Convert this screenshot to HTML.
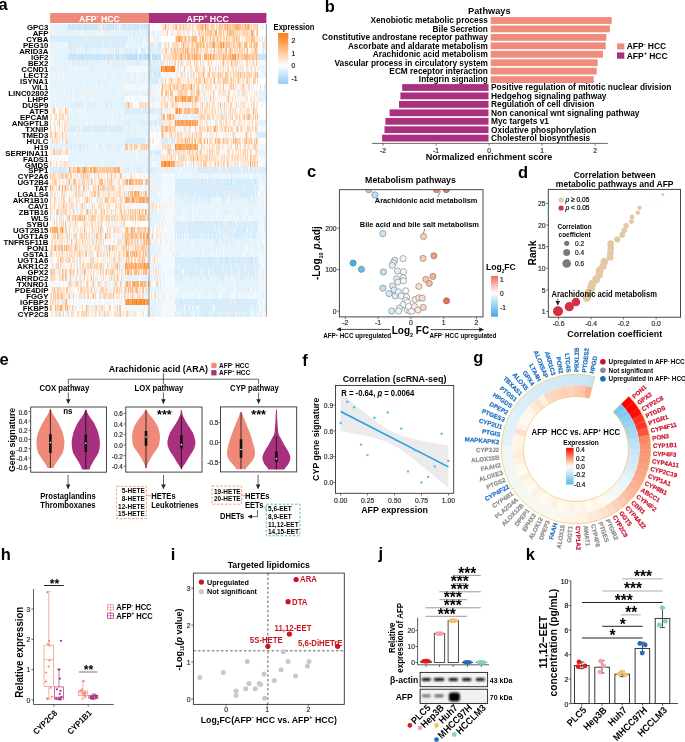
<!DOCTYPE html>
<html><head><meta charset="utf-8"><style>
html,body{margin:0;padding:0;background:#fff;}
svg{display:block;will-change:transform;opacity:0.999;font-family:"Liberation Sans",sans-serif;font-weight:bold;}
</style></head><body>
<svg width="685" height="742" viewBox="0 0 685 742">
<text x="-1.4" y="9.8" font-size="16.5" >a</text>
<rect x="50.1" y="13.0" width="98.9" height="10.0" fill="#ef8a7a" />
<rect x="149.0" y="13.0" width="117.4" height="10.0" fill="#a8307f" />
<text transform="translate(99.5,21.6) scale(1,1.08)" font-size="8.8" text-anchor="middle" fill="#fff" >AFP<tspan font-size="5.5" dy="-3.3">-</tspan><tspan dy="3.3"> </tspan>HCC</text>
<text transform="translate(207.7,21.6) scale(1,1.08)" font-size="8.8" text-anchor="middle" fill="#fff" >AFP<tspan font-size="5.5" dy="-3.3">+</tspan><tspan dy="3.3"> </tspan>HCC</text>
<text x="48.4" y="30.1" font-size="7.85" text-anchor="end" >GPC3</text>
<text x="48.4" y="36.1" font-size="7.85" text-anchor="end" >AFP</text>
<text x="48.4" y="42.0" font-size="7.85" text-anchor="end" >CYBA</text>
<text x="48.4" y="48.0" font-size="7.85" text-anchor="end" >PEG10</text>
<text x="48.4" y="54.0" font-size="7.85" text-anchor="end" >ARID3A</text>
<text x="48.4" y="60.0" font-size="7.85" text-anchor="end" >IGF2</text>
<text x="48.4" y="65.9" font-size="7.85" text-anchor="end" >BEX2</text>
<text x="48.4" y="71.9" font-size="7.85" text-anchor="end" >CCND1</text>
<text x="48.4" y="77.9" font-size="7.85" text-anchor="end" >LECT2</text>
<text x="48.4" y="83.8" font-size="7.85" text-anchor="end" >ISYNA1</text>
<text x="48.4" y="89.8" font-size="7.85" text-anchor="end" >VIL1</text>
<text x="48.4" y="95.8" font-size="7.85" text-anchor="end" >LINC02802</text>
<text x="48.4" y="101.8" font-size="7.85" text-anchor="end" >LHPP</text>
<text x="48.4" y="107.7" font-size="7.85" text-anchor="end" >DUSP9</text>
<text x="48.4" y="113.7" font-size="7.85" text-anchor="end" >ATF5</text>
<text x="48.4" y="119.7" font-size="7.85" text-anchor="end" >EPCAM</text>
<text x="48.4" y="125.7" font-size="7.85" text-anchor="end" >ANGPTL8</text>
<text x="48.4" y="131.6" font-size="7.85" text-anchor="end" >TXNIP</text>
<text x="48.4" y="137.6" font-size="7.85" text-anchor="end" >TMED3</text>
<text x="48.4" y="143.6" font-size="7.85" text-anchor="end" >HULC</text>
<text x="48.4" y="149.6" font-size="7.85" text-anchor="end" >H19</text>
<text x="48.4" y="155.5" font-size="7.85" text-anchor="end" >SERPINA11</text>
<text x="48.4" y="161.5" font-size="7.85" text-anchor="end" >FADS1</text>
<text x="48.4" y="167.5" font-size="7.85" text-anchor="end" >GMDS</text>
<text x="48.4" y="173.4" font-size="7.85" text-anchor="end" >SPP1</text>
<text x="48.4" y="179.4" font-size="7.85" text-anchor="end" >CYP2A6</text>
<text x="48.4" y="185.4" font-size="7.85" text-anchor="end" >UGT2B4</text>
<text x="48.4" y="191.4" font-size="7.85" text-anchor="end" >TAT</text>
<text x="48.4" y="197.3" font-size="7.85" text-anchor="end" >LGALS4</text>
<text x="48.4" y="203.3" font-size="7.85" text-anchor="end" >AKR1B10</text>
<text x="48.4" y="209.3" font-size="7.85" text-anchor="end" >CAV1</text>
<text x="48.4" y="215.3" font-size="7.85" text-anchor="end" >ZBTB16</text>
<text x="48.4" y="221.2" font-size="7.85" text-anchor="end" >WLS</text>
<text x="48.4" y="227.2" font-size="7.85" text-anchor="end" >SYBU</text>
<text x="48.4" y="233.2" font-size="7.85" text-anchor="end" >UGT2B15</text>
<text x="48.4" y="239.2" font-size="7.85" text-anchor="end" >UGT1A9</text>
<text x="48.4" y="245.1" font-size="7.85" text-anchor="end" >TNFRSF11B</text>
<text x="48.4" y="251.1" font-size="7.85" text-anchor="end" >PON1</text>
<text x="48.4" y="257.1" font-size="7.85" text-anchor="end" >GSTA1</text>
<text x="48.4" y="263.1" font-size="7.85" text-anchor="end" >UGT1A6</text>
<text x="48.4" y="269.0" font-size="7.85" text-anchor="end" >AKR1C2</text>
<text x="48.4" y="275.0" font-size="7.85" text-anchor="end" >GPX2</text>
<text x="48.4" y="281.0" font-size="7.85" text-anchor="end" >ARRDC2</text>
<text x="48.4" y="286.9" font-size="7.85" text-anchor="end" >TXNRD1</text>
<text x="48.4" y="292.9" font-size="7.85" text-anchor="end" >PDE4DIP</text>
<text x="48.4" y="298.9" font-size="7.85" text-anchor="end" >FGGY</text>
<text x="48.4" y="304.9" font-size="7.85" text-anchor="end" >IGFBP2</text>
<text x="48.4" y="310.8" font-size="7.85" text-anchor="end" >FKBP5</text>
<text x="48.4" y="316.8" font-size="7.85" text-anchor="end" >CYP2C8</text>
<g shape-rendering="crispEdges">
<path fill="#e4f3fc" d="M50.1 24.0h18.0v6.0h-18.0zM117.2 24.0h1.0v6.0h-1.0zM121.2 24.0h1.0v6.0h-1.0zM167.3 24.0h1.0v6.0h-1.0zM172.3 24.0h1.0v6.0h-1.0zM187.3 24.0h1.0v6.0h-1.0zM54.1 30.0h6.0v6.0h-6.0zM61.1 30.0h4.0v6.0h-4.0zM67.1 30.0h9.0v6.0h-9.0zM77.1 30.0h4.0v6.0h-4.0zM82.1 30.0h14.0v6.0h-14.0zM98.2 30.0h4.0v6.0h-4.0zM103.2 30.0h2.0v6.0h-2.0zM106.2 30.0h24.0v6.0h-24.0zM131.2 30.0h2.0v6.0h-2.0zM135.2 30.0h2.0v6.0h-2.0zM138.2 30.0h1.0v6.0h-1.0zM140.2 30.0h2.0v6.0h-2.0zM143.2 30.0h3.0v6.0h-3.0zM148.2 30.0h2.0v6.0h-2.0zM152.2 30.0h3.0v6.0h-3.0zM157.2 30.0h2.0v6.0h-2.0zM160.3 30.0h1.0v6.0h-1.0zM196.3 30.0h1.0v6.0h-1.0zM72.1 35.9h1.0v6.0h-1.0zM116.2 35.9h1.0v6.0h-1.0zM127.2 35.9h7.0v6.0h-7.0zM135.2 35.9h1.0v6.0h-1.0zM137.2 35.9h4.0v6.0h-4.0zM142.2 35.9h2.0v6.0h-2.0zM146.2 35.9h1.0v6.0h-1.0zM156.2 35.9h1.0v6.0h-1.0zM261.4 35.9h1.0v6.0h-1.0zM50.1 41.9h7.0v6.0h-7.0zM58.1 41.9h1.0v6.0h-1.0zM60.1 41.9h2.0v6.0h-2.0zM63.1 41.9h2.0v6.0h-2.0zM66.1 41.9h1.0v6.0h-1.0zM83.1 41.9h1.0v6.0h-1.0zM90.2 41.9h1.0v6.0h-1.0zM125.2 41.9h2.0v6.0h-2.0zM128.2 41.9h15.0v6.0h-15.0zM144.2 41.9h5.0v6.0h-5.0zM171.3 41.9h1.0v6.0h-1.0zM51.1 47.9h2.0v6.0h-2.0zM54.1 47.9h15.0v6.0h-15.0zM72.1 47.9h1.0v6.0h-1.0zM75.1 47.9h1.0v6.0h-1.0zM78.1 47.9h7.0v6.0h-7.0zM87.2 47.9h2.0v6.0h-2.0zM90.2 47.9h7.0v6.0h-7.0zM98.2 47.9h12.0v6.0h-12.0zM111.2 47.9h2.0v6.0h-2.0zM117.2 47.9h1.0v6.0h-1.0zM119.2 47.9h6.0v6.0h-6.0zM128.2 47.9h2.0v6.0h-2.0zM131.2 47.9h1.0v6.0h-1.0zM133.2 47.9h2.0v6.0h-2.0zM140.2 47.9h1.0v6.0h-1.0zM145.2 47.9h5.0v6.0h-5.0zM153.2 47.9h1.0v6.0h-1.0zM160.3 47.9h2.0v6.0h-2.0zM168.3 47.9h1.0v6.0h-1.0zM50.1 53.9h1.0v6.0h-1.0zM52.1 53.9h16.0v6.0h-16.0zM142.2 53.9h1.0v6.0h-1.0zM50.1 59.8h1.0v6.0h-1.0zM52.1 59.8h1.0v6.0h-1.0zM54.1 59.8h18.0v6.0h-18.0zM73.1 59.8h1.0v6.0h-1.0zM76.1 59.8h1.0v6.0h-1.0zM84.1 59.8h2.0v6.0h-2.0zM88.2 59.8h2.0v6.0h-2.0zM92.2 59.8h1.0v6.0h-1.0zM94.2 59.8h2.0v6.0h-2.0zM97.2 59.8h10.0v6.0h-10.0zM109.2 59.8h3.0v6.0h-3.0zM113.2 59.8h1.0v6.0h-1.0zM115.2 59.8h1.0v6.0h-1.0zM117.2 59.8h1.0v6.0h-1.0zM119.2 59.8h3.0v6.0h-3.0zM123.2 59.8h5.0v6.0h-5.0zM129.2 59.8h3.0v6.0h-3.0zM133.2 59.8h2.0v6.0h-2.0zM139.2 59.8h9.0v6.0h-9.0zM152.2 59.8h1.0v6.0h-1.0zM155.2 59.8h1.0v6.0h-1.0zM170.3 59.8h1.0v6.0h-1.0zM252.4 59.8h1.0v6.0h-1.0zM50.1 65.8h11.0v6.0h-11.0zM62.1 65.8h8.0v6.0h-8.0zM71.1 65.8h3.0v6.0h-3.0zM75.1 65.8h8.0v6.0h-8.0zM84.1 65.8h2.0v6.0h-2.0zM87.2 65.8h4.0v6.0h-4.0zM92.2 65.8h34.0v6.0h-34.0zM231.4 65.8h1.0v6.0h-1.0zM239.4 65.8h1.0v6.0h-1.0zM250.4 65.8h1.0v6.0h-1.0zM258.4 65.8h1.0v6.0h-1.0zM261.4 65.8h4.0v6.0h-4.0zM50.1 71.8h2.0v6.0h-2.0zM53.1 71.8h1.0v6.0h-1.0zM55.1 71.8h4.0v6.0h-4.0zM60.1 71.8h2.0v6.0h-2.0zM64.1 71.8h33.0v6.0h-33.0zM99.2 71.8h5.0v6.0h-5.0zM105.2 71.8h8.0v6.0h-8.0zM114.2 71.8h8.0v6.0h-8.0zM123.2 71.8h1.0v6.0h-1.0zM125.2 71.8h7.0v6.0h-7.0zM133.2 71.8h2.0v6.0h-2.0zM137.2 71.8h2.0v6.0h-2.0zM140.2 71.8h6.0v6.0h-6.0zM148.2 71.8h1.0v6.0h-1.0zM180.3 71.8h1.0v6.0h-1.0zM188.3 71.8h1.0v6.0h-1.0zM192.3 71.8h1.0v6.0h-1.0zM258.4 71.8h2.0v6.0h-2.0zM262.4 71.8h1.0v6.0h-1.0zM264.4 71.8h2.0v6.0h-2.0zM50.1 77.8h6.0v6.0h-6.0zM57.1 77.8h11.0v6.0h-11.0zM69.1 77.8h2.0v6.0h-2.0zM72.1 77.8h21.0v6.0h-21.0zM94.2 77.8h5.0v6.0h-5.0zM100.2 77.8h24.0v6.0h-24.0zM125.2 77.8h2.0v6.0h-2.0zM129.2 77.8h8.0v6.0h-8.0zM138.2 77.8h8.0v6.0h-8.0zM147.2 77.8h2.0v6.0h-2.0zM160.3 77.8h1.0v6.0h-1.0zM189.3 77.8h1.0v6.0h-1.0zM50.1 83.7h9.0v6.0h-9.0zM60.1 83.7h1.0v6.0h-1.0zM62.1 83.7h22.0v6.0h-22.0zM86.2 83.7h10.0v6.0h-10.0zM97.2 83.7h3.0v6.0h-3.0zM102.2 83.7h7.0v6.0h-7.0zM111.2 83.7h14.0v6.0h-14.0zM137.2 83.7h1.0v6.0h-1.0zM146.2 83.7h1.0v6.0h-1.0zM150.2 83.7h2.0v6.0h-2.0zM153.2 83.7h2.0v6.0h-2.0zM156.2 83.7h1.0v6.0h-1.0zM159.3 83.7h1.0v6.0h-1.0zM205.3 83.7h1.0v6.0h-1.0zM214.3 83.7h1.0v6.0h-1.0zM236.4 83.7h1.0v6.0h-1.0zM240.4 83.7h1.0v6.0h-1.0zM265.4 83.7h1.0v6.0h-1.0zM50.1 89.7h3.0v6.0h-3.0zM54.1 89.7h10.0v6.0h-10.0zM65.1 89.7h3.0v6.0h-3.0zM69.1 89.7h3.0v6.0h-3.0zM73.1 89.7h14.0v6.0h-14.0zM88.2 89.7h3.0v6.0h-3.0zM92.2 89.7h1.0v6.0h-1.0zM95.2 89.7h23.0v6.0h-23.0zM119.2 89.7h5.0v6.0h-5.0zM125.2 89.7h5.0v6.0h-5.0zM131.2 89.7h3.0v6.0h-3.0zM135.2 89.7h5.0v6.0h-5.0zM141.2 89.7h6.0v6.0h-6.0zM148.2 89.7h1.0v6.0h-1.0zM200.3 89.7h1.0v6.0h-1.0zM258.4 89.7h7.0v6.0h-7.0zM50.1 95.7h3.0v6.0h-3.0zM55.1 95.7h12.0v6.0h-12.0zM68.1 95.7h4.0v6.0h-4.0zM73.1 95.7h2.0v6.0h-2.0zM76.1 95.7h5.0v6.0h-5.0zM82.1 95.7h1.0v6.0h-1.0zM84.1 95.7h6.0v6.0h-6.0zM92.2 95.7h33.0v6.0h-33.0zM149.2 95.7h1.0v6.0h-1.0zM151.2 95.7h3.0v6.0h-3.0zM155.2 95.7h1.0v6.0h-1.0zM158.2 95.7h2.0v6.0h-2.0zM206.3 95.7h2.0v6.0h-2.0zM214.3 95.7h1.0v6.0h-1.0zM237.4 95.7h1.0v6.0h-1.0zM253.4 95.7h1.0v6.0h-1.0zM259.4 95.7h7.0v6.0h-7.0zM50.1 101.7h5.0v6.0h-5.0zM56.1 101.7h4.0v6.0h-4.0zM61.1 101.7h10.0v6.0h-10.0zM72.1 101.7h1.0v6.0h-1.0zM74.1 101.7h1.0v6.0h-1.0zM76.1 101.7h1.0v6.0h-1.0zM81.1 101.7h1.0v6.0h-1.0zM83.1 101.7h3.0v6.0h-3.0zM89.2 101.7h1.0v6.0h-1.0zM92.2 101.7h2.0v6.0h-2.0zM96.2 101.7h9.0v6.0h-9.0zM108.2 101.7h3.0v6.0h-3.0zM112.2 101.7h6.0v6.0h-6.0zM119.2 101.7h1.0v6.0h-1.0zM121.2 101.7h2.0v6.0h-2.0zM124.2 101.7h1.0v6.0h-1.0zM132.2 101.7h1.0v6.0h-1.0zM186.3 101.7h1.0v6.0h-1.0zM196.3 101.7h1.0v6.0h-1.0zM248.4 101.7h1.0v6.0h-1.0zM68.1 107.6h1.0v6.0h-1.0zM70.1 107.6h1.0v6.0h-1.0zM72.1 107.6h4.0v6.0h-4.0zM77.1 107.6h2.0v6.0h-2.0zM81.1 107.6h3.0v6.0h-3.0zM85.1 107.6h20.0v6.0h-20.0zM107.2 107.6h14.0v6.0h-14.0zM122.2 107.6h3.0v6.0h-3.0zM141.2 107.6h1.0v6.0h-1.0zM154.2 107.6h1.0v6.0h-1.0zM159.3 107.6h1.0v6.0h-1.0zM163.3 107.6h1.0v6.0h-1.0zM165.3 107.6h3.0v6.0h-3.0zM68.1 113.6h9.0v6.0h-9.0zM79.1 113.6h2.0v6.0h-2.0zM82.1 113.6h1.0v6.0h-1.0zM84.1 113.6h3.0v6.0h-3.0zM88.2 113.6h21.0v6.0h-21.0zM110.2 113.6h2.0v6.0h-2.0zM113.2 113.6h3.0v6.0h-3.0zM117.2 113.6h5.0v6.0h-5.0zM123.2 113.6h26.0v6.0h-26.0zM152.2 113.6h1.0v6.0h-1.0zM155.2 113.6h1.0v6.0h-1.0zM157.2 113.6h4.0v6.0h-4.0zM175.3 113.6h6.0v6.0h-6.0zM182.3 113.6h7.0v6.0h-7.0zM191.3 113.6h7.0v6.0h-7.0zM245.4 113.6h1.0v6.0h-1.0zM252.4 113.6h1.0v6.0h-1.0zM57.1 119.6h2.0v6.0h-2.0zM69.1 119.6h18.0v6.0h-18.0zM88.2 119.6h4.0v6.0h-4.0zM93.2 119.6h13.0v6.0h-13.0zM108.2 119.6h3.0v6.0h-3.0zM112.2 119.6h1.0v6.0h-1.0zM114.2 119.6h11.0v6.0h-11.0zM126.2 119.6h2.0v6.0h-2.0zM129.2 119.6h11.0v6.0h-11.0zM142.2 119.6h1.0v6.0h-1.0zM145.2 119.6h2.0v6.0h-2.0zM148.2 119.6h1.0v6.0h-1.0zM152.2 119.6h2.0v6.0h-2.0zM157.2 119.6h2.0v6.0h-2.0zM166.3 119.6h1.0v6.0h-1.0zM207.3 119.6h1.0v6.0h-1.0zM210.3 119.6h1.0v6.0h-1.0zM237.4 119.6h1.0v6.0h-1.0zM258.4 119.6h8.0v6.0h-8.0zM69.1 125.5h1.0v6.0h-1.0zM92.2 125.5h1.0v6.0h-1.0zM107.2 125.5h1.0v6.0h-1.0zM123.2 125.5h1.0v6.0h-1.0zM125.2 125.5h3.0v6.0h-3.0zM129.2 125.5h6.0v6.0h-6.0zM136.2 125.5h13.0v6.0h-13.0zM151.2 125.5h2.0v6.0h-2.0zM155.2 125.5h1.0v6.0h-1.0zM158.2 125.5h1.0v6.0h-1.0zM188.3 125.5h1.0v6.0h-1.0zM68.1 131.5h6.0v6.0h-6.0zM75.1 131.5h3.0v6.0h-3.0zM79.1 131.5h1.0v6.0h-1.0zM81.1 131.5h5.0v6.0h-5.0zM87.2 131.5h3.0v6.0h-3.0zM91.2 131.5h7.0v6.0h-7.0zM99.2 131.5h10.0v6.0h-10.0zM110.2 131.5h6.0v6.0h-6.0zM117.2 131.5h6.0v6.0h-6.0zM124.2 131.5h5.0v6.0h-5.0zM130.2 131.5h7.0v6.0h-7.0zM138.2 131.5h7.0v6.0h-7.0zM146.2 131.5h3.0v6.0h-3.0zM195.3 131.5h1.0v6.0h-1.0zM223.3 131.5h1.0v6.0h-1.0zM235.4 131.5h1.0v6.0h-1.0zM237.4 131.5h1.0v6.0h-1.0zM257.4 131.5h1.0v6.0h-1.0zM55.1 137.5h1.0v6.0h-1.0zM68.1 137.5h57.1v6.0h-57.1zM149.2 137.5h1.0v6.0h-1.0zM152.2 137.5h1.0v6.0h-1.0zM50.1 143.5h11.0v6.0h-11.0zM62.1 143.5h2.0v6.0h-2.0zM69.1 143.5h2.0v6.0h-2.0zM72.1 143.5h2.0v6.0h-2.0zM76.1 143.5h2.0v6.0h-2.0zM82.1 143.5h1.0v6.0h-1.0zM84.1 143.5h3.0v6.0h-3.0zM88.2 143.5h8.0v6.0h-8.0zM97.2 143.5h2.0v6.0h-2.0zM100.2 143.5h1.0v6.0h-1.0zM102.2 143.5h4.0v6.0h-4.0zM107.2 143.5h1.0v6.0h-1.0zM109.2 143.5h1.0v6.0h-1.0zM111.2 143.5h5.0v6.0h-5.0zM117.2 143.5h1.0v6.0h-1.0zM119.2 143.5h2.0v6.0h-2.0zM123.2 143.5h2.0v6.0h-2.0zM227.3 143.5h1.0v6.0h-1.0zM252.4 143.5h1.0v6.0h-1.0zM69.1 149.4h11.0v6.0h-11.0zM81.1 149.4h8.0v6.0h-8.0zM90.2 149.4h6.0v6.0h-6.0zM97.2 149.4h7.0v6.0h-7.0zM105.2 149.4h16.0v6.0h-16.0zM122.2 149.4h11.0v6.0h-11.0zM134.2 149.4h2.0v6.0h-2.0zM138.2 149.4h9.0v6.0h-9.0zM152.2 149.4h2.0v6.0h-2.0zM162.3 149.4h1.0v6.0h-1.0zM170.3 149.4h1.0v6.0h-1.0zM194.3 149.4h1.0v6.0h-1.0zM258.4 149.4h8.0v6.0h-8.0zM68.1 155.4h33.0v6.0h-33.0zM102.2 155.4h15.0v6.0h-15.0zM118.2 155.4h11.0v6.0h-11.0zM130.2 155.4h6.0v6.0h-6.0zM137.2 155.4h1.0v6.0h-1.0zM139.2 155.4h2.0v6.0h-2.0zM142.2 155.4h19.0v6.0h-19.0zM68.1 161.4h4.0v6.0h-4.0zM73.1 161.4h2.0v6.0h-2.0zM76.1 161.4h2.0v6.0h-2.0zM79.1 161.4h3.0v6.0h-3.0zM83.1 161.4h20.0v6.0h-20.0zM104.2 161.4h2.0v6.0h-2.0zM107.2 161.4h13.0v6.0h-13.0zM121.2 161.4h11.0v6.0h-11.0zM133.2 161.4h19.0v6.0h-19.0zM156.2 161.4h1.0v6.0h-1.0zM158.2 161.4h2.0v6.0h-2.0zM186.3 161.4h1.0v6.0h-1.0zM190.3 161.4h1.0v6.0h-1.0zM196.3 161.4h1.0v6.0h-1.0zM199.3 161.4h1.0v6.0h-1.0zM229.3 161.4h1.0v6.0h-1.0zM236.4 161.4h1.0v6.0h-1.0zM241.4 161.4h1.0v6.0h-1.0zM67.1 167.4h1.0v6.0h-1.0zM120.2 167.4h5.0v6.0h-5.0zM129.2 167.4h3.0v6.0h-3.0zM133.2 167.4h4.0v6.0h-4.0zM141.2 167.4h6.0v6.0h-6.0zM148.2 167.4h1.0v6.0h-1.0zM154.2 167.4h1.0v6.0h-1.0zM157.2 167.4h3.0v6.0h-3.0zM161.3 167.4h6.0v6.0h-6.0zM168.3 167.4h3.0v6.0h-3.0zM172.3 167.4h8.0v6.0h-8.0zM181.3 167.4h17.0v6.0h-17.0zM210.3 167.4h1.0v6.0h-1.0zM218.3 167.4h1.0v6.0h-1.0zM225.3 167.4h1.0v6.0h-1.0zM227.3 167.4h1.0v6.0h-1.0zM253.4 167.4h1.0v6.0h-1.0zM256.4 167.4h1.0v6.0h-1.0zM259.4 167.4h1.0v6.0h-1.0zM82.1 173.3h1.0v6.0h-1.0zM91.2 173.3h1.0v6.0h-1.0zM119.2 173.3h1.0v6.0h-1.0zM124.2 173.3h1.0v6.0h-1.0zM130.2 173.3h1.0v6.0h-1.0zM149.2 173.3h1.0v6.0h-1.0zM151.2 173.3h7.0v6.0h-7.0zM159.3 173.3h2.0v6.0h-2.0zM175.3 173.3h3.0v6.0h-3.0zM180.3 173.3h3.0v6.0h-3.0zM184.3 173.3h1.0v6.0h-1.0zM187.3 173.3h1.0v6.0h-1.0zM190.3 173.3h7.0v6.0h-7.0zM198.3 173.3h1.0v6.0h-1.0zM201.3 173.3h3.0v6.0h-3.0zM206.3 173.3h1.0v6.0h-1.0zM208.3 173.3h4.0v6.0h-4.0zM213.3 173.3h1.0v6.0h-1.0zM215.3 173.3h2.0v6.0h-2.0zM219.3 173.3h1.0v6.0h-1.0zM221.3 173.3h2.0v6.0h-2.0zM224.3 173.3h5.0v6.0h-5.0zM230.3 173.3h1.0v6.0h-1.0zM232.4 173.3h7.0v6.0h-7.0zM240.4 173.3h2.0v6.0h-2.0zM243.4 173.3h2.0v6.0h-2.0zM246.4 173.3h4.0v6.0h-4.0zM253.4 173.3h5.0v6.0h-5.0zM260.4 173.3h5.0v6.0h-5.0zM62.1 179.3h1.0v6.0h-1.0zM64.1 179.3h1.0v6.0h-1.0zM67.1 179.3h1.0v6.0h-1.0zM72.1 179.3h1.0v6.0h-1.0zM80.1 179.3h2.0v6.0h-2.0zM89.2 179.3h2.0v6.0h-2.0zM112.2 179.3h1.0v6.0h-1.0zM122.2 179.3h1.0v6.0h-1.0zM128.2 179.3h1.0v6.0h-1.0zM144.2 179.3h1.0v6.0h-1.0zM150.2 179.3h5.0v6.0h-5.0zM156.2 179.3h5.0v6.0h-5.0zM214.3 179.3h1.0v6.0h-1.0zM233.4 179.3h1.0v6.0h-1.0zM252.4 179.3h1.0v6.0h-1.0zM258.4 179.3h1.0v6.0h-1.0zM260.4 179.3h1.0v6.0h-1.0zM263.4 179.3h2.0v6.0h-2.0zM72.1 185.3h1.0v6.0h-1.0zM89.2 185.3h1.0v6.0h-1.0zM99.2 185.3h1.0v6.0h-1.0zM105.2 185.3h1.0v6.0h-1.0zM130.2 185.3h1.0v6.0h-1.0zM138.2 185.3h1.0v6.0h-1.0zM144.2 185.3h1.0v6.0h-1.0zM146.2 185.3h1.0v6.0h-1.0zM149.2 185.3h1.0v6.0h-1.0zM151.2 185.3h1.0v6.0h-1.0zM153.2 185.3h8.0v6.0h-8.0zM244.4 185.3h1.0v6.0h-1.0zM255.4 185.3h1.0v6.0h-1.0zM259.4 185.3h1.0v6.0h-1.0zM264.4 185.3h1.0v6.0h-1.0zM55.1 191.3h1.0v6.0h-1.0zM66.1 191.3h1.0v6.0h-1.0zM71.1 191.3h1.0v6.0h-1.0zM77.1 191.3h1.0v6.0h-1.0zM83.1 191.3h1.0v6.0h-1.0zM87.2 191.3h1.0v6.0h-1.0zM102.2 191.3h1.0v6.0h-1.0zM107.2 191.3h1.0v6.0h-1.0zM110.2 191.3h1.0v6.0h-1.0zM125.2 191.3h1.0v6.0h-1.0zM127.2 191.3h1.0v6.0h-1.0zM129.2 191.3h1.0v6.0h-1.0zM140.2 191.3h1.0v6.0h-1.0zM148.2 191.3h4.0v6.0h-4.0zM153.2 191.3h5.0v6.0h-5.0zM160.3 191.3h1.0v6.0h-1.0zM177.3 191.3h2.0v6.0h-2.0zM180.3 191.3h1.0v6.0h-1.0zM184.3 191.3h1.0v6.0h-1.0zM186.3 191.3h1.0v6.0h-1.0zM189.3 191.3h1.0v6.0h-1.0zM216.3 191.3h1.0v6.0h-1.0zM228.3 191.3h2.0v6.0h-2.0zM233.4 191.3h1.0v6.0h-1.0zM238.4 191.3h1.0v6.0h-1.0zM251.4 191.3h1.0v6.0h-1.0zM58.1 197.2h2.0v6.0h-2.0zM71.1 197.2h1.0v6.0h-1.0zM79.1 197.2h1.0v6.0h-1.0zM99.2 197.2h1.0v6.0h-1.0zM101.2 197.2h1.0v6.0h-1.0zM118.2 197.2h1.0v6.0h-1.0zM149.2 197.2h5.0v6.0h-5.0zM155.2 197.2h5.0v6.0h-5.0zM175.3 197.2h6.0v6.0h-6.0zM182.3 197.2h3.0v6.0h-3.0zM186.3 197.2h2.0v6.0h-2.0zM189.3 197.2h1.0v6.0h-1.0zM191.3 197.2h3.0v6.0h-3.0zM195.3 197.2h1.0v6.0h-1.0zM198.3 197.2h3.0v6.0h-3.0zM202.3 197.2h2.0v6.0h-2.0zM205.3 197.2h2.0v6.0h-2.0zM210.3 197.2h7.0v6.0h-7.0zM218.3 197.2h1.0v6.0h-1.0zM220.3 197.2h2.0v6.0h-2.0zM224.3 197.2h1.0v6.0h-1.0zM226.3 197.2h1.0v6.0h-1.0zM228.3 197.2h3.0v6.0h-3.0zM232.4 197.2h5.0v6.0h-5.0zM238.4 197.2h5.0v6.0h-5.0zM246.4 197.2h2.0v6.0h-2.0zM249.4 197.2h1.0v6.0h-1.0zM251.4 197.2h3.0v6.0h-3.0zM255.4 197.2h5.0v6.0h-5.0zM261.4 197.2h1.0v6.0h-1.0zM263.4 197.2h1.0v6.0h-1.0zM77.1 203.2h1.0v6.0h-1.0zM83.1 203.2h1.0v6.0h-1.0zM86.2 203.2h1.0v6.0h-1.0zM90.2 203.2h1.0v6.0h-1.0zM149.2 203.2h1.0v6.0h-1.0zM175.3 203.2h23.0v6.0h-23.0zM199.3 203.2h8.0v6.0h-8.0zM208.3 203.2h11.0v6.0h-11.0zM220.3 203.2h20.0v6.0h-20.0zM241.4 203.2h17.0v6.0h-17.0zM260.4 203.2h1.0v6.0h-1.0zM262.4 203.2h2.0v6.0h-2.0zM54.1 209.2h1.0v6.0h-1.0zM76.1 209.2h3.0v6.0h-3.0zM85.1 209.2h1.0v6.0h-1.0zM91.2 209.2h1.0v6.0h-1.0zM108.2 209.2h1.0v6.0h-1.0zM127.2 209.2h1.0v6.0h-1.0zM131.2 209.2h1.0v6.0h-1.0zM138.2 209.2h1.0v6.0h-1.0zM149.2 209.2h3.0v6.0h-3.0zM153.2 209.2h5.0v6.0h-5.0zM159.3 209.2h2.0v6.0h-2.0zM175.3 209.2h8.0v6.0h-8.0zM184.3 209.2h1.0v6.0h-1.0zM186.3 209.2h6.0v6.0h-6.0zM193.3 209.2h3.0v6.0h-3.0zM197.3 209.2h19.0v6.0h-19.0zM217.3 209.2h2.0v6.0h-2.0zM220.3 209.2h5.0v6.0h-5.0zM226.3 209.2h7.0v6.0h-7.0zM234.4 209.2h11.0v6.0h-11.0zM246.4 209.2h1.0v6.0h-1.0zM248.4 209.2h7.0v6.0h-7.0zM256.4 209.2h2.0v6.0h-2.0zM259.4 209.2h5.0v6.0h-5.0zM52.1 215.2h3.0v6.0h-3.0zM57.1 215.2h1.0v6.0h-1.0zM62.1 215.2h1.0v6.0h-1.0zM71.1 215.2h1.0v6.0h-1.0zM89.2 215.2h1.0v6.0h-1.0zM110.2 215.2h1.0v6.0h-1.0zM126.2 215.2h1.0v6.0h-1.0zM148.2 215.2h3.0v6.0h-3.0zM152.2 215.2h9.0v6.0h-9.0zM176.3 215.2h3.0v6.0h-3.0zM181.3 215.2h1.0v6.0h-1.0zM185.3 215.2h2.0v6.0h-2.0zM188.3 215.2h4.0v6.0h-4.0zM194.3 215.2h4.0v6.0h-4.0zM199.3 215.2h2.0v6.0h-2.0zM204.3 215.2h2.0v6.0h-2.0zM207.3 215.2h4.0v6.0h-4.0zM213.3 215.2h1.0v6.0h-1.0zM215.3 215.2h1.0v6.0h-1.0zM218.3 215.2h3.0v6.0h-3.0zM222.3 215.2h2.0v6.0h-2.0zM225.3 215.2h1.0v6.0h-1.0zM227.3 215.2h1.0v6.0h-1.0zM231.4 215.2h2.0v6.0h-2.0zM236.4 215.2h1.0v6.0h-1.0zM239.4 215.2h3.0v6.0h-3.0zM244.4 215.2h1.0v6.0h-1.0zM246.4 215.2h2.0v6.0h-2.0zM250.4 215.2h1.0v6.0h-1.0zM252.4 215.2h1.0v6.0h-1.0zM254.4 215.2h3.0v6.0h-3.0zM259.4 215.2h1.0v6.0h-1.0zM262.4 215.2h1.0v6.0h-1.0zM264.4 215.2h2.0v6.0h-2.0zM68.1 221.1h2.0v6.0h-2.0zM99.2 221.1h1.0v6.0h-1.0zM114.2 221.1h1.0v6.0h-1.0zM120.2 221.1h1.0v6.0h-1.0zM149.2 221.1h7.0v6.0h-7.0zM157.2 221.1h3.0v6.0h-3.0zM183.3 221.1h1.0v6.0h-1.0zM241.4 221.1h1.0v6.0h-1.0zM259.4 221.1h2.0v6.0h-2.0zM264.4 221.1h2.0v6.0h-2.0zM64.1 227.1h1.0v6.0h-1.0zM76.1 227.1h1.0v6.0h-1.0zM86.2 227.1h1.0v6.0h-1.0zM103.2 227.1h1.0v6.0h-1.0zM119.2 227.1h2.0v6.0h-2.0zM135.2 227.1h2.0v6.0h-2.0zM152.2 227.1h1.0v6.0h-1.0zM215.3 227.1h1.0v6.0h-1.0zM246.4 227.1h1.0v6.0h-1.0zM252.4 227.1h1.0v6.0h-1.0zM261.4 227.1h2.0v6.0h-2.0zM264.4 227.1h2.0v6.0h-2.0zM68.1 233.1h1.0v6.0h-1.0zM77.1 233.1h1.0v6.0h-1.0zM90.2 233.1h2.0v6.0h-2.0zM95.2 233.1h1.0v6.0h-1.0zM102.2 233.1h1.0v6.0h-1.0zM151.2 233.1h1.0v6.0h-1.0zM165.3 233.1h1.0v6.0h-1.0zM179.3 233.1h1.0v6.0h-1.0zM182.3 233.1h1.0v6.0h-1.0zM186.3 233.1h3.0v6.0h-3.0zM197.3 233.1h1.0v6.0h-1.0zM200.3 233.1h1.0v6.0h-1.0zM202.3 233.1h2.0v6.0h-2.0zM208.3 233.1h1.0v6.0h-1.0zM212.3 233.1h1.0v6.0h-1.0zM216.3 233.1h1.0v6.0h-1.0zM219.3 233.1h1.0v6.0h-1.0zM223.3 233.1h1.0v6.0h-1.0zM225.3 233.1h3.0v6.0h-3.0zM230.3 233.1h1.0v6.0h-1.0zM232.4 233.1h1.0v6.0h-1.0zM241.4 233.1h1.0v6.0h-1.0zM243.4 233.1h1.0v6.0h-1.0zM245.4 233.1h2.0v6.0h-2.0zM250.4 233.1h2.0v6.0h-2.0zM256.4 233.1h3.0v6.0h-3.0zM260.4 233.1h1.0v6.0h-1.0zM262.4 233.1h1.0v6.0h-1.0zM68.1 239.0h1.0v6.0h-1.0zM70.1 239.0h1.0v6.0h-1.0zM72.1 239.0h1.0v6.0h-1.0zM79.1 239.0h1.0v6.0h-1.0zM90.2 239.0h1.0v6.0h-1.0zM94.2 239.0h2.0v6.0h-2.0zM97.2 239.0h1.0v6.0h-1.0zM105.2 239.0h1.0v6.0h-1.0zM113.2 239.0h1.0v6.0h-1.0zM122.2 239.0h2.0v6.0h-2.0zM136.2 239.0h1.0v6.0h-1.0zM142.2 239.0h1.0v6.0h-1.0zM157.2 239.0h1.0v6.0h-1.0zM175.3 239.0h5.0v6.0h-5.0zM181.3 239.0h3.0v6.0h-3.0zM185.3 239.0h8.0v6.0h-8.0zM194.3 239.0h18.0v6.0h-18.0zM213.3 239.0h1.0v6.0h-1.0zM215.3 239.0h1.0v6.0h-1.0zM218.3 239.0h9.0v6.0h-9.0zM228.3 239.0h3.0v6.0h-3.0zM232.4 239.0h1.0v6.0h-1.0zM234.4 239.0h18.0v6.0h-18.0zM253.4 239.0h4.0v6.0h-4.0zM259.4 239.0h2.0v6.0h-2.0zM63.1 245.0h1.0v6.0h-1.0zM102.2 245.0h1.0v6.0h-1.0zM107.2 245.0h1.0v6.0h-1.0zM111.2 245.0h1.0v6.0h-1.0zM129.2 245.0h1.0v6.0h-1.0zM149.2 245.0h7.0v6.0h-7.0zM157.2 245.0h4.0v6.0h-4.0zM175.3 245.0h1.0v6.0h-1.0zM177.3 245.0h15.0v6.0h-15.0zM193.3 245.0h10.0v6.0h-10.0zM204.3 245.0h11.0v6.0h-11.0zM216.3 245.0h7.0v6.0h-7.0zM224.3 245.0h13.0v6.0h-13.0zM238.4 245.0h5.0v6.0h-5.0zM244.4 245.0h2.0v6.0h-2.0zM248.4 245.0h4.0v6.0h-4.0zM253.4 245.0h5.0v6.0h-5.0zM260.4 245.0h4.0v6.0h-4.0zM52.1 251.0h1.0v6.0h-1.0zM63.1 251.0h1.0v6.0h-1.0zM66.1 251.0h1.0v6.0h-1.0zM76.1 251.0h1.0v6.0h-1.0zM84.1 251.0h1.0v6.0h-1.0zM88.2 251.0h1.0v6.0h-1.0zM91.2 251.0h1.0v6.0h-1.0zM96.2 251.0h1.0v6.0h-1.0zM101.2 251.0h1.0v6.0h-1.0zM105.2 251.0h2.0v6.0h-2.0zM125.2 251.0h1.0v6.0h-1.0zM141.2 251.0h1.0v6.0h-1.0zM144.2 251.0h1.0v6.0h-1.0zM149.2 251.0h7.0v6.0h-7.0zM157.2 251.0h4.0v6.0h-4.0zM175.3 251.0h6.0v6.0h-6.0zM182.3 251.0h1.0v6.0h-1.0zM184.3 251.0h18.0v6.0h-18.0zM204.3 251.0h7.0v6.0h-7.0zM212.3 251.0h1.0v6.0h-1.0zM214.3 251.0h2.0v6.0h-2.0zM217.3 251.0h2.0v6.0h-2.0zM220.3 251.0h3.0v6.0h-3.0zM224.3 251.0h1.0v6.0h-1.0zM226.3 251.0h4.0v6.0h-4.0zM231.4 251.0h12.0v6.0h-12.0zM245.4 251.0h5.0v6.0h-5.0zM252.4 251.0h1.0v6.0h-1.0zM254.4 251.0h3.0v6.0h-3.0zM258.4 251.0h1.0v6.0h-1.0zM262.4 251.0h1.0v6.0h-1.0zM264.4 251.0h1.0v6.0h-1.0zM50.1 257.0h1.0v6.0h-1.0zM74.1 257.0h1.0v6.0h-1.0zM76.1 257.0h1.0v6.0h-1.0zM82.1 257.0h1.0v6.0h-1.0zM95.2 257.0h1.0v6.0h-1.0zM103.2 257.0h1.0v6.0h-1.0zM105.2 257.0h3.0v6.0h-3.0zM112.2 257.0h1.0v6.0h-1.0zM115.2 257.0h1.0v6.0h-1.0zM120.2 257.0h1.0v6.0h-1.0zM145.2 257.0h1.0v6.0h-1.0zM148.2 257.0h1.0v6.0h-1.0zM152.2 257.0h1.0v6.0h-1.0zM155.2 257.0h1.0v6.0h-1.0zM178.3 257.0h1.0v6.0h-1.0zM217.3 257.0h1.0v6.0h-1.0zM258.4 257.0h1.0v6.0h-1.0zM263.4 257.0h1.0v6.0h-1.0zM265.4 257.0h1.0v6.0h-1.0zM54.1 262.9h2.0v6.0h-2.0zM61.1 262.9h1.0v6.0h-1.0zM63.1 262.9h2.0v6.0h-2.0zM93.2 262.9h1.0v6.0h-1.0zM105.2 262.9h1.0v6.0h-1.0zM118.2 262.9h1.0v6.0h-1.0zM120.2 262.9h1.0v6.0h-1.0zM122.2 262.9h1.0v6.0h-1.0zM124.2 262.9h1.0v6.0h-1.0zM149.2 262.9h3.0v6.0h-3.0zM153.2 262.9h8.0v6.0h-8.0zM178.3 262.9h2.0v6.0h-2.0zM190.3 262.9h1.0v6.0h-1.0zM195.3 262.9h1.0v6.0h-1.0zM223.3 262.9h1.0v6.0h-1.0zM231.4 262.9h1.0v6.0h-1.0zM254.4 262.9h1.0v6.0h-1.0zM258.4 262.9h3.0v6.0h-3.0zM264.4 262.9h1.0v6.0h-1.0zM55.1 268.9h1.0v6.0h-1.0zM57.1 268.9h1.0v6.0h-1.0zM60.1 268.9h1.0v6.0h-1.0zM76.1 268.9h1.0v6.0h-1.0zM83.1 268.9h1.0v6.0h-1.0zM96.2 268.9h1.0v6.0h-1.0zM109.2 268.9h1.0v6.0h-1.0zM159.3 268.9h2.0v6.0h-2.0zM180.3 268.9h1.0v6.0h-1.0zM187.3 268.9h1.0v6.0h-1.0zM197.3 268.9h1.0v6.0h-1.0zM200.3 268.9h1.0v6.0h-1.0zM202.3 268.9h1.0v6.0h-1.0zM212.3 268.9h1.0v6.0h-1.0zM225.3 268.9h1.0v6.0h-1.0zM231.4 268.9h1.0v6.0h-1.0zM248.4 268.9h1.0v6.0h-1.0zM255.4 268.9h1.0v6.0h-1.0zM260.4 268.9h1.0v6.0h-1.0zM262.4 268.9h2.0v6.0h-2.0zM265.4 268.9h1.0v6.0h-1.0zM64.1 274.9h1.0v6.0h-1.0zM73.1 274.9h1.0v6.0h-1.0zM81.1 274.9h1.0v6.0h-1.0zM83.1 274.9h1.0v6.0h-1.0zM95.2 274.9h2.0v6.0h-2.0zM99.2 274.9h1.0v6.0h-1.0zM108.2 274.9h1.0v6.0h-1.0zM110.2 274.9h1.0v6.0h-1.0zM113.2 274.9h1.0v6.0h-1.0zM125.2 274.9h15.0v6.0h-15.0zM141.2 274.9h12.0v6.0h-12.0zM154.2 274.9h1.0v6.0h-1.0zM156.2 274.9h1.0v6.0h-1.0zM158.2 274.9h3.0v6.0h-3.0zM176.3 274.9h1.0v6.0h-1.0zM178.3 274.9h2.0v6.0h-2.0zM182.3 274.9h8.0v6.0h-8.0zM191.3 274.9h6.0v6.0h-6.0zM198.3 274.9h2.0v6.0h-2.0zM201.3 274.9h6.0v6.0h-6.0zM209.3 274.9h9.0v6.0h-9.0zM219.3 274.9h1.0v6.0h-1.0zM221.3 274.9h1.0v6.0h-1.0zM224.3 274.9h2.0v6.0h-2.0zM227.3 274.9h1.0v6.0h-1.0zM229.3 274.9h8.0v6.0h-8.0zM238.4 274.9h2.0v6.0h-2.0zM243.4 274.9h2.0v6.0h-2.0zM246.4 274.9h3.0v6.0h-3.0zM250.4 274.9h3.0v6.0h-3.0zM254.4 274.9h4.0v6.0h-4.0zM261.4 274.9h4.0v6.0h-4.0zM72.1 280.9h2.0v6.0h-2.0zM83.1 280.9h1.0v6.0h-1.0zM104.2 280.9h1.0v6.0h-1.0zM110.2 280.9h1.0v6.0h-1.0zM112.2 280.9h1.0v6.0h-1.0zM114.2 280.9h1.0v6.0h-1.0zM118.2 280.9h1.0v6.0h-1.0zM122.2 280.9h1.0v6.0h-1.0zM139.2 280.9h1.0v6.0h-1.0zM147.2 280.9h1.0v6.0h-1.0zM155.2 280.9h1.0v6.0h-1.0zM158.2 280.9h1.0v6.0h-1.0zM175.3 280.9h21.0v6.0h-21.0zM197.3 280.9h16.0v6.0h-16.0zM214.3 280.9h6.0v6.0h-6.0zM221.3 280.9h13.0v6.0h-13.0zM235.4 280.9h23.0v6.0h-23.0zM260.4 280.9h1.0v6.0h-1.0zM263.4 280.9h1.0v6.0h-1.0zM53.1 286.8h1.0v6.0h-1.0zM95.2 286.8h1.0v6.0h-1.0zM98.2 286.8h1.0v6.0h-1.0zM110.2 286.8h1.0v6.0h-1.0zM122.2 286.8h1.0v6.0h-1.0zM127.2 286.8h1.0v6.0h-1.0zM138.2 286.8h2.0v6.0h-2.0zM145.2 286.8h1.0v6.0h-1.0zM147.2 286.8h1.0v6.0h-1.0zM149.2 286.8h12.0v6.0h-12.0zM175.3 286.8h1.0v6.0h-1.0zM178.3 286.8h7.0v6.0h-7.0zM186.3 286.8h8.0v6.0h-8.0zM195.3 286.8h2.0v6.0h-2.0zM198.3 286.8h3.0v6.0h-3.0zM202.3 286.8h20.0v6.0h-20.0zM223.3 286.8h1.0v6.0h-1.0zM225.3 286.8h9.0v6.0h-9.0zM235.4 286.8h13.0v6.0h-13.0zM249.4 286.8h1.0v6.0h-1.0zM252.4 286.8h3.0v6.0h-3.0zM256.4 286.8h3.0v6.0h-3.0zM261.4 286.8h1.0v6.0h-1.0zM263.4 286.8h2.0v6.0h-2.0zM71.1 292.8h1.0v6.0h-1.0zM98.2 292.8h2.0v6.0h-2.0zM118.2 292.8h1.0v6.0h-1.0zM131.2 292.8h1.0v6.0h-1.0zM134.2 292.8h1.0v6.0h-1.0zM145.2 292.8h5.0v6.0h-5.0zM176.3 292.8h7.0v6.0h-7.0zM184.3 292.8h2.0v6.0h-2.0zM188.3 292.8h1.0v6.0h-1.0zM191.3 292.8h1.0v6.0h-1.0zM193.3 292.8h3.0v6.0h-3.0zM197.3 292.8h1.0v6.0h-1.0zM201.3 292.8h4.0v6.0h-4.0zM206.3 292.8h2.0v6.0h-2.0zM209.3 292.8h1.0v6.0h-1.0zM213.3 292.8h6.0v6.0h-6.0zM222.3 292.8h6.0v6.0h-6.0zM229.3 292.8h2.0v6.0h-2.0zM235.4 292.8h4.0v6.0h-4.0zM242.4 292.8h1.0v6.0h-1.0zM244.4 292.8h3.0v6.0h-3.0zM252.4 292.8h1.0v6.0h-1.0zM258.4 292.8h1.0v6.0h-1.0zM261.4 292.8h3.0v6.0h-3.0zM265.4 292.8h1.0v6.0h-1.0zM54.1 298.8h1.0v6.0h-1.0zM59.1 298.8h2.0v6.0h-2.0zM149.2 298.8h7.0v6.0h-7.0zM157.2 298.8h4.0v6.0h-4.0zM217.3 298.8h1.0v6.0h-1.0zM231.4 298.8h1.0v6.0h-1.0zM260.4 298.8h1.0v6.0h-1.0zM262.4 298.8h1.0v6.0h-1.0zM265.4 298.8h1.0v6.0h-1.0zM79.1 304.8h1.0v6.0h-1.0zM94.2 304.8h1.0v6.0h-1.0zM98.2 304.8h1.0v6.0h-1.0zM100.2 304.8h1.0v6.0h-1.0zM125.2 304.8h1.0v6.0h-1.0zM144.2 304.8h1.0v6.0h-1.0zM149.2 304.8h9.0v6.0h-9.0zM159.3 304.8h2.0v6.0h-2.0zM212.3 304.8h1.0v6.0h-1.0zM253.4 304.8h1.0v6.0h-1.0zM256.4 304.8h1.0v6.0h-1.0zM258.4 304.8h1.0v6.0h-1.0zM261.4 304.8h2.0v6.0h-2.0zM264.4 304.8h2.0v6.0h-2.0zM62.1 310.7h1.0v6.0h-1.0zM65.1 310.7h3.0v6.0h-3.0zM98.2 310.7h1.0v6.0h-1.0zM109.2 310.7h1.0v6.0h-1.0zM111.2 310.7h1.0v6.0h-1.0zM130.2 310.7h1.0v6.0h-1.0zM149.2 310.7h1.0v6.0h-1.0zM151.2 310.7h1.0v6.0h-1.0zM153.2 310.7h8.0v6.0h-8.0zM176.3 310.7h5.0v6.0h-5.0zM184.3 310.7h1.0v6.0h-1.0zM186.3 310.7h1.0v6.0h-1.0zM190.3 310.7h4.0v6.0h-4.0zM201.3 310.7h1.0v6.0h-1.0zM208.3 310.7h1.0v6.0h-1.0zM210.3 310.7h1.0v6.0h-1.0zM218.3 310.7h1.0v6.0h-1.0zM221.3 310.7h1.0v6.0h-1.0zM226.3 310.7h1.0v6.0h-1.0zM229.3 310.7h1.0v6.0h-1.0zM235.4 310.7h1.0v6.0h-1.0zM239.4 310.7h1.0v6.0h-1.0zM242.4 310.7h1.0v6.0h-1.0zM244.4 310.7h1.0v6.0h-1.0zM250.4 310.7h3.0v6.0h-3.0zM254.4 310.7h1.0v6.0h-1.0zM256.4 310.7h2.0v6.0h-2.0zM259.4 310.7h3.0v6.0h-3.0z"/>
<path fill="#cae7f9" d="M68.1 24.0h3.0v6.0h-3.0zM72.1 24.0h4.0v6.0h-4.0zM77.1 24.0h5.0v6.0h-5.0zM83.1 24.0h14.0v6.0h-14.0zM103.2 24.0h1.0v6.0h-1.0zM106.2 24.0h4.0v6.0h-4.0zM111.2 24.0h3.0v6.0h-3.0zM116.2 24.0h1.0v6.0h-1.0zM118.2 24.0h1.0v6.0h-1.0zM122.2 24.0h5.0v6.0h-5.0zM128.2 24.0h2.0v6.0h-2.0zM131.2 24.0h1.0v6.0h-1.0zM133.2 24.0h6.0v6.0h-6.0zM142.2 24.0h1.0v6.0h-1.0zM144.2 24.0h5.0v6.0h-5.0zM158.2 41.9h1.0v6.0h-1.0zM160.3 41.9h1.0v6.0h-1.0zM68.1 53.9h14.0v6.0h-14.0zM83.1 53.9h15.0v6.0h-15.0zM99.2 53.9h7.0v6.0h-7.0zM108.2 53.9h6.0v6.0h-6.0zM115.2 53.9h1.0v6.0h-1.0zM118.2 53.9h2.0v6.0h-2.0zM121.2 53.9h3.0v6.0h-3.0zM258.4 53.9h8.0v6.0h-8.0zM150.2 65.8h1.0v6.0h-1.0zM154.2 71.8h1.0v6.0h-1.0zM159.3 71.8h1.0v6.0h-1.0zM60.1 167.4h1.0v6.0h-1.0zM186.3 179.3h1.0v6.0h-1.0zM202.3 179.3h1.0v6.0h-1.0zM217.3 179.3h2.0v6.0h-2.0zM224.3 179.3h1.0v6.0h-1.0zM227.3 179.3h1.0v6.0h-1.0zM230.3 179.3h2.0v6.0h-2.0zM239.4 179.3h1.0v6.0h-1.0zM255.4 179.3h1.0v6.0h-1.0zM201.3 221.1h1.0v6.0h-1.0zM216.3 221.1h1.0v6.0h-1.0zM175.3 257.0h1.0v6.0h-1.0zM179.3 257.0h1.0v6.0h-1.0zM198.3 257.0h1.0v6.0h-1.0zM208.3 257.0h2.0v6.0h-2.0zM211.3 257.0h1.0v6.0h-1.0zM221.3 257.0h1.0v6.0h-1.0zM226.3 257.0h2.0v6.0h-2.0zM232.4 257.0h1.0v6.0h-1.0zM238.4 257.0h1.0v6.0h-1.0zM250.4 257.0h2.0v6.0h-2.0zM255.4 257.0h1.0v6.0h-1.0zM181.3 298.8h1.0v6.0h-1.0zM197.3 298.8h1.0v6.0h-1.0zM237.4 298.8h1.0v6.0h-1.0z"/>
<path fill="#d7edfb" d="M71.1 24.0h1.0v6.0h-1.0zM76.1 24.0h1.0v6.0h-1.0zM98.2 24.0h3.0v6.0h-3.0zM102.2 24.0h1.0v6.0h-1.0zM104.2 24.0h1.0v6.0h-1.0zM110.2 24.0h1.0v6.0h-1.0zM114.2 24.0h2.0v6.0h-2.0zM120.2 24.0h1.0v6.0h-1.0zM127.2 24.0h1.0v6.0h-1.0zM130.2 24.0h1.0v6.0h-1.0zM132.2 24.0h1.0v6.0h-1.0zM139.2 24.0h3.0v6.0h-3.0zM143.2 24.0h1.0v6.0h-1.0zM184.3 24.0h1.0v6.0h-1.0zM51.1 30.0h1.0v6.0h-1.0zM60.1 30.0h1.0v6.0h-1.0zM66.1 30.0h1.0v6.0h-1.0zM130.2 30.0h1.0v6.0h-1.0zM133.2 30.0h2.0v6.0h-2.0zM137.2 30.0h1.0v6.0h-1.0zM139.2 30.0h1.0v6.0h-1.0zM142.2 30.0h1.0v6.0h-1.0zM146.2 30.0h2.0v6.0h-2.0zM50.1 35.9h22.0v6.0h-22.0zM73.1 35.9h12.0v6.0h-12.0zM86.2 35.9h2.0v6.0h-2.0zM90.2 35.9h11.0v6.0h-11.0zM102.2 35.9h14.0v6.0h-14.0zM117.2 35.9h10.0v6.0h-10.0zM134.2 35.9h1.0v6.0h-1.0zM136.2 35.9h1.0v6.0h-1.0zM141.2 35.9h1.0v6.0h-1.0zM145.2 35.9h1.0v6.0h-1.0zM147.2 35.9h1.0v6.0h-1.0zM154.2 35.9h1.0v6.0h-1.0zM265.4 35.9h1.0v6.0h-1.0zM68.1 41.9h5.0v6.0h-5.0zM74.1 41.9h7.0v6.0h-7.0zM82.1 41.9h1.0v6.0h-1.0zM84.1 41.9h6.0v6.0h-6.0zM91.2 41.9h12.0v6.0h-12.0zM104.2 41.9h6.0v6.0h-6.0zM111.2 41.9h14.0v6.0h-14.0zM149.2 41.9h2.0v6.0h-2.0zM152.2 41.9h2.0v6.0h-2.0zM155.2 41.9h1.0v6.0h-1.0zM157.2 41.9h1.0v6.0h-1.0zM159.3 41.9h1.0v6.0h-1.0zM69.1 47.9h3.0v6.0h-3.0zM73.1 47.9h2.0v6.0h-2.0zM76.1 47.9h1.0v6.0h-1.0zM85.1 47.9h2.0v6.0h-2.0zM89.2 47.9h1.0v6.0h-1.0zM97.2 47.9h1.0v6.0h-1.0zM113.2 47.9h1.0v6.0h-1.0zM115.2 47.9h2.0v6.0h-2.0zM118.2 47.9h1.0v6.0h-1.0zM125.2 47.9h1.0v6.0h-1.0zM127.2 47.9h1.0v6.0h-1.0zM130.2 47.9h1.0v6.0h-1.0zM132.2 47.9h1.0v6.0h-1.0zM135.2 47.9h3.0v6.0h-3.0zM141.2 47.9h4.0v6.0h-4.0zM150.2 47.9h3.0v6.0h-3.0zM154.2 47.9h2.0v6.0h-2.0zM157.2 47.9h3.0v6.0h-3.0zM172.3 47.9h1.0v6.0h-1.0zM158.2 53.9h1.0v6.0h-1.0zM72.1 59.8h1.0v6.0h-1.0zM74.1 59.8h2.0v6.0h-2.0zM78.1 59.8h3.0v6.0h-3.0zM82.1 59.8h2.0v6.0h-2.0zM86.2 59.8h2.0v6.0h-2.0zM90.2 59.8h1.0v6.0h-1.0zM93.2 59.8h1.0v6.0h-1.0zM96.2 59.8h1.0v6.0h-1.0zM108.2 59.8h1.0v6.0h-1.0zM112.2 59.8h1.0v6.0h-1.0zM118.2 59.8h1.0v6.0h-1.0zM122.2 59.8h1.0v6.0h-1.0zM128.2 59.8h1.0v6.0h-1.0zM132.2 59.8h1.0v6.0h-1.0zM135.2 59.8h4.0v6.0h-4.0zM149.2 59.8h3.0v6.0h-3.0zM153.2 59.8h2.0v6.0h-2.0zM156.2 59.8h3.0v6.0h-3.0zM160.3 59.8h1.0v6.0h-1.0zM162.3 59.8h1.0v6.0h-1.0zM172.3 59.8h1.0v6.0h-1.0zM182.3 59.8h1.0v6.0h-1.0zM203.3 59.8h1.0v6.0h-1.0zM151.2 65.8h10.0v6.0h-10.0zM177.3 65.8h1.0v6.0h-1.0zM220.3 65.8h1.0v6.0h-1.0zM240.4 65.8h1.0v6.0h-1.0zM247.4 65.8h1.0v6.0h-1.0zM149.2 71.8h3.0v6.0h-3.0zM153.2 71.8h1.0v6.0h-1.0zM155.2 71.8h4.0v6.0h-4.0zM160.3 71.8h1.0v6.0h-1.0zM184.3 71.8h1.0v6.0h-1.0zM191.3 71.8h1.0v6.0h-1.0zM149.2 77.8h10.0v6.0h-10.0zM163.3 77.8h1.0v6.0h-1.0zM260.4 83.7h1.0v6.0h-1.0zM264.4 83.7h1.0v6.0h-1.0zM219.3 89.7h1.0v6.0h-1.0zM238.4 89.7h1.0v6.0h-1.0zM242.4 89.7h1.0v6.0h-1.0zM204.3 95.7h1.0v6.0h-1.0zM71.1 101.7h1.0v6.0h-1.0zM73.1 101.7h1.0v6.0h-1.0zM75.1 101.7h1.0v6.0h-1.0zM77.1 101.7h1.0v6.0h-1.0zM79.1 101.7h2.0v6.0h-2.0zM82.1 101.7h1.0v6.0h-1.0zM87.2 101.7h2.0v6.0h-2.0zM90.2 101.7h2.0v6.0h-2.0zM94.2 101.7h2.0v6.0h-2.0zM105.2 101.7h3.0v6.0h-3.0zM111.2 101.7h1.0v6.0h-1.0zM118.2 101.7h1.0v6.0h-1.0zM120.2 101.7h1.0v6.0h-1.0zM123.2 101.7h1.0v6.0h-1.0zM218.3 101.7h1.0v6.0h-1.0zM125.2 107.6h5.0v6.0h-5.0zM131.2 107.6h10.0v6.0h-10.0zM142.2 107.6h7.0v6.0h-7.0zM150.2 107.6h4.0v6.0h-4.0zM155.2 107.6h1.0v6.0h-1.0zM157.2 107.6h2.0v6.0h-2.0zM160.3 107.6h1.0v6.0h-1.0zM162.3 107.6h1.0v6.0h-1.0zM220.3 107.6h1.0v6.0h-1.0zM225.3 107.6h1.0v6.0h-1.0zM221.3 113.6h1.0v6.0h-1.0zM125.2 119.6h1.0v6.0h-1.0zM128.2 119.6h1.0v6.0h-1.0zM140.2 119.6h2.0v6.0h-2.0zM143.2 119.6h2.0v6.0h-2.0zM147.2 119.6h1.0v6.0h-1.0zM149.2 119.6h3.0v6.0h-3.0zM154.2 119.6h3.0v6.0h-3.0zM159.3 119.6h3.0v6.0h-3.0zM165.3 119.6h1.0v6.0h-1.0zM216.3 119.6h1.0v6.0h-1.0zM238.4 119.6h1.0v6.0h-1.0zM68.1 125.5h1.0v6.0h-1.0zM70.1 125.5h7.0v6.0h-7.0zM78.1 125.5h3.0v6.0h-3.0zM82.1 125.5h10.0v6.0h-10.0zM93.2 125.5h14.0v6.0h-14.0zM108.2 125.5h15.0v6.0h-15.0zM128.2 125.5h1.0v6.0h-1.0zM135.2 125.5h1.0v6.0h-1.0zM180.3 125.5h1.0v6.0h-1.0zM161.3 131.5h1.0v6.0h-1.0zM206.3 131.5h1.0v6.0h-1.0zM232.4 131.5h1.0v6.0h-1.0zM247.4 131.5h1.0v6.0h-1.0zM256.4 131.5h1.0v6.0h-1.0zM258.4 131.5h8.0v6.0h-8.0zM62.1 137.5h1.0v6.0h-1.0zM125.2 137.5h21.0v6.0h-21.0zM147.2 137.5h2.0v6.0h-2.0zM161.3 137.5h2.0v6.0h-2.0zM164.3 137.5h4.0v6.0h-4.0zM169.3 137.5h1.0v6.0h-1.0zM171.3 137.5h4.0v6.0h-4.0zM61.1 143.5h1.0v6.0h-1.0zM64.1 143.5h1.0v6.0h-1.0zM66.1 143.5h2.0v6.0h-2.0zM71.1 143.5h1.0v6.0h-1.0zM74.1 143.5h2.0v6.0h-2.0zM78.1 143.5h4.0v6.0h-4.0zM83.1 143.5h1.0v6.0h-1.0zM87.2 143.5h1.0v6.0h-1.0zM99.2 143.5h1.0v6.0h-1.0zM101.2 143.5h1.0v6.0h-1.0zM106.2 143.5h1.0v6.0h-1.0zM108.2 143.5h1.0v6.0h-1.0zM110.2 143.5h1.0v6.0h-1.0zM116.2 143.5h1.0v6.0h-1.0zM121.2 143.5h1.0v6.0h-1.0zM164.3 143.5h1.0v6.0h-1.0zM202.3 143.5h1.0v6.0h-1.0zM248.4 143.5h1.0v6.0h-1.0zM149.2 149.4h3.0v6.0h-3.0zM154.2 149.4h7.0v6.0h-7.0zM174.3 149.4h1.0v6.0h-1.0zM182.3 149.4h1.0v6.0h-1.0zM179.3 155.4h1.0v6.0h-1.0zM175.3 161.4h1.0v6.0h-1.0zM185.3 161.4h1.0v6.0h-1.0zM242.4 161.4h1.0v6.0h-1.0zM50.1 167.4h10.0v6.0h-10.0zM61.1 167.4h6.0v6.0h-6.0zM125.2 167.4h2.0v6.0h-2.0zM128.2 167.4h1.0v6.0h-1.0zM137.2 167.4h4.0v6.0h-4.0zM147.2 167.4h1.0v6.0h-1.0zM149.2 167.4h5.0v6.0h-5.0zM155.2 167.4h2.0v6.0h-2.0zM198.3 167.4h10.0v6.0h-10.0zM209.3 167.4h1.0v6.0h-1.0zM211.3 167.4h7.0v6.0h-7.0zM219.3 167.4h1.0v6.0h-1.0zM221.3 167.4h4.0v6.0h-4.0zM226.3 167.4h1.0v6.0h-1.0zM228.3 167.4h13.0v6.0h-13.0zM242.4 167.4h6.0v6.0h-6.0zM249.4 167.4h4.0v6.0h-4.0zM254.4 167.4h2.0v6.0h-2.0zM257.4 167.4h2.0v6.0h-2.0zM260.4 167.4h6.0v6.0h-6.0zM94.2 173.3h1.0v6.0h-1.0zM109.2 173.3h1.0v6.0h-1.0zM71.1 179.3h1.0v6.0h-1.0zM175.3 179.3h11.0v6.0h-11.0zM187.3 179.3h15.0v6.0h-15.0zM203.3 179.3h4.0v6.0h-4.0zM208.3 179.3h6.0v6.0h-6.0zM215.3 179.3h2.0v6.0h-2.0zM219.3 179.3h5.0v6.0h-5.0zM225.3 179.3h2.0v6.0h-2.0zM228.3 179.3h2.0v6.0h-2.0zM232.4 179.3h1.0v6.0h-1.0zM234.4 179.3h5.0v6.0h-5.0zM240.4 179.3h12.0v6.0h-12.0zM253.4 179.3h2.0v6.0h-2.0zM256.4 179.3h2.0v6.0h-2.0zM75.1 185.3h1.0v6.0h-1.0zM107.2 185.3h1.0v6.0h-1.0zM175.3 185.3h45.1v6.0h-45.1zM221.3 185.3h23.0v6.0h-23.0zM245.4 185.3h10.0v6.0h-10.0zM256.4 185.3h2.0v6.0h-2.0zM126.2 191.3h1.0v6.0h-1.0zM175.3 191.3h2.0v6.0h-2.0zM179.3 191.3h1.0v6.0h-1.0zM181.3 191.3h3.0v6.0h-3.0zM185.3 191.3h1.0v6.0h-1.0zM187.3 191.3h2.0v6.0h-2.0zM190.3 191.3h5.0v6.0h-5.0zM196.3 191.3h20.0v6.0h-20.0zM217.3 191.3h7.0v6.0h-7.0zM225.3 191.3h3.0v6.0h-3.0zM230.3 191.3h3.0v6.0h-3.0zM234.4 191.3h2.0v6.0h-2.0zM237.4 191.3h1.0v6.0h-1.0zM239.4 191.3h12.0v6.0h-12.0zM252.4 191.3h3.0v6.0h-3.0zM256.4 191.3h1.0v6.0h-1.0zM181.3 197.2h1.0v6.0h-1.0zM185.3 197.2h1.0v6.0h-1.0zM188.3 197.2h1.0v6.0h-1.0zM190.3 197.2h1.0v6.0h-1.0zM194.3 197.2h1.0v6.0h-1.0zM196.3 197.2h2.0v6.0h-2.0zM201.3 197.2h1.0v6.0h-1.0zM204.3 197.2h1.0v6.0h-1.0zM207.3 197.2h3.0v6.0h-3.0zM222.3 197.2h2.0v6.0h-2.0zM225.3 197.2h1.0v6.0h-1.0zM231.4 197.2h1.0v6.0h-1.0zM237.4 197.2h1.0v6.0h-1.0zM243.4 197.2h1.0v6.0h-1.0zM245.4 197.2h1.0v6.0h-1.0zM248.4 197.2h1.0v6.0h-1.0zM250.4 197.2h1.0v6.0h-1.0zM254.4 197.2h1.0v6.0h-1.0zM84.1 203.2h1.0v6.0h-1.0zM82.1 209.2h1.0v6.0h-1.0zM109.2 209.2h1.0v6.0h-1.0zM59.1 215.2h1.0v6.0h-1.0zM61.1 215.2h1.0v6.0h-1.0zM112.2 221.1h1.0v6.0h-1.0zM175.3 221.1h2.0v6.0h-2.0zM178.3 221.1h5.0v6.0h-5.0zM184.3 221.1h17.0v6.0h-17.0zM202.3 221.1h14.0v6.0h-14.0zM217.3 221.1h8.0v6.0h-8.0zM226.3 221.1h10.0v6.0h-10.0zM237.4 221.1h4.0v6.0h-4.0zM242.4 221.1h16.0v6.0h-16.0zM102.2 227.1h1.0v6.0h-1.0zM150.2 227.1h1.0v6.0h-1.0zM153.2 227.1h1.0v6.0h-1.0zM175.3 227.1h11.0v6.0h-11.0zM187.3 227.1h17.0v6.0h-17.0zM205.3 227.1h10.0v6.0h-10.0zM216.3 227.1h3.0v6.0h-3.0zM220.3 227.1h9.0v6.0h-9.0zM230.3 227.1h4.0v6.0h-4.0zM235.4 227.1h11.0v6.0h-11.0zM248.4 227.1h4.0v6.0h-4.0zM253.4 227.1h5.0v6.0h-5.0zM66.1 233.1h1.0v6.0h-1.0zM99.2 233.1h1.0v6.0h-1.0zM175.3 233.1h1.0v6.0h-1.0zM177.3 233.1h2.0v6.0h-2.0zM180.3 233.1h2.0v6.0h-2.0zM183.3 233.1h1.0v6.0h-1.0zM185.3 233.1h1.0v6.0h-1.0zM189.3 233.1h8.0v6.0h-8.0zM198.3 233.1h2.0v6.0h-2.0zM201.3 233.1h1.0v6.0h-1.0zM204.3 233.1h4.0v6.0h-4.0zM209.3 233.1h3.0v6.0h-3.0zM213.3 233.1h3.0v6.0h-3.0zM217.3 233.1h2.0v6.0h-2.0zM220.3 233.1h3.0v6.0h-3.0zM228.3 233.1h2.0v6.0h-2.0zM231.4 233.1h1.0v6.0h-1.0zM233.4 233.1h8.0v6.0h-8.0zM242.4 233.1h1.0v6.0h-1.0zM244.4 233.1h1.0v6.0h-1.0zM247.4 233.1h3.0v6.0h-3.0zM252.4 233.1h4.0v6.0h-4.0zM99.2 239.0h1.0v6.0h-1.0zM140.2 239.0h1.0v6.0h-1.0zM214.3 239.0h1.0v6.0h-1.0zM216.3 239.0h2.0v6.0h-2.0zM227.3 239.0h1.0v6.0h-1.0zM231.4 239.0h1.0v6.0h-1.0zM233.4 239.0h1.0v6.0h-1.0zM56.1 245.0h1.0v6.0h-1.0zM87.2 245.0h1.0v6.0h-1.0zM104.2 245.0h1.0v6.0h-1.0zM127.2 245.0h1.0v6.0h-1.0zM215.3 245.0h1.0v6.0h-1.0zM92.2 257.0h1.0v6.0h-1.0zM123.2 257.0h1.0v6.0h-1.0zM176.3 257.0h2.0v6.0h-2.0zM180.3 257.0h18.0v6.0h-18.0zM199.3 257.0h9.0v6.0h-9.0zM210.3 257.0h1.0v6.0h-1.0zM212.3 257.0h5.0v6.0h-5.0zM218.3 257.0h3.0v6.0h-3.0zM222.3 257.0h4.0v6.0h-4.0zM228.3 257.0h4.0v6.0h-4.0zM233.4 257.0h5.0v6.0h-5.0zM239.4 257.0h1.0v6.0h-1.0zM241.4 257.0h9.0v6.0h-9.0zM252.4 257.0h2.0v6.0h-2.0zM256.4 257.0h2.0v6.0h-2.0zM74.1 262.9h1.0v6.0h-1.0zM175.3 262.9h3.0v6.0h-3.0zM180.3 262.9h10.0v6.0h-10.0zM191.3 262.9h4.0v6.0h-4.0zM196.3 262.9h12.0v6.0h-12.0zM209.3 262.9h14.0v6.0h-14.0zM224.3 262.9h7.0v6.0h-7.0zM232.4 262.9h4.0v6.0h-4.0zM237.4 262.9h8.0v6.0h-8.0zM246.4 262.9h8.0v6.0h-8.0zM255.4 262.9h3.0v6.0h-3.0zM175.3 268.9h5.0v6.0h-5.0zM181.3 268.9h1.0v6.0h-1.0zM184.3 268.9h3.0v6.0h-3.0zM188.3 268.9h9.0v6.0h-9.0zM198.3 268.9h2.0v6.0h-2.0zM201.3 268.9h1.0v6.0h-1.0zM203.3 268.9h5.0v6.0h-5.0zM209.3 268.9h3.0v6.0h-3.0zM213.3 268.9h12.0v6.0h-12.0zM226.3 268.9h5.0v6.0h-5.0zM232.4 268.9h6.0v6.0h-6.0zM239.4 268.9h6.0v6.0h-6.0zM246.4 268.9h2.0v6.0h-2.0zM249.4 268.9h6.0v6.0h-6.0zM256.4 268.9h2.0v6.0h-2.0zM79.1 274.9h1.0v6.0h-1.0zM175.3 274.9h1.0v6.0h-1.0zM177.3 274.9h1.0v6.0h-1.0zM180.3 274.9h2.0v6.0h-2.0zM190.3 274.9h1.0v6.0h-1.0zM197.3 274.9h1.0v6.0h-1.0zM200.3 274.9h1.0v6.0h-1.0zM207.3 274.9h2.0v6.0h-2.0zM218.3 274.9h1.0v6.0h-1.0zM220.3 274.9h1.0v6.0h-1.0zM222.3 274.9h2.0v6.0h-2.0zM228.3 274.9h1.0v6.0h-1.0zM237.4 274.9h1.0v6.0h-1.0zM240.4 274.9h3.0v6.0h-3.0zM245.4 274.9h1.0v6.0h-1.0zM249.4 274.9h1.0v6.0h-1.0zM253.4 274.9h1.0v6.0h-1.0zM92.2 280.9h1.0v6.0h-1.0zM106.2 280.9h1.0v6.0h-1.0zM121.2 280.9h1.0v6.0h-1.0zM124.2 280.9h1.0v6.0h-1.0zM160.3 280.9h1.0v6.0h-1.0zM196.3 280.9h1.0v6.0h-1.0zM92.2 286.8h1.0v6.0h-1.0zM107.2 286.8h1.0v6.0h-1.0zM76.1 292.8h1.0v6.0h-1.0zM154.2 292.8h1.0v6.0h-1.0zM63.1 298.8h1.0v6.0h-1.0zM175.3 298.8h6.0v6.0h-6.0zM182.3 298.8h15.0v6.0h-15.0zM198.3 298.8h19.0v6.0h-19.0zM218.3 298.8h10.0v6.0h-10.0zM229.3 298.8h2.0v6.0h-2.0zM232.4 298.8h3.0v6.0h-3.0zM236.4 298.8h1.0v6.0h-1.0zM238.4 298.8h20.0v6.0h-20.0zM76.1 304.8h1.0v6.0h-1.0zM89.2 304.8h1.0v6.0h-1.0zM176.3 304.8h8.0v6.0h-8.0zM185.3 304.8h4.0v6.0h-4.0zM190.3 304.8h2.0v6.0h-2.0zM193.3 304.8h3.0v6.0h-3.0zM197.3 304.8h1.0v6.0h-1.0zM199.3 304.8h13.0v6.0h-13.0zM215.3 304.8h36.0v6.0h-36.0zM252.4 304.8h1.0v6.0h-1.0zM254.4 304.8h2.0v6.0h-2.0zM257.4 304.8h1.0v6.0h-1.0zM60.1 310.7h1.0v6.0h-1.0zM102.2 310.7h1.0v6.0h-1.0zM129.2 310.7h1.0v6.0h-1.0zM147.2 310.7h1.0v6.0h-1.0zM175.3 310.7h1.0v6.0h-1.0zM181.3 310.7h3.0v6.0h-3.0zM185.3 310.7h1.0v6.0h-1.0zM187.3 310.7h3.0v6.0h-3.0zM195.3 310.7h3.0v6.0h-3.0zM199.3 310.7h2.0v6.0h-2.0zM202.3 310.7h6.0v6.0h-6.0zM209.3 310.7h1.0v6.0h-1.0zM211.3 310.7h1.0v6.0h-1.0zM213.3 310.7h5.0v6.0h-5.0zM219.3 310.7h2.0v6.0h-2.0zM222.3 310.7h4.0v6.0h-4.0zM227.3 310.7h2.0v6.0h-2.0zM230.3 310.7h3.0v6.0h-3.0zM234.4 310.7h1.0v6.0h-1.0zM237.4 310.7h2.0v6.0h-2.0zM240.4 310.7h2.0v6.0h-2.0zM243.4 310.7h1.0v6.0h-1.0zM245.4 310.7h5.0v6.0h-5.0zM255.4 310.7h1.0v6.0h-1.0z"/>
<path fill="#fee4cf" d="M82.1 24.0h1.0v6.0h-1.0zM97.2 24.0h1.0v6.0h-1.0zM105.2 24.0h1.0v6.0h-1.0zM163.3 24.0h1.0v6.0h-1.0zM166.3 24.0h1.0v6.0h-1.0zM174.3 24.0h1.0v6.0h-1.0zM181.3 24.0h2.0v6.0h-2.0zM189.3 24.0h1.0v6.0h-1.0zM196.3 24.0h1.0v6.0h-1.0zM217.3 24.0h1.0v6.0h-1.0zM250.4 24.0h1.0v6.0h-1.0zM105.2 30.0h1.0v6.0h-1.0zM162.3 30.0h1.0v6.0h-1.0zM166.3 30.0h1.0v6.0h-1.0zM173.3 30.0h1.0v6.0h-1.0zM179.3 30.0h2.0v6.0h-2.0zM183.3 30.0h2.0v6.0h-2.0zM187.3 30.0h2.0v6.0h-2.0zM194.3 30.0h1.0v6.0h-1.0zM200.3 30.0h1.0v6.0h-1.0zM212.3 30.0h1.0v6.0h-1.0zM234.4 30.0h1.0v6.0h-1.0zM237.4 30.0h1.0v6.0h-1.0zM240.4 30.0h3.0v6.0h-3.0zM248.4 30.0h1.0v6.0h-1.0zM254.4 30.0h1.0v6.0h-1.0zM88.2 35.9h2.0v6.0h-2.0zM101.2 35.9h1.0v6.0h-1.0zM149.2 35.9h1.0v6.0h-1.0zM183.3 35.9h1.0v6.0h-1.0zM199.3 35.9h1.0v6.0h-1.0zM209.3 35.9h1.0v6.0h-1.0zM215.3 35.9h1.0v6.0h-1.0zM219.3 35.9h1.0v6.0h-1.0zM222.3 35.9h1.0v6.0h-1.0zM231.4 35.9h1.0v6.0h-1.0zM235.4 35.9h1.0v6.0h-1.0zM245.4 35.9h1.0v6.0h-1.0zM255.4 35.9h2.0v6.0h-2.0zM258.4 35.9h1.0v6.0h-1.0zM262.4 35.9h1.0v6.0h-1.0zM73.1 41.9h1.0v6.0h-1.0zM151.2 41.9h1.0v6.0h-1.0zM164.3 41.9h3.0v6.0h-3.0zM172.3 41.9h1.0v6.0h-1.0zM182.3 41.9h1.0v6.0h-1.0zM189.3 41.9h1.0v6.0h-1.0zM208.3 41.9h1.0v6.0h-1.0zM232.4 41.9h1.0v6.0h-1.0zM236.4 41.9h1.0v6.0h-1.0zM242.4 41.9h1.0v6.0h-1.0zM262.4 41.9h1.0v6.0h-1.0zM264.4 41.9h1.0v6.0h-1.0zM110.2 47.9h1.0v6.0h-1.0zM162.3 47.9h1.0v6.0h-1.0zM164.3 47.9h1.0v6.0h-1.0zM170.3 47.9h1.0v6.0h-1.0zM184.3 47.9h1.0v6.0h-1.0zM210.3 47.9h1.0v6.0h-1.0zM223.3 47.9h2.0v6.0h-2.0zM228.3 47.9h1.0v6.0h-1.0zM235.4 47.9h2.0v6.0h-2.0zM252.4 47.9h2.0v6.0h-2.0zM257.4 47.9h1.0v6.0h-1.0zM263.4 47.9h1.0v6.0h-1.0zM120.2 53.9h1.0v6.0h-1.0zM125.2 53.9h1.0v6.0h-1.0zM164.3 53.9h5.0v6.0h-5.0zM171.3 53.9h1.0v6.0h-1.0zM177.3 53.9h1.0v6.0h-1.0zM186.3 53.9h1.0v6.0h-1.0zM236.4 53.9h1.0v6.0h-1.0zM254.4 53.9h1.0v6.0h-1.0zM107.2 59.8h1.0v6.0h-1.0zM114.2 59.8h1.0v6.0h-1.0zM116.2 59.8h1.0v6.0h-1.0zM148.2 59.8h1.0v6.0h-1.0zM161.3 59.8h1.0v6.0h-1.0zM163.3 59.8h1.0v6.0h-1.0zM174.3 59.8h1.0v6.0h-1.0zM180.3 59.8h1.0v6.0h-1.0zM188.3 59.8h1.0v6.0h-1.0zM197.3 59.8h2.0v6.0h-2.0zM220.3 59.8h1.0v6.0h-1.0zM226.3 59.8h1.0v6.0h-1.0zM228.3 59.8h1.0v6.0h-1.0zM239.4 59.8h1.0v6.0h-1.0zM91.2 65.8h1.0v6.0h-1.0zM178.3 65.8h1.0v6.0h-1.0zM190.3 65.8h1.0v6.0h-1.0zM199.3 65.8h1.0v6.0h-1.0zM202.3 65.8h1.0v6.0h-1.0zM212.3 65.8h1.0v6.0h-1.0zM225.3 65.8h1.0v6.0h-1.0zM227.3 65.8h1.0v6.0h-1.0zM241.4 65.8h1.0v6.0h-1.0zM246.4 65.8h1.0v6.0h-1.0zM248.4 65.8h1.0v6.0h-1.0zM254.4 65.8h1.0v6.0h-1.0zM135.2 71.8h1.0v6.0h-1.0zM166.3 71.8h1.0v6.0h-1.0zM177.3 71.8h1.0v6.0h-1.0zM182.3 71.8h1.0v6.0h-1.0zM194.3 71.8h1.0v6.0h-1.0zM196.3 71.8h1.0v6.0h-1.0zM200.3 71.8h1.0v6.0h-1.0zM202.3 71.8h1.0v6.0h-1.0zM204.3 71.8h1.0v6.0h-1.0zM207.3 71.8h1.0v6.0h-1.0zM213.3 71.8h1.0v6.0h-1.0zM215.3 71.8h1.0v6.0h-1.0zM217.3 71.8h1.0v6.0h-1.0zM221.3 71.8h1.0v6.0h-1.0zM234.4 71.8h1.0v6.0h-1.0zM239.4 71.8h1.0v6.0h-1.0zM242.4 71.8h1.0v6.0h-1.0zM99.2 77.8h1.0v6.0h-1.0zM128.2 77.8h1.0v6.0h-1.0zM170.3 77.8h1.0v6.0h-1.0zM175.3 77.8h1.0v6.0h-1.0zM180.3 77.8h1.0v6.0h-1.0zM187.3 77.8h1.0v6.0h-1.0zM191.3 77.8h1.0v6.0h-1.0zM194.3 77.8h2.0v6.0h-2.0zM197.3 77.8h1.0v6.0h-1.0zM202.3 77.8h1.0v6.0h-1.0zM206.3 77.8h1.0v6.0h-1.0zM220.3 77.8h1.0v6.0h-1.0zM222.3 77.8h1.0v6.0h-1.0zM232.4 77.8h1.0v6.0h-1.0zM239.4 77.8h1.0v6.0h-1.0zM243.4 77.8h1.0v6.0h-1.0zM248.4 77.8h1.0v6.0h-1.0zM168.3 83.7h1.0v6.0h-1.0zM181.3 83.7h1.0v6.0h-1.0zM187.3 83.7h1.0v6.0h-1.0zM192.3 83.7h1.0v6.0h-1.0zM202.3 83.7h2.0v6.0h-2.0zM208.3 83.7h1.0v6.0h-1.0zM210.3 83.7h1.0v6.0h-1.0zM216.3 83.7h1.0v6.0h-1.0zM235.4 83.7h1.0v6.0h-1.0zM244.4 83.7h1.0v6.0h-1.0zM147.2 89.7h1.0v6.0h-1.0zM150.2 89.7h1.0v6.0h-1.0zM167.3 89.7h1.0v6.0h-1.0zM183.3 89.7h1.0v6.0h-1.0zM187.3 89.7h1.0v6.0h-1.0zM190.3 89.7h1.0v6.0h-1.0zM192.3 89.7h1.0v6.0h-1.0zM194.3 89.7h1.0v6.0h-1.0zM208.3 89.7h1.0v6.0h-1.0zM221.3 89.7h1.0v6.0h-1.0zM224.3 89.7h2.0v6.0h-2.0zM229.3 89.7h1.0v6.0h-1.0zM239.4 89.7h1.0v6.0h-1.0zM249.4 89.7h1.0v6.0h-1.0zM254.4 89.7h1.0v6.0h-1.0zM161.3 95.7h1.0v6.0h-1.0zM163.3 95.7h1.0v6.0h-1.0zM168.3 95.7h1.0v6.0h-1.0zM170.3 95.7h1.0v6.0h-1.0zM173.3 95.7h1.0v6.0h-1.0zM193.3 95.7h1.0v6.0h-1.0zM199.3 95.7h2.0v6.0h-2.0zM227.3 95.7h1.0v6.0h-1.0zM245.4 95.7h1.0v6.0h-1.0zM247.4 95.7h1.0v6.0h-1.0zM250.4 95.7h1.0v6.0h-1.0zM125.2 101.7h1.0v6.0h-1.0zM129.2 101.7h2.0v6.0h-2.0zM141.2 101.7h1.0v6.0h-1.0zM143.2 101.7h1.0v6.0h-1.0zM146.2 101.7h1.0v6.0h-1.0zM164.3 101.7h1.0v6.0h-1.0zM171.3 101.7h1.0v6.0h-1.0zM175.3 101.7h1.0v6.0h-1.0zM177.3 101.7h1.0v6.0h-1.0zM185.3 101.7h1.0v6.0h-1.0zM187.3 101.7h1.0v6.0h-1.0zM189.3 101.7h1.0v6.0h-1.0zM194.3 101.7h1.0v6.0h-1.0zM200.3 101.7h2.0v6.0h-2.0zM206.3 101.7h1.0v6.0h-1.0zM213.3 101.7h1.0v6.0h-1.0zM219.3 101.7h1.0v6.0h-1.0zM226.3 101.7h1.0v6.0h-1.0zM238.4 101.7h1.0v6.0h-1.0zM240.4 101.7h1.0v6.0h-1.0zM244.4 101.7h1.0v6.0h-1.0zM256.4 101.7h1.0v6.0h-1.0zM52.1 107.6h1.0v6.0h-1.0zM61.1 107.6h1.0v6.0h-1.0zM149.2 107.6h1.0v6.0h-1.0zM169.3 107.6h1.0v6.0h-1.0zM209.3 107.6h1.0v6.0h-1.0zM211.3 107.6h1.0v6.0h-1.0zM218.3 107.6h1.0v6.0h-1.0zM223.3 107.6h1.0v6.0h-1.0zM232.4 107.6h1.0v6.0h-1.0zM234.4 107.6h1.0v6.0h-1.0zM240.4 107.6h2.0v6.0h-2.0zM244.4 107.6h1.0v6.0h-1.0zM249.4 107.6h1.0v6.0h-1.0zM50.1 113.6h2.0v6.0h-2.0zM60.1 113.6h2.0v6.0h-2.0zM77.1 113.6h1.0v6.0h-1.0zM174.3 113.6h1.0v6.0h-1.0zM199.3 113.6h1.0v6.0h-1.0zM223.3 113.6h3.0v6.0h-3.0zM231.4 113.6h1.0v6.0h-1.0zM234.4 113.6h1.0v6.0h-1.0zM237.4 113.6h1.0v6.0h-1.0zM240.4 113.6h1.0v6.0h-1.0zM250.4 113.6h2.0v6.0h-2.0zM54.1 119.6h1.0v6.0h-1.0zM64.1 119.6h2.0v6.0h-2.0zM68.1 119.6h1.0v6.0h-1.0zM106.2 119.6h1.0v6.0h-1.0zM162.3 119.6h1.0v6.0h-1.0zM168.3 119.6h1.0v6.0h-1.0zM174.3 119.6h1.0v6.0h-1.0zM219.3 119.6h1.0v6.0h-1.0zM227.3 119.6h1.0v6.0h-1.0zM229.3 119.6h1.0v6.0h-1.0zM233.4 119.6h1.0v6.0h-1.0zM235.4 119.6h1.0v6.0h-1.0zM239.4 119.6h3.0v6.0h-3.0zM256.4 119.6h2.0v6.0h-2.0zM59.1 125.5h1.0v6.0h-1.0zM65.1 125.5h2.0v6.0h-2.0zM149.2 125.5h1.0v6.0h-1.0zM171.3 125.5h1.0v6.0h-1.0zM173.3 125.5h1.0v6.0h-1.0zM186.3 125.5h1.0v6.0h-1.0zM221.3 125.5h1.0v6.0h-1.0zM226.3 125.5h1.0v6.0h-1.0zM251.4 125.5h1.0v6.0h-1.0zM54.1 131.5h1.0v6.0h-1.0zM60.1 131.5h1.0v6.0h-1.0zM129.2 131.5h1.0v6.0h-1.0zM163.3 131.5h2.0v6.0h-2.0zM166.3 131.5h1.0v6.0h-1.0zM174.3 131.5h1.0v6.0h-1.0zM179.3 131.5h1.0v6.0h-1.0zM182.3 131.5h1.0v6.0h-1.0zM189.3 131.5h2.0v6.0h-2.0zM210.3 131.5h1.0v6.0h-1.0zM212.3 131.5h1.0v6.0h-1.0zM226.3 131.5h1.0v6.0h-1.0zM245.4 131.5h1.0v6.0h-1.0zM57.1 137.5h1.0v6.0h-1.0zM65.1 137.5h1.0v6.0h-1.0zM67.1 137.5h1.0v6.0h-1.0zM153.2 137.5h1.0v6.0h-1.0zM163.3 137.5h1.0v6.0h-1.0zM176.3 137.5h1.0v6.0h-1.0zM179.3 137.5h1.0v6.0h-1.0zM183.3 137.5h1.0v6.0h-1.0zM197.3 137.5h1.0v6.0h-1.0zM205.3 137.5h1.0v6.0h-1.0zM209.3 137.5h1.0v6.0h-1.0zM216.3 137.5h1.0v6.0h-1.0zM225.3 137.5h1.0v6.0h-1.0zM247.4 137.5h1.0v6.0h-1.0zM255.4 137.5h1.0v6.0h-1.0zM118.2 143.5h1.0v6.0h-1.0zM130.2 143.5h1.0v6.0h-1.0zM133.2 143.5h1.0v6.0h-1.0zM138.2 143.5h1.0v6.0h-1.0zM147.2 143.5h1.0v6.0h-1.0zM163.3 143.5h1.0v6.0h-1.0zM166.3 143.5h1.0v6.0h-1.0zM206.3 143.5h1.0v6.0h-1.0zM216.3 143.5h1.0v6.0h-1.0zM228.3 143.5h1.0v6.0h-1.0zM230.3 143.5h1.0v6.0h-1.0zM236.4 143.5h1.0v6.0h-1.0zM256.4 143.5h1.0v6.0h-1.0zM51.1 149.4h1.0v6.0h-1.0zM63.1 149.4h1.0v6.0h-1.0zM66.1 149.4h1.0v6.0h-1.0zM80.1 149.4h1.0v6.0h-1.0zM89.2 149.4h1.0v6.0h-1.0zM167.3 149.4h1.0v6.0h-1.0zM175.3 149.4h2.0v6.0h-2.0zM179.3 149.4h1.0v6.0h-1.0zM184.3 149.4h2.0v6.0h-2.0zM188.3 149.4h1.0v6.0h-1.0zM191.3 149.4h1.0v6.0h-1.0zM195.3 149.4h1.0v6.0h-1.0zM198.3 149.4h2.0v6.0h-2.0zM205.3 149.4h1.0v6.0h-1.0zM211.3 149.4h1.0v6.0h-1.0zM216.3 149.4h1.0v6.0h-1.0zM232.4 149.4h1.0v6.0h-1.0zM240.4 149.4h1.0v6.0h-1.0zM255.4 149.4h1.0v6.0h-1.0zM163.3 155.4h2.0v6.0h-2.0zM170.3 155.4h1.0v6.0h-1.0zM173.3 155.4h1.0v6.0h-1.0zM180.3 155.4h1.0v6.0h-1.0zM182.3 155.4h1.0v6.0h-1.0zM185.3 155.4h2.0v6.0h-2.0zM188.3 155.4h1.0v6.0h-1.0zM196.3 155.4h1.0v6.0h-1.0zM202.3 155.4h2.0v6.0h-2.0zM212.3 155.4h2.0v6.0h-2.0zM215.3 155.4h1.0v6.0h-1.0zM217.3 155.4h1.0v6.0h-1.0zM223.3 155.4h1.0v6.0h-1.0zM227.3 155.4h1.0v6.0h-1.0zM231.4 155.4h1.0v6.0h-1.0zM242.4 155.4h1.0v6.0h-1.0zM254.4 155.4h1.0v6.0h-1.0zM51.1 161.4h1.0v6.0h-1.0zM61.1 161.4h1.0v6.0h-1.0zM63.1 161.4h1.0v6.0h-1.0zM65.1 161.4h2.0v6.0h-2.0zM176.3 161.4h1.0v6.0h-1.0zM179.3 161.4h1.0v6.0h-1.0zM181.3 161.4h1.0v6.0h-1.0zM191.3 161.4h1.0v6.0h-1.0zM200.3 161.4h1.0v6.0h-1.0zM214.3 161.4h1.0v6.0h-1.0zM226.3 161.4h1.0v6.0h-1.0zM231.4 161.4h1.0v6.0h-1.0zM234.4 161.4h2.0v6.0h-2.0zM237.4 161.4h2.0v6.0h-2.0zM243.4 161.4h3.0v6.0h-3.0zM247.4 161.4h1.0v6.0h-1.0zM253.4 161.4h1.0v6.0h-1.0zM256.4 161.4h1.0v6.0h-1.0zM72.1 167.4h1.0v6.0h-1.0zM81.1 167.4h1.0v6.0h-1.0zM89.2 167.4h1.0v6.0h-1.0zM167.3 167.4h1.0v6.0h-1.0zM171.3 167.4h1.0v6.0h-1.0zM208.3 167.4h1.0v6.0h-1.0zM51.1 173.3h2.0v6.0h-2.0zM55.1 173.3h1.0v6.0h-1.0zM57.1 173.3h1.0v6.0h-1.0zM60.1 173.3h1.0v6.0h-1.0zM64.1 173.3h1.0v6.0h-1.0zM75.1 173.3h1.0v6.0h-1.0zM80.1 173.3h1.0v6.0h-1.0zM88.2 173.3h1.0v6.0h-1.0zM95.2 173.3h2.0v6.0h-2.0zM99.2 173.3h1.0v6.0h-1.0zM101.2 173.3h1.0v6.0h-1.0zM112.2 173.3h1.0v6.0h-1.0zM115.2 173.3h2.0v6.0h-2.0zM118.2 173.3h1.0v6.0h-1.0zM134.2 173.3h1.0v6.0h-1.0zM140.2 173.3h1.0v6.0h-1.0zM150.2 173.3h1.0v6.0h-1.0zM231.4 173.3h1.0v6.0h-1.0zM59.1 179.3h1.0v6.0h-1.0zM76.1 179.3h1.0v6.0h-1.0zM78.1 179.3h1.0v6.0h-1.0zM83.1 179.3h1.0v6.0h-1.0zM86.2 179.3h2.0v6.0h-2.0zM94.2 179.3h2.0v6.0h-2.0zM106.2 179.3h1.0v6.0h-1.0zM108.2 179.3h1.0v6.0h-1.0zM113.2 179.3h1.0v6.0h-1.0zM124.2 179.3h1.0v6.0h-1.0zM53.1 185.3h1.0v6.0h-1.0zM64.1 185.3h1.0v6.0h-1.0zM66.1 185.3h2.0v6.0h-2.0zM73.1 185.3h2.0v6.0h-2.0zM80.1 185.3h1.0v6.0h-1.0zM96.2 185.3h1.0v6.0h-1.0zM101.2 185.3h1.0v6.0h-1.0zM114.2 185.3h1.0v6.0h-1.0zM123.2 185.3h1.0v6.0h-1.0zM129.2 185.3h1.0v6.0h-1.0zM132.2 185.3h1.0v6.0h-1.0zM220.3 185.3h1.0v6.0h-1.0zM50.1 191.3h1.0v6.0h-1.0zM63.1 191.3h1.0v6.0h-1.0zM69.1 191.3h1.0v6.0h-1.0zM84.1 191.3h1.0v6.0h-1.0zM89.2 191.3h1.0v6.0h-1.0zM92.2 191.3h1.0v6.0h-1.0zM105.2 191.3h1.0v6.0h-1.0zM114.2 191.3h1.0v6.0h-1.0zM117.2 191.3h2.0v6.0h-2.0zM122.2 191.3h1.0v6.0h-1.0zM262.4 191.3h1.0v6.0h-1.0zM70.1 197.2h1.0v6.0h-1.0zM72.1 197.2h1.0v6.0h-1.0zM78.1 197.2h1.0v6.0h-1.0zM84.1 197.2h1.0v6.0h-1.0zM88.2 197.2h2.0v6.0h-2.0zM91.2 197.2h1.0v6.0h-1.0zM97.2 197.2h2.0v6.0h-2.0zM104.2 197.2h1.0v6.0h-1.0zM110.2 197.2h1.0v6.0h-1.0zM114.2 197.2h1.0v6.0h-1.0zM116.2 197.2h1.0v6.0h-1.0zM121.2 197.2h1.0v6.0h-1.0zM124.2 197.2h1.0v6.0h-1.0zM51.1 203.2h1.0v6.0h-1.0zM58.1 203.2h2.0v6.0h-2.0zM61.1 203.2h2.0v6.0h-2.0zM80.1 203.2h2.0v6.0h-2.0zM98.2 203.2h1.0v6.0h-1.0zM100.2 203.2h1.0v6.0h-1.0zM107.2 203.2h2.0v6.0h-2.0zM119.2 203.2h1.0v6.0h-1.0zM123.2 203.2h2.0v6.0h-2.0zM151.2 203.2h1.0v6.0h-1.0zM155.2 203.2h1.0v6.0h-1.0zM159.3 203.2h1.0v6.0h-1.0zM163.3 203.2h1.0v6.0h-1.0zM61.1 209.2h1.0v6.0h-1.0zM64.1 209.2h1.0v6.0h-1.0zM67.1 209.2h1.0v6.0h-1.0zM69.1 209.2h2.0v6.0h-2.0zM80.1 209.2h1.0v6.0h-1.0zM89.2 209.2h1.0v6.0h-1.0zM100.2 209.2h1.0v6.0h-1.0zM102.2 209.2h1.0v6.0h-1.0zM106.2 209.2h1.0v6.0h-1.0zM113.2 209.2h1.0v6.0h-1.0zM117.2 209.2h1.0v6.0h-1.0zM119.2 209.2h1.0v6.0h-1.0zM123.2 209.2h1.0v6.0h-1.0zM125.2 209.2h2.0v6.0h-2.0zM136.2 209.2h1.0v6.0h-1.0zM141.2 209.2h1.0v6.0h-1.0zM152.2 209.2h1.0v6.0h-1.0zM225.3 209.2h1.0v6.0h-1.0zM63.1 215.2h1.0v6.0h-1.0zM85.1 215.2h1.0v6.0h-1.0zM98.2 215.2h1.0v6.0h-1.0zM103.2 215.2h1.0v6.0h-1.0zM115.2 215.2h2.0v6.0h-2.0zM119.2 215.2h1.0v6.0h-1.0zM123.2 215.2h1.0v6.0h-1.0zM131.2 215.2h1.0v6.0h-1.0zM134.2 215.2h1.0v6.0h-1.0zM151.2 215.2h1.0v6.0h-1.0zM163.3 215.2h1.0v6.0h-1.0zM174.3 215.2h1.0v6.0h-1.0zM57.1 221.1h1.0v6.0h-1.0zM59.1 221.1h1.0v6.0h-1.0zM73.1 221.1h1.0v6.0h-1.0zM76.1 221.1h1.0v6.0h-1.0zM83.1 221.1h1.0v6.0h-1.0zM87.2 221.1h1.0v6.0h-1.0zM89.2 221.1h1.0v6.0h-1.0zM97.2 221.1h1.0v6.0h-1.0zM100.2 221.1h1.0v6.0h-1.0zM109.2 221.1h1.0v6.0h-1.0zM116.2 221.1h1.0v6.0h-1.0zM121.2 221.1h1.0v6.0h-1.0zM123.2 221.1h1.0v6.0h-1.0zM135.2 221.1h1.0v6.0h-1.0zM162.3 221.1h1.0v6.0h-1.0zM177.3 221.1h1.0v6.0h-1.0zM58.1 227.1h1.0v6.0h-1.0zM73.1 227.1h2.0v6.0h-2.0zM77.1 227.1h1.0v6.0h-1.0zM82.1 227.1h1.0v6.0h-1.0zM85.1 227.1h1.0v6.0h-1.0zM96.2 227.1h1.0v6.0h-1.0zM109.2 227.1h1.0v6.0h-1.0zM113.2 227.1h1.0v6.0h-1.0zM118.2 227.1h1.0v6.0h-1.0zM157.2 227.1h1.0v6.0h-1.0zM204.3 227.1h1.0v6.0h-1.0zM51.1 233.1h1.0v6.0h-1.0zM59.1 233.1h1.0v6.0h-1.0zM61.1 233.1h1.0v6.0h-1.0zM65.1 233.1h1.0v6.0h-1.0zM71.1 233.1h1.0v6.0h-1.0zM74.1 233.1h1.0v6.0h-1.0zM79.1 233.1h1.0v6.0h-1.0zM83.1 233.1h1.0v6.0h-1.0zM88.2 233.1h2.0v6.0h-2.0zM110.2 233.1h1.0v6.0h-1.0zM114.2 233.1h1.0v6.0h-1.0zM118.2 233.1h1.0v6.0h-1.0zM123.2 233.1h2.0v6.0h-2.0zM126.2 233.1h1.0v6.0h-1.0zM149.2 233.1h1.0v6.0h-1.0zM157.2 233.1h1.0v6.0h-1.0zM160.3 233.1h1.0v6.0h-1.0zM54.1 239.0h1.0v6.0h-1.0zM56.1 239.0h1.0v6.0h-1.0zM58.1 239.0h5.0v6.0h-5.0zM64.1 239.0h1.0v6.0h-1.0zM80.1 239.0h1.0v6.0h-1.0zM87.2 239.0h1.0v6.0h-1.0zM89.2 239.0h1.0v6.0h-1.0zM93.2 239.0h1.0v6.0h-1.0zM117.2 239.0h1.0v6.0h-1.0zM119.2 239.0h1.0v6.0h-1.0zM124.2 239.0h1.0v6.0h-1.0zM130.2 239.0h1.0v6.0h-1.0zM155.2 239.0h1.0v6.0h-1.0zM81.1 245.0h1.0v6.0h-1.0zM84.1 245.0h3.0v6.0h-3.0zM96.2 245.0h1.0v6.0h-1.0zM101.2 245.0h1.0v6.0h-1.0zM108.2 245.0h1.0v6.0h-1.0zM114.2 245.0h2.0v6.0h-2.0zM139.2 245.0h1.0v6.0h-1.0zM61.1 251.0h1.0v6.0h-1.0zM64.1 251.0h1.0v6.0h-1.0zM72.1 251.0h1.0v6.0h-1.0zM81.1 251.0h3.0v6.0h-3.0zM89.2 251.0h2.0v6.0h-2.0zM103.2 251.0h2.0v6.0h-2.0zM121.2 251.0h1.0v6.0h-1.0zM124.2 251.0h1.0v6.0h-1.0zM147.2 251.0h1.0v6.0h-1.0zM156.2 251.0h1.0v6.0h-1.0zM173.3 251.0h1.0v6.0h-1.0zM66.1 257.0h1.0v6.0h-1.0zM83.1 257.0h1.0v6.0h-1.0zM97.2 257.0h1.0v6.0h-1.0zM111.2 257.0h1.0v6.0h-1.0zM121.2 257.0h1.0v6.0h-1.0zM125.2 257.0h1.0v6.0h-1.0zM132.2 257.0h1.0v6.0h-1.0zM137.2 257.0h2.0v6.0h-2.0zM140.2 257.0h2.0v6.0h-2.0zM147.2 257.0h1.0v6.0h-1.0zM240.4 257.0h1.0v6.0h-1.0zM57.1 262.9h1.0v6.0h-1.0zM70.1 262.9h1.0v6.0h-1.0zM89.2 262.9h1.0v6.0h-1.0zM112.2 262.9h3.0v6.0h-3.0zM123.2 262.9h1.0v6.0h-1.0zM208.3 262.9h1.0v6.0h-1.0zM58.1 268.9h1.0v6.0h-1.0zM72.1 268.9h1.0v6.0h-1.0zM80.1 268.9h2.0v6.0h-2.0zM88.2 268.9h1.0v6.0h-1.0zM90.2 268.9h1.0v6.0h-1.0zM98.2 268.9h1.0v6.0h-1.0zM101.2 268.9h2.0v6.0h-2.0zM105.2 268.9h1.0v6.0h-1.0zM114.2 268.9h1.0v6.0h-1.0zM116.2 268.9h1.0v6.0h-1.0zM122.2 268.9h1.0v6.0h-1.0zM126.2 268.9h1.0v6.0h-1.0zM158.2 268.9h1.0v6.0h-1.0zM169.3 268.9h1.0v6.0h-1.0zM174.3 268.9h1.0v6.0h-1.0zM245.4 268.9h1.0v6.0h-1.0zM50.1 274.9h1.0v6.0h-1.0zM53.1 274.9h1.0v6.0h-1.0zM60.1 274.9h2.0v6.0h-2.0zM80.1 274.9h1.0v6.0h-1.0zM87.2 274.9h1.0v6.0h-1.0zM97.2 274.9h1.0v6.0h-1.0zM101.2 274.9h1.0v6.0h-1.0zM109.2 274.9h1.0v6.0h-1.0zM112.2 274.9h1.0v6.0h-1.0zM116.2 274.9h1.0v6.0h-1.0zM123.2 274.9h1.0v6.0h-1.0zM155.2 274.9h1.0v6.0h-1.0zM157.2 274.9h1.0v6.0h-1.0zM163.3 274.9h1.0v6.0h-1.0zM258.4 274.9h1.0v6.0h-1.0zM71.1 280.9h1.0v6.0h-1.0zM81.1 280.9h1.0v6.0h-1.0zM88.2 280.9h1.0v6.0h-1.0zM97.2 280.9h1.0v6.0h-1.0zM100.2 280.9h1.0v6.0h-1.0zM102.2 280.9h1.0v6.0h-1.0zM117.2 280.9h1.0v6.0h-1.0zM55.1 286.8h2.0v6.0h-2.0zM64.1 286.8h1.0v6.0h-1.0zM78.1 286.8h1.0v6.0h-1.0zM83.1 286.8h1.0v6.0h-1.0zM90.2 286.8h1.0v6.0h-1.0zM96.2 286.8h1.0v6.0h-1.0zM100.2 286.8h1.0v6.0h-1.0zM120.2 286.8h1.0v6.0h-1.0zM129.2 286.8h1.0v6.0h-1.0zM134.2 286.8h1.0v6.0h-1.0zM248.4 286.8h1.0v6.0h-1.0zM50.1 292.8h1.0v6.0h-1.0zM59.1 292.8h1.0v6.0h-1.0zM102.2 292.8h1.0v6.0h-1.0zM107.2 292.8h2.0v6.0h-2.0zM111.2 292.8h2.0v6.0h-2.0zM119.2 292.8h1.0v6.0h-1.0zM127.2 292.8h1.0v6.0h-1.0zM133.2 292.8h1.0v6.0h-1.0zM140.2 292.8h1.0v6.0h-1.0zM163.3 292.8h1.0v6.0h-1.0zM53.1 298.8h1.0v6.0h-1.0zM57.1 298.8h2.0v6.0h-2.0zM64.1 298.8h1.0v6.0h-1.0zM73.1 298.8h1.0v6.0h-1.0zM121.2 298.8h1.0v6.0h-1.0zM228.3 298.8h1.0v6.0h-1.0zM63.1 304.8h1.0v6.0h-1.0zM66.1 304.8h1.0v6.0h-1.0zM73.1 304.8h1.0v6.0h-1.0zM88.2 304.8h1.0v6.0h-1.0zM91.2 304.8h1.0v6.0h-1.0zM93.2 304.8h1.0v6.0h-1.0zM97.2 304.8h1.0v6.0h-1.0zM99.2 304.8h1.0v6.0h-1.0zM104.2 304.8h1.0v6.0h-1.0zM115.2 304.8h1.0v6.0h-1.0zM52.1 310.7h1.0v6.0h-1.0zM58.1 310.7h1.0v6.0h-1.0zM77.1 310.7h1.0v6.0h-1.0zM85.1 310.7h1.0v6.0h-1.0zM87.2 310.7h2.0v6.0h-2.0zM92.2 310.7h1.0v6.0h-1.0zM96.2 310.7h1.0v6.0h-1.0zM106.2 310.7h1.0v6.0h-1.0zM114.2 310.7h1.0v6.0h-1.0zM116.2 310.7h1.0v6.0h-1.0zM123.2 310.7h1.0v6.0h-1.0zM132.2 310.7h1.0v6.0h-1.0zM135.2 310.7h1.0v6.0h-1.0zM150.2 310.7h1.0v6.0h-1.0zM152.2 310.7h1.0v6.0h-1.0zM233.4 310.7h1.0v6.0h-1.0z"/>
<path fill="#fff6ef" d="M101.2 24.0h1.0v6.0h-1.0zM119.2 24.0h1.0v6.0h-1.0zM152.2 24.0h1.0v6.0h-1.0zM171.3 24.0h1.0v6.0h-1.0zM191.3 24.0h1.0v6.0h-1.0zM81.1 30.0h1.0v6.0h-1.0zM161.3 30.0h1.0v6.0h-1.0zM164.3 30.0h2.0v6.0h-2.0zM168.3 30.0h1.0v6.0h-1.0zM170.3 30.0h1.0v6.0h-1.0zM176.3 30.0h1.0v6.0h-1.0zM182.3 30.0h1.0v6.0h-1.0zM185.3 30.0h2.0v6.0h-2.0zM193.3 30.0h1.0v6.0h-1.0zM222.3 30.0h1.0v6.0h-1.0zM148.2 35.9h1.0v6.0h-1.0zM151.2 35.9h3.0v6.0h-3.0zM225.3 35.9h1.0v6.0h-1.0zM230.3 35.9h1.0v6.0h-1.0zM264.4 35.9h1.0v6.0h-1.0zM81.1 41.9h1.0v6.0h-1.0zM154.2 41.9h1.0v6.0h-1.0zM156.2 41.9h1.0v6.0h-1.0zM163.3 41.9h1.0v6.0h-1.0zM167.3 41.9h1.0v6.0h-1.0zM205.3 41.9h1.0v6.0h-1.0zM53.1 47.9h1.0v6.0h-1.0zM77.1 47.9h1.0v6.0h-1.0zM114.2 47.9h1.0v6.0h-1.0zM138.2 47.9h1.0v6.0h-1.0zM156.2 47.9h1.0v6.0h-1.0zM163.3 47.9h1.0v6.0h-1.0zM169.3 47.9h1.0v6.0h-1.0zM227.3 47.9h1.0v6.0h-1.0zM233.4 47.9h1.0v6.0h-1.0zM248.4 47.9h2.0v6.0h-2.0zM51.1 53.9h1.0v6.0h-1.0zM151.2 53.9h1.0v6.0h-1.0zM53.1 59.8h1.0v6.0h-1.0zM81.1 59.8h1.0v6.0h-1.0zM91.2 59.8h1.0v6.0h-1.0zM168.3 59.8h1.0v6.0h-1.0zM184.3 59.8h1.0v6.0h-1.0zM193.3 59.8h1.0v6.0h-1.0zM201.3 59.8h1.0v6.0h-1.0zM204.3 59.8h2.0v6.0h-2.0zM210.3 59.8h1.0v6.0h-1.0zM212.3 59.8h1.0v6.0h-1.0zM214.3 59.8h2.0v6.0h-2.0zM217.3 59.8h2.0v6.0h-2.0zM229.3 59.8h1.0v6.0h-1.0zM243.4 59.8h1.0v6.0h-1.0zM248.4 59.8h1.0v6.0h-1.0zM255.4 59.8h1.0v6.0h-1.0zM86.2 65.8h1.0v6.0h-1.0zM138.2 65.8h1.0v6.0h-1.0zM149.2 65.8h1.0v6.0h-1.0zM179.3 65.8h1.0v6.0h-1.0zM188.3 65.8h2.0v6.0h-2.0zM194.3 65.8h1.0v6.0h-1.0zM226.3 65.8h1.0v6.0h-1.0zM237.4 65.8h1.0v6.0h-1.0zM245.4 65.8h1.0v6.0h-1.0zM253.4 65.8h1.0v6.0h-1.0zM52.1 71.8h1.0v6.0h-1.0zM113.2 71.8h1.0v6.0h-1.0zM132.2 71.8h1.0v6.0h-1.0zM139.2 71.8h1.0v6.0h-1.0zM175.3 71.8h1.0v6.0h-1.0zM178.3 71.8h1.0v6.0h-1.0zM205.3 71.8h1.0v6.0h-1.0zM211.3 71.8h1.0v6.0h-1.0zM229.3 71.8h1.0v6.0h-1.0zM137.2 77.8h1.0v6.0h-1.0zM146.2 77.8h1.0v6.0h-1.0zM164.3 77.8h1.0v6.0h-1.0zM166.3 77.8h2.0v6.0h-2.0zM174.3 77.8h1.0v6.0h-1.0zM186.3 77.8h1.0v6.0h-1.0zM229.3 77.8h1.0v6.0h-1.0zM234.4 77.8h1.0v6.0h-1.0zM236.4 77.8h1.0v6.0h-1.0zM245.4 77.8h1.0v6.0h-1.0zM250.4 77.8h1.0v6.0h-1.0zM252.4 77.8h1.0v6.0h-1.0zM149.2 83.7h1.0v6.0h-1.0zM171.3 83.7h1.0v6.0h-1.0zM195.3 83.7h1.0v6.0h-1.0zM212.3 83.7h1.0v6.0h-1.0zM218.3 83.7h1.0v6.0h-1.0zM222.3 83.7h1.0v6.0h-1.0zM224.3 83.7h5.0v6.0h-5.0zM241.4 83.7h1.0v6.0h-1.0zM247.4 83.7h1.0v6.0h-1.0zM254.4 83.7h1.0v6.0h-1.0zM256.4 83.7h3.0v6.0h-3.0zM262.4 83.7h1.0v6.0h-1.0zM72.1 89.7h1.0v6.0h-1.0zM163.3 89.7h2.0v6.0h-2.0zM173.3 89.7h2.0v6.0h-2.0zM176.3 89.7h1.0v6.0h-1.0zM195.3 89.7h1.0v6.0h-1.0zM212.3 89.7h1.0v6.0h-1.0zM217.3 89.7h1.0v6.0h-1.0zM227.3 89.7h1.0v6.0h-1.0zM230.3 89.7h1.0v6.0h-1.0zM232.4 89.7h1.0v6.0h-1.0zM240.4 89.7h1.0v6.0h-1.0zM252.4 89.7h1.0v6.0h-1.0zM255.4 89.7h1.0v6.0h-1.0zM81.1 95.7h1.0v6.0h-1.0zM91.2 95.7h1.0v6.0h-1.0zM174.3 95.7h1.0v6.0h-1.0zM217.3 95.7h2.0v6.0h-2.0zM220.3 95.7h1.0v6.0h-1.0zM223.3 95.7h2.0v6.0h-2.0zM229.3 95.7h1.0v6.0h-1.0zM231.4 95.7h1.0v6.0h-1.0zM241.4 95.7h1.0v6.0h-1.0zM244.4 95.7h1.0v6.0h-1.0zM86.2 101.7h1.0v6.0h-1.0zM133.2 101.7h1.0v6.0h-1.0zM136.2 101.7h1.0v6.0h-1.0zM179.3 101.7h1.0v6.0h-1.0zM183.3 101.7h2.0v6.0h-2.0zM188.3 101.7h1.0v6.0h-1.0zM198.3 101.7h1.0v6.0h-1.0zM210.3 101.7h2.0v6.0h-2.0zM217.3 101.7h1.0v6.0h-1.0zM221.3 101.7h1.0v6.0h-1.0zM223.3 101.7h1.0v6.0h-1.0zM225.3 101.7h1.0v6.0h-1.0zM234.4 101.7h1.0v6.0h-1.0zM239.4 101.7h1.0v6.0h-1.0zM241.4 101.7h1.0v6.0h-1.0zM246.4 101.7h2.0v6.0h-2.0zM249.4 101.7h2.0v6.0h-2.0zM58.1 107.6h1.0v6.0h-1.0zM76.1 107.6h1.0v6.0h-1.0zM156.2 107.6h1.0v6.0h-1.0zM168.3 107.6h1.0v6.0h-1.0zM174.3 107.6h1.0v6.0h-1.0zM201.3 107.6h1.0v6.0h-1.0zM203.3 107.6h1.0v6.0h-1.0zM216.3 107.6h1.0v6.0h-1.0zM219.3 107.6h1.0v6.0h-1.0zM238.4 107.6h2.0v6.0h-2.0zM245.4 107.6h1.0v6.0h-1.0zM251.4 107.6h1.0v6.0h-1.0zM53.1 113.6h1.0v6.0h-1.0zM57.1 113.6h1.0v6.0h-1.0zM64.1 113.6h1.0v6.0h-1.0zM66.1 113.6h1.0v6.0h-1.0zM122.2 113.6h1.0v6.0h-1.0zM189.3 113.6h1.0v6.0h-1.0zM215.3 113.6h1.0v6.0h-1.0zM229.3 113.6h1.0v6.0h-1.0zM238.4 113.6h1.0v6.0h-1.0zM256.4 113.6h1.0v6.0h-1.0zM52.1 119.6h1.0v6.0h-1.0zM56.1 119.6h1.0v6.0h-1.0zM60.1 119.6h2.0v6.0h-2.0zM63.1 119.6h1.0v6.0h-1.0zM67.1 119.6h1.0v6.0h-1.0zM113.2 119.6h1.0v6.0h-1.0zM164.3 119.6h1.0v6.0h-1.0zM172.3 119.6h2.0v6.0h-2.0zM198.3 119.6h1.0v6.0h-1.0zM201.3 119.6h1.0v6.0h-1.0zM209.3 119.6h1.0v6.0h-1.0zM224.3 119.6h1.0v6.0h-1.0zM242.4 119.6h1.0v6.0h-1.0zM246.4 119.6h1.0v6.0h-1.0zM253.4 119.6h1.0v6.0h-1.0zM57.1 125.5h2.0v6.0h-2.0zM77.1 125.5h1.0v6.0h-1.0zM81.1 125.5h1.0v6.0h-1.0zM177.3 125.5h1.0v6.0h-1.0zM179.3 125.5h1.0v6.0h-1.0zM191.3 125.5h1.0v6.0h-1.0zM194.3 125.5h1.0v6.0h-1.0zM197.3 125.5h2.0v6.0h-2.0zM212.3 125.5h1.0v6.0h-1.0zM219.3 125.5h1.0v6.0h-1.0zM229.3 125.5h1.0v6.0h-1.0zM234.4 125.5h2.0v6.0h-2.0zM245.4 125.5h1.0v6.0h-1.0zM254.4 125.5h1.0v6.0h-1.0zM264.4 125.5h1.0v6.0h-1.0zM165.3 131.5h1.0v6.0h-1.0zM167.3 131.5h1.0v6.0h-1.0zM173.3 131.5h1.0v6.0h-1.0zM176.3 131.5h1.0v6.0h-1.0zM187.3 131.5h1.0v6.0h-1.0zM191.3 131.5h1.0v6.0h-1.0zM203.3 131.5h1.0v6.0h-1.0zM205.3 131.5h1.0v6.0h-1.0zM207.3 131.5h3.0v6.0h-3.0zM211.3 131.5h1.0v6.0h-1.0zM217.3 131.5h1.0v6.0h-1.0zM219.3 131.5h1.0v6.0h-1.0zM224.3 131.5h1.0v6.0h-1.0zM242.4 131.5h1.0v6.0h-1.0zM251.4 131.5h1.0v6.0h-1.0zM253.4 131.5h1.0v6.0h-1.0zM51.1 137.5h1.0v6.0h-1.0zM60.1 137.5h1.0v6.0h-1.0zM64.1 137.5h1.0v6.0h-1.0zM146.2 137.5h1.0v6.0h-1.0zM159.3 137.5h1.0v6.0h-1.0zM170.3 137.5h1.0v6.0h-1.0zM196.3 137.5h1.0v6.0h-1.0zM208.3 137.5h1.0v6.0h-1.0zM213.3 137.5h1.0v6.0h-1.0zM221.3 137.5h1.0v6.0h-1.0zM229.3 137.5h2.0v6.0h-2.0zM253.4 137.5h1.0v6.0h-1.0zM96.2 143.5h1.0v6.0h-1.0zM128.2 143.5h1.0v6.0h-1.0zM139.2 143.5h1.0v6.0h-1.0zM152.2 143.5h1.0v6.0h-1.0zM161.3 143.5h1.0v6.0h-1.0zM171.3 143.5h2.0v6.0h-2.0zM198.3 143.5h1.0v6.0h-1.0zM200.3 143.5h1.0v6.0h-1.0zM207.3 143.5h1.0v6.0h-1.0zM225.3 143.5h2.0v6.0h-2.0zM229.3 143.5h1.0v6.0h-1.0zM232.4 143.5h1.0v6.0h-1.0zM243.4 143.5h1.0v6.0h-1.0zM246.4 143.5h1.0v6.0h-1.0zM250.4 143.5h2.0v6.0h-2.0zM260.4 143.5h1.0v6.0h-1.0zM50.1 149.4h1.0v6.0h-1.0zM62.1 149.4h1.0v6.0h-1.0zM64.1 149.4h1.0v6.0h-1.0zM161.3 149.4h1.0v6.0h-1.0zM163.3 149.4h3.0v6.0h-3.0zM186.3 149.4h1.0v6.0h-1.0zM204.3 149.4h1.0v6.0h-1.0zM206.3 149.4h1.0v6.0h-1.0zM208.3 149.4h1.0v6.0h-1.0zM215.3 149.4h1.0v6.0h-1.0zM219.3 149.4h1.0v6.0h-1.0zM221.3 149.4h1.0v6.0h-1.0zM223.3 149.4h1.0v6.0h-1.0zM246.4 149.4h1.0v6.0h-1.0zM248.4 149.4h1.0v6.0h-1.0zM254.4 149.4h1.0v6.0h-1.0zM138.2 155.4h1.0v6.0h-1.0zM168.3 155.4h1.0v6.0h-1.0zM210.3 155.4h1.0v6.0h-1.0zM219.3 155.4h2.0v6.0h-2.0zM225.3 155.4h1.0v6.0h-1.0zM230.3 155.4h1.0v6.0h-1.0zM239.4 155.4h1.0v6.0h-1.0zM249.4 155.4h1.0v6.0h-1.0zM55.1 161.4h1.0v6.0h-1.0zM57.1 161.4h1.0v6.0h-1.0zM132.2 161.4h1.0v6.0h-1.0zM187.3 161.4h2.0v6.0h-2.0zM195.3 161.4h1.0v6.0h-1.0zM208.3 161.4h1.0v6.0h-1.0zM211.3 161.4h3.0v6.0h-3.0zM216.3 161.4h1.0v6.0h-1.0zM222.3 161.4h1.0v6.0h-1.0zM249.4 161.4h1.0v6.0h-1.0zM241.4 167.4h1.0v6.0h-1.0zM248.4 167.4h1.0v6.0h-1.0zM72.1 173.3h1.0v6.0h-1.0zM78.1 173.3h1.0v6.0h-1.0zM90.2 173.3h1.0v6.0h-1.0zM97.2 173.3h1.0v6.0h-1.0zM100.2 173.3h1.0v6.0h-1.0zM105.2 173.3h2.0v6.0h-2.0zM108.2 173.3h1.0v6.0h-1.0zM110.2 173.3h1.0v6.0h-1.0zM122.2 173.3h2.0v6.0h-2.0zM126.2 173.3h1.0v6.0h-1.0zM132.2 173.3h1.0v6.0h-1.0zM135.2 173.3h1.0v6.0h-1.0zM138.2 173.3h1.0v6.0h-1.0zM141.2 173.3h1.0v6.0h-1.0zM146.2 173.3h1.0v6.0h-1.0zM204.3 173.3h1.0v6.0h-1.0zM60.1 179.3h1.0v6.0h-1.0zM103.2 179.3h1.0v6.0h-1.0zM115.2 179.3h1.0v6.0h-1.0zM155.2 179.3h1.0v6.0h-1.0zM61.1 185.3h1.0v6.0h-1.0zM116.2 185.3h2.0v6.0h-2.0zM65.1 191.3h1.0v6.0h-1.0zM86.2 191.3h1.0v6.0h-1.0zM112.2 191.3h1.0v6.0h-1.0zM115.2 191.3h1.0v6.0h-1.0zM121.2 191.3h1.0v6.0h-1.0zM57.1 197.2h1.0v6.0h-1.0zM62.1 197.2h1.0v6.0h-1.0zM66.1 197.2h1.0v6.0h-1.0zM74.1 197.2h1.0v6.0h-1.0zM83.1 197.2h1.0v6.0h-1.0zM92.2 197.2h1.0v6.0h-1.0zM95.2 197.2h1.0v6.0h-1.0zM109.2 197.2h1.0v6.0h-1.0zM219.3 197.2h1.0v6.0h-1.0zM227.3 197.2h1.0v6.0h-1.0zM244.4 197.2h1.0v6.0h-1.0zM55.1 203.2h2.0v6.0h-2.0zM67.1 203.2h1.0v6.0h-1.0zM87.2 203.2h1.0v6.0h-1.0zM93.2 203.2h1.0v6.0h-1.0zM96.2 203.2h1.0v6.0h-1.0zM102.2 203.2h1.0v6.0h-1.0zM110.2 203.2h4.0v6.0h-4.0zM154.2 203.2h1.0v6.0h-1.0zM157.2 203.2h1.0v6.0h-1.0zM207.3 203.2h1.0v6.0h-1.0zM53.1 209.2h1.0v6.0h-1.0zM59.1 209.2h1.0v6.0h-1.0zM83.1 209.2h1.0v6.0h-1.0zM93.2 209.2h1.0v6.0h-1.0zM98.2 209.2h2.0v6.0h-2.0zM110.2 209.2h1.0v6.0h-1.0zM116.2 209.2h1.0v6.0h-1.0zM118.2 209.2h1.0v6.0h-1.0zM122.2 209.2h1.0v6.0h-1.0zM129.2 209.2h1.0v6.0h-1.0zM140.2 209.2h1.0v6.0h-1.0zM233.4 209.2h1.0v6.0h-1.0zM255.4 209.2h1.0v6.0h-1.0zM70.1 215.2h1.0v6.0h-1.0zM87.2 215.2h1.0v6.0h-1.0zM96.2 215.2h1.0v6.0h-1.0zM136.2 215.2h1.0v6.0h-1.0zM51.1 221.1h1.0v6.0h-1.0zM53.1 221.1h1.0v6.0h-1.0zM64.1 221.1h1.0v6.0h-1.0zM74.1 221.1h1.0v6.0h-1.0zM78.1 221.1h1.0v6.0h-1.0zM86.2 221.1h1.0v6.0h-1.0zM94.2 221.1h1.0v6.0h-1.0zM111.2 221.1h1.0v6.0h-1.0zM113.2 221.1h1.0v6.0h-1.0zM118.2 221.1h1.0v6.0h-1.0zM156.2 221.1h1.0v6.0h-1.0zM160.3 221.1h1.0v6.0h-1.0zM225.3 221.1h1.0v6.0h-1.0zM236.4 221.1h1.0v6.0h-1.0zM70.1 227.1h2.0v6.0h-2.0zM75.1 227.1h1.0v6.0h-1.0zM88.2 227.1h1.0v6.0h-1.0zM90.2 227.1h1.0v6.0h-1.0zM95.2 227.1h1.0v6.0h-1.0zM99.2 227.1h1.0v6.0h-1.0zM116.2 227.1h1.0v6.0h-1.0zM121.2 227.1h1.0v6.0h-1.0zM123.2 227.1h1.0v6.0h-1.0zM154.2 227.1h1.0v6.0h-1.0zM160.3 227.1h1.0v6.0h-1.0zM87.2 233.1h1.0v6.0h-1.0zM104.2 233.1h1.0v6.0h-1.0zM112.2 233.1h1.0v6.0h-1.0zM153.2 233.1h1.0v6.0h-1.0zM155.2 233.1h1.0v6.0h-1.0zM159.3 233.1h1.0v6.0h-1.0zM176.3 233.1h1.0v6.0h-1.0zM53.1 239.0h1.0v6.0h-1.0zM65.1 239.0h1.0v6.0h-1.0zM84.1 239.0h1.0v6.0h-1.0zM86.2 239.0h1.0v6.0h-1.0zM91.2 239.0h1.0v6.0h-1.0zM102.2 239.0h1.0v6.0h-1.0zM107.2 239.0h1.0v6.0h-1.0zM111.2 239.0h1.0v6.0h-1.0zM116.2 239.0h1.0v6.0h-1.0zM153.2 239.0h1.0v6.0h-1.0zM156.2 239.0h1.0v6.0h-1.0zM193.3 239.0h1.0v6.0h-1.0zM78.1 245.0h1.0v6.0h-1.0zM92.2 245.0h1.0v6.0h-1.0zM94.2 245.0h1.0v6.0h-1.0zM103.2 245.0h1.0v6.0h-1.0zM117.2 245.0h1.0v6.0h-1.0zM120.2 245.0h1.0v6.0h-1.0zM134.2 245.0h1.0v6.0h-1.0zM148.2 245.0h1.0v6.0h-1.0zM156.2 245.0h1.0v6.0h-1.0zM247.4 245.0h1.0v6.0h-1.0zM57.1 251.0h1.0v6.0h-1.0zM60.1 251.0h1.0v6.0h-1.0zM87.2 251.0h1.0v6.0h-1.0zM93.2 251.0h1.0v6.0h-1.0zM110.2 251.0h1.0v6.0h-1.0zM115.2 251.0h1.0v6.0h-1.0zM53.1 257.0h1.0v6.0h-1.0zM84.1 257.0h1.0v6.0h-1.0zM89.2 257.0h1.0v6.0h-1.0zM94.2 257.0h1.0v6.0h-1.0zM96.2 257.0h1.0v6.0h-1.0zM110.2 257.0h1.0v6.0h-1.0zM122.2 257.0h1.0v6.0h-1.0zM124.2 257.0h1.0v6.0h-1.0zM130.2 257.0h1.0v6.0h-1.0zM151.2 257.0h1.0v6.0h-1.0zM158.2 257.0h2.0v6.0h-2.0zM51.1 262.9h1.0v6.0h-1.0zM72.1 262.9h1.0v6.0h-1.0zM75.1 262.9h1.0v6.0h-1.0zM81.1 262.9h1.0v6.0h-1.0zM98.2 262.9h1.0v6.0h-1.0zM109.2 262.9h2.0v6.0h-2.0zM171.3 262.9h1.0v6.0h-1.0zM245.4 262.9h1.0v6.0h-1.0zM61.1 268.9h1.0v6.0h-1.0zM67.1 268.9h2.0v6.0h-2.0zM86.2 268.9h1.0v6.0h-1.0zM94.2 268.9h2.0v6.0h-2.0zM99.2 268.9h1.0v6.0h-1.0zM104.2 268.9h1.0v6.0h-1.0zM124.2 268.9h1.0v6.0h-1.0zM132.2 268.9h1.0v6.0h-1.0zM152.2 268.9h1.0v6.0h-1.0zM157.2 268.9h1.0v6.0h-1.0zM56.1 274.9h1.0v6.0h-1.0zM58.1 274.9h1.0v6.0h-1.0zM77.1 274.9h1.0v6.0h-1.0zM82.1 274.9h1.0v6.0h-1.0zM85.1 274.9h1.0v6.0h-1.0zM89.2 274.9h2.0v6.0h-2.0zM107.2 274.9h1.0v6.0h-1.0zM119.2 274.9h1.0v6.0h-1.0zM226.3 274.9h1.0v6.0h-1.0zM79.1 280.9h1.0v6.0h-1.0zM82.1 280.9h1.0v6.0h-1.0zM84.1 280.9h1.0v6.0h-1.0zM95.2 280.9h1.0v6.0h-1.0zM159.3 280.9h1.0v6.0h-1.0zM234.4 280.9h1.0v6.0h-1.0zM50.1 286.8h1.0v6.0h-1.0zM69.1 286.8h1.0v6.0h-1.0zM73.1 286.8h2.0v6.0h-2.0zM93.2 286.8h1.0v6.0h-1.0zM104.2 286.8h1.0v6.0h-1.0zM123.2 286.8h1.0v6.0h-1.0zM141.2 286.8h1.0v6.0h-1.0zM176.3 286.8h1.0v6.0h-1.0zM65.1 292.8h1.0v6.0h-1.0zM74.1 292.8h1.0v6.0h-1.0zM89.2 292.8h1.0v6.0h-1.0zM91.2 292.8h1.0v6.0h-1.0zM101.2 292.8h1.0v6.0h-1.0zM126.2 292.8h1.0v6.0h-1.0zM129.2 292.8h1.0v6.0h-1.0zM136.2 292.8h1.0v6.0h-1.0zM156.2 292.8h1.0v6.0h-1.0zM53.1 304.8h1.0v6.0h-1.0zM68.1 304.8h1.0v6.0h-1.0zM80.1 304.8h2.0v6.0h-2.0zM84.1 304.8h1.0v6.0h-1.0zM107.2 304.8h2.0v6.0h-2.0zM113.2 304.8h2.0v6.0h-2.0zM122.2 304.8h1.0v6.0h-1.0zM184.3 304.8h1.0v6.0h-1.0zM189.3 304.8h1.0v6.0h-1.0zM198.3 304.8h1.0v6.0h-1.0zM50.1 310.7h1.0v6.0h-1.0zM76.1 310.7h1.0v6.0h-1.0zM79.1 310.7h1.0v6.0h-1.0zM90.2 310.7h1.0v6.0h-1.0zM113.2 310.7h1.0v6.0h-1.0zM124.2 310.7h2.0v6.0h-2.0zM142.2 310.7h1.0v6.0h-1.0zM145.2 310.7h1.0v6.0h-1.0zM212.3 310.7h1.0v6.0h-1.0zM262.4 310.7h1.0v6.0h-1.0z"/>
<path fill="#ffffff" d="M149.2 24.0h3.0v6.0h-3.0zM153.2 24.0h8.0v6.0h-8.0zM195.3 24.0h1.0v6.0h-1.0zM215.3 24.0h1.0v6.0h-1.0zM264.4 24.0h1.0v6.0h-1.0zM169.3 30.0h1.0v6.0h-1.0zM174.3 30.0h1.0v6.0h-1.0zM190.3 30.0h2.0v6.0h-2.0zM197.3 30.0h1.0v6.0h-1.0zM217.3 30.0h1.0v6.0h-1.0zM255.4 30.0h1.0v6.0h-1.0zM258.4 30.0h8.0v6.0h-8.0zM150.2 35.9h1.0v6.0h-1.0zM161.3 35.9h14.0v6.0h-14.0zM198.3 35.9h1.0v6.0h-1.0zM204.3 35.9h1.0v6.0h-1.0zM240.4 35.9h1.0v6.0h-1.0zM263.4 35.9h1.0v6.0h-1.0zM170.3 41.9h1.0v6.0h-1.0zM180.3 41.9h1.0v6.0h-1.0zM248.4 41.9h1.0v6.0h-1.0zM258.4 41.9h1.0v6.0h-1.0zM260.4 41.9h2.0v6.0h-2.0zM212.3 47.9h1.0v6.0h-1.0zM245.4 47.9h1.0v6.0h-1.0zM250.4 47.9h1.0v6.0h-1.0zM260.4 47.9h1.0v6.0h-1.0zM161.3 53.9h2.0v6.0h-2.0zM201.3 53.9h1.0v6.0h-1.0zM166.3 59.8h1.0v6.0h-1.0zM176.3 59.8h1.0v6.0h-1.0zM185.3 59.8h1.0v6.0h-1.0zM191.3 59.8h2.0v6.0h-2.0zM199.3 59.8h1.0v6.0h-1.0zM206.3 59.8h1.0v6.0h-1.0zM221.3 59.8h1.0v6.0h-1.0zM225.3 59.8h1.0v6.0h-1.0zM238.4 59.8h1.0v6.0h-1.0zM244.4 59.8h2.0v6.0h-2.0zM176.3 65.8h1.0v6.0h-1.0zM181.3 65.8h1.0v6.0h-1.0zM186.3 65.8h1.0v6.0h-1.0zM206.3 65.8h1.0v6.0h-1.0zM208.3 65.8h1.0v6.0h-1.0zM211.3 65.8h1.0v6.0h-1.0zM214.3 65.8h1.0v6.0h-1.0zM217.3 65.8h1.0v6.0h-1.0zM229.3 65.8h1.0v6.0h-1.0zM234.4 65.8h1.0v6.0h-1.0zM244.4 65.8h1.0v6.0h-1.0zM249.4 65.8h1.0v6.0h-1.0zM256.4 65.8h1.0v6.0h-1.0zM186.3 71.8h1.0v6.0h-1.0zM189.3 71.8h1.0v6.0h-1.0zM195.3 71.8h1.0v6.0h-1.0zM206.3 71.8h1.0v6.0h-1.0zM212.3 77.8h1.0v6.0h-1.0zM216.3 77.8h1.0v6.0h-1.0zM241.4 77.8h1.0v6.0h-1.0zM256.4 77.8h1.0v6.0h-1.0zM258.4 77.8h8.0v6.0h-8.0zM200.3 83.7h1.0v6.0h-1.0zM204.3 83.7h1.0v6.0h-1.0zM213.3 83.7h1.0v6.0h-1.0zM221.3 83.7h1.0v6.0h-1.0zM238.4 83.7h1.0v6.0h-1.0zM255.4 83.7h1.0v6.0h-1.0zM259.4 83.7h1.0v6.0h-1.0zM261.4 83.7h1.0v6.0h-1.0zM263.4 83.7h1.0v6.0h-1.0zM169.3 89.7h1.0v6.0h-1.0zM188.3 89.7h1.0v6.0h-1.0zM206.3 89.7h1.0v6.0h-1.0zM209.3 89.7h1.0v6.0h-1.0zM215.3 89.7h2.0v6.0h-2.0zM231.4 89.7h1.0v6.0h-1.0zM235.4 89.7h1.0v6.0h-1.0zM248.4 89.7h1.0v6.0h-1.0zM250.4 89.7h1.0v6.0h-1.0zM253.4 89.7h1.0v6.0h-1.0zM257.4 89.7h1.0v6.0h-1.0zM125.2 95.7h1.0v6.0h-1.0zM128.2 95.7h1.0v6.0h-1.0zM132.2 95.7h2.0v6.0h-2.0zM144.2 95.7h1.0v6.0h-1.0zM146.2 95.7h1.0v6.0h-1.0zM222.3 95.7h1.0v6.0h-1.0zM234.4 95.7h1.0v6.0h-1.0zM236.4 95.7h1.0v6.0h-1.0zM248.4 95.7h2.0v6.0h-2.0zM134.2 101.7h1.0v6.0h-1.0zM137.2 101.7h2.0v6.0h-2.0zM168.3 101.7h1.0v6.0h-1.0zM199.3 101.7h1.0v6.0h-1.0zM203.3 101.7h1.0v6.0h-1.0zM215.3 101.7h1.0v6.0h-1.0zM233.4 101.7h1.0v6.0h-1.0zM237.4 101.7h1.0v6.0h-1.0zM252.4 101.7h1.0v6.0h-1.0zM255.4 101.7h1.0v6.0h-1.0zM259.4 101.7h2.0v6.0h-2.0zM265.4 101.7h1.0v6.0h-1.0zM50.1 107.6h1.0v6.0h-1.0zM56.1 107.6h2.0v6.0h-2.0zM64.1 107.6h1.0v6.0h-1.0zM171.3 107.6h1.0v6.0h-1.0zM173.3 107.6h1.0v6.0h-1.0zM222.3 107.6h1.0v6.0h-1.0zM227.3 107.6h1.0v6.0h-1.0zM250.4 107.6h1.0v6.0h-1.0zM257.4 107.6h9.0v6.0h-9.0zM52.1 113.6h1.0v6.0h-1.0zM165.3 113.6h1.0v6.0h-1.0zM227.3 113.6h1.0v6.0h-1.0zM233.4 113.6h1.0v6.0h-1.0zM241.4 113.6h1.0v6.0h-1.0zM258.4 113.6h1.0v6.0h-1.0zM260.4 113.6h6.0v6.0h-6.0zM51.1 119.6h1.0v6.0h-1.0zM203.3 119.6h1.0v6.0h-1.0zM212.3 119.6h1.0v6.0h-1.0zM214.3 119.6h1.0v6.0h-1.0zM218.3 119.6h1.0v6.0h-1.0zM222.3 119.6h1.0v6.0h-1.0zM228.3 119.6h1.0v6.0h-1.0zM231.4 119.6h1.0v6.0h-1.0zM236.4 119.6h1.0v6.0h-1.0zM245.4 119.6h1.0v6.0h-1.0zM251.4 119.6h1.0v6.0h-1.0zM254.4 119.6h1.0v6.0h-1.0zM52.1 125.5h1.0v6.0h-1.0zM56.1 125.5h1.0v6.0h-1.0zM61.1 125.5h1.0v6.0h-1.0zM63.1 125.5h1.0v6.0h-1.0zM181.3 125.5h1.0v6.0h-1.0zM187.3 125.5h1.0v6.0h-1.0zM192.3 125.5h2.0v6.0h-2.0zM218.3 125.5h1.0v6.0h-1.0zM239.4 125.5h1.0v6.0h-1.0zM258.4 125.5h1.0v6.0h-1.0zM265.4 125.5h1.0v6.0h-1.0zM149.2 131.5h3.0v6.0h-3.0zM153.2 131.5h3.0v6.0h-3.0zM158.2 131.5h1.0v6.0h-1.0zM160.3 131.5h1.0v6.0h-1.0zM168.3 131.5h1.0v6.0h-1.0zM193.3 131.5h1.0v6.0h-1.0zM202.3 131.5h1.0v6.0h-1.0zM204.3 131.5h1.0v6.0h-1.0zM221.3 131.5h2.0v6.0h-2.0zM231.4 131.5h1.0v6.0h-1.0zM236.4 131.5h1.0v6.0h-1.0zM238.4 131.5h1.0v6.0h-1.0zM243.4 131.5h1.0v6.0h-1.0zM249.4 131.5h1.0v6.0h-1.0zM252.4 131.5h1.0v6.0h-1.0zM254.4 131.5h1.0v6.0h-1.0zM151.2 137.5h1.0v6.0h-1.0zM154.2 137.5h3.0v6.0h-3.0zM158.2 137.5h1.0v6.0h-1.0zM193.3 137.5h1.0v6.0h-1.0zM206.3 137.5h1.0v6.0h-1.0zM241.4 137.5h1.0v6.0h-1.0zM258.4 137.5h8.0v6.0h-8.0zM173.3 143.5h1.0v6.0h-1.0zM205.3 143.5h1.0v6.0h-1.0zM210.3 143.5h1.0v6.0h-1.0zM215.3 143.5h1.0v6.0h-1.0zM220.3 143.5h1.0v6.0h-1.0zM233.4 143.5h2.0v6.0h-2.0zM238.4 143.5h1.0v6.0h-1.0zM241.4 143.5h2.0v6.0h-2.0zM225.3 149.4h1.0v6.0h-1.0zM230.3 149.4h1.0v6.0h-1.0zM234.4 149.4h1.0v6.0h-1.0zM237.4 149.4h1.0v6.0h-1.0zM249.4 149.4h1.0v6.0h-1.0zM252.4 149.4h1.0v6.0h-1.0zM53.1 155.4h1.0v6.0h-1.0zM60.1 155.4h1.0v6.0h-1.0zM63.1 155.4h1.0v6.0h-1.0zM65.1 155.4h3.0v6.0h-3.0zM176.3 155.4h2.0v6.0h-2.0zM248.4 155.4h1.0v6.0h-1.0zM265.4 155.4h1.0v6.0h-1.0zM52.1 161.4h1.0v6.0h-1.0zM58.1 161.4h1.0v6.0h-1.0zM62.1 161.4h1.0v6.0h-1.0zM184.3 161.4h1.0v6.0h-1.0zM192.3 161.4h1.0v6.0h-1.0zM202.3 161.4h1.0v6.0h-1.0zM225.3 161.4h1.0v6.0h-1.0zM239.4 161.4h1.0v6.0h-1.0zM261.4 161.4h1.0v6.0h-1.0zM93.2 173.3h1.0v6.0h-1.0zM113.2 173.3h1.0v6.0h-1.0zM117.2 173.3h1.0v6.0h-1.0zM137.2 173.3h1.0v6.0h-1.0zM139.2 173.3h1.0v6.0h-1.0zM142.2 173.3h1.0v6.0h-1.0zM145.2 173.3h1.0v6.0h-1.0zM57.1 179.3h1.0v6.0h-1.0zM65.1 179.3h1.0v6.0h-1.0zM120.2 179.3h1.0v6.0h-1.0zM69.1 185.3h1.0v6.0h-1.0zM77.1 185.3h1.0v6.0h-1.0zM91.2 185.3h1.0v6.0h-1.0zM56.1 191.3h1.0v6.0h-1.0zM58.1 191.3h1.0v6.0h-1.0zM60.1 191.3h1.0v6.0h-1.0zM68.1 191.3h1.0v6.0h-1.0zM70.1 191.3h1.0v6.0h-1.0zM88.2 191.3h1.0v6.0h-1.0zM51.1 197.2h1.0v6.0h-1.0zM80.1 197.2h2.0v6.0h-2.0zM94.2 197.2h1.0v6.0h-1.0zM103.2 197.2h1.0v6.0h-1.0zM123.2 197.2h1.0v6.0h-1.0zM74.1 203.2h1.0v6.0h-1.0zM78.1 203.2h1.0v6.0h-1.0zM95.2 203.2h1.0v6.0h-1.0zM97.2 203.2h1.0v6.0h-1.0zM105.2 203.2h1.0v6.0h-1.0zM114.2 203.2h1.0v6.0h-1.0zM122.2 203.2h1.0v6.0h-1.0zM158.2 203.2h1.0v6.0h-1.0zM55.1 209.2h1.0v6.0h-1.0zM68.1 209.2h1.0v6.0h-1.0zM75.1 209.2h1.0v6.0h-1.0zM105.2 209.2h1.0v6.0h-1.0zM51.1 215.2h1.0v6.0h-1.0zM55.1 215.2h1.0v6.0h-1.0zM58.1 215.2h1.0v6.0h-1.0zM64.1 215.2h1.0v6.0h-1.0zM50.1 221.1h1.0v6.0h-1.0zM55.1 221.1h1.0v6.0h-1.0zM58.1 221.1h1.0v6.0h-1.0zM79.1 221.1h1.0v6.0h-1.0zM81.1 221.1h1.0v6.0h-1.0zM103.2 221.1h1.0v6.0h-1.0zM107.2 221.1h1.0v6.0h-1.0zM125.2 221.1h7.0v6.0h-7.0zM133.2 221.1h2.0v6.0h-2.0zM136.2 221.1h2.0v6.0h-2.0zM139.2 221.1h10.0v6.0h-10.0zM83.1 227.1h1.0v6.0h-1.0zM97.2 227.1h1.0v6.0h-1.0zM104.2 227.1h2.0v6.0h-2.0zM151.2 227.1h1.0v6.0h-1.0zM155.2 227.1h1.0v6.0h-1.0zM165.3 227.1h1.0v6.0h-1.0zM70.1 233.1h1.0v6.0h-1.0zM72.1 233.1h1.0v6.0h-1.0zM78.1 233.1h1.0v6.0h-1.0zM50.1 239.0h1.0v6.0h-1.0zM57.1 239.0h1.0v6.0h-1.0zM81.1 239.0h1.0v6.0h-1.0zM104.2 239.0h1.0v6.0h-1.0zM106.2 239.0h1.0v6.0h-1.0zM109.2 239.0h1.0v6.0h-1.0zM112.2 239.0h1.0v6.0h-1.0zM149.2 239.0h1.0v6.0h-1.0zM158.2 239.0h1.0v6.0h-1.0zM68.1 251.0h1.0v6.0h-1.0zM95.2 251.0h1.0v6.0h-1.0zM117.2 251.0h1.0v6.0h-1.0zM122.2 251.0h1.0v6.0h-1.0zM54.1 257.0h3.0v6.0h-3.0zM59.1 257.0h1.0v6.0h-1.0zM71.1 257.0h1.0v6.0h-1.0zM78.1 257.0h1.0v6.0h-1.0zM81.1 257.0h1.0v6.0h-1.0zM85.1 257.0h1.0v6.0h-1.0zM87.2 257.0h1.0v6.0h-1.0zM99.2 257.0h2.0v6.0h-2.0zM108.2 257.0h1.0v6.0h-1.0zM133.2 257.0h1.0v6.0h-1.0zM136.2 257.0h1.0v6.0h-1.0zM149.2 257.0h1.0v6.0h-1.0zM156.2 257.0h1.0v6.0h-1.0zM65.1 262.9h1.0v6.0h-1.0zM106.2 262.9h1.0v6.0h-1.0zM121.2 262.9h1.0v6.0h-1.0zM75.1 268.9h1.0v6.0h-1.0zM92.2 268.9h1.0v6.0h-1.0zM149.2 268.9h1.0v6.0h-1.0zM154.2 268.9h1.0v6.0h-1.0zM78.1 274.9h1.0v6.0h-1.0zM92.2 274.9h1.0v6.0h-1.0zM98.2 274.9h1.0v6.0h-1.0zM104.2 274.9h1.0v6.0h-1.0zM106.2 274.9h1.0v6.0h-1.0zM120.2 274.9h1.0v6.0h-1.0zM57.1 280.9h1.0v6.0h-1.0zM61.1 280.9h2.0v6.0h-2.0zM64.1 280.9h2.0v6.0h-2.0zM85.1 280.9h1.0v6.0h-1.0zM89.2 280.9h1.0v6.0h-1.0zM96.2 280.9h1.0v6.0h-1.0zM103.2 280.9h1.0v6.0h-1.0zM111.2 280.9h1.0v6.0h-1.0zM123.2 280.9h1.0v6.0h-1.0zM153.2 280.9h2.0v6.0h-2.0zM65.1 286.8h1.0v6.0h-1.0zM75.1 286.8h2.0v6.0h-2.0zM52.1 292.8h1.0v6.0h-1.0zM77.1 292.8h1.0v6.0h-1.0zM97.2 292.8h1.0v6.0h-1.0zM120.2 292.8h1.0v6.0h-1.0zM141.2 292.8h1.0v6.0h-1.0zM150.2 292.8h1.0v6.0h-1.0zM153.2 292.8h1.0v6.0h-1.0zM74.1 298.8h1.0v6.0h-1.0zM77.1 298.8h1.0v6.0h-1.0zM82.1 298.8h1.0v6.0h-1.0zM86.2 298.8h1.0v6.0h-1.0zM92.2 298.8h1.0v6.0h-1.0zM102.2 298.8h2.0v6.0h-2.0zM112.2 298.8h1.0v6.0h-1.0zM77.1 304.8h2.0v6.0h-2.0zM83.1 304.8h1.0v6.0h-1.0zM111.2 304.8h2.0v6.0h-2.0zM124.2 304.8h1.0v6.0h-1.0zM54.1 310.7h1.0v6.0h-1.0zM64.1 310.7h1.0v6.0h-1.0zM70.1 310.7h1.0v6.0h-1.0zM75.1 310.7h1.0v6.0h-1.0zM80.1 310.7h1.0v6.0h-1.0zM97.2 310.7h1.0v6.0h-1.0zM112.2 310.7h1.0v6.0h-1.0zM138.2 310.7h1.0v6.0h-1.0zM144.2 310.7h1.0v6.0h-1.0z"/>
<path fill="#ffeddf" d="M161.3 24.0h2.0v6.0h-2.0zM169.3 24.0h2.0v6.0h-2.0zM177.3 24.0h2.0v6.0h-2.0zM193.3 24.0h2.0v6.0h-2.0zM209.3 24.0h2.0v6.0h-2.0zM252.4 24.0h1.0v6.0h-1.0zM262.4 24.0h1.0v6.0h-1.0zM50.1 30.0h1.0v6.0h-1.0zM53.1 30.0h1.0v6.0h-1.0zM65.1 30.0h1.0v6.0h-1.0zM76.1 30.0h1.0v6.0h-1.0zM96.2 30.0h1.0v6.0h-1.0zM163.3 30.0h1.0v6.0h-1.0zM181.3 30.0h1.0v6.0h-1.0zM189.3 30.0h1.0v6.0h-1.0zM195.3 30.0h1.0v6.0h-1.0zM204.3 30.0h1.0v6.0h-1.0zM224.3 30.0h1.0v6.0h-1.0zM226.3 30.0h1.0v6.0h-1.0zM250.4 30.0h1.0v6.0h-1.0zM85.1 35.9h1.0v6.0h-1.0zM157.2 35.9h2.0v6.0h-2.0zM187.3 35.9h1.0v6.0h-1.0zM197.3 35.9h1.0v6.0h-1.0zM201.3 35.9h1.0v6.0h-1.0zM206.3 35.9h1.0v6.0h-1.0zM208.3 35.9h1.0v6.0h-1.0zM211.3 35.9h1.0v6.0h-1.0zM221.3 35.9h1.0v6.0h-1.0zM241.4 35.9h4.0v6.0h-4.0zM257.4 35.9h1.0v6.0h-1.0zM59.1 41.9h1.0v6.0h-1.0zM103.2 41.9h1.0v6.0h-1.0zM110.2 41.9h1.0v6.0h-1.0zM169.3 41.9h1.0v6.0h-1.0zM178.3 41.9h2.0v6.0h-2.0zM194.3 41.9h1.0v6.0h-1.0zM243.4 41.9h1.0v6.0h-1.0zM252.4 41.9h1.0v6.0h-1.0zM259.4 41.9h1.0v6.0h-1.0zM126.2 47.9h1.0v6.0h-1.0zM167.3 47.9h1.0v6.0h-1.0zM190.3 47.9h1.0v6.0h-1.0zM199.3 47.9h1.0v6.0h-1.0zM202.3 47.9h2.0v6.0h-2.0zM208.3 47.9h2.0v6.0h-2.0zM217.3 47.9h1.0v6.0h-1.0zM238.4 47.9h1.0v6.0h-1.0zM243.4 47.9h1.0v6.0h-1.0zM106.2 53.9h1.0v6.0h-1.0zM114.2 53.9h1.0v6.0h-1.0zM138.2 53.9h1.0v6.0h-1.0zM174.3 53.9h1.0v6.0h-1.0zM203.3 53.9h1.0v6.0h-1.0zM77.1 59.8h1.0v6.0h-1.0zM164.3 59.8h2.0v6.0h-2.0zM171.3 59.8h1.0v6.0h-1.0zM173.3 59.8h1.0v6.0h-1.0zM177.3 59.8h1.0v6.0h-1.0zM179.3 59.8h1.0v6.0h-1.0zM183.3 59.8h1.0v6.0h-1.0zM187.3 59.8h1.0v6.0h-1.0zM195.3 59.8h1.0v6.0h-1.0zM202.3 59.8h1.0v6.0h-1.0zM207.3 59.8h1.0v6.0h-1.0zM209.3 59.8h1.0v6.0h-1.0zM216.3 59.8h1.0v6.0h-1.0zM230.3 59.8h1.0v6.0h-1.0zM240.4 59.8h3.0v6.0h-3.0zM249.4 59.8h3.0v6.0h-3.0zM254.4 59.8h1.0v6.0h-1.0zM257.4 59.8h1.0v6.0h-1.0zM259.4 59.8h1.0v6.0h-1.0zM61.1 65.8h1.0v6.0h-1.0zM175.3 65.8h1.0v6.0h-1.0zM182.3 65.8h2.0v6.0h-2.0zM187.3 65.8h1.0v6.0h-1.0zM192.3 65.8h1.0v6.0h-1.0zM200.3 65.8h1.0v6.0h-1.0zM205.3 65.8h1.0v6.0h-1.0zM207.3 65.8h1.0v6.0h-1.0zM213.3 65.8h1.0v6.0h-1.0zM221.3 65.8h1.0v6.0h-1.0zM242.4 65.8h1.0v6.0h-1.0zM257.4 65.8h1.0v6.0h-1.0zM97.2 71.8h1.0v6.0h-1.0zM146.2 71.8h1.0v6.0h-1.0zM152.2 71.8h1.0v6.0h-1.0zM176.3 71.8h1.0v6.0h-1.0zM185.3 71.8h1.0v6.0h-1.0zM197.3 71.8h1.0v6.0h-1.0zM210.3 71.8h1.0v6.0h-1.0zM216.3 71.8h1.0v6.0h-1.0zM223.3 71.8h2.0v6.0h-2.0zM231.4 71.8h2.0v6.0h-2.0zM245.4 71.8h1.0v6.0h-1.0zM254.4 71.8h1.0v6.0h-1.0zM56.1 77.8h1.0v6.0h-1.0zM124.2 77.8h1.0v6.0h-1.0zM127.2 77.8h1.0v6.0h-1.0zM162.3 77.8h1.0v6.0h-1.0zM168.3 77.8h1.0v6.0h-1.0zM173.3 77.8h1.0v6.0h-1.0zM176.3 77.8h1.0v6.0h-1.0zM181.3 77.8h5.0v6.0h-5.0zM190.3 77.8h1.0v6.0h-1.0zM192.3 77.8h2.0v6.0h-2.0zM201.3 77.8h1.0v6.0h-1.0zM203.3 77.8h1.0v6.0h-1.0zM208.3 77.8h2.0v6.0h-2.0zM215.3 77.8h1.0v6.0h-1.0zM221.3 77.8h1.0v6.0h-1.0zM244.4 77.8h1.0v6.0h-1.0zM251.4 77.8h1.0v6.0h-1.0zM59.1 83.7h1.0v6.0h-1.0zM100.2 83.7h1.0v6.0h-1.0zM131.2 83.7h1.0v6.0h-1.0zM161.3 83.7h1.0v6.0h-1.0zM164.3 83.7h1.0v6.0h-1.0zM167.3 83.7h1.0v6.0h-1.0zM179.3 83.7h1.0v6.0h-1.0zM201.3 83.7h1.0v6.0h-1.0zM207.3 83.7h1.0v6.0h-1.0zM219.3 83.7h1.0v6.0h-1.0zM234.4 83.7h1.0v6.0h-1.0zM237.4 83.7h1.0v6.0h-1.0zM239.4 83.7h1.0v6.0h-1.0zM245.4 83.7h2.0v6.0h-2.0zM251.4 83.7h1.0v6.0h-1.0zM87.2 89.7h1.0v6.0h-1.0zM91.2 89.7h1.0v6.0h-1.0zM94.2 89.7h1.0v6.0h-1.0zM124.2 89.7h1.0v6.0h-1.0zM152.2 89.7h1.0v6.0h-1.0zM154.2 89.7h1.0v6.0h-1.0zM175.3 89.7h1.0v6.0h-1.0zM202.3 89.7h2.0v6.0h-2.0zM205.3 89.7h1.0v6.0h-1.0zM207.3 89.7h1.0v6.0h-1.0zM211.3 89.7h1.0v6.0h-1.0zM218.3 89.7h1.0v6.0h-1.0zM220.3 89.7h1.0v6.0h-1.0zM222.3 89.7h1.0v6.0h-1.0zM226.3 89.7h1.0v6.0h-1.0zM236.4 89.7h1.0v6.0h-1.0zM241.4 89.7h1.0v6.0h-1.0zM244.4 89.7h1.0v6.0h-1.0zM247.4 89.7h1.0v6.0h-1.0zM251.4 89.7h1.0v6.0h-1.0zM53.1 95.7h1.0v6.0h-1.0zM75.1 95.7h1.0v6.0h-1.0zM154.2 95.7h1.0v6.0h-1.0zM162.3 95.7h1.0v6.0h-1.0zM166.3 95.7h2.0v6.0h-2.0zM169.3 95.7h1.0v6.0h-1.0zM201.3 95.7h2.0v6.0h-2.0zM205.3 95.7h1.0v6.0h-1.0zM209.3 95.7h1.0v6.0h-1.0zM211.3 95.7h2.0v6.0h-2.0zM215.3 95.7h1.0v6.0h-1.0zM219.3 95.7h1.0v6.0h-1.0zM221.3 95.7h1.0v6.0h-1.0zM226.3 95.7h1.0v6.0h-1.0zM230.3 95.7h1.0v6.0h-1.0zM233.4 95.7h1.0v6.0h-1.0zM238.4 95.7h1.0v6.0h-1.0zM242.4 95.7h1.0v6.0h-1.0zM246.4 95.7h1.0v6.0h-1.0zM251.4 95.7h2.0v6.0h-2.0zM257.4 95.7h2.0v6.0h-2.0zM78.1 101.7h1.0v6.0h-1.0zM144.2 101.7h1.0v6.0h-1.0zM147.2 101.7h1.0v6.0h-1.0zM149.2 101.7h1.0v6.0h-1.0zM152.2 101.7h1.0v6.0h-1.0zM160.3 101.7h1.0v6.0h-1.0zM162.3 101.7h2.0v6.0h-2.0zM169.3 101.7h1.0v6.0h-1.0zM178.3 101.7h1.0v6.0h-1.0zM181.3 101.7h1.0v6.0h-1.0zM191.3 101.7h1.0v6.0h-1.0zM193.3 101.7h1.0v6.0h-1.0zM197.3 101.7h1.0v6.0h-1.0zM205.3 101.7h1.0v6.0h-1.0zM216.3 101.7h1.0v6.0h-1.0zM227.3 101.7h3.0v6.0h-3.0zM235.4 101.7h1.0v6.0h-1.0zM245.4 101.7h1.0v6.0h-1.0zM257.4 101.7h1.0v6.0h-1.0zM261.4 101.7h1.0v6.0h-1.0zM51.1 107.6h1.0v6.0h-1.0zM60.1 107.6h1.0v6.0h-1.0zM63.1 107.6h1.0v6.0h-1.0zM105.2 107.6h2.0v6.0h-2.0zM130.2 107.6h1.0v6.0h-1.0zM170.3 107.6h1.0v6.0h-1.0zM172.3 107.6h1.0v6.0h-1.0zM182.3 107.6h2.0v6.0h-2.0zM207.3 107.6h2.0v6.0h-2.0zM210.3 107.6h1.0v6.0h-1.0zM213.3 107.6h2.0v6.0h-2.0zM217.3 107.6h1.0v6.0h-1.0zM226.3 107.6h1.0v6.0h-1.0zM229.3 107.6h1.0v6.0h-1.0zM231.4 107.6h1.0v6.0h-1.0zM236.4 107.6h1.0v6.0h-1.0zM243.4 107.6h1.0v6.0h-1.0zM252.4 107.6h1.0v6.0h-1.0zM65.1 113.6h1.0v6.0h-1.0zM149.2 113.6h1.0v6.0h-1.0zM166.3 113.6h1.0v6.0h-1.0zM198.3 113.6h1.0v6.0h-1.0zM205.3 113.6h2.0v6.0h-2.0zM210.3 113.6h1.0v6.0h-1.0zM214.3 113.6h1.0v6.0h-1.0zM216.3 113.6h1.0v6.0h-1.0zM218.3 113.6h2.0v6.0h-2.0zM235.4 113.6h1.0v6.0h-1.0zM254.4 113.6h1.0v6.0h-1.0zM259.4 113.6h1.0v6.0h-1.0zM53.1 119.6h1.0v6.0h-1.0zM62.1 119.6h1.0v6.0h-1.0zM167.3 119.6h1.0v6.0h-1.0zM171.3 119.6h1.0v6.0h-1.0zM199.3 119.6h1.0v6.0h-1.0zM205.3 119.6h1.0v6.0h-1.0zM213.3 119.6h1.0v6.0h-1.0zM217.3 119.6h1.0v6.0h-1.0zM220.3 119.6h1.0v6.0h-1.0zM230.3 119.6h1.0v6.0h-1.0zM232.4 119.6h1.0v6.0h-1.0zM247.4 119.6h4.0v6.0h-4.0zM51.1 125.5h1.0v6.0h-1.0zM54.1 125.5h1.0v6.0h-1.0zM60.1 125.5h1.0v6.0h-1.0zM67.1 125.5h1.0v6.0h-1.0zM124.2 125.5h1.0v6.0h-1.0zM178.3 125.5h1.0v6.0h-1.0zM183.3 125.5h1.0v6.0h-1.0zM185.3 125.5h1.0v6.0h-1.0zM190.3 125.5h1.0v6.0h-1.0zM196.3 125.5h1.0v6.0h-1.0zM203.3 125.5h1.0v6.0h-1.0zM205.3 125.5h2.0v6.0h-2.0zM223.3 125.5h1.0v6.0h-1.0zM233.4 125.5h1.0v6.0h-1.0zM242.4 125.5h3.0v6.0h-3.0zM246.4 125.5h1.0v6.0h-1.0zM250.4 125.5h1.0v6.0h-1.0zM253.4 125.5h1.0v6.0h-1.0zM52.1 131.5h1.0v6.0h-1.0zM58.1 131.5h1.0v6.0h-1.0zM63.1 131.5h3.0v6.0h-3.0zM78.1 131.5h1.0v6.0h-1.0zM184.3 131.5h2.0v6.0h-2.0zM197.3 131.5h1.0v6.0h-1.0zM213.3 131.5h1.0v6.0h-1.0zM218.3 131.5h1.0v6.0h-1.0zM225.3 131.5h1.0v6.0h-1.0zM230.3 131.5h1.0v6.0h-1.0zM248.4 131.5h1.0v6.0h-1.0zM255.4 131.5h1.0v6.0h-1.0zM63.1 137.5h1.0v6.0h-1.0zM150.2 137.5h1.0v6.0h-1.0zM168.3 137.5h1.0v6.0h-1.0zM175.3 137.5h1.0v6.0h-1.0zM188.3 137.5h1.0v6.0h-1.0zM190.3 137.5h1.0v6.0h-1.0zM202.3 137.5h2.0v6.0h-2.0zM212.3 137.5h1.0v6.0h-1.0zM214.3 137.5h1.0v6.0h-1.0zM232.4 137.5h1.0v6.0h-1.0zM243.4 137.5h1.0v6.0h-1.0zM252.4 137.5h1.0v6.0h-1.0zM68.1 143.5h1.0v6.0h-1.0zM132.2 143.5h1.0v6.0h-1.0zM137.2 143.5h1.0v6.0h-1.0zM203.3 143.5h1.0v6.0h-1.0zM211.3 143.5h1.0v6.0h-1.0zM213.3 143.5h1.0v6.0h-1.0zM218.3 143.5h1.0v6.0h-1.0zM223.3 143.5h1.0v6.0h-1.0zM239.4 143.5h1.0v6.0h-1.0zM247.4 143.5h1.0v6.0h-1.0zM52.1 149.4h1.0v6.0h-1.0zM55.1 149.4h1.0v6.0h-1.0zM96.2 149.4h1.0v6.0h-1.0zM148.2 149.4h1.0v6.0h-1.0zM166.3 149.4h1.0v6.0h-1.0zM181.3 149.4h1.0v6.0h-1.0zM190.3 149.4h1.0v6.0h-1.0zM203.3 149.4h1.0v6.0h-1.0zM213.3 149.4h1.0v6.0h-1.0zM224.3 149.4h1.0v6.0h-1.0zM226.3 149.4h2.0v6.0h-2.0zM229.3 149.4h1.0v6.0h-1.0zM235.4 149.4h1.0v6.0h-1.0zM241.4 149.4h2.0v6.0h-2.0zM257.4 149.4h1.0v6.0h-1.0zM129.2 155.4h1.0v6.0h-1.0zM165.3 155.4h2.0v6.0h-2.0zM172.3 155.4h1.0v6.0h-1.0zM174.3 155.4h1.0v6.0h-1.0zM189.3 155.4h1.0v6.0h-1.0zM199.3 155.4h1.0v6.0h-1.0zM208.3 155.4h1.0v6.0h-1.0zM216.3 155.4h1.0v6.0h-1.0zM218.3 155.4h1.0v6.0h-1.0zM222.3 155.4h1.0v6.0h-1.0zM229.3 155.4h1.0v6.0h-1.0zM241.4 155.4h1.0v6.0h-1.0zM244.4 155.4h1.0v6.0h-1.0zM246.4 155.4h1.0v6.0h-1.0zM252.4 155.4h1.0v6.0h-1.0zM256.4 155.4h1.0v6.0h-1.0zM264.4 155.4h1.0v6.0h-1.0zM53.1 161.4h2.0v6.0h-2.0zM59.1 161.4h2.0v6.0h-2.0zM67.1 161.4h1.0v6.0h-1.0zM106.2 161.4h1.0v6.0h-1.0zM120.2 161.4h1.0v6.0h-1.0zM189.3 161.4h1.0v6.0h-1.0zM194.3 161.4h1.0v6.0h-1.0zM197.3 161.4h1.0v6.0h-1.0zM207.3 161.4h1.0v6.0h-1.0zM209.3 161.4h1.0v6.0h-1.0zM219.3 161.4h2.0v6.0h-2.0zM232.4 161.4h1.0v6.0h-1.0zM240.4 161.4h1.0v6.0h-1.0zM246.4 161.4h1.0v6.0h-1.0zM251.4 161.4h1.0v6.0h-1.0zM68.1 167.4h1.0v6.0h-1.0zM92.2 167.4h1.0v6.0h-1.0zM127.2 167.4h1.0v6.0h-1.0zM132.2 167.4h1.0v6.0h-1.0zM160.3 167.4h1.0v6.0h-1.0zM58.1 173.3h1.0v6.0h-1.0zM73.1 173.3h2.0v6.0h-2.0zM79.1 173.3h1.0v6.0h-1.0zM102.2 173.3h1.0v6.0h-1.0zM104.2 173.3h1.0v6.0h-1.0zM143.2 173.3h2.0v6.0h-2.0zM148.2 173.3h1.0v6.0h-1.0zM197.3 173.3h1.0v6.0h-1.0zM218.3 173.3h1.0v6.0h-1.0zM50.1 179.3h2.0v6.0h-2.0zM53.1 179.3h1.0v6.0h-1.0zM58.1 179.3h1.0v6.0h-1.0zM63.1 179.3h1.0v6.0h-1.0zM85.1 179.3h1.0v6.0h-1.0zM98.2 179.3h1.0v6.0h-1.0zM105.2 179.3h1.0v6.0h-1.0zM116.2 179.3h1.0v6.0h-1.0zM121.2 179.3h1.0v6.0h-1.0zM149.2 179.3h1.0v6.0h-1.0zM162.3 179.3h1.0v6.0h-1.0zM207.3 179.3h1.0v6.0h-1.0zM51.1 185.3h1.0v6.0h-1.0zM54.1 185.3h1.0v6.0h-1.0zM60.1 185.3h1.0v6.0h-1.0zM63.1 185.3h1.0v6.0h-1.0zM87.2 185.3h1.0v6.0h-1.0zM94.2 185.3h1.0v6.0h-1.0zM115.2 185.3h1.0v6.0h-1.0zM122.2 185.3h1.0v6.0h-1.0zM134.2 185.3h1.0v6.0h-1.0zM148.2 185.3h1.0v6.0h-1.0zM150.2 185.3h1.0v6.0h-1.0zM152.2 185.3h1.0v6.0h-1.0zM168.3 185.3h1.0v6.0h-1.0zM52.1 191.3h1.0v6.0h-1.0zM85.1 191.3h1.0v6.0h-1.0zM90.2 191.3h1.0v6.0h-1.0zM100.2 191.3h1.0v6.0h-1.0zM104.2 191.3h1.0v6.0h-1.0zM106.2 191.3h1.0v6.0h-1.0zM111.2 191.3h1.0v6.0h-1.0zM123.2 191.3h1.0v6.0h-1.0zM152.2 191.3h1.0v6.0h-1.0zM224.3 191.3h1.0v6.0h-1.0zM236.4 191.3h1.0v6.0h-1.0zM56.1 197.2h1.0v6.0h-1.0zM60.1 197.2h1.0v6.0h-1.0zM75.1 197.2h1.0v6.0h-1.0zM77.1 197.2h1.0v6.0h-1.0zM82.1 197.2h1.0v6.0h-1.0zM96.2 197.2h1.0v6.0h-1.0zM119.2 197.2h1.0v6.0h-1.0zM170.3 197.2h1.0v6.0h-1.0zM53.1 203.2h1.0v6.0h-1.0zM57.1 203.2h1.0v6.0h-1.0zM60.1 203.2h1.0v6.0h-1.0zM65.1 203.2h1.0v6.0h-1.0zM75.1 203.2h1.0v6.0h-1.0zM79.1 203.2h1.0v6.0h-1.0zM85.1 203.2h1.0v6.0h-1.0zM89.2 203.2h1.0v6.0h-1.0zM104.2 203.2h1.0v6.0h-1.0zM117.2 203.2h2.0v6.0h-2.0zM127.2 203.2h2.0v6.0h-2.0zM130.2 203.2h1.0v6.0h-1.0zM150.2 203.2h1.0v6.0h-1.0zM160.3 203.2h1.0v6.0h-1.0zM166.3 203.2h1.0v6.0h-1.0zM240.4 203.2h1.0v6.0h-1.0zM51.1 209.2h2.0v6.0h-2.0zM72.1 209.2h1.0v6.0h-1.0zM65.1 215.2h1.0v6.0h-1.0zM76.1 215.2h1.0v6.0h-1.0zM86.2 215.2h1.0v6.0h-1.0zM97.2 215.2h1.0v6.0h-1.0zM99.2 215.2h1.0v6.0h-1.0zM104.2 215.2h1.0v6.0h-1.0zM120.2 215.2h1.0v6.0h-1.0zM128.2 215.2h1.0v6.0h-1.0zM146.2 215.2h1.0v6.0h-1.0zM235.4 215.2h1.0v6.0h-1.0zM62.1 221.1h1.0v6.0h-1.0zM67.1 221.1h1.0v6.0h-1.0zM72.1 221.1h1.0v6.0h-1.0zM77.1 221.1h1.0v6.0h-1.0zM82.1 221.1h1.0v6.0h-1.0zM102.2 221.1h1.0v6.0h-1.0zM110.2 221.1h1.0v6.0h-1.0zM115.2 221.1h1.0v6.0h-1.0zM119.2 221.1h1.0v6.0h-1.0zM132.2 221.1h1.0v6.0h-1.0zM138.2 221.1h1.0v6.0h-1.0zM81.1 227.1h1.0v6.0h-1.0zM89.2 227.1h1.0v6.0h-1.0zM93.2 227.1h1.0v6.0h-1.0zM108.2 227.1h1.0v6.0h-1.0zM122.2 227.1h1.0v6.0h-1.0zM149.2 227.1h1.0v6.0h-1.0zM156.2 227.1h1.0v6.0h-1.0zM159.3 227.1h1.0v6.0h-1.0zM174.3 227.1h1.0v6.0h-1.0zM229.3 227.1h1.0v6.0h-1.0zM52.1 233.1h1.0v6.0h-1.0zM63.1 233.1h1.0v6.0h-1.0zM85.1 233.1h1.0v6.0h-1.0zM93.2 233.1h1.0v6.0h-1.0zM98.2 233.1h1.0v6.0h-1.0zM108.2 233.1h1.0v6.0h-1.0zM139.2 233.1h1.0v6.0h-1.0zM156.2 233.1h1.0v6.0h-1.0zM158.2 233.1h1.0v6.0h-1.0zM224.3 233.1h1.0v6.0h-1.0zM66.1 239.0h1.0v6.0h-1.0zM73.1 239.0h2.0v6.0h-2.0zM77.1 239.0h1.0v6.0h-1.0zM88.2 239.0h1.0v6.0h-1.0zM114.2 239.0h1.0v6.0h-1.0zM121.2 239.0h1.0v6.0h-1.0zM152.2 239.0h1.0v6.0h-1.0zM166.3 239.0h1.0v6.0h-1.0zM171.3 239.0h1.0v6.0h-1.0zM50.1 245.0h1.0v6.0h-1.0zM72.1 245.0h1.0v6.0h-1.0zM80.1 245.0h1.0v6.0h-1.0zM82.1 245.0h2.0v6.0h-2.0zM88.2 245.0h2.0v6.0h-2.0zM91.2 245.0h1.0v6.0h-1.0zM93.2 245.0h1.0v6.0h-1.0zM130.2 245.0h1.0v6.0h-1.0zM132.2 245.0h1.0v6.0h-1.0zM170.3 245.0h2.0v6.0h-2.0zM176.3 245.0h1.0v6.0h-1.0zM237.4 245.0h1.0v6.0h-1.0zM53.1 251.0h2.0v6.0h-2.0zM58.1 251.0h1.0v6.0h-1.0zM73.1 251.0h1.0v6.0h-1.0zM75.1 251.0h1.0v6.0h-1.0zM99.2 251.0h1.0v6.0h-1.0zM108.2 251.0h1.0v6.0h-1.0zM111.2 251.0h2.0v6.0h-2.0zM120.2 251.0h1.0v6.0h-1.0zM250.4 251.0h1.0v6.0h-1.0zM51.1 257.0h1.0v6.0h-1.0zM75.1 257.0h1.0v6.0h-1.0zM86.2 257.0h1.0v6.0h-1.0zM98.2 257.0h1.0v6.0h-1.0zM101.2 257.0h2.0v6.0h-2.0zM104.2 257.0h1.0v6.0h-1.0zM116.2 257.0h1.0v6.0h-1.0zM153.2 257.0h1.0v6.0h-1.0zM254.4 257.0h1.0v6.0h-1.0zM53.1 262.9h1.0v6.0h-1.0zM62.1 262.9h1.0v6.0h-1.0zM67.1 262.9h1.0v6.0h-1.0zM69.1 262.9h1.0v6.0h-1.0zM76.1 262.9h1.0v6.0h-1.0zM79.1 262.9h1.0v6.0h-1.0zM84.1 262.9h1.0v6.0h-1.0zM102.2 262.9h1.0v6.0h-1.0zM152.2 262.9h1.0v6.0h-1.0zM236.4 262.9h1.0v6.0h-1.0zM64.1 268.9h1.0v6.0h-1.0zM74.1 268.9h1.0v6.0h-1.0zM78.1 268.9h1.0v6.0h-1.0zM87.2 268.9h1.0v6.0h-1.0zM91.2 268.9h1.0v6.0h-1.0zM107.2 268.9h1.0v6.0h-1.0zM115.2 268.9h1.0v6.0h-1.0zM150.2 268.9h2.0v6.0h-2.0zM55.1 274.9h1.0v6.0h-1.0zM68.1 274.9h1.0v6.0h-1.0zM72.1 274.9h1.0v6.0h-1.0zM75.1 274.9h1.0v6.0h-1.0zM88.2 274.9h1.0v6.0h-1.0zM102.2 274.9h1.0v6.0h-1.0zM153.2 274.9h1.0v6.0h-1.0zM74.1 280.9h1.0v6.0h-1.0zM90.2 280.9h1.0v6.0h-1.0zM94.2 280.9h1.0v6.0h-1.0zM108.2 280.9h2.0v6.0h-2.0zM113.2 280.9h1.0v6.0h-1.0zM62.1 286.8h1.0v6.0h-1.0zM68.1 286.8h1.0v6.0h-1.0zM71.1 286.8h1.0v6.0h-1.0zM86.2 286.8h1.0v6.0h-1.0zM89.2 286.8h1.0v6.0h-1.0zM99.2 286.8h1.0v6.0h-1.0zM109.2 286.8h1.0v6.0h-1.0zM111.2 286.8h1.0v6.0h-1.0zM56.1 292.8h1.0v6.0h-1.0zM72.1 292.8h1.0v6.0h-1.0zM78.1 292.8h1.0v6.0h-1.0zM81.1 292.8h1.0v6.0h-1.0zM85.1 292.8h1.0v6.0h-1.0zM90.2 292.8h1.0v6.0h-1.0zM115.2 292.8h2.0v6.0h-2.0zM152.2 292.8h1.0v6.0h-1.0zM157.2 292.8h2.0v6.0h-2.0zM170.3 292.8h1.0v6.0h-1.0zM51.1 298.8h1.0v6.0h-1.0zM56.1 298.8h1.0v6.0h-1.0zM67.1 298.8h1.0v6.0h-1.0zM163.3 298.8h1.0v6.0h-1.0zM235.4 298.8h1.0v6.0h-1.0zM64.1 304.8h1.0v6.0h-1.0zM70.1 304.8h1.0v6.0h-1.0zM74.1 304.8h1.0v6.0h-1.0zM92.2 304.8h1.0v6.0h-1.0zM103.2 304.8h1.0v6.0h-1.0zM147.2 304.8h1.0v6.0h-1.0zM51.1 310.7h1.0v6.0h-1.0zM73.1 310.7h1.0v6.0h-1.0zM89.2 310.7h1.0v6.0h-1.0zM93.2 310.7h1.0v6.0h-1.0zM103.2 310.7h1.0v6.0h-1.0zM105.2 310.7h1.0v6.0h-1.0zM122.2 310.7h1.0v6.0h-1.0zM128.2 310.7h1.0v6.0h-1.0zM141.2 310.7h1.0v6.0h-1.0zM148.2 310.7h1.0v6.0h-1.0zM167.3 310.7h1.0v6.0h-1.0zM236.4 310.7h1.0v6.0h-1.0z"/>
<path fill="#fedcbf" d="M164.3 24.0h1.0v6.0h-1.0zM186.3 24.0h1.0v6.0h-1.0zM188.3 24.0h1.0v6.0h-1.0zM190.3 24.0h1.0v6.0h-1.0zM204.3 24.0h1.0v6.0h-1.0zM214.3 24.0h1.0v6.0h-1.0zM218.3 24.0h1.0v6.0h-1.0zM223.3 24.0h1.0v6.0h-1.0zM241.4 24.0h1.0v6.0h-1.0zM253.4 24.0h1.0v6.0h-1.0zM171.3 30.0h1.0v6.0h-1.0zM177.3 30.0h2.0v6.0h-2.0zM201.3 30.0h1.0v6.0h-1.0zM203.3 30.0h1.0v6.0h-1.0zM214.3 30.0h1.0v6.0h-1.0zM218.3 30.0h1.0v6.0h-1.0zM225.3 30.0h1.0v6.0h-1.0zM228.3 30.0h1.0v6.0h-1.0zM238.4 30.0h2.0v6.0h-2.0zM245.4 30.0h1.0v6.0h-1.0zM249.4 30.0h1.0v6.0h-1.0zM256.4 30.0h1.0v6.0h-1.0zM175.3 35.9h1.0v6.0h-1.0zM190.3 35.9h1.0v6.0h-1.0zM207.3 35.9h1.0v6.0h-1.0zM216.3 35.9h1.0v6.0h-1.0zM223.3 35.9h1.0v6.0h-1.0zM227.3 35.9h2.0v6.0h-2.0zM232.4 35.9h1.0v6.0h-1.0zM238.4 35.9h1.0v6.0h-1.0zM246.4 35.9h1.0v6.0h-1.0zM248.4 35.9h1.0v6.0h-1.0zM250.4 35.9h1.0v6.0h-1.0zM173.3 41.9h1.0v6.0h-1.0zM175.3 41.9h2.0v6.0h-2.0zM186.3 41.9h2.0v6.0h-2.0zM202.3 41.9h1.0v6.0h-1.0zM215.3 41.9h2.0v6.0h-2.0zM231.4 41.9h1.0v6.0h-1.0zM235.4 41.9h1.0v6.0h-1.0zM238.4 41.9h1.0v6.0h-1.0zM241.4 41.9h1.0v6.0h-1.0zM247.4 41.9h1.0v6.0h-1.0zM250.4 41.9h1.0v6.0h-1.0zM253.4 41.9h1.0v6.0h-1.0zM263.4 41.9h1.0v6.0h-1.0zM176.3 47.9h1.0v6.0h-1.0zM178.3 47.9h2.0v6.0h-2.0zM181.3 47.9h1.0v6.0h-1.0zM193.3 47.9h1.0v6.0h-1.0zM195.3 47.9h1.0v6.0h-1.0zM200.3 47.9h1.0v6.0h-1.0zM204.3 47.9h2.0v6.0h-2.0zM213.3 47.9h1.0v6.0h-1.0zM216.3 47.9h1.0v6.0h-1.0zM222.3 47.9h1.0v6.0h-1.0zM231.4 47.9h1.0v6.0h-1.0zM240.4 47.9h1.0v6.0h-1.0zM242.4 47.9h1.0v6.0h-1.0zM246.4 47.9h1.0v6.0h-1.0zM251.4 47.9h1.0v6.0h-1.0zM163.3 53.9h1.0v6.0h-1.0zM169.3 53.9h2.0v6.0h-2.0zM172.3 53.9h1.0v6.0h-1.0zM178.3 53.9h1.0v6.0h-1.0zM182.3 53.9h1.0v6.0h-1.0zM193.3 53.9h1.0v6.0h-1.0zM218.3 53.9h1.0v6.0h-1.0zM220.3 53.9h1.0v6.0h-1.0zM222.3 53.9h1.0v6.0h-1.0zM239.4 53.9h2.0v6.0h-2.0zM243.4 53.9h1.0v6.0h-1.0zM167.3 59.8h1.0v6.0h-1.0zM169.3 59.8h1.0v6.0h-1.0zM186.3 59.8h1.0v6.0h-1.0zM224.3 59.8h1.0v6.0h-1.0zM227.3 59.8h1.0v6.0h-1.0zM232.4 59.8h2.0v6.0h-2.0zM235.4 59.8h1.0v6.0h-1.0zM180.3 65.8h1.0v6.0h-1.0zM191.3 65.8h1.0v6.0h-1.0zM195.3 65.8h1.0v6.0h-1.0zM204.3 65.8h1.0v6.0h-1.0zM210.3 65.8h1.0v6.0h-1.0zM215.3 65.8h1.0v6.0h-1.0zM218.3 65.8h1.0v6.0h-1.0zM232.4 65.8h2.0v6.0h-2.0zM235.4 65.8h2.0v6.0h-2.0zM238.4 65.8h1.0v6.0h-1.0zM243.4 65.8h1.0v6.0h-1.0zM255.4 65.8h1.0v6.0h-1.0zM187.3 71.8h1.0v6.0h-1.0zM190.3 71.8h1.0v6.0h-1.0zM199.3 71.8h1.0v6.0h-1.0zM201.3 71.8h1.0v6.0h-1.0zM219.3 71.8h1.0v6.0h-1.0zM228.3 71.8h1.0v6.0h-1.0zM235.4 71.8h3.0v6.0h-3.0zM243.4 71.8h1.0v6.0h-1.0zM246.4 71.8h1.0v6.0h-1.0zM250.4 71.8h1.0v6.0h-1.0zM253.4 71.8h1.0v6.0h-1.0zM169.3 77.8h1.0v6.0h-1.0zM172.3 77.8h1.0v6.0h-1.0zM205.3 77.8h1.0v6.0h-1.0zM207.3 77.8h1.0v6.0h-1.0zM210.3 77.8h1.0v6.0h-1.0zM217.3 77.8h3.0v6.0h-3.0zM228.3 77.8h1.0v6.0h-1.0zM235.4 77.8h1.0v6.0h-1.0zM237.4 77.8h1.0v6.0h-1.0zM240.4 77.8h1.0v6.0h-1.0zM249.4 77.8h1.0v6.0h-1.0zM165.3 83.7h2.0v6.0h-2.0zM172.3 83.7h1.0v6.0h-1.0zM175.3 83.7h1.0v6.0h-1.0zM189.3 83.7h1.0v6.0h-1.0zM193.3 83.7h1.0v6.0h-1.0zM196.3 83.7h2.0v6.0h-2.0zM209.3 83.7h1.0v6.0h-1.0zM211.3 83.7h1.0v6.0h-1.0zM215.3 83.7h1.0v6.0h-1.0zM229.3 83.7h1.0v6.0h-1.0zM232.4 83.7h1.0v6.0h-1.0zM248.4 83.7h2.0v6.0h-2.0zM177.3 89.7h2.0v6.0h-2.0zM184.3 89.7h1.0v6.0h-1.0zM204.3 89.7h1.0v6.0h-1.0zM210.3 89.7h1.0v6.0h-1.0zM214.3 89.7h1.0v6.0h-1.0zM223.3 89.7h1.0v6.0h-1.0zM234.4 89.7h1.0v6.0h-1.0zM245.4 89.7h1.0v6.0h-1.0zM256.4 89.7h1.0v6.0h-1.0zM171.3 95.7h2.0v6.0h-2.0zM198.3 95.7h1.0v6.0h-1.0zM232.4 95.7h1.0v6.0h-1.0zM235.4 95.7h1.0v6.0h-1.0zM254.4 95.7h1.0v6.0h-1.0zM127.2 101.7h1.0v6.0h-1.0zM131.2 101.7h1.0v6.0h-1.0zM139.2 101.7h2.0v6.0h-2.0zM142.2 101.7h1.0v6.0h-1.0zM148.2 101.7h1.0v6.0h-1.0zM161.3 101.7h1.0v6.0h-1.0zM166.3 101.7h1.0v6.0h-1.0zM173.3 101.7h2.0v6.0h-2.0zM176.3 101.7h1.0v6.0h-1.0zM182.3 101.7h1.0v6.0h-1.0zM204.3 101.7h1.0v6.0h-1.0zM212.3 101.7h1.0v6.0h-1.0zM214.3 101.7h1.0v6.0h-1.0zM222.3 101.7h1.0v6.0h-1.0zM242.4 101.7h2.0v6.0h-2.0zM251.4 101.7h1.0v6.0h-1.0zM254.4 101.7h1.0v6.0h-1.0zM53.1 107.6h1.0v6.0h-1.0zM59.1 107.6h1.0v6.0h-1.0zM66.1 107.6h2.0v6.0h-2.0zM178.3 107.6h1.0v6.0h-1.0zM191.3 107.6h1.0v6.0h-1.0zM205.3 107.6h1.0v6.0h-1.0zM221.3 107.6h1.0v6.0h-1.0zM224.3 107.6h1.0v6.0h-1.0zM228.3 107.6h1.0v6.0h-1.0zM233.4 107.6h1.0v6.0h-1.0zM235.4 107.6h1.0v6.0h-1.0zM246.4 107.6h3.0v6.0h-3.0zM254.4 107.6h2.0v6.0h-2.0zM63.1 113.6h1.0v6.0h-1.0zM67.1 113.6h1.0v6.0h-1.0zM162.3 113.6h1.0v6.0h-1.0zM172.3 113.6h1.0v6.0h-1.0zM200.3 113.6h1.0v6.0h-1.0zM202.3 113.6h2.0v6.0h-2.0zM209.3 113.6h1.0v6.0h-1.0zM212.3 113.6h2.0v6.0h-2.0zM217.3 113.6h1.0v6.0h-1.0zM220.3 113.6h1.0v6.0h-1.0zM230.3 113.6h1.0v6.0h-1.0zM242.4 113.6h1.0v6.0h-1.0zM246.4 113.6h1.0v6.0h-1.0zM50.1 119.6h1.0v6.0h-1.0zM66.1 119.6h1.0v6.0h-1.0zM163.3 119.6h1.0v6.0h-1.0zM169.3 119.6h2.0v6.0h-2.0zM200.3 119.6h1.0v6.0h-1.0zM202.3 119.6h1.0v6.0h-1.0zM206.3 119.6h1.0v6.0h-1.0zM215.3 119.6h1.0v6.0h-1.0zM223.3 119.6h1.0v6.0h-1.0zM225.3 119.6h2.0v6.0h-2.0zM244.4 119.6h1.0v6.0h-1.0zM255.4 119.6h1.0v6.0h-1.0zM55.1 125.5h1.0v6.0h-1.0zM62.1 125.5h1.0v6.0h-1.0zM175.3 125.5h1.0v6.0h-1.0zM184.3 125.5h1.0v6.0h-1.0zM201.3 125.5h2.0v6.0h-2.0zM209.3 125.5h3.0v6.0h-3.0zM216.3 125.5h1.0v6.0h-1.0zM220.3 125.5h1.0v6.0h-1.0zM222.3 125.5h1.0v6.0h-1.0zM230.3 125.5h1.0v6.0h-1.0zM232.4 125.5h1.0v6.0h-1.0zM238.4 125.5h1.0v6.0h-1.0zM240.4 125.5h1.0v6.0h-1.0zM248.4 125.5h1.0v6.0h-1.0zM252.4 125.5h1.0v6.0h-1.0zM256.4 125.5h2.0v6.0h-2.0zM56.1 131.5h2.0v6.0h-2.0zM66.1 131.5h1.0v6.0h-1.0zM170.3 131.5h1.0v6.0h-1.0zM172.3 131.5h1.0v6.0h-1.0zM175.3 131.5h1.0v6.0h-1.0zM178.3 131.5h1.0v6.0h-1.0zM180.3 131.5h2.0v6.0h-2.0zM186.3 131.5h1.0v6.0h-1.0zM198.3 131.5h2.0v6.0h-2.0zM216.3 131.5h1.0v6.0h-1.0zM234.4 131.5h1.0v6.0h-1.0zM54.1 137.5h1.0v6.0h-1.0zM56.1 137.5h1.0v6.0h-1.0zM59.1 137.5h1.0v6.0h-1.0zM177.3 137.5h1.0v6.0h-1.0zM180.3 137.5h1.0v6.0h-1.0zM184.3 137.5h1.0v6.0h-1.0zM211.3 137.5h1.0v6.0h-1.0zM220.3 137.5h1.0v6.0h-1.0zM222.3 137.5h1.0v6.0h-1.0zM224.3 137.5h1.0v6.0h-1.0zM228.3 137.5h1.0v6.0h-1.0zM231.4 137.5h1.0v6.0h-1.0zM234.4 137.5h1.0v6.0h-1.0zM238.4 137.5h1.0v6.0h-1.0zM240.4 137.5h1.0v6.0h-1.0zM242.4 137.5h1.0v6.0h-1.0zM248.4 137.5h1.0v6.0h-1.0zM250.4 137.5h1.0v6.0h-1.0zM129.2 143.5h1.0v6.0h-1.0zM140.2 143.5h1.0v6.0h-1.0zM143.2 143.5h1.0v6.0h-1.0zM145.2 143.5h1.0v6.0h-1.0zM169.3 143.5h1.0v6.0h-1.0zM204.3 143.5h1.0v6.0h-1.0zM212.3 143.5h1.0v6.0h-1.0zM214.3 143.5h1.0v6.0h-1.0zM217.3 143.5h1.0v6.0h-1.0zM222.3 143.5h1.0v6.0h-1.0zM231.4 143.5h1.0v6.0h-1.0zM240.4 143.5h1.0v6.0h-1.0zM245.4 143.5h1.0v6.0h-1.0zM249.4 143.5h1.0v6.0h-1.0zM257.4 143.5h1.0v6.0h-1.0zM56.1 149.4h4.0v6.0h-4.0zM61.1 149.4h1.0v6.0h-1.0zM171.3 149.4h1.0v6.0h-1.0zM173.3 149.4h1.0v6.0h-1.0zM177.3 149.4h2.0v6.0h-2.0zM180.3 149.4h1.0v6.0h-1.0zM183.3 149.4h1.0v6.0h-1.0zM187.3 149.4h1.0v6.0h-1.0zM193.3 149.4h1.0v6.0h-1.0zM197.3 149.4h1.0v6.0h-1.0zM214.3 149.4h1.0v6.0h-1.0zM217.3 149.4h1.0v6.0h-1.0zM233.4 149.4h1.0v6.0h-1.0zM236.4 149.4h1.0v6.0h-1.0zM238.4 149.4h1.0v6.0h-1.0zM244.4 149.4h1.0v6.0h-1.0zM251.4 149.4h1.0v6.0h-1.0zM167.3 155.4h1.0v6.0h-1.0zM169.3 155.4h1.0v6.0h-1.0zM175.3 155.4h1.0v6.0h-1.0zM184.3 155.4h1.0v6.0h-1.0zM190.3 155.4h1.0v6.0h-1.0zM192.3 155.4h1.0v6.0h-1.0zM194.3 155.4h2.0v6.0h-2.0zM198.3 155.4h1.0v6.0h-1.0zM200.3 155.4h1.0v6.0h-1.0zM204.3 155.4h2.0v6.0h-2.0zM207.3 155.4h1.0v6.0h-1.0zM214.3 155.4h1.0v6.0h-1.0zM226.3 155.4h1.0v6.0h-1.0zM228.3 155.4h1.0v6.0h-1.0zM234.4 155.4h4.0v6.0h-4.0zM240.4 155.4h1.0v6.0h-1.0zM243.4 155.4h1.0v6.0h-1.0zM251.4 155.4h1.0v6.0h-1.0zM257.4 155.4h1.0v6.0h-1.0zM56.1 161.4h1.0v6.0h-1.0zM64.1 161.4h1.0v6.0h-1.0zM178.3 161.4h1.0v6.0h-1.0zM180.3 161.4h1.0v6.0h-1.0zM198.3 161.4h1.0v6.0h-1.0zM206.3 161.4h1.0v6.0h-1.0zM228.3 161.4h1.0v6.0h-1.0zM248.4 161.4h1.0v6.0h-1.0zM255.4 161.4h1.0v6.0h-1.0zM71.1 167.4h1.0v6.0h-1.0zM76.1 167.4h1.0v6.0h-1.0zM98.2 167.4h1.0v6.0h-1.0zM101.2 167.4h1.0v6.0h-1.0zM105.2 167.4h1.0v6.0h-1.0zM111.2 167.4h1.0v6.0h-1.0zM54.1 173.3h1.0v6.0h-1.0zM61.1 173.3h1.0v6.0h-1.0zM63.1 173.3h1.0v6.0h-1.0zM67.1 173.3h2.0v6.0h-2.0zM84.1 173.3h1.0v6.0h-1.0zM86.2 173.3h1.0v6.0h-1.0zM52.1 179.3h1.0v6.0h-1.0zM66.1 179.3h1.0v6.0h-1.0zM79.1 179.3h1.0v6.0h-1.0zM104.2 179.3h1.0v6.0h-1.0zM107.2 179.3h1.0v6.0h-1.0zM118.2 179.3h2.0v6.0h-2.0zM134.2 179.3h1.0v6.0h-1.0zM56.1 185.3h1.0v6.0h-1.0zM68.1 185.3h1.0v6.0h-1.0zM86.2 185.3h1.0v6.0h-1.0zM88.2 185.3h1.0v6.0h-1.0zM106.2 185.3h1.0v6.0h-1.0zM109.2 185.3h2.0v6.0h-2.0zM118.2 185.3h2.0v6.0h-2.0zM54.1 191.3h1.0v6.0h-1.0zM57.1 191.3h1.0v6.0h-1.0zM61.1 191.3h1.0v6.0h-1.0zM73.1 191.3h1.0v6.0h-1.0zM78.1 191.3h1.0v6.0h-1.0zM80.1 191.3h1.0v6.0h-1.0zM93.2 191.3h1.0v6.0h-1.0zM103.2 191.3h1.0v6.0h-1.0zM109.2 191.3h1.0v6.0h-1.0zM113.2 191.3h1.0v6.0h-1.0zM116.2 191.3h1.0v6.0h-1.0zM120.2 191.3h1.0v6.0h-1.0zM133.2 191.3h1.0v6.0h-1.0zM144.2 191.3h1.0v6.0h-1.0zM55.1 197.2h1.0v6.0h-1.0zM61.1 197.2h1.0v6.0h-1.0zM76.1 197.2h1.0v6.0h-1.0zM85.1 197.2h1.0v6.0h-1.0zM100.2 197.2h1.0v6.0h-1.0zM108.2 197.2h1.0v6.0h-1.0zM111.2 197.2h2.0v6.0h-2.0zM122.2 197.2h1.0v6.0h-1.0zM50.1 203.2h1.0v6.0h-1.0zM69.1 203.2h1.0v6.0h-1.0zM72.1 203.2h2.0v6.0h-2.0zM99.2 203.2h1.0v6.0h-1.0zM103.2 203.2h1.0v6.0h-1.0zM106.2 203.2h1.0v6.0h-1.0zM109.2 203.2h1.0v6.0h-1.0zM115.2 203.2h1.0v6.0h-1.0zM121.2 203.2h1.0v6.0h-1.0zM152.2 203.2h2.0v6.0h-2.0zM156.2 203.2h1.0v6.0h-1.0zM62.1 209.2h2.0v6.0h-2.0zM66.1 209.2h1.0v6.0h-1.0zM74.1 209.2h1.0v6.0h-1.0zM81.1 209.2h1.0v6.0h-1.0zM88.2 209.2h1.0v6.0h-1.0zM90.2 209.2h1.0v6.0h-1.0zM92.2 209.2h1.0v6.0h-1.0zM94.2 209.2h1.0v6.0h-1.0zM96.2 209.2h1.0v6.0h-1.0zM103.2 209.2h1.0v6.0h-1.0zM107.2 209.2h1.0v6.0h-1.0zM133.2 209.2h2.0v6.0h-2.0zM143.2 209.2h1.0v6.0h-1.0zM148.2 209.2h1.0v6.0h-1.0zM56.1 215.2h1.0v6.0h-1.0zM60.1 215.2h1.0v6.0h-1.0zM73.1 215.2h2.0v6.0h-2.0zM83.1 215.2h1.0v6.0h-1.0zM88.2 215.2h1.0v6.0h-1.0zM100.2 215.2h1.0v6.0h-1.0zM105.2 215.2h1.0v6.0h-1.0zM107.2 215.2h1.0v6.0h-1.0zM112.2 215.2h2.0v6.0h-2.0zM129.2 215.2h1.0v6.0h-1.0zM137.2 215.2h1.0v6.0h-1.0zM56.1 221.1h1.0v6.0h-1.0zM70.1 221.1h1.0v6.0h-1.0zM84.1 221.1h2.0v6.0h-2.0zM91.2 221.1h1.0v6.0h-1.0zM95.2 221.1h1.0v6.0h-1.0zM98.2 221.1h1.0v6.0h-1.0zM106.2 221.1h1.0v6.0h-1.0zM108.2 221.1h1.0v6.0h-1.0zM51.1 227.1h1.0v6.0h-1.0zM65.1 227.1h1.0v6.0h-1.0zM80.1 227.1h1.0v6.0h-1.0zM94.2 227.1h1.0v6.0h-1.0zM110.2 227.1h1.0v6.0h-1.0zM115.2 227.1h1.0v6.0h-1.0zM130.2 227.1h1.0v6.0h-1.0zM133.2 227.1h1.0v6.0h-1.0zM142.2 227.1h1.0v6.0h-1.0zM54.1 233.1h1.0v6.0h-1.0zM60.1 233.1h1.0v6.0h-1.0zM76.1 233.1h1.0v6.0h-1.0zM80.1 233.1h1.0v6.0h-1.0zM82.1 233.1h1.0v6.0h-1.0zM92.2 233.1h1.0v6.0h-1.0zM94.2 233.1h1.0v6.0h-1.0zM100.2 233.1h1.0v6.0h-1.0zM106.2 233.1h1.0v6.0h-1.0zM122.2 233.1h1.0v6.0h-1.0zM129.2 233.1h1.0v6.0h-1.0zM134.2 233.1h1.0v6.0h-1.0zM145.2 233.1h1.0v6.0h-1.0zM51.1 239.0h2.0v6.0h-2.0zM55.1 239.0h1.0v6.0h-1.0zM75.1 239.0h1.0v6.0h-1.0zM78.1 239.0h1.0v6.0h-1.0zM98.2 239.0h1.0v6.0h-1.0zM100.2 239.0h1.0v6.0h-1.0zM118.2 239.0h1.0v6.0h-1.0zM120.2 239.0h1.0v6.0h-1.0zM135.2 239.0h1.0v6.0h-1.0zM138.2 239.0h1.0v6.0h-1.0zM160.3 239.0h1.0v6.0h-1.0zM65.1 245.0h1.0v6.0h-1.0zM67.1 245.0h1.0v6.0h-1.0zM70.1 245.0h2.0v6.0h-2.0zM74.1 245.0h1.0v6.0h-1.0zM76.1 245.0h1.0v6.0h-1.0zM97.2 245.0h1.0v6.0h-1.0zM118.2 245.0h1.0v6.0h-1.0zM121.2 245.0h2.0v6.0h-2.0zM131.2 245.0h1.0v6.0h-1.0zM136.2 245.0h1.0v6.0h-1.0zM140.2 245.0h1.0v6.0h-1.0zM145.2 245.0h1.0v6.0h-1.0zM147.2 245.0h1.0v6.0h-1.0zM70.1 251.0h2.0v6.0h-2.0zM74.1 251.0h1.0v6.0h-1.0zM77.1 251.0h2.0v6.0h-2.0zM92.2 251.0h1.0v6.0h-1.0zM102.2 251.0h1.0v6.0h-1.0zM114.2 251.0h1.0v6.0h-1.0zM116.2 251.0h1.0v6.0h-1.0zM118.2 251.0h1.0v6.0h-1.0zM138.2 251.0h1.0v6.0h-1.0zM142.2 251.0h1.0v6.0h-1.0zM57.1 257.0h2.0v6.0h-2.0zM61.1 257.0h1.0v6.0h-1.0zM63.1 257.0h1.0v6.0h-1.0zM65.1 257.0h1.0v6.0h-1.0zM67.1 257.0h2.0v6.0h-2.0zM70.1 257.0h1.0v6.0h-1.0zM72.1 257.0h1.0v6.0h-1.0zM77.1 257.0h1.0v6.0h-1.0zM79.1 257.0h1.0v6.0h-1.0zM90.2 257.0h1.0v6.0h-1.0zM109.2 257.0h1.0v6.0h-1.0zM113.2 257.0h1.0v6.0h-1.0zM119.2 257.0h1.0v6.0h-1.0zM127.2 257.0h1.0v6.0h-1.0zM129.2 257.0h1.0v6.0h-1.0zM143.2 257.0h1.0v6.0h-1.0zM150.2 257.0h1.0v6.0h-1.0zM157.2 257.0h1.0v6.0h-1.0zM52.1 262.9h1.0v6.0h-1.0zM77.1 262.9h1.0v6.0h-1.0zM80.1 262.9h1.0v6.0h-1.0zM85.1 262.9h1.0v6.0h-1.0zM92.2 262.9h1.0v6.0h-1.0zM95.2 262.9h1.0v6.0h-1.0zM99.2 262.9h1.0v6.0h-1.0zM103.2 262.9h1.0v6.0h-1.0zM108.2 262.9h1.0v6.0h-1.0zM111.2 262.9h1.0v6.0h-1.0zM59.1 268.9h1.0v6.0h-1.0zM63.1 268.9h1.0v6.0h-1.0zM111.2 268.9h1.0v6.0h-1.0zM117.2 268.9h1.0v6.0h-1.0zM119.2 268.9h1.0v6.0h-1.0zM121.2 268.9h1.0v6.0h-1.0zM130.2 268.9h1.0v6.0h-1.0zM133.2 268.9h1.0v6.0h-1.0zM153.2 268.9h1.0v6.0h-1.0zM155.2 268.9h1.0v6.0h-1.0zM59.1 274.9h1.0v6.0h-1.0zM76.1 274.9h1.0v6.0h-1.0zM103.2 274.9h1.0v6.0h-1.0zM105.2 274.9h1.0v6.0h-1.0zM68.1 280.9h2.0v6.0h-2.0zM75.1 280.9h1.0v6.0h-1.0zM78.1 280.9h1.0v6.0h-1.0zM80.1 280.9h1.0v6.0h-1.0zM99.2 280.9h1.0v6.0h-1.0zM105.2 280.9h1.0v6.0h-1.0zM116.2 280.9h1.0v6.0h-1.0zM125.2 280.9h1.0v6.0h-1.0zM149.2 280.9h1.0v6.0h-1.0zM156.2 280.9h1.0v6.0h-1.0zM59.1 286.8h3.0v6.0h-3.0zM63.1 286.8h1.0v6.0h-1.0zM70.1 286.8h1.0v6.0h-1.0zM82.1 286.8h1.0v6.0h-1.0zM84.1 286.8h2.0v6.0h-2.0zM88.2 286.8h1.0v6.0h-1.0zM106.2 286.8h1.0v6.0h-1.0zM121.2 286.8h1.0v6.0h-1.0zM124.2 286.8h1.0v6.0h-1.0zM133.2 286.8h1.0v6.0h-1.0zM140.2 286.8h1.0v6.0h-1.0zM54.1 292.8h1.0v6.0h-1.0zM63.1 292.8h2.0v6.0h-2.0zM66.1 292.8h1.0v6.0h-1.0zM79.1 292.8h2.0v6.0h-2.0zM82.1 292.8h1.0v6.0h-1.0zM103.2 292.8h1.0v6.0h-1.0zM105.2 292.8h2.0v6.0h-2.0zM109.2 292.8h1.0v6.0h-1.0zM117.2 292.8h1.0v6.0h-1.0zM121.2 292.8h1.0v6.0h-1.0zM125.2 292.8h1.0v6.0h-1.0zM128.2 292.8h1.0v6.0h-1.0zM130.2 292.8h1.0v6.0h-1.0zM137.2 292.8h3.0v6.0h-3.0zM143.2 292.8h1.0v6.0h-1.0zM151.2 292.8h1.0v6.0h-1.0zM50.1 298.8h1.0v6.0h-1.0zM56.1 304.8h1.0v6.0h-1.0zM59.1 304.8h1.0v6.0h-1.0zM62.1 304.8h1.0v6.0h-1.0zM69.1 304.8h1.0v6.0h-1.0zM87.2 304.8h1.0v6.0h-1.0zM95.2 304.8h1.0v6.0h-1.0zM55.1 310.7h2.0v6.0h-2.0zM72.1 310.7h1.0v6.0h-1.0zM82.1 310.7h2.0v6.0h-2.0zM95.2 310.7h1.0v6.0h-1.0zM99.2 310.7h2.0v6.0h-2.0zM107.2 310.7h2.0v6.0h-2.0zM115.2 310.7h1.0v6.0h-1.0zM117.2 310.7h1.0v6.0h-1.0zM134.2 310.7h1.0v6.0h-1.0zM143.2 310.7h1.0v6.0h-1.0z"/>
<path fill="#fda65e" d="M165.3 24.0h1.0v6.0h-1.0zM202.3 24.0h1.0v6.0h-1.0zM227.3 24.0h1.0v6.0h-1.0zM236.4 24.0h1.0v6.0h-1.0zM245.4 24.0h1.0v6.0h-1.0zM248.4 24.0h1.0v6.0h-1.0zM251.4 30.0h1.0v6.0h-1.0zM178.3 35.9h1.0v6.0h-1.0zM202.3 35.9h1.0v6.0h-1.0zM239.4 41.9h1.0v6.0h-1.0zM246.4 41.9h1.0v6.0h-1.0zM188.3 53.9h1.0v6.0h-1.0zM196.3 53.9h1.0v6.0h-1.0zM223.3 53.9h1.0v6.0h-1.0zM233.4 53.9h1.0v6.0h-1.0zM164.3 65.8h1.0v6.0h-1.0zM184.3 95.7h1.0v6.0h-1.0zM189.3 95.7h1.0v6.0h-1.0zM178.3 119.6h2.0v6.0h-2.0zM181.3 119.6h1.0v6.0h-1.0zM183.3 119.6h1.0v6.0h-1.0zM185.3 119.6h2.0v6.0h-2.0zM189.3 119.6h1.0v6.0h-1.0zM193.3 119.6h1.0v6.0h-1.0zM195.3 119.6h1.0v6.0h-1.0zM214.3 125.5h1.0v6.0h-1.0zM176.3 143.5h1.0v6.0h-1.0zM178.3 143.5h1.0v6.0h-1.0zM180.3 143.5h1.0v6.0h-1.0zM183.3 143.5h2.0v6.0h-2.0zM186.3 143.5h3.0v6.0h-3.0zM166.3 161.4h1.0v6.0h-1.0zM171.3 161.4h1.0v6.0h-1.0zM173.3 161.4h1.0v6.0h-1.0zM250.4 161.4h1.0v6.0h-1.0zM69.1 167.4h1.0v6.0h-1.0zM77.1 167.4h2.0v6.0h-2.0zM127.2 179.3h1.0v6.0h-1.0zM129.2 179.3h1.0v6.0h-1.0zM62.1 185.3h1.0v6.0h-1.0zM65.1 185.3h1.0v6.0h-1.0zM135.2 191.3h1.0v6.0h-1.0zM140.2 197.2h1.0v6.0h-1.0zM142.2 197.2h2.0v6.0h-2.0zM145.2 209.2h1.0v6.0h-1.0zM75.1 215.2h1.0v6.0h-1.0zM52.1 227.1h1.0v6.0h-1.0zM54.1 227.1h1.0v6.0h-1.0zM131.2 227.1h1.0v6.0h-1.0zM134.2 227.1h1.0v6.0h-1.0zM105.2 233.1h1.0v6.0h-1.0zM140.2 233.1h1.0v6.0h-1.0zM127.2 251.0h1.0v6.0h-1.0zM134.2 251.0h1.0v6.0h-1.0zM136.2 251.0h1.0v6.0h-1.0zM142.2 257.0h1.0v6.0h-1.0zM146.2 262.9h2.0v6.0h-2.0zM146.2 268.9h1.0v6.0h-1.0zM127.2 280.9h1.0v6.0h-1.0zM134.2 280.9h1.0v6.0h-1.0zM126.2 298.8h1.0v6.0h-1.0zM130.2 298.8h1.0v6.0h-1.0zM142.2 298.8h1.0v6.0h-1.0zM145.2 298.8h1.0v6.0h-1.0zM61.1 304.8h1.0v6.0h-1.0z"/>
<path fill="#fed3af" d="M168.3 24.0h1.0v6.0h-1.0zM173.3 24.0h1.0v6.0h-1.0zM179.3 24.0h1.0v6.0h-1.0zM185.3 24.0h1.0v6.0h-1.0zM192.3 24.0h1.0v6.0h-1.0zM198.3 24.0h1.0v6.0h-1.0zM206.3 24.0h1.0v6.0h-1.0zM208.3 24.0h1.0v6.0h-1.0zM211.3 24.0h1.0v6.0h-1.0zM213.3 24.0h1.0v6.0h-1.0zM216.3 24.0h1.0v6.0h-1.0zM231.4 24.0h1.0v6.0h-1.0zM233.4 24.0h1.0v6.0h-1.0zM243.4 24.0h2.0v6.0h-2.0zM246.4 24.0h1.0v6.0h-1.0zM255.4 24.0h2.0v6.0h-2.0zM192.3 30.0h1.0v6.0h-1.0zM199.3 30.0h1.0v6.0h-1.0zM202.3 30.0h1.0v6.0h-1.0zM206.3 30.0h1.0v6.0h-1.0zM213.3 30.0h1.0v6.0h-1.0zM236.4 30.0h1.0v6.0h-1.0zM244.4 30.0h1.0v6.0h-1.0zM246.4 30.0h1.0v6.0h-1.0zM186.3 35.9h1.0v6.0h-1.0zM191.3 35.9h1.0v6.0h-1.0zM212.3 35.9h1.0v6.0h-1.0zM214.3 35.9h1.0v6.0h-1.0zM218.3 35.9h1.0v6.0h-1.0zM224.3 35.9h1.0v6.0h-1.0zM229.3 35.9h1.0v6.0h-1.0zM237.4 35.9h1.0v6.0h-1.0zM247.4 35.9h1.0v6.0h-1.0zM249.4 35.9h1.0v6.0h-1.0zM168.3 41.9h1.0v6.0h-1.0zM174.3 41.9h1.0v6.0h-1.0zM184.3 41.9h2.0v6.0h-2.0zM191.3 41.9h1.0v6.0h-1.0zM195.3 41.9h1.0v6.0h-1.0zM199.3 41.9h1.0v6.0h-1.0zM209.3 41.9h2.0v6.0h-2.0zM217.3 41.9h1.0v6.0h-1.0zM222.3 41.9h1.0v6.0h-1.0zM225.3 41.9h1.0v6.0h-1.0zM230.3 41.9h1.0v6.0h-1.0zM234.4 41.9h1.0v6.0h-1.0zM249.4 41.9h1.0v6.0h-1.0zM255.4 41.9h1.0v6.0h-1.0zM165.3 47.9h1.0v6.0h-1.0zM173.3 47.9h1.0v6.0h-1.0zM189.3 47.9h1.0v6.0h-1.0zM198.3 47.9h1.0v6.0h-1.0zM201.3 47.9h1.0v6.0h-1.0zM206.3 47.9h2.0v6.0h-2.0zM211.3 47.9h1.0v6.0h-1.0zM220.3 47.9h1.0v6.0h-1.0zM225.3 47.9h1.0v6.0h-1.0zM229.3 47.9h1.0v6.0h-1.0zM232.4 47.9h1.0v6.0h-1.0zM234.4 47.9h1.0v6.0h-1.0zM237.4 47.9h1.0v6.0h-1.0zM241.4 47.9h1.0v6.0h-1.0zM254.4 47.9h1.0v6.0h-1.0zM179.3 53.9h1.0v6.0h-1.0zM191.3 53.9h1.0v6.0h-1.0zM202.3 53.9h1.0v6.0h-1.0zM207.3 53.9h1.0v6.0h-1.0zM215.3 53.9h3.0v6.0h-3.0zM226.3 53.9h1.0v6.0h-1.0zM228.3 53.9h1.0v6.0h-1.0zM241.4 53.9h1.0v6.0h-1.0zM250.4 53.9h2.0v6.0h-2.0zM257.4 53.9h1.0v6.0h-1.0zM178.3 59.8h1.0v6.0h-1.0zM181.3 59.8h1.0v6.0h-1.0zM196.3 59.8h1.0v6.0h-1.0zM200.3 59.8h1.0v6.0h-1.0zM208.3 59.8h1.0v6.0h-1.0zM211.3 59.8h1.0v6.0h-1.0zM222.3 59.8h1.0v6.0h-1.0zM234.4 59.8h1.0v6.0h-1.0zM236.4 59.8h2.0v6.0h-2.0zM246.4 59.8h2.0v6.0h-2.0zM253.4 59.8h1.0v6.0h-1.0zM196.3 65.8h1.0v6.0h-1.0zM203.3 65.8h1.0v6.0h-1.0zM223.3 65.8h1.0v6.0h-1.0zM251.4 65.8h1.0v6.0h-1.0zM181.3 71.8h1.0v6.0h-1.0zM193.3 71.8h1.0v6.0h-1.0zM222.3 71.8h1.0v6.0h-1.0zM227.3 71.8h1.0v6.0h-1.0zM230.3 71.8h1.0v6.0h-1.0zM233.4 71.8h1.0v6.0h-1.0zM247.4 71.8h2.0v6.0h-2.0zM251.4 71.8h1.0v6.0h-1.0zM256.4 71.8h1.0v6.0h-1.0zM161.3 77.8h1.0v6.0h-1.0zM177.3 77.8h1.0v6.0h-1.0zM179.3 77.8h1.0v6.0h-1.0zM198.3 77.8h1.0v6.0h-1.0zM211.3 77.8h1.0v6.0h-1.0zM213.3 77.8h1.0v6.0h-1.0zM224.3 77.8h1.0v6.0h-1.0zM226.3 77.8h1.0v6.0h-1.0zM230.3 77.8h1.0v6.0h-1.0zM233.4 77.8h1.0v6.0h-1.0zM242.4 77.8h1.0v6.0h-1.0zM254.4 77.8h2.0v6.0h-2.0zM257.4 77.8h1.0v6.0h-1.0zM163.3 83.7h1.0v6.0h-1.0zM169.3 83.7h1.0v6.0h-1.0zM176.3 83.7h1.0v6.0h-1.0zM178.3 83.7h1.0v6.0h-1.0zM184.3 83.7h3.0v6.0h-3.0zM188.3 83.7h1.0v6.0h-1.0zM194.3 83.7h1.0v6.0h-1.0zM220.3 83.7h1.0v6.0h-1.0zM230.3 83.7h1.0v6.0h-1.0zM180.3 89.7h1.0v6.0h-1.0zM182.3 89.7h1.0v6.0h-1.0zM186.3 89.7h1.0v6.0h-1.0zM193.3 89.7h1.0v6.0h-1.0zM199.3 89.7h1.0v6.0h-1.0zM213.3 89.7h1.0v6.0h-1.0zM243.4 89.7h1.0v6.0h-1.0zM164.3 95.7h1.0v6.0h-1.0zM194.3 95.7h1.0v6.0h-1.0zM126.2 101.7h1.0v6.0h-1.0zM165.3 101.7h1.0v6.0h-1.0zM172.3 101.7h1.0v6.0h-1.0zM209.3 101.7h1.0v6.0h-1.0zM230.3 101.7h2.0v6.0h-2.0zM236.4 101.7h1.0v6.0h-1.0zM161.3 107.6h1.0v6.0h-1.0zM186.3 107.6h1.0v6.0h-1.0zM190.3 107.6h1.0v6.0h-1.0zM192.3 107.6h1.0v6.0h-1.0zM200.3 107.6h1.0v6.0h-1.0zM202.3 107.6h1.0v6.0h-1.0zM204.3 107.6h1.0v6.0h-1.0zM206.3 107.6h1.0v6.0h-1.0zM212.3 107.6h1.0v6.0h-1.0zM215.3 107.6h1.0v6.0h-1.0zM256.4 107.6h1.0v6.0h-1.0zM55.1 113.6h2.0v6.0h-2.0zM59.1 113.6h1.0v6.0h-1.0zM62.1 113.6h1.0v6.0h-1.0zM208.3 113.6h1.0v6.0h-1.0zM226.3 113.6h1.0v6.0h-1.0zM228.3 113.6h1.0v6.0h-1.0zM243.4 113.6h1.0v6.0h-1.0zM253.4 113.6h1.0v6.0h-1.0zM234.4 119.6h1.0v6.0h-1.0zM252.4 119.6h1.0v6.0h-1.0zM50.1 125.5h1.0v6.0h-1.0zM64.1 125.5h1.0v6.0h-1.0zM163.3 125.5h1.0v6.0h-1.0zM168.3 125.5h2.0v6.0h-2.0zM172.3 125.5h1.0v6.0h-1.0zM189.3 125.5h1.0v6.0h-1.0zM195.3 125.5h1.0v6.0h-1.0zM199.3 125.5h2.0v6.0h-2.0zM204.3 125.5h1.0v6.0h-1.0zM208.3 125.5h1.0v6.0h-1.0zM213.3 125.5h1.0v6.0h-1.0zM224.3 125.5h1.0v6.0h-1.0zM231.4 125.5h1.0v6.0h-1.0zM236.4 125.5h1.0v6.0h-1.0zM241.4 125.5h1.0v6.0h-1.0zM249.4 125.5h1.0v6.0h-1.0zM50.1 131.5h1.0v6.0h-1.0zM169.3 131.5h1.0v6.0h-1.0zM171.3 131.5h1.0v6.0h-1.0zM188.3 131.5h1.0v6.0h-1.0zM194.3 131.5h1.0v6.0h-1.0zM200.3 131.5h1.0v6.0h-1.0zM233.4 131.5h1.0v6.0h-1.0zM250.4 131.5h1.0v6.0h-1.0zM178.3 137.5h1.0v6.0h-1.0zM181.3 137.5h2.0v6.0h-2.0zM186.3 137.5h1.0v6.0h-1.0zM191.3 137.5h1.0v6.0h-1.0zM198.3 137.5h1.0v6.0h-1.0zM201.3 137.5h1.0v6.0h-1.0zM210.3 137.5h1.0v6.0h-1.0zM226.3 137.5h2.0v6.0h-2.0zM244.4 137.5h1.0v6.0h-1.0zM254.4 137.5h1.0v6.0h-1.0zM257.4 137.5h1.0v6.0h-1.0zM134.2 143.5h2.0v6.0h-2.0zM141.2 143.5h1.0v6.0h-1.0zM162.3 143.5h1.0v6.0h-1.0zM165.3 143.5h1.0v6.0h-1.0zM167.3 143.5h2.0v6.0h-2.0zM170.3 143.5h1.0v6.0h-1.0zM209.3 143.5h1.0v6.0h-1.0zM244.4 143.5h1.0v6.0h-1.0zM253.4 143.5h2.0v6.0h-2.0zM60.1 149.4h1.0v6.0h-1.0zM65.1 149.4h1.0v6.0h-1.0zM168.3 149.4h1.0v6.0h-1.0zM192.3 149.4h1.0v6.0h-1.0zM207.3 149.4h1.0v6.0h-1.0zM209.3 149.4h2.0v6.0h-2.0zM212.3 149.4h1.0v6.0h-1.0zM218.3 149.4h1.0v6.0h-1.0zM243.4 149.4h1.0v6.0h-1.0zM245.4 149.4h1.0v6.0h-1.0zM247.4 149.4h1.0v6.0h-1.0zM250.4 149.4h1.0v6.0h-1.0zM256.4 149.4h1.0v6.0h-1.0zM161.3 155.4h1.0v6.0h-1.0zM178.3 155.4h1.0v6.0h-1.0zM181.3 155.4h1.0v6.0h-1.0zM191.3 155.4h1.0v6.0h-1.0zM201.3 155.4h1.0v6.0h-1.0zM211.3 155.4h1.0v6.0h-1.0zM221.3 155.4h1.0v6.0h-1.0zM224.3 155.4h1.0v6.0h-1.0zM238.4 155.4h1.0v6.0h-1.0zM247.4 155.4h1.0v6.0h-1.0zM255.4 155.4h1.0v6.0h-1.0zM177.3 161.4h1.0v6.0h-1.0zM201.3 161.4h1.0v6.0h-1.0zM204.3 161.4h1.0v6.0h-1.0zM210.3 161.4h1.0v6.0h-1.0zM217.3 161.4h2.0v6.0h-2.0zM221.3 161.4h1.0v6.0h-1.0zM223.3 161.4h2.0v6.0h-2.0zM257.4 161.4h1.0v6.0h-1.0zM70.1 167.4h1.0v6.0h-1.0zM75.1 167.4h1.0v6.0h-1.0zM87.2 167.4h1.0v6.0h-1.0zM109.2 167.4h1.0v6.0h-1.0zM112.2 167.4h1.0v6.0h-1.0zM59.1 173.3h1.0v6.0h-1.0zM77.1 173.3h1.0v6.0h-1.0zM85.1 173.3h1.0v6.0h-1.0zM89.2 173.3h1.0v6.0h-1.0zM114.2 173.3h1.0v6.0h-1.0zM131.2 173.3h1.0v6.0h-1.0zM56.1 179.3h1.0v6.0h-1.0zM68.1 179.3h1.0v6.0h-1.0zM88.2 179.3h1.0v6.0h-1.0zM92.2 179.3h1.0v6.0h-1.0zM109.2 179.3h2.0v6.0h-2.0zM147.2 179.3h1.0v6.0h-1.0zM58.1 185.3h1.0v6.0h-1.0zM70.1 185.3h1.0v6.0h-1.0zM79.1 185.3h1.0v6.0h-1.0zM95.2 185.3h1.0v6.0h-1.0zM108.2 185.3h1.0v6.0h-1.0zM111.2 185.3h1.0v6.0h-1.0zM113.2 185.3h1.0v6.0h-1.0zM120.2 185.3h1.0v6.0h-1.0zM51.1 191.3h1.0v6.0h-1.0zM62.1 191.3h1.0v6.0h-1.0zM64.1 191.3h1.0v6.0h-1.0zM75.1 191.3h1.0v6.0h-1.0zM79.1 191.3h1.0v6.0h-1.0zM82.1 191.3h1.0v6.0h-1.0zM91.2 191.3h1.0v6.0h-1.0zM97.2 191.3h1.0v6.0h-1.0zM99.2 191.3h1.0v6.0h-1.0zM119.2 191.3h1.0v6.0h-1.0zM143.2 191.3h1.0v6.0h-1.0zM54.1 197.2h1.0v6.0h-1.0zM64.1 197.2h1.0v6.0h-1.0zM86.2 197.2h1.0v6.0h-1.0zM102.2 197.2h1.0v6.0h-1.0zM106.2 197.2h1.0v6.0h-1.0zM115.2 197.2h1.0v6.0h-1.0zM130.2 197.2h1.0v6.0h-1.0zM54.1 203.2h1.0v6.0h-1.0zM64.1 203.2h1.0v6.0h-1.0zM71.1 203.2h1.0v6.0h-1.0zM76.1 203.2h1.0v6.0h-1.0zM94.2 203.2h1.0v6.0h-1.0zM101.2 203.2h1.0v6.0h-1.0zM116.2 203.2h1.0v6.0h-1.0zM50.1 209.2h1.0v6.0h-1.0zM56.1 209.2h1.0v6.0h-1.0zM58.1 209.2h1.0v6.0h-1.0zM60.1 209.2h1.0v6.0h-1.0zM73.1 209.2h1.0v6.0h-1.0zM95.2 209.2h1.0v6.0h-1.0zM111.2 209.2h1.0v6.0h-1.0zM115.2 209.2h1.0v6.0h-1.0zM120.2 209.2h1.0v6.0h-1.0zM137.2 209.2h1.0v6.0h-1.0zM67.1 215.2h2.0v6.0h-2.0zM78.1 215.2h1.0v6.0h-1.0zM81.1 215.2h1.0v6.0h-1.0zM90.2 215.2h2.0v6.0h-2.0zM93.2 215.2h1.0v6.0h-1.0zM95.2 215.2h1.0v6.0h-1.0zM101.2 215.2h2.0v6.0h-2.0zM109.2 215.2h1.0v6.0h-1.0zM111.2 215.2h1.0v6.0h-1.0zM114.2 215.2h1.0v6.0h-1.0zM117.2 215.2h1.0v6.0h-1.0zM121.2 215.2h1.0v6.0h-1.0zM124.2 215.2h1.0v6.0h-1.0zM127.2 215.2h1.0v6.0h-1.0zM133.2 215.2h1.0v6.0h-1.0zM139.2 215.2h1.0v6.0h-1.0zM142.2 215.2h1.0v6.0h-1.0zM145.2 215.2h1.0v6.0h-1.0zM54.1 221.1h1.0v6.0h-1.0zM61.1 221.1h1.0v6.0h-1.0zM75.1 221.1h1.0v6.0h-1.0zM92.2 221.1h1.0v6.0h-1.0zM63.1 227.1h1.0v6.0h-1.0zM69.1 227.1h1.0v6.0h-1.0zM101.2 227.1h1.0v6.0h-1.0zM107.2 227.1h1.0v6.0h-1.0zM114.2 227.1h1.0v6.0h-1.0zM117.2 227.1h1.0v6.0h-1.0zM125.2 227.1h1.0v6.0h-1.0zM128.2 227.1h1.0v6.0h-1.0zM137.2 227.1h1.0v6.0h-1.0zM139.2 227.1h2.0v6.0h-2.0zM143.2 227.1h1.0v6.0h-1.0zM62.1 233.1h1.0v6.0h-1.0zM67.1 233.1h1.0v6.0h-1.0zM73.1 233.1h1.0v6.0h-1.0zM81.1 233.1h1.0v6.0h-1.0zM84.1 233.1h1.0v6.0h-1.0zM101.2 233.1h1.0v6.0h-1.0zM107.2 233.1h1.0v6.0h-1.0zM109.2 233.1h1.0v6.0h-1.0zM137.2 233.1h1.0v6.0h-1.0zM67.1 239.0h1.0v6.0h-1.0zM82.1 239.0h2.0v6.0h-2.0zM85.1 239.0h1.0v6.0h-1.0zM92.2 239.0h1.0v6.0h-1.0zM101.2 239.0h1.0v6.0h-1.0zM103.2 239.0h1.0v6.0h-1.0zM127.2 239.0h1.0v6.0h-1.0zM132.2 239.0h1.0v6.0h-1.0zM141.2 239.0h1.0v6.0h-1.0zM145.2 239.0h1.0v6.0h-1.0zM150.2 239.0h1.0v6.0h-1.0zM51.1 245.0h2.0v6.0h-2.0zM57.1 245.0h1.0v6.0h-1.0zM60.1 245.0h1.0v6.0h-1.0zM69.1 245.0h1.0v6.0h-1.0zM77.1 245.0h1.0v6.0h-1.0zM79.1 245.0h1.0v6.0h-1.0zM90.2 245.0h1.0v6.0h-1.0zM98.2 245.0h2.0v6.0h-2.0zM110.2 245.0h1.0v6.0h-1.0zM116.2 245.0h1.0v6.0h-1.0zM123.2 245.0h3.0v6.0h-3.0zM133.2 245.0h1.0v6.0h-1.0zM137.2 245.0h2.0v6.0h-2.0zM146.2 245.0h1.0v6.0h-1.0zM51.1 251.0h1.0v6.0h-1.0zM56.1 251.0h1.0v6.0h-1.0zM62.1 251.0h1.0v6.0h-1.0zM69.1 251.0h1.0v6.0h-1.0zM80.1 251.0h1.0v6.0h-1.0zM98.2 251.0h1.0v6.0h-1.0zM100.2 251.0h1.0v6.0h-1.0zM109.2 251.0h1.0v6.0h-1.0zM119.2 251.0h1.0v6.0h-1.0zM131.2 251.0h1.0v6.0h-1.0zM135.2 251.0h1.0v6.0h-1.0zM137.2 251.0h1.0v6.0h-1.0zM146.2 251.0h1.0v6.0h-1.0zM62.1 257.0h1.0v6.0h-1.0zM73.1 257.0h1.0v6.0h-1.0zM80.1 257.0h1.0v6.0h-1.0zM91.2 257.0h1.0v6.0h-1.0zM118.2 257.0h1.0v6.0h-1.0zM134.2 257.0h2.0v6.0h-2.0zM154.2 257.0h1.0v6.0h-1.0zM56.1 262.9h1.0v6.0h-1.0zM60.1 262.9h1.0v6.0h-1.0zM71.1 262.9h1.0v6.0h-1.0zM82.1 262.9h2.0v6.0h-2.0zM87.2 262.9h2.0v6.0h-2.0zM91.2 262.9h1.0v6.0h-1.0zM96.2 262.9h1.0v6.0h-1.0zM107.2 262.9h1.0v6.0h-1.0zM115.2 262.9h1.0v6.0h-1.0zM119.2 262.9h1.0v6.0h-1.0zM52.1 268.9h1.0v6.0h-1.0zM69.1 268.9h1.0v6.0h-1.0zM71.1 268.9h1.0v6.0h-1.0zM82.1 268.9h1.0v6.0h-1.0zM93.2 268.9h1.0v6.0h-1.0zM103.2 268.9h1.0v6.0h-1.0zM108.2 268.9h1.0v6.0h-1.0zM137.2 268.9h1.0v6.0h-1.0zM156.2 268.9h1.0v6.0h-1.0zM51.1 274.9h2.0v6.0h-2.0zM54.1 274.9h1.0v6.0h-1.0zM63.1 274.9h1.0v6.0h-1.0zM66.1 274.9h1.0v6.0h-1.0zM93.2 274.9h1.0v6.0h-1.0zM118.2 274.9h1.0v6.0h-1.0zM76.1 280.9h1.0v6.0h-1.0zM87.2 280.9h1.0v6.0h-1.0zM98.2 280.9h1.0v6.0h-1.0zM128.2 280.9h1.0v6.0h-1.0zM150.2 280.9h1.0v6.0h-1.0zM157.2 280.9h1.0v6.0h-1.0zM57.1 286.8h1.0v6.0h-1.0zM80.1 286.8h1.0v6.0h-1.0zM87.2 286.8h1.0v6.0h-1.0zM94.2 286.8h1.0v6.0h-1.0zM102.2 286.8h2.0v6.0h-2.0zM113.2 286.8h2.0v6.0h-2.0zM126.2 286.8h1.0v6.0h-1.0zM146.2 286.8h1.0v6.0h-1.0zM148.2 286.8h1.0v6.0h-1.0zM60.1 292.8h1.0v6.0h-1.0zM62.1 292.8h1.0v6.0h-1.0zM68.1 292.8h1.0v6.0h-1.0zM87.2 292.8h1.0v6.0h-1.0zM92.2 292.8h1.0v6.0h-1.0zM142.2 292.8h1.0v6.0h-1.0zM55.1 298.8h1.0v6.0h-1.0zM62.1 298.8h1.0v6.0h-1.0zM82.1 304.8h1.0v6.0h-1.0zM96.2 304.8h1.0v6.0h-1.0zM101.2 304.8h2.0v6.0h-2.0zM110.2 304.8h1.0v6.0h-1.0zM59.1 310.7h1.0v6.0h-1.0zM63.1 310.7h1.0v6.0h-1.0zM68.1 310.7h1.0v6.0h-1.0zM71.1 310.7h1.0v6.0h-1.0zM78.1 310.7h1.0v6.0h-1.0zM81.1 310.7h1.0v6.0h-1.0zM119.2 310.7h1.0v6.0h-1.0zM126.2 310.7h2.0v6.0h-2.0z"/>
<path fill="#feca9f" d="M175.3 24.0h1.0v6.0h-1.0zM197.3 24.0h1.0v6.0h-1.0zM199.3 24.0h1.0v6.0h-1.0zM203.3 24.0h1.0v6.0h-1.0zM207.3 24.0h1.0v6.0h-1.0zM212.3 24.0h1.0v6.0h-1.0zM220.3 24.0h3.0v6.0h-3.0zM226.3 24.0h1.0v6.0h-1.0zM229.3 24.0h1.0v6.0h-1.0zM235.4 24.0h1.0v6.0h-1.0zM249.4 24.0h1.0v6.0h-1.0zM251.4 24.0h1.0v6.0h-1.0zM254.4 24.0h1.0v6.0h-1.0zM167.3 30.0h1.0v6.0h-1.0zM198.3 30.0h1.0v6.0h-1.0zM205.3 30.0h1.0v6.0h-1.0zM207.3 30.0h4.0v6.0h-4.0zM219.3 30.0h3.0v6.0h-3.0zM232.4 30.0h1.0v6.0h-1.0zM235.4 30.0h1.0v6.0h-1.0zM247.4 30.0h1.0v6.0h-1.0zM253.4 30.0h1.0v6.0h-1.0zM177.3 35.9h1.0v6.0h-1.0zM182.3 35.9h1.0v6.0h-1.0zM184.3 35.9h1.0v6.0h-1.0zM188.3 35.9h2.0v6.0h-2.0zM233.4 35.9h1.0v6.0h-1.0zM239.4 35.9h1.0v6.0h-1.0zM253.4 35.9h2.0v6.0h-2.0zM177.3 41.9h1.0v6.0h-1.0zM181.3 41.9h1.0v6.0h-1.0zM188.3 41.9h1.0v6.0h-1.0zM192.3 41.9h2.0v6.0h-2.0zM201.3 41.9h1.0v6.0h-1.0zM204.3 41.9h1.0v6.0h-1.0zM206.3 41.9h2.0v6.0h-2.0zM211.3 41.9h1.0v6.0h-1.0zM218.3 41.9h2.0v6.0h-2.0zM224.3 41.9h1.0v6.0h-1.0zM228.3 41.9h1.0v6.0h-1.0zM240.4 41.9h1.0v6.0h-1.0zM257.4 41.9h1.0v6.0h-1.0zM166.3 47.9h1.0v6.0h-1.0zM180.3 47.9h1.0v6.0h-1.0zM186.3 47.9h1.0v6.0h-1.0zM191.3 47.9h2.0v6.0h-2.0zM196.3 47.9h1.0v6.0h-1.0zM218.3 47.9h2.0v6.0h-2.0zM221.3 47.9h1.0v6.0h-1.0zM239.4 47.9h1.0v6.0h-1.0zM183.3 53.9h2.0v6.0h-2.0zM190.3 53.9h1.0v6.0h-1.0zM195.3 53.9h1.0v6.0h-1.0zM198.3 53.9h2.0v6.0h-2.0zM209.3 53.9h1.0v6.0h-1.0zM211.3 53.9h1.0v6.0h-1.0zM221.3 53.9h1.0v6.0h-1.0zM224.3 53.9h1.0v6.0h-1.0zM227.3 53.9h1.0v6.0h-1.0zM231.4 53.9h1.0v6.0h-1.0zM237.4 53.9h1.0v6.0h-1.0zM248.4 53.9h1.0v6.0h-1.0zM252.4 53.9h1.0v6.0h-1.0zM255.4 53.9h1.0v6.0h-1.0zM175.3 59.8h1.0v6.0h-1.0zM190.3 59.8h1.0v6.0h-1.0zM194.3 59.8h1.0v6.0h-1.0zM197.3 65.8h1.0v6.0h-1.0zM228.3 65.8h1.0v6.0h-1.0zM198.3 71.8h1.0v6.0h-1.0zM208.3 71.8h2.0v6.0h-2.0zM212.3 71.8h1.0v6.0h-1.0zM214.3 71.8h1.0v6.0h-1.0zM220.3 71.8h1.0v6.0h-1.0zM225.3 71.8h1.0v6.0h-1.0zM241.4 71.8h1.0v6.0h-1.0zM249.4 71.8h1.0v6.0h-1.0zM165.3 77.8h1.0v6.0h-1.0zM178.3 77.8h1.0v6.0h-1.0zM188.3 77.8h1.0v6.0h-1.0zM196.3 77.8h1.0v6.0h-1.0zM200.3 77.8h1.0v6.0h-1.0zM227.3 77.8h1.0v6.0h-1.0zM246.4 77.8h2.0v6.0h-2.0zM173.3 83.7h2.0v6.0h-2.0zM180.3 83.7h1.0v6.0h-1.0zM182.3 83.7h1.0v6.0h-1.0zM190.3 83.7h1.0v6.0h-1.0zM206.3 83.7h1.0v6.0h-1.0zM231.4 83.7h1.0v6.0h-1.0zM233.4 83.7h1.0v6.0h-1.0zM242.4 83.7h2.0v6.0h-2.0zM165.3 89.7h1.0v6.0h-1.0zM168.3 89.7h1.0v6.0h-1.0zM172.3 89.7h1.0v6.0h-1.0zM179.3 89.7h1.0v6.0h-1.0zM185.3 89.7h1.0v6.0h-1.0zM191.3 89.7h1.0v6.0h-1.0zM196.3 89.7h1.0v6.0h-1.0zM177.3 95.7h1.0v6.0h-1.0zM179.3 95.7h1.0v6.0h-1.0zM186.3 95.7h1.0v6.0h-1.0zM213.3 95.7h1.0v6.0h-1.0zM145.2 101.7h1.0v6.0h-1.0zM167.3 101.7h1.0v6.0h-1.0zM192.3 101.7h1.0v6.0h-1.0zM195.3 101.7h1.0v6.0h-1.0zM207.3 101.7h1.0v6.0h-1.0zM224.3 101.7h1.0v6.0h-1.0zM253.4 101.7h1.0v6.0h-1.0zM193.3 107.6h2.0v6.0h-2.0zM198.3 107.6h1.0v6.0h-1.0zM230.3 107.6h1.0v6.0h-1.0zM161.3 113.6h1.0v6.0h-1.0zM168.3 113.6h1.0v6.0h-1.0zM171.3 113.6h1.0v6.0h-1.0zM204.3 113.6h1.0v6.0h-1.0zM207.3 113.6h1.0v6.0h-1.0zM222.3 113.6h1.0v6.0h-1.0zM232.4 113.6h1.0v6.0h-1.0zM236.4 113.6h1.0v6.0h-1.0zM239.4 113.6h1.0v6.0h-1.0zM244.4 113.6h1.0v6.0h-1.0zM247.4 113.6h1.0v6.0h-1.0zM255.4 113.6h1.0v6.0h-1.0zM221.3 119.6h1.0v6.0h-1.0zM162.3 125.5h1.0v6.0h-1.0zM164.3 125.5h2.0v6.0h-2.0zM174.3 125.5h1.0v6.0h-1.0zM217.3 125.5h1.0v6.0h-1.0zM247.4 125.5h1.0v6.0h-1.0zM255.4 125.5h1.0v6.0h-1.0zM51.1 131.5h1.0v6.0h-1.0zM177.3 131.5h1.0v6.0h-1.0zM201.3 131.5h1.0v6.0h-1.0zM52.1 137.5h1.0v6.0h-1.0zM66.1 137.5h1.0v6.0h-1.0zM194.3 137.5h1.0v6.0h-1.0zM199.3 137.5h1.0v6.0h-1.0zM236.4 137.5h2.0v6.0h-2.0zM239.4 137.5h1.0v6.0h-1.0zM245.4 137.5h1.0v6.0h-1.0zM249.4 137.5h1.0v6.0h-1.0zM125.2 143.5h1.0v6.0h-1.0zM127.2 143.5h1.0v6.0h-1.0zM142.2 143.5h1.0v6.0h-1.0zM144.2 143.5h1.0v6.0h-1.0zM148.2 143.5h1.0v6.0h-1.0zM201.3 143.5h1.0v6.0h-1.0zM219.3 143.5h1.0v6.0h-1.0zM235.4 143.5h1.0v6.0h-1.0zM237.4 143.5h1.0v6.0h-1.0zM255.4 143.5h1.0v6.0h-1.0zM53.1 149.4h1.0v6.0h-1.0zM67.1 149.4h1.0v6.0h-1.0zM196.3 149.4h1.0v6.0h-1.0zM200.3 149.4h2.0v6.0h-2.0zM228.3 149.4h1.0v6.0h-1.0zM171.3 155.4h1.0v6.0h-1.0zM183.3 155.4h1.0v6.0h-1.0zM232.4 155.4h1.0v6.0h-1.0zM245.4 155.4h1.0v6.0h-1.0zM253.4 155.4h1.0v6.0h-1.0zM50.1 161.4h1.0v6.0h-1.0zM182.3 161.4h1.0v6.0h-1.0zM193.3 161.4h1.0v6.0h-1.0zM203.3 161.4h1.0v6.0h-1.0zM215.3 161.4h1.0v6.0h-1.0zM74.1 167.4h1.0v6.0h-1.0zM80.1 167.4h1.0v6.0h-1.0zM99.2 167.4h1.0v6.0h-1.0zM103.2 167.4h1.0v6.0h-1.0zM107.2 167.4h1.0v6.0h-1.0zM53.1 173.3h1.0v6.0h-1.0zM65.1 173.3h1.0v6.0h-1.0zM70.1 173.3h2.0v6.0h-2.0zM81.1 173.3h1.0v6.0h-1.0zM87.2 173.3h1.0v6.0h-1.0zM98.2 173.3h1.0v6.0h-1.0zM107.2 173.3h1.0v6.0h-1.0zM121.2 173.3h1.0v6.0h-1.0zM54.1 179.3h2.0v6.0h-2.0zM73.1 179.3h1.0v6.0h-1.0zM75.1 179.3h1.0v6.0h-1.0zM82.1 179.3h1.0v6.0h-1.0zM84.1 179.3h1.0v6.0h-1.0zM123.2 179.3h1.0v6.0h-1.0zM133.2 179.3h1.0v6.0h-1.0zM137.2 179.3h1.0v6.0h-1.0zM141.2 179.3h1.0v6.0h-1.0zM145.2 179.3h1.0v6.0h-1.0zM148.2 179.3h1.0v6.0h-1.0zM71.1 185.3h1.0v6.0h-1.0zM78.1 185.3h1.0v6.0h-1.0zM84.1 185.3h1.0v6.0h-1.0zM93.2 185.3h1.0v6.0h-1.0zM100.2 185.3h1.0v6.0h-1.0zM102.2 185.3h1.0v6.0h-1.0zM104.2 185.3h1.0v6.0h-1.0zM112.2 185.3h1.0v6.0h-1.0zM76.1 191.3h1.0v6.0h-1.0zM95.2 191.3h1.0v6.0h-1.0zM98.2 191.3h1.0v6.0h-1.0zM108.2 191.3h1.0v6.0h-1.0zM124.2 191.3h1.0v6.0h-1.0zM141.2 191.3h1.0v6.0h-1.0zM63.1 197.2h1.0v6.0h-1.0zM69.1 197.2h1.0v6.0h-1.0zM113.2 197.2h1.0v6.0h-1.0zM120.2 197.2h1.0v6.0h-1.0zM131.2 197.2h1.0v6.0h-1.0zM135.2 197.2h1.0v6.0h-1.0zM137.2 197.2h1.0v6.0h-1.0zM66.1 203.2h1.0v6.0h-1.0zM92.2 203.2h1.0v6.0h-1.0zM120.2 203.2h1.0v6.0h-1.0zM65.1 209.2h1.0v6.0h-1.0zM86.2 209.2h1.0v6.0h-1.0zM124.2 209.2h1.0v6.0h-1.0zM128.2 209.2h1.0v6.0h-1.0zM50.1 215.2h1.0v6.0h-1.0zM72.1 215.2h1.0v6.0h-1.0zM77.1 215.2h1.0v6.0h-1.0zM94.2 215.2h1.0v6.0h-1.0zM106.2 215.2h1.0v6.0h-1.0zM108.2 215.2h1.0v6.0h-1.0zM125.2 215.2h1.0v6.0h-1.0zM138.2 215.2h1.0v6.0h-1.0zM63.1 221.1h1.0v6.0h-1.0zM101.2 221.1h1.0v6.0h-1.0zM124.2 221.1h1.0v6.0h-1.0zM66.1 227.1h1.0v6.0h-1.0zM92.2 227.1h1.0v6.0h-1.0zM141.2 227.1h1.0v6.0h-1.0zM144.2 227.1h1.0v6.0h-1.0zM147.2 227.1h1.0v6.0h-1.0zM53.1 233.1h1.0v6.0h-1.0zM55.1 233.1h1.0v6.0h-1.0zM58.1 233.1h1.0v6.0h-1.0zM69.1 233.1h1.0v6.0h-1.0zM75.1 233.1h1.0v6.0h-1.0zM86.2 233.1h1.0v6.0h-1.0zM133.2 233.1h1.0v6.0h-1.0zM138.2 233.1h1.0v6.0h-1.0zM148.2 233.1h1.0v6.0h-1.0zM152.2 233.1h1.0v6.0h-1.0zM76.1 239.0h1.0v6.0h-1.0zM96.2 239.0h1.0v6.0h-1.0zM125.2 239.0h1.0v6.0h-1.0zM128.2 239.0h2.0v6.0h-2.0zM131.2 239.0h1.0v6.0h-1.0zM134.2 239.0h1.0v6.0h-1.0zM143.2 239.0h1.0v6.0h-1.0zM147.2 239.0h1.0v6.0h-1.0zM58.1 245.0h2.0v6.0h-2.0zM68.1 245.0h1.0v6.0h-1.0zM95.2 245.0h1.0v6.0h-1.0zM106.2 245.0h1.0v6.0h-1.0zM113.2 245.0h1.0v6.0h-1.0zM126.2 245.0h1.0v6.0h-1.0zM128.2 245.0h1.0v6.0h-1.0zM141.2 245.0h1.0v6.0h-1.0zM143.2 245.0h2.0v6.0h-2.0zM50.1 251.0h1.0v6.0h-1.0zM59.1 251.0h1.0v6.0h-1.0zM67.1 251.0h1.0v6.0h-1.0zM79.1 251.0h1.0v6.0h-1.0zM85.1 251.0h1.0v6.0h-1.0zM107.2 251.0h1.0v6.0h-1.0zM133.2 251.0h1.0v6.0h-1.0zM139.2 251.0h2.0v6.0h-2.0zM69.1 257.0h1.0v6.0h-1.0zM93.2 257.0h1.0v6.0h-1.0zM114.2 257.0h1.0v6.0h-1.0zM126.2 257.0h1.0v6.0h-1.0zM94.2 262.9h1.0v6.0h-1.0zM100.2 262.9h2.0v6.0h-2.0zM116.2 262.9h1.0v6.0h-1.0zM50.1 268.9h1.0v6.0h-1.0zM53.1 268.9h2.0v6.0h-2.0zM66.1 268.9h1.0v6.0h-1.0zM70.1 268.9h1.0v6.0h-1.0zM73.1 268.9h1.0v6.0h-1.0zM77.1 268.9h1.0v6.0h-1.0zM85.1 268.9h1.0v6.0h-1.0zM100.2 268.9h1.0v6.0h-1.0zM110.2 268.9h1.0v6.0h-1.0zM112.2 268.9h2.0v6.0h-2.0zM129.2 268.9h1.0v6.0h-1.0zM138.2 268.9h2.0v6.0h-2.0zM141.2 268.9h1.0v6.0h-1.0zM144.2 268.9h1.0v6.0h-1.0zM84.1 274.9h1.0v6.0h-1.0zM111.2 274.9h1.0v6.0h-1.0zM114.2 274.9h1.0v6.0h-1.0zM117.2 274.9h1.0v6.0h-1.0zM121.2 274.9h1.0v6.0h-1.0zM70.1 280.9h1.0v6.0h-1.0zM77.1 280.9h1.0v6.0h-1.0zM86.2 280.9h1.0v6.0h-1.0zM143.2 280.9h1.0v6.0h-1.0zM145.2 280.9h2.0v6.0h-2.0zM58.1 286.8h1.0v6.0h-1.0zM81.1 286.8h1.0v6.0h-1.0zM91.2 286.8h1.0v6.0h-1.0zM101.2 286.8h1.0v6.0h-1.0zM105.2 286.8h1.0v6.0h-1.0zM116.2 286.8h1.0v6.0h-1.0zM119.2 286.8h1.0v6.0h-1.0zM131.2 286.8h1.0v6.0h-1.0zM135.2 286.8h1.0v6.0h-1.0zM142.2 286.8h1.0v6.0h-1.0zM51.1 292.8h1.0v6.0h-1.0zM53.1 292.8h1.0v6.0h-1.0zM55.1 292.8h1.0v6.0h-1.0zM69.1 292.8h1.0v6.0h-1.0zM73.1 292.8h1.0v6.0h-1.0zM84.1 292.8h1.0v6.0h-1.0zM88.2 292.8h1.0v6.0h-1.0zM95.2 292.8h1.0v6.0h-1.0zM100.2 292.8h1.0v6.0h-1.0zM104.2 292.8h1.0v6.0h-1.0zM110.2 292.8h1.0v6.0h-1.0zM124.2 292.8h1.0v6.0h-1.0zM155.2 292.8h1.0v6.0h-1.0zM52.1 298.8h1.0v6.0h-1.0zM65.1 298.8h1.0v6.0h-1.0zM51.1 304.8h1.0v6.0h-1.0zM57.1 304.8h2.0v6.0h-2.0zM72.1 304.8h1.0v6.0h-1.0zM109.2 304.8h1.0v6.0h-1.0zM117.2 304.8h1.0v6.0h-1.0zM119.2 304.8h2.0v6.0h-2.0zM84.1 310.7h1.0v6.0h-1.0zM86.2 310.7h1.0v6.0h-1.0zM104.2 310.7h1.0v6.0h-1.0z"/>
<path fill="#fdaf6e" d="M176.3 24.0h1.0v6.0h-1.0zM234.4 24.0h1.0v6.0h-1.0zM237.4 24.0h1.0v6.0h-1.0zM215.3 30.0h2.0v6.0h-2.0zM229.3 30.0h1.0v6.0h-1.0zM252.4 30.0h1.0v6.0h-1.0zM257.4 30.0h1.0v6.0h-1.0zM176.3 35.9h1.0v6.0h-1.0zM181.3 35.9h1.0v6.0h-1.0zM183.3 41.9h1.0v6.0h-1.0zM214.3 41.9h1.0v6.0h-1.0zM254.4 41.9h1.0v6.0h-1.0zM256.4 41.9h1.0v6.0h-1.0zM185.3 47.9h1.0v6.0h-1.0zM187.3 47.9h1.0v6.0h-1.0zM197.3 47.9h1.0v6.0h-1.0zM214.3 47.9h1.0v6.0h-1.0zM230.3 47.9h1.0v6.0h-1.0zM192.3 53.9h1.0v6.0h-1.0zM204.3 53.9h2.0v6.0h-2.0zM213.3 53.9h1.0v6.0h-1.0zM230.3 53.9h1.0v6.0h-1.0zM234.4 53.9h1.0v6.0h-1.0zM238.4 53.9h1.0v6.0h-1.0zM162.3 65.8h1.0v6.0h-1.0zM203.3 71.8h1.0v6.0h-1.0zM204.3 77.8h1.0v6.0h-1.0zM214.3 77.8h1.0v6.0h-1.0zM162.3 83.7h1.0v6.0h-1.0zM176.3 95.7h1.0v6.0h-1.0zM178.3 95.7h1.0v6.0h-1.0zM183.3 95.7h1.0v6.0h-1.0zM187.3 95.7h2.0v6.0h-2.0zM196.3 95.7h1.0v6.0h-1.0zM228.3 95.7h1.0v6.0h-1.0zM128.2 101.7h1.0v6.0h-1.0zM180.3 107.6h1.0v6.0h-1.0zM185.3 107.6h1.0v6.0h-1.0zM188.3 107.6h1.0v6.0h-1.0zM195.3 107.6h1.0v6.0h-1.0zM253.4 107.6h1.0v6.0h-1.0zM164.3 113.6h1.0v6.0h-1.0zM170.3 113.6h1.0v6.0h-1.0zM180.3 119.6h1.0v6.0h-1.0zM184.3 119.6h1.0v6.0h-1.0zM188.3 119.6h1.0v6.0h-1.0zM194.3 119.6h1.0v6.0h-1.0zM197.3 119.6h1.0v6.0h-1.0zM166.3 125.5h1.0v6.0h-1.0zM162.3 131.5h1.0v6.0h-1.0zM207.3 137.5h1.0v6.0h-1.0zM235.4 137.5h1.0v6.0h-1.0zM246.4 137.5h1.0v6.0h-1.0zM182.3 143.5h1.0v6.0h-1.0zM189.3 143.5h1.0v6.0h-1.0zM191.3 143.5h1.0v6.0h-1.0zM197.3 143.5h1.0v6.0h-1.0zM197.3 155.4h1.0v6.0h-1.0zM163.3 161.4h1.0v6.0h-1.0zM172.3 161.4h1.0v6.0h-1.0zM174.3 161.4h1.0v6.0h-1.0zM79.1 167.4h1.0v6.0h-1.0zM82.1 167.4h1.0v6.0h-1.0zM85.1 167.4h1.0v6.0h-1.0zM90.2 167.4h1.0v6.0h-1.0zM110.2 167.4h1.0v6.0h-1.0zM114.2 167.4h1.0v6.0h-1.0zM118.2 167.4h2.0v6.0h-2.0zM69.1 179.3h1.0v6.0h-1.0zM74.1 179.3h1.0v6.0h-1.0zM102.2 179.3h1.0v6.0h-1.0zM126.2 179.3h1.0v6.0h-1.0zM132.2 179.3h1.0v6.0h-1.0zM142.2 179.3h1.0v6.0h-1.0zM146.2 179.3h1.0v6.0h-1.0zM134.2 191.3h1.0v6.0h-1.0zM138.2 191.3h1.0v6.0h-1.0zM145.2 191.3h1.0v6.0h-1.0zM128.2 197.2h1.0v6.0h-1.0zM139.2 197.2h1.0v6.0h-1.0zM141.2 197.2h1.0v6.0h-1.0zM144.2 197.2h1.0v6.0h-1.0zM146.2 197.2h3.0v6.0h-3.0zM84.1 215.2h1.0v6.0h-1.0zM140.2 215.2h1.0v6.0h-1.0zM50.1 227.1h1.0v6.0h-1.0zM55.1 227.1h3.0v6.0h-3.0zM60.1 227.1h1.0v6.0h-1.0zM125.2 233.1h1.0v6.0h-1.0zM127.2 233.1h1.0v6.0h-1.0zM132.2 233.1h1.0v6.0h-1.0zM55.1 245.0h1.0v6.0h-1.0zM61.1 245.0h1.0v6.0h-1.0zM75.1 245.0h1.0v6.0h-1.0zM109.2 245.0h1.0v6.0h-1.0zM126.2 251.0h1.0v6.0h-1.0zM132.2 251.0h1.0v6.0h-1.0zM60.1 257.0h1.0v6.0h-1.0zM117.2 262.9h1.0v6.0h-1.0zM125.2 262.9h1.0v6.0h-1.0zM127.2 262.9h1.0v6.0h-1.0zM129.2 262.9h1.0v6.0h-1.0zM131.2 262.9h2.0v6.0h-2.0zM136.2 262.9h1.0v6.0h-1.0zM140.2 262.9h2.0v6.0h-2.0zM143.2 262.9h1.0v6.0h-1.0zM145.2 262.9h1.0v6.0h-1.0zM148.2 262.9h1.0v6.0h-1.0zM125.2 268.9h1.0v6.0h-1.0zM127.2 268.9h2.0v6.0h-2.0zM131.2 268.9h1.0v6.0h-1.0zM91.2 274.9h1.0v6.0h-1.0zM126.2 280.9h1.0v6.0h-1.0zM137.2 280.9h1.0v6.0h-1.0zM140.2 280.9h1.0v6.0h-1.0zM142.2 280.9h1.0v6.0h-1.0zM144.2 280.9h1.0v6.0h-1.0zM66.1 298.8h1.0v6.0h-1.0zM125.2 298.8h1.0v6.0h-1.0zM50.1 304.8h1.0v6.0h-1.0zM60.1 304.8h1.0v6.0h-1.0zM65.1 304.8h1.0v6.0h-1.0z"/>
<path fill="#fec18f" d="M180.3 24.0h1.0v6.0h-1.0zM183.3 24.0h1.0v6.0h-1.0zM200.3 24.0h2.0v6.0h-2.0zM219.3 24.0h1.0v6.0h-1.0zM224.3 24.0h1.0v6.0h-1.0zM228.3 24.0h1.0v6.0h-1.0zM230.3 24.0h1.0v6.0h-1.0zM232.4 24.0h1.0v6.0h-1.0zM242.4 24.0h1.0v6.0h-1.0zM257.4 24.0h1.0v6.0h-1.0zM223.3 30.0h1.0v6.0h-1.0zM231.4 30.0h1.0v6.0h-1.0zM243.4 30.0h1.0v6.0h-1.0zM196.3 35.9h1.0v6.0h-1.0zM200.3 35.9h1.0v6.0h-1.0zM205.3 35.9h1.0v6.0h-1.0zM210.3 35.9h1.0v6.0h-1.0zM213.3 35.9h1.0v6.0h-1.0zM217.3 35.9h1.0v6.0h-1.0zM220.3 35.9h1.0v6.0h-1.0zM226.3 35.9h1.0v6.0h-1.0zM234.4 35.9h1.0v6.0h-1.0zM251.4 35.9h1.0v6.0h-1.0zM196.3 41.9h1.0v6.0h-1.0zM198.3 41.9h1.0v6.0h-1.0zM212.3 41.9h1.0v6.0h-1.0zM226.3 41.9h2.0v6.0h-2.0zM229.3 41.9h1.0v6.0h-1.0zM233.4 41.9h1.0v6.0h-1.0zM237.4 41.9h1.0v6.0h-1.0zM244.4 41.9h2.0v6.0h-2.0zM171.3 47.9h1.0v6.0h-1.0zM174.3 47.9h2.0v6.0h-2.0zM177.3 47.9h1.0v6.0h-1.0zM182.3 47.9h2.0v6.0h-2.0zM188.3 47.9h1.0v6.0h-1.0zM244.4 47.9h1.0v6.0h-1.0zM256.4 47.9h1.0v6.0h-1.0zM176.3 53.9h1.0v6.0h-1.0zM185.3 53.9h1.0v6.0h-1.0zM187.3 53.9h1.0v6.0h-1.0zM189.3 53.9h1.0v6.0h-1.0zM197.3 53.9h1.0v6.0h-1.0zM212.3 53.9h1.0v6.0h-1.0zM214.3 53.9h1.0v6.0h-1.0zM219.3 53.9h1.0v6.0h-1.0zM229.3 53.9h1.0v6.0h-1.0zM242.4 53.9h1.0v6.0h-1.0zM249.4 53.9h1.0v6.0h-1.0zM256.4 59.8h1.0v6.0h-1.0zM184.3 65.8h1.0v6.0h-1.0zM209.3 65.8h1.0v6.0h-1.0zM218.3 71.8h1.0v6.0h-1.0zM226.3 71.8h1.0v6.0h-1.0zM238.4 71.8h1.0v6.0h-1.0zM240.4 71.8h1.0v6.0h-1.0zM244.4 71.8h1.0v6.0h-1.0zM257.4 71.8h1.0v6.0h-1.0zM171.3 77.8h1.0v6.0h-1.0zM199.3 77.8h1.0v6.0h-1.0zM223.3 77.8h1.0v6.0h-1.0zM231.4 77.8h1.0v6.0h-1.0zM238.4 77.8h1.0v6.0h-1.0zM253.4 77.8h1.0v6.0h-1.0zM177.3 83.7h1.0v6.0h-1.0zM223.3 83.7h1.0v6.0h-1.0zM161.3 89.7h2.0v6.0h-2.0zM171.3 89.7h1.0v6.0h-1.0zM181.3 89.7h1.0v6.0h-1.0zM197.3 89.7h1.0v6.0h-1.0zM228.3 89.7h1.0v6.0h-1.0zM180.3 95.7h1.0v6.0h-1.0zM191.3 95.7h2.0v6.0h-2.0zM197.3 95.7h1.0v6.0h-1.0zM210.3 95.7h1.0v6.0h-1.0zM202.3 101.7h1.0v6.0h-1.0zM220.3 101.7h1.0v6.0h-1.0zM175.3 107.6h1.0v6.0h-1.0zM181.3 107.6h1.0v6.0h-1.0zM184.3 107.6h1.0v6.0h-1.0zM187.3 107.6h1.0v6.0h-1.0zM189.3 107.6h1.0v6.0h-1.0zM167.3 113.6h1.0v6.0h-1.0zM201.3 113.6h1.0v6.0h-1.0zM249.4 113.6h1.0v6.0h-1.0zM59.1 119.6h1.0v6.0h-1.0zM176.3 119.6h1.0v6.0h-1.0zM191.3 119.6h1.0v6.0h-1.0zM167.3 125.5h1.0v6.0h-1.0zM225.3 125.5h1.0v6.0h-1.0zM228.3 125.5h1.0v6.0h-1.0zM237.4 125.5h1.0v6.0h-1.0zM62.1 131.5h1.0v6.0h-1.0zM192.3 131.5h1.0v6.0h-1.0zM196.3 131.5h1.0v6.0h-1.0zM187.3 137.5h1.0v6.0h-1.0zM217.3 137.5h3.0v6.0h-3.0zM223.3 137.5h1.0v6.0h-1.0zM251.4 137.5h1.0v6.0h-1.0zM131.2 143.5h1.0v6.0h-1.0zM136.2 143.5h1.0v6.0h-1.0zM146.2 143.5h1.0v6.0h-1.0zM185.3 143.5h1.0v6.0h-1.0zM196.3 143.5h1.0v6.0h-1.0zM54.1 149.4h1.0v6.0h-1.0zM193.3 155.4h1.0v6.0h-1.0zM206.3 155.4h1.0v6.0h-1.0zM209.3 155.4h1.0v6.0h-1.0zM205.3 161.4h1.0v6.0h-1.0zM227.3 161.4h1.0v6.0h-1.0zM252.4 161.4h1.0v6.0h-1.0zM254.4 161.4h1.0v6.0h-1.0zM73.1 167.4h1.0v6.0h-1.0zM88.2 167.4h1.0v6.0h-1.0zM96.2 167.4h2.0v6.0h-2.0zM100.2 167.4h1.0v6.0h-1.0zM102.2 167.4h1.0v6.0h-1.0zM104.2 167.4h1.0v6.0h-1.0zM108.2 167.4h1.0v6.0h-1.0zM113.2 167.4h1.0v6.0h-1.0zM116.2 167.4h1.0v6.0h-1.0zM50.1 173.3h1.0v6.0h-1.0zM66.1 173.3h1.0v6.0h-1.0zM120.2 173.3h1.0v6.0h-1.0zM91.2 179.3h1.0v6.0h-1.0zM99.2 179.3h1.0v6.0h-1.0zM101.2 179.3h1.0v6.0h-1.0zM111.2 179.3h1.0v6.0h-1.0zM125.2 179.3h1.0v6.0h-1.0zM135.2 179.3h2.0v6.0h-2.0zM138.2 179.3h1.0v6.0h-1.0zM140.2 179.3h1.0v6.0h-1.0zM52.1 185.3h1.0v6.0h-1.0zM76.1 185.3h1.0v6.0h-1.0zM103.2 185.3h1.0v6.0h-1.0zM94.2 191.3h1.0v6.0h-1.0zM128.2 191.3h1.0v6.0h-1.0zM131.2 191.3h1.0v6.0h-1.0zM137.2 191.3h1.0v6.0h-1.0zM139.2 191.3h1.0v6.0h-1.0zM146.2 191.3h1.0v6.0h-1.0zM50.1 197.2h1.0v6.0h-1.0zM105.2 197.2h1.0v6.0h-1.0zM134.2 197.2h1.0v6.0h-1.0zM138.2 197.2h1.0v6.0h-1.0zM145.2 197.2h1.0v6.0h-1.0zM63.1 203.2h1.0v6.0h-1.0zM82.1 203.2h1.0v6.0h-1.0zM57.1 209.2h1.0v6.0h-1.0zM101.2 209.2h1.0v6.0h-1.0zM104.2 209.2h1.0v6.0h-1.0zM130.2 209.2h1.0v6.0h-1.0zM132.2 209.2h1.0v6.0h-1.0zM135.2 209.2h1.0v6.0h-1.0zM142.2 209.2h1.0v6.0h-1.0zM146.2 209.2h1.0v6.0h-1.0zM69.1 215.2h1.0v6.0h-1.0zM82.1 215.2h1.0v6.0h-1.0zM92.2 215.2h1.0v6.0h-1.0zM130.2 215.2h1.0v6.0h-1.0zM132.2 215.2h1.0v6.0h-1.0zM141.2 215.2h1.0v6.0h-1.0zM144.2 215.2h1.0v6.0h-1.0zM147.2 215.2h1.0v6.0h-1.0zM65.1 221.1h1.0v6.0h-1.0zM53.1 227.1h1.0v6.0h-1.0zM61.1 227.1h1.0v6.0h-1.0zM98.2 227.1h1.0v6.0h-1.0zM138.2 227.1h1.0v6.0h-1.0zM96.2 233.1h2.0v6.0h-2.0zM128.2 233.1h1.0v6.0h-1.0zM130.2 233.1h2.0v6.0h-2.0zM146.2 233.1h1.0v6.0h-1.0zM71.1 239.0h1.0v6.0h-1.0zM137.2 239.0h1.0v6.0h-1.0zM148.2 239.0h1.0v6.0h-1.0zM62.1 245.0h1.0v6.0h-1.0zM112.2 245.0h1.0v6.0h-1.0zM135.2 245.0h1.0v6.0h-1.0zM142.2 245.0h1.0v6.0h-1.0zM97.2 251.0h1.0v6.0h-1.0zM123.2 251.0h1.0v6.0h-1.0zM130.2 251.0h1.0v6.0h-1.0zM128.2 257.0h1.0v6.0h-1.0zM139.2 257.0h1.0v6.0h-1.0zM144.2 257.0h1.0v6.0h-1.0zM58.1 262.9h1.0v6.0h-1.0zM90.2 262.9h1.0v6.0h-1.0zM97.2 262.9h1.0v6.0h-1.0zM134.2 262.9h1.0v6.0h-1.0zM137.2 262.9h1.0v6.0h-1.0zM51.1 268.9h1.0v6.0h-1.0zM65.1 268.9h1.0v6.0h-1.0zM106.2 268.9h1.0v6.0h-1.0zM134.2 268.9h2.0v6.0h-2.0zM145.2 268.9h1.0v6.0h-1.0zM65.1 274.9h1.0v6.0h-1.0zM70.1 274.9h1.0v6.0h-1.0zM93.2 280.9h1.0v6.0h-1.0zM115.2 280.9h1.0v6.0h-1.0zM120.2 280.9h1.0v6.0h-1.0zM129.2 280.9h2.0v6.0h-2.0zM52.1 286.8h1.0v6.0h-1.0zM54.1 286.8h1.0v6.0h-1.0zM66.1 286.8h2.0v6.0h-2.0zM117.2 286.8h1.0v6.0h-1.0zM125.2 286.8h1.0v6.0h-1.0zM130.2 286.8h1.0v6.0h-1.0zM132.2 286.8h1.0v6.0h-1.0zM143.2 286.8h1.0v6.0h-1.0zM58.1 292.8h1.0v6.0h-1.0zM113.2 292.8h1.0v6.0h-1.0zM132.2 292.8h1.0v6.0h-1.0zM120.2 310.7h1.0v6.0h-1.0z"/>
<path fill="#fd953e" d="M205.3 24.0h1.0v6.0h-1.0zM221.3 41.9h1.0v6.0h-1.0zM223.3 41.9h1.0v6.0h-1.0zM165.3 65.8h1.0v6.0h-1.0zM168.3 65.8h1.0v6.0h-1.0zM170.3 65.8h1.0v6.0h-1.0zM179.3 143.5h1.0v6.0h-1.0zM195.3 143.5h1.0v6.0h-1.0zM168.3 161.4h1.0v6.0h-1.0zM84.1 167.4h1.0v6.0h-1.0zM94.2 167.4h1.0v6.0h-1.0zM62.1 227.1h1.0v6.0h-1.0zM144.2 262.9h1.0v6.0h-1.0zM127.2 298.8h3.0v6.0h-3.0zM135.2 298.8h1.0v6.0h-1.0zM137.2 298.8h1.0v6.0h-1.0zM147.2 298.8h2.0v6.0h-2.0z"/>
<path fill="#fdb87e" d="M225.3 24.0h1.0v6.0h-1.0zM238.4 24.0h3.0v6.0h-3.0zM247.4 24.0h1.0v6.0h-1.0zM211.3 30.0h1.0v6.0h-1.0zM227.3 30.0h1.0v6.0h-1.0zM230.3 30.0h1.0v6.0h-1.0zM233.4 30.0h1.0v6.0h-1.0zM180.3 35.9h1.0v6.0h-1.0zM185.3 35.9h1.0v6.0h-1.0zM192.3 35.9h4.0v6.0h-4.0zM203.3 35.9h1.0v6.0h-1.0zM236.4 35.9h1.0v6.0h-1.0zM252.4 35.9h1.0v6.0h-1.0zM197.3 41.9h1.0v6.0h-1.0zM200.3 41.9h1.0v6.0h-1.0zM203.3 41.9h1.0v6.0h-1.0zM220.3 41.9h1.0v6.0h-1.0zM251.4 41.9h1.0v6.0h-1.0zM194.3 47.9h1.0v6.0h-1.0zM226.3 47.9h1.0v6.0h-1.0zM247.4 47.9h1.0v6.0h-1.0zM255.4 47.9h1.0v6.0h-1.0zM173.3 53.9h1.0v6.0h-1.0zM175.3 53.9h1.0v6.0h-1.0zM180.3 53.9h1.0v6.0h-1.0zM200.3 53.9h1.0v6.0h-1.0zM208.3 53.9h1.0v6.0h-1.0zM225.3 53.9h1.0v6.0h-1.0zM244.4 53.9h4.0v6.0h-4.0zM253.4 53.9h1.0v6.0h-1.0zM256.4 53.9h1.0v6.0h-1.0zM223.3 59.8h1.0v6.0h-1.0zM231.4 59.8h1.0v6.0h-1.0zM255.4 71.8h1.0v6.0h-1.0zM225.3 77.8h1.0v6.0h-1.0zM170.3 83.7h1.0v6.0h-1.0zM183.3 83.7h1.0v6.0h-1.0zM198.3 83.7h1.0v6.0h-1.0zM166.3 89.7h1.0v6.0h-1.0zM170.3 89.7h1.0v6.0h-1.0zM198.3 89.7h1.0v6.0h-1.0zM181.3 95.7h1.0v6.0h-1.0zM195.3 95.7h1.0v6.0h-1.0zM54.1 107.6h1.0v6.0h-1.0zM65.1 107.6h1.0v6.0h-1.0zM196.3 107.6h2.0v6.0h-2.0zM163.3 113.6h1.0v6.0h-1.0zM169.3 113.6h1.0v6.0h-1.0zM173.3 113.6h1.0v6.0h-1.0zM248.4 113.6h1.0v6.0h-1.0zM257.4 113.6h1.0v6.0h-1.0zM196.3 119.6h1.0v6.0h-1.0zM161.3 125.5h1.0v6.0h-1.0zM170.3 125.5h1.0v6.0h-1.0zM207.3 125.5h1.0v6.0h-1.0zM215.3 125.5h1.0v6.0h-1.0zM55.1 131.5h1.0v6.0h-1.0zM246.4 131.5h1.0v6.0h-1.0zM185.3 137.5h1.0v6.0h-1.0zM189.3 137.5h1.0v6.0h-1.0zM192.3 137.5h1.0v6.0h-1.0zM195.3 137.5h1.0v6.0h-1.0zM200.3 137.5h1.0v6.0h-1.0zM204.3 137.5h1.0v6.0h-1.0zM215.3 137.5h1.0v6.0h-1.0zM233.4 137.5h1.0v6.0h-1.0zM256.4 137.5h1.0v6.0h-1.0zM126.2 143.5h1.0v6.0h-1.0zM177.3 143.5h1.0v6.0h-1.0zM192.3 143.5h2.0v6.0h-2.0zM169.3 149.4h1.0v6.0h-1.0zM189.3 149.4h1.0v6.0h-1.0zM250.4 155.4h1.0v6.0h-1.0zM170.3 161.4h1.0v6.0h-1.0zM83.1 167.4h1.0v6.0h-1.0zM86.2 167.4h1.0v6.0h-1.0zM93.2 167.4h1.0v6.0h-1.0zM95.2 167.4h1.0v6.0h-1.0zM106.2 167.4h1.0v6.0h-1.0zM115.2 167.4h1.0v6.0h-1.0zM117.2 167.4h1.0v6.0h-1.0zM62.1 173.3h1.0v6.0h-1.0zM83.1 173.3h1.0v6.0h-1.0zM111.2 173.3h1.0v6.0h-1.0zM100.2 179.3h1.0v6.0h-1.0zM131.2 179.3h1.0v6.0h-1.0zM139.2 179.3h1.0v6.0h-1.0zM59.1 185.3h1.0v6.0h-1.0zM83.1 185.3h1.0v6.0h-1.0zM130.2 191.3h1.0v6.0h-1.0zM132.2 191.3h1.0v6.0h-1.0zM136.2 191.3h1.0v6.0h-1.0zM87.2 197.2h1.0v6.0h-1.0zM107.2 197.2h1.0v6.0h-1.0zM125.2 197.2h1.0v6.0h-1.0zM127.2 197.2h1.0v6.0h-1.0zM129.2 197.2h1.0v6.0h-1.0zM136.2 197.2h1.0v6.0h-1.0zM87.2 209.2h1.0v6.0h-1.0zM121.2 209.2h1.0v6.0h-1.0zM79.1 215.2h2.0v6.0h-2.0zM122.2 215.2h1.0v6.0h-1.0zM135.2 215.2h1.0v6.0h-1.0zM143.2 215.2h1.0v6.0h-1.0zM84.1 227.1h1.0v6.0h-1.0zM100.2 227.1h1.0v6.0h-1.0zM126.2 227.1h2.0v6.0h-2.0zM132.2 227.1h1.0v6.0h-1.0zM145.2 227.1h1.0v6.0h-1.0zM148.2 227.1h1.0v6.0h-1.0zM57.1 233.1h1.0v6.0h-1.0zM135.2 233.1h2.0v6.0h-2.0zM141.2 233.1h1.0v6.0h-1.0zM144.2 233.1h1.0v6.0h-1.0zM144.2 239.0h1.0v6.0h-1.0zM146.2 239.0h1.0v6.0h-1.0zM54.1 245.0h1.0v6.0h-1.0zM64.1 245.0h1.0v6.0h-1.0zM86.2 251.0h1.0v6.0h-1.0zM128.2 251.0h1.0v6.0h-1.0zM143.2 251.0h1.0v6.0h-1.0zM145.2 251.0h1.0v6.0h-1.0zM131.2 257.0h1.0v6.0h-1.0zM128.2 262.9h1.0v6.0h-1.0zM130.2 262.9h1.0v6.0h-1.0zM133.2 262.9h1.0v6.0h-1.0zM138.2 262.9h2.0v6.0h-2.0zM142.2 262.9h1.0v6.0h-1.0zM62.1 268.9h1.0v6.0h-1.0zM84.1 268.9h1.0v6.0h-1.0zM136.2 268.9h1.0v6.0h-1.0zM143.2 268.9h1.0v6.0h-1.0zM62.1 274.9h1.0v6.0h-1.0zM132.2 280.9h1.0v6.0h-1.0zM135.2 280.9h2.0v6.0h-2.0zM138.2 280.9h1.0v6.0h-1.0zM141.2 280.9h1.0v6.0h-1.0zM128.2 286.8h1.0v6.0h-1.0zM136.2 286.8h2.0v6.0h-2.0zM57.1 292.8h1.0v6.0h-1.0zM61.1 292.8h1.0v6.0h-1.0zM93.2 292.8h1.0v6.0h-1.0zM55.1 304.8h1.0v6.0h-1.0zM86.2 304.8h1.0v6.0h-1.0z"/>
<path fill="#f2f9fe" d="M258.4 24.0h4.0v6.0h-4.0zM263.4 24.0h1.0v6.0h-1.0zM265.4 24.0h1.0v6.0h-1.0zM52.1 30.0h1.0v6.0h-1.0zM97.2 30.0h1.0v6.0h-1.0zM102.2 30.0h1.0v6.0h-1.0zM150.2 30.0h2.0v6.0h-2.0zM155.2 30.0h2.0v6.0h-2.0zM159.3 30.0h1.0v6.0h-1.0zM172.3 30.0h1.0v6.0h-1.0zM175.3 30.0h1.0v6.0h-1.0zM144.2 35.9h1.0v6.0h-1.0zM155.2 35.9h1.0v6.0h-1.0zM159.3 35.9h2.0v6.0h-2.0zM259.4 35.9h2.0v6.0h-2.0zM57.1 41.9h1.0v6.0h-1.0zM62.1 41.9h1.0v6.0h-1.0zM65.1 41.9h1.0v6.0h-1.0zM67.1 41.9h1.0v6.0h-1.0zM127.2 41.9h1.0v6.0h-1.0zM143.2 41.9h1.0v6.0h-1.0zM161.3 41.9h2.0v6.0h-2.0zM190.3 41.9h1.0v6.0h-1.0zM265.4 41.9h1.0v6.0h-1.0zM50.1 47.9h1.0v6.0h-1.0zM139.2 47.9h1.0v6.0h-1.0zM215.3 47.9h1.0v6.0h-1.0zM258.4 47.9h2.0v6.0h-2.0zM261.4 47.9h2.0v6.0h-2.0zM264.4 47.9h2.0v6.0h-2.0zM51.1 59.8h1.0v6.0h-1.0zM159.3 59.8h1.0v6.0h-1.0zM189.3 59.8h1.0v6.0h-1.0zM213.3 59.8h1.0v6.0h-1.0zM219.3 59.8h1.0v6.0h-1.0zM258.4 59.8h1.0v6.0h-1.0zM260.4 59.8h6.0v6.0h-6.0zM70.1 65.8h1.0v6.0h-1.0zM74.1 65.8h1.0v6.0h-1.0zM83.1 65.8h1.0v6.0h-1.0zM126.2 65.8h12.0v6.0h-12.0zM139.2 65.8h10.0v6.0h-10.0zM185.3 65.8h1.0v6.0h-1.0zM193.3 65.8h1.0v6.0h-1.0zM198.3 65.8h1.0v6.0h-1.0zM201.3 65.8h1.0v6.0h-1.0zM216.3 65.8h1.0v6.0h-1.0zM219.3 65.8h1.0v6.0h-1.0zM222.3 65.8h1.0v6.0h-1.0zM224.3 65.8h1.0v6.0h-1.0zM230.3 65.8h1.0v6.0h-1.0zM252.4 65.8h1.0v6.0h-1.0zM259.4 65.8h2.0v6.0h-2.0zM265.4 65.8h1.0v6.0h-1.0zM54.1 71.8h1.0v6.0h-1.0zM59.1 71.8h1.0v6.0h-1.0zM62.1 71.8h2.0v6.0h-2.0zM98.2 71.8h1.0v6.0h-1.0zM104.2 71.8h1.0v6.0h-1.0zM122.2 71.8h1.0v6.0h-1.0zM124.2 71.8h1.0v6.0h-1.0zM136.2 71.8h1.0v6.0h-1.0zM147.2 71.8h1.0v6.0h-1.0zM161.3 71.8h5.0v6.0h-5.0zM167.3 71.8h8.0v6.0h-8.0zM179.3 71.8h1.0v6.0h-1.0zM183.3 71.8h1.0v6.0h-1.0zM252.4 71.8h1.0v6.0h-1.0zM260.4 71.8h2.0v6.0h-2.0zM263.4 71.8h1.0v6.0h-1.0zM68.1 77.8h1.0v6.0h-1.0zM71.1 77.8h1.0v6.0h-1.0zM93.2 77.8h1.0v6.0h-1.0zM159.3 77.8h1.0v6.0h-1.0zM61.1 83.7h1.0v6.0h-1.0zM84.1 83.7h2.0v6.0h-2.0zM96.2 83.7h1.0v6.0h-1.0zM101.2 83.7h1.0v6.0h-1.0zM109.2 83.7h2.0v6.0h-2.0zM125.2 83.7h6.0v6.0h-6.0zM132.2 83.7h5.0v6.0h-5.0zM138.2 83.7h8.0v6.0h-8.0zM147.2 83.7h2.0v6.0h-2.0zM152.2 83.7h1.0v6.0h-1.0zM155.2 83.7h1.0v6.0h-1.0zM157.2 83.7h2.0v6.0h-2.0zM160.3 83.7h1.0v6.0h-1.0zM199.3 83.7h1.0v6.0h-1.0zM217.3 83.7h1.0v6.0h-1.0zM250.4 83.7h1.0v6.0h-1.0zM252.4 83.7h2.0v6.0h-2.0zM53.1 89.7h1.0v6.0h-1.0zM64.1 89.7h1.0v6.0h-1.0zM68.1 89.7h1.0v6.0h-1.0zM93.2 89.7h1.0v6.0h-1.0zM118.2 89.7h1.0v6.0h-1.0zM130.2 89.7h1.0v6.0h-1.0zM134.2 89.7h1.0v6.0h-1.0zM140.2 89.7h1.0v6.0h-1.0zM149.2 89.7h1.0v6.0h-1.0zM151.2 89.7h1.0v6.0h-1.0zM153.2 89.7h1.0v6.0h-1.0zM155.2 89.7h6.0v6.0h-6.0zM189.3 89.7h1.0v6.0h-1.0zM201.3 89.7h1.0v6.0h-1.0zM233.4 89.7h1.0v6.0h-1.0zM237.4 89.7h1.0v6.0h-1.0zM246.4 89.7h1.0v6.0h-1.0zM265.4 89.7h1.0v6.0h-1.0zM54.1 95.7h1.0v6.0h-1.0zM67.1 95.7h1.0v6.0h-1.0zM72.1 95.7h1.0v6.0h-1.0zM83.1 95.7h1.0v6.0h-1.0zM90.2 95.7h1.0v6.0h-1.0zM126.2 95.7h2.0v6.0h-2.0zM129.2 95.7h3.0v6.0h-3.0zM134.2 95.7h10.0v6.0h-10.0zM145.2 95.7h1.0v6.0h-1.0zM147.2 95.7h2.0v6.0h-2.0zM150.2 95.7h1.0v6.0h-1.0zM156.2 95.7h2.0v6.0h-2.0zM160.3 95.7h1.0v6.0h-1.0zM165.3 95.7h1.0v6.0h-1.0zM203.3 95.7h1.0v6.0h-1.0zM208.3 95.7h1.0v6.0h-1.0zM216.3 95.7h1.0v6.0h-1.0zM225.3 95.7h1.0v6.0h-1.0zM239.4 95.7h2.0v6.0h-2.0zM243.4 95.7h1.0v6.0h-1.0zM255.4 95.7h2.0v6.0h-2.0zM55.1 101.7h1.0v6.0h-1.0zM60.1 101.7h1.0v6.0h-1.0zM135.2 101.7h1.0v6.0h-1.0zM150.2 101.7h2.0v6.0h-2.0zM153.2 101.7h7.0v6.0h-7.0zM170.3 101.7h1.0v6.0h-1.0zM180.3 101.7h1.0v6.0h-1.0zM190.3 101.7h1.0v6.0h-1.0zM208.3 101.7h1.0v6.0h-1.0zM232.4 101.7h1.0v6.0h-1.0zM258.4 101.7h1.0v6.0h-1.0zM262.4 101.7h3.0v6.0h-3.0zM55.1 107.6h1.0v6.0h-1.0zM62.1 107.6h1.0v6.0h-1.0zM69.1 107.6h1.0v6.0h-1.0zM71.1 107.6h1.0v6.0h-1.0zM79.1 107.6h2.0v6.0h-2.0zM84.1 107.6h1.0v6.0h-1.0zM121.2 107.6h1.0v6.0h-1.0zM164.3 107.6h1.0v6.0h-1.0zM199.3 107.6h1.0v6.0h-1.0zM237.4 107.6h1.0v6.0h-1.0zM242.4 107.6h1.0v6.0h-1.0zM54.1 113.6h1.0v6.0h-1.0zM58.1 113.6h1.0v6.0h-1.0zM78.1 113.6h1.0v6.0h-1.0zM81.1 113.6h1.0v6.0h-1.0zM83.1 113.6h1.0v6.0h-1.0zM87.2 113.6h1.0v6.0h-1.0zM109.2 113.6h1.0v6.0h-1.0zM112.2 113.6h1.0v6.0h-1.0zM116.2 113.6h1.0v6.0h-1.0zM150.2 113.6h2.0v6.0h-2.0zM153.2 113.6h2.0v6.0h-2.0zM156.2 113.6h1.0v6.0h-1.0zM181.3 113.6h1.0v6.0h-1.0zM190.3 113.6h1.0v6.0h-1.0zM211.3 113.6h1.0v6.0h-1.0zM55.1 119.6h1.0v6.0h-1.0zM87.2 119.6h1.0v6.0h-1.0zM92.2 119.6h1.0v6.0h-1.0zM107.2 119.6h1.0v6.0h-1.0zM111.2 119.6h1.0v6.0h-1.0zM204.3 119.6h1.0v6.0h-1.0zM208.3 119.6h1.0v6.0h-1.0zM211.3 119.6h1.0v6.0h-1.0zM243.4 119.6h1.0v6.0h-1.0zM53.1 125.5h1.0v6.0h-1.0zM150.2 125.5h1.0v6.0h-1.0zM153.2 125.5h2.0v6.0h-2.0zM156.2 125.5h2.0v6.0h-2.0zM159.3 125.5h2.0v6.0h-2.0zM176.3 125.5h1.0v6.0h-1.0zM182.3 125.5h1.0v6.0h-1.0zM227.3 125.5h1.0v6.0h-1.0zM259.4 125.5h5.0v6.0h-5.0zM53.1 131.5h1.0v6.0h-1.0zM59.1 131.5h1.0v6.0h-1.0zM61.1 131.5h1.0v6.0h-1.0zM67.1 131.5h1.0v6.0h-1.0zM74.1 131.5h1.0v6.0h-1.0zM80.1 131.5h1.0v6.0h-1.0zM86.2 131.5h1.0v6.0h-1.0zM90.2 131.5h1.0v6.0h-1.0zM98.2 131.5h1.0v6.0h-1.0zM109.2 131.5h1.0v6.0h-1.0zM116.2 131.5h1.0v6.0h-1.0zM123.2 131.5h1.0v6.0h-1.0zM137.2 131.5h1.0v6.0h-1.0zM145.2 131.5h1.0v6.0h-1.0zM152.2 131.5h1.0v6.0h-1.0zM156.2 131.5h2.0v6.0h-2.0zM159.3 131.5h1.0v6.0h-1.0zM183.3 131.5h1.0v6.0h-1.0zM214.3 131.5h2.0v6.0h-2.0zM220.3 131.5h1.0v6.0h-1.0zM227.3 131.5h3.0v6.0h-3.0zM239.4 131.5h3.0v6.0h-3.0zM244.4 131.5h1.0v6.0h-1.0zM50.1 137.5h1.0v6.0h-1.0zM53.1 137.5h1.0v6.0h-1.0zM58.1 137.5h1.0v6.0h-1.0zM61.1 137.5h1.0v6.0h-1.0zM157.2 137.5h1.0v6.0h-1.0zM160.3 137.5h1.0v6.0h-1.0zM65.1 143.5h1.0v6.0h-1.0zM122.2 143.5h1.0v6.0h-1.0zM149.2 143.5h3.0v6.0h-3.0zM153.2 143.5h8.0v6.0h-8.0zM174.3 143.5h1.0v6.0h-1.0zM199.3 143.5h1.0v6.0h-1.0zM208.3 143.5h1.0v6.0h-1.0zM221.3 143.5h1.0v6.0h-1.0zM224.3 143.5h1.0v6.0h-1.0zM258.4 143.5h2.0v6.0h-2.0zM261.4 143.5h5.0v6.0h-5.0zM68.1 149.4h1.0v6.0h-1.0zM104.2 149.4h1.0v6.0h-1.0zM121.2 149.4h1.0v6.0h-1.0zM133.2 149.4h1.0v6.0h-1.0zM136.2 149.4h2.0v6.0h-2.0zM147.2 149.4h1.0v6.0h-1.0zM172.3 149.4h1.0v6.0h-1.0zM202.3 149.4h1.0v6.0h-1.0zM220.3 149.4h1.0v6.0h-1.0zM222.3 149.4h1.0v6.0h-1.0zM231.4 149.4h1.0v6.0h-1.0zM239.4 149.4h1.0v6.0h-1.0zM253.4 149.4h1.0v6.0h-1.0zM50.1 155.4h3.0v6.0h-3.0zM54.1 155.4h6.0v6.0h-6.0zM61.1 155.4h2.0v6.0h-2.0zM64.1 155.4h1.0v6.0h-1.0zM101.2 155.4h1.0v6.0h-1.0zM117.2 155.4h1.0v6.0h-1.0zM136.2 155.4h1.0v6.0h-1.0zM141.2 155.4h1.0v6.0h-1.0zM162.3 155.4h1.0v6.0h-1.0zM187.3 155.4h1.0v6.0h-1.0zM233.4 155.4h1.0v6.0h-1.0zM258.4 155.4h6.0v6.0h-6.0zM72.1 161.4h1.0v6.0h-1.0zM75.1 161.4h1.0v6.0h-1.0zM78.1 161.4h1.0v6.0h-1.0zM82.1 161.4h1.0v6.0h-1.0zM103.2 161.4h1.0v6.0h-1.0zM152.2 161.4h4.0v6.0h-4.0zM157.2 161.4h1.0v6.0h-1.0zM160.3 161.4h1.0v6.0h-1.0zM183.3 161.4h1.0v6.0h-1.0zM230.3 161.4h1.0v6.0h-1.0zM233.4 161.4h1.0v6.0h-1.0zM258.4 161.4h3.0v6.0h-3.0zM262.4 161.4h4.0v6.0h-4.0zM180.3 167.4h1.0v6.0h-1.0zM220.3 167.4h1.0v6.0h-1.0zM56.1 173.3h1.0v6.0h-1.0zM69.1 173.3h1.0v6.0h-1.0zM76.1 173.3h1.0v6.0h-1.0zM92.2 173.3h1.0v6.0h-1.0zM103.2 173.3h1.0v6.0h-1.0zM125.2 173.3h1.0v6.0h-1.0zM127.2 173.3h3.0v6.0h-3.0zM133.2 173.3h1.0v6.0h-1.0zM136.2 173.3h1.0v6.0h-1.0zM147.2 173.3h1.0v6.0h-1.0zM158.2 173.3h1.0v6.0h-1.0zM161.3 173.3h14.0v6.0h-14.0zM178.3 173.3h2.0v6.0h-2.0zM183.3 173.3h1.0v6.0h-1.0zM185.3 173.3h2.0v6.0h-2.0zM188.3 173.3h2.0v6.0h-2.0zM199.3 173.3h2.0v6.0h-2.0zM205.3 173.3h1.0v6.0h-1.0zM207.3 173.3h1.0v6.0h-1.0zM212.3 173.3h1.0v6.0h-1.0zM214.3 173.3h1.0v6.0h-1.0zM217.3 173.3h1.0v6.0h-1.0zM220.3 173.3h1.0v6.0h-1.0zM223.3 173.3h1.0v6.0h-1.0zM229.3 173.3h1.0v6.0h-1.0zM239.4 173.3h1.0v6.0h-1.0zM242.4 173.3h1.0v6.0h-1.0zM245.4 173.3h1.0v6.0h-1.0zM250.4 173.3h3.0v6.0h-3.0zM258.4 173.3h2.0v6.0h-2.0zM265.4 173.3h1.0v6.0h-1.0zM61.1 179.3h1.0v6.0h-1.0zM70.1 179.3h1.0v6.0h-1.0zM77.1 179.3h1.0v6.0h-1.0zM93.2 179.3h1.0v6.0h-1.0zM96.2 179.3h2.0v6.0h-2.0zM114.2 179.3h1.0v6.0h-1.0zM117.2 179.3h1.0v6.0h-1.0zM143.2 179.3h1.0v6.0h-1.0zM161.3 179.3h1.0v6.0h-1.0zM163.3 179.3h12.0v6.0h-12.0zM259.4 179.3h1.0v6.0h-1.0zM261.4 179.3h2.0v6.0h-2.0zM265.4 179.3h1.0v6.0h-1.0zM55.1 185.3h1.0v6.0h-1.0zM57.1 185.3h1.0v6.0h-1.0zM81.1 185.3h2.0v6.0h-2.0zM85.1 185.3h1.0v6.0h-1.0zM90.2 185.3h1.0v6.0h-1.0zM92.2 185.3h1.0v6.0h-1.0zM97.2 185.3h1.0v6.0h-1.0zM121.2 185.3h1.0v6.0h-1.0zM124.2 185.3h5.0v6.0h-5.0zM131.2 185.3h1.0v6.0h-1.0zM133.2 185.3h1.0v6.0h-1.0zM135.2 185.3h3.0v6.0h-3.0zM139.2 185.3h5.0v6.0h-5.0zM145.2 185.3h1.0v6.0h-1.0zM147.2 185.3h1.0v6.0h-1.0zM161.3 185.3h7.0v6.0h-7.0zM169.3 185.3h6.0v6.0h-6.0zM258.4 185.3h1.0v6.0h-1.0zM260.4 185.3h4.0v6.0h-4.0zM265.4 185.3h1.0v6.0h-1.0zM53.1 191.3h1.0v6.0h-1.0zM59.1 191.3h1.0v6.0h-1.0zM67.1 191.3h1.0v6.0h-1.0zM72.1 191.3h1.0v6.0h-1.0zM74.1 191.3h1.0v6.0h-1.0zM81.1 191.3h1.0v6.0h-1.0zM96.2 191.3h1.0v6.0h-1.0zM101.2 191.3h1.0v6.0h-1.0zM142.2 191.3h1.0v6.0h-1.0zM147.2 191.3h1.0v6.0h-1.0zM158.2 191.3h2.0v6.0h-2.0zM161.3 191.3h14.0v6.0h-14.0zM195.3 191.3h1.0v6.0h-1.0zM255.4 191.3h1.0v6.0h-1.0zM257.4 191.3h5.0v6.0h-5.0zM263.4 191.3h3.0v6.0h-3.0zM52.1 197.2h2.0v6.0h-2.0zM65.1 197.2h1.0v6.0h-1.0zM67.1 197.2h2.0v6.0h-2.0zM73.1 197.2h1.0v6.0h-1.0zM90.2 197.2h1.0v6.0h-1.0zM93.2 197.2h1.0v6.0h-1.0zM117.2 197.2h1.0v6.0h-1.0zM154.2 197.2h1.0v6.0h-1.0zM160.3 197.2h10.0v6.0h-10.0zM171.3 197.2h4.0v6.0h-4.0zM217.3 197.2h1.0v6.0h-1.0zM260.4 197.2h1.0v6.0h-1.0zM262.4 197.2h1.0v6.0h-1.0zM264.4 197.2h2.0v6.0h-2.0zM52.1 203.2h1.0v6.0h-1.0zM68.1 203.2h1.0v6.0h-1.0zM70.1 203.2h1.0v6.0h-1.0zM88.2 203.2h1.0v6.0h-1.0zM91.2 203.2h1.0v6.0h-1.0zM125.2 203.2h2.0v6.0h-2.0zM129.2 203.2h1.0v6.0h-1.0zM131.2 203.2h18.0v6.0h-18.0zM161.3 203.2h2.0v6.0h-2.0zM164.3 203.2h2.0v6.0h-2.0zM167.3 203.2h8.0v6.0h-8.0zM198.3 203.2h1.0v6.0h-1.0zM219.3 203.2h1.0v6.0h-1.0zM258.4 203.2h2.0v6.0h-2.0zM261.4 203.2h1.0v6.0h-1.0zM264.4 203.2h2.0v6.0h-2.0zM71.1 209.2h1.0v6.0h-1.0zM79.1 209.2h1.0v6.0h-1.0zM84.1 209.2h1.0v6.0h-1.0zM97.2 209.2h1.0v6.0h-1.0zM112.2 209.2h1.0v6.0h-1.0zM114.2 209.2h1.0v6.0h-1.0zM144.2 209.2h1.0v6.0h-1.0zM147.2 209.2h1.0v6.0h-1.0zM158.2 209.2h1.0v6.0h-1.0zM161.3 209.2h14.0v6.0h-14.0zM183.3 209.2h1.0v6.0h-1.0zM185.3 209.2h1.0v6.0h-1.0zM192.3 209.2h1.0v6.0h-1.0zM196.3 209.2h1.0v6.0h-1.0zM216.3 209.2h1.0v6.0h-1.0zM219.3 209.2h1.0v6.0h-1.0zM245.4 209.2h1.0v6.0h-1.0zM247.4 209.2h1.0v6.0h-1.0zM258.4 209.2h1.0v6.0h-1.0zM264.4 209.2h2.0v6.0h-2.0zM66.1 215.2h1.0v6.0h-1.0zM118.2 215.2h1.0v6.0h-1.0zM161.3 215.2h2.0v6.0h-2.0zM164.3 215.2h10.0v6.0h-10.0zM175.3 215.2h1.0v6.0h-1.0zM179.3 215.2h2.0v6.0h-2.0zM182.3 215.2h3.0v6.0h-3.0zM187.3 215.2h1.0v6.0h-1.0zM192.3 215.2h2.0v6.0h-2.0zM198.3 215.2h1.0v6.0h-1.0zM201.3 215.2h3.0v6.0h-3.0zM206.3 215.2h1.0v6.0h-1.0zM211.3 215.2h2.0v6.0h-2.0zM214.3 215.2h1.0v6.0h-1.0zM216.3 215.2h2.0v6.0h-2.0zM221.3 215.2h1.0v6.0h-1.0zM224.3 215.2h1.0v6.0h-1.0zM226.3 215.2h1.0v6.0h-1.0zM228.3 215.2h3.0v6.0h-3.0zM233.4 215.2h2.0v6.0h-2.0zM237.4 215.2h2.0v6.0h-2.0zM242.4 215.2h2.0v6.0h-2.0zM245.4 215.2h1.0v6.0h-1.0zM248.4 215.2h2.0v6.0h-2.0zM251.4 215.2h1.0v6.0h-1.0zM253.4 215.2h1.0v6.0h-1.0zM257.4 215.2h2.0v6.0h-2.0zM260.4 215.2h2.0v6.0h-2.0zM263.4 215.2h1.0v6.0h-1.0zM52.1 221.1h1.0v6.0h-1.0zM60.1 221.1h1.0v6.0h-1.0zM66.1 221.1h1.0v6.0h-1.0zM71.1 221.1h1.0v6.0h-1.0zM80.1 221.1h1.0v6.0h-1.0zM88.2 221.1h1.0v6.0h-1.0zM90.2 221.1h1.0v6.0h-1.0zM93.2 221.1h1.0v6.0h-1.0zM96.2 221.1h1.0v6.0h-1.0zM104.2 221.1h2.0v6.0h-2.0zM117.2 221.1h1.0v6.0h-1.0zM122.2 221.1h1.0v6.0h-1.0zM161.3 221.1h1.0v6.0h-1.0zM163.3 221.1h12.0v6.0h-12.0zM258.4 221.1h1.0v6.0h-1.0zM261.4 221.1h3.0v6.0h-3.0zM59.1 227.1h1.0v6.0h-1.0zM67.1 227.1h2.0v6.0h-2.0zM72.1 227.1h1.0v6.0h-1.0zM78.1 227.1h2.0v6.0h-2.0zM87.2 227.1h1.0v6.0h-1.0zM91.2 227.1h1.0v6.0h-1.0zM106.2 227.1h1.0v6.0h-1.0zM111.2 227.1h2.0v6.0h-2.0zM124.2 227.1h1.0v6.0h-1.0zM129.2 227.1h1.0v6.0h-1.0zM146.2 227.1h1.0v6.0h-1.0zM158.2 227.1h1.0v6.0h-1.0zM161.3 227.1h4.0v6.0h-4.0zM166.3 227.1h8.0v6.0h-8.0zM186.3 227.1h1.0v6.0h-1.0zM219.3 227.1h1.0v6.0h-1.0zM234.4 227.1h1.0v6.0h-1.0zM247.4 227.1h1.0v6.0h-1.0zM258.4 227.1h3.0v6.0h-3.0zM263.4 227.1h1.0v6.0h-1.0zM50.1 233.1h1.0v6.0h-1.0zM56.1 233.1h1.0v6.0h-1.0zM64.1 233.1h1.0v6.0h-1.0zM103.2 233.1h1.0v6.0h-1.0zM111.2 233.1h1.0v6.0h-1.0zM113.2 233.1h1.0v6.0h-1.0zM115.2 233.1h3.0v6.0h-3.0zM119.2 233.1h3.0v6.0h-3.0zM142.2 233.1h1.0v6.0h-1.0zM150.2 233.1h1.0v6.0h-1.0zM154.2 233.1h1.0v6.0h-1.0zM161.3 233.1h4.0v6.0h-4.0zM166.3 233.1h9.0v6.0h-9.0zM184.3 233.1h1.0v6.0h-1.0zM259.4 233.1h1.0v6.0h-1.0zM261.4 233.1h1.0v6.0h-1.0zM263.4 233.1h3.0v6.0h-3.0zM63.1 239.0h1.0v6.0h-1.0zM69.1 239.0h1.0v6.0h-1.0zM108.2 239.0h1.0v6.0h-1.0zM110.2 239.0h1.0v6.0h-1.0zM115.2 239.0h1.0v6.0h-1.0zM133.2 239.0h1.0v6.0h-1.0zM139.2 239.0h1.0v6.0h-1.0zM151.2 239.0h1.0v6.0h-1.0zM154.2 239.0h1.0v6.0h-1.0zM159.3 239.0h1.0v6.0h-1.0zM161.3 239.0h5.0v6.0h-5.0zM167.3 239.0h4.0v6.0h-4.0zM172.3 239.0h3.0v6.0h-3.0zM180.3 239.0h1.0v6.0h-1.0zM184.3 239.0h1.0v6.0h-1.0zM212.3 239.0h1.0v6.0h-1.0zM252.4 239.0h1.0v6.0h-1.0zM257.4 239.0h2.0v6.0h-2.0zM261.4 239.0h5.0v6.0h-5.0zM53.1 245.0h1.0v6.0h-1.0zM73.1 245.0h1.0v6.0h-1.0zM100.2 245.0h1.0v6.0h-1.0zM105.2 245.0h1.0v6.0h-1.0zM119.2 245.0h1.0v6.0h-1.0zM161.3 245.0h9.0v6.0h-9.0zM172.3 245.0h3.0v6.0h-3.0zM192.3 245.0h1.0v6.0h-1.0zM203.3 245.0h1.0v6.0h-1.0zM223.3 245.0h1.0v6.0h-1.0zM243.4 245.0h1.0v6.0h-1.0zM246.4 245.0h1.0v6.0h-1.0zM252.4 245.0h1.0v6.0h-1.0zM258.4 245.0h2.0v6.0h-2.0zM264.4 245.0h2.0v6.0h-2.0zM55.1 251.0h1.0v6.0h-1.0zM65.1 251.0h1.0v6.0h-1.0zM94.2 251.0h1.0v6.0h-1.0zM113.2 251.0h1.0v6.0h-1.0zM129.2 251.0h1.0v6.0h-1.0zM148.2 251.0h1.0v6.0h-1.0zM161.3 251.0h12.0v6.0h-12.0zM174.3 251.0h1.0v6.0h-1.0zM181.3 251.0h1.0v6.0h-1.0zM183.3 251.0h1.0v6.0h-1.0zM202.3 251.0h2.0v6.0h-2.0zM211.3 251.0h1.0v6.0h-1.0zM213.3 251.0h1.0v6.0h-1.0zM216.3 251.0h1.0v6.0h-1.0zM219.3 251.0h1.0v6.0h-1.0zM223.3 251.0h1.0v6.0h-1.0zM225.3 251.0h1.0v6.0h-1.0zM230.3 251.0h1.0v6.0h-1.0zM243.4 251.0h2.0v6.0h-2.0zM251.4 251.0h1.0v6.0h-1.0zM253.4 251.0h1.0v6.0h-1.0zM257.4 251.0h1.0v6.0h-1.0zM259.4 251.0h3.0v6.0h-3.0zM263.4 251.0h1.0v6.0h-1.0zM265.4 251.0h1.0v6.0h-1.0zM52.1 257.0h1.0v6.0h-1.0zM64.1 257.0h1.0v6.0h-1.0zM88.2 257.0h1.0v6.0h-1.0zM117.2 257.0h1.0v6.0h-1.0zM146.2 257.0h1.0v6.0h-1.0zM160.3 257.0h15.0v6.0h-15.0zM259.4 257.0h4.0v6.0h-4.0zM264.4 257.0h1.0v6.0h-1.0zM50.1 262.9h1.0v6.0h-1.0zM59.1 262.9h1.0v6.0h-1.0zM66.1 262.9h1.0v6.0h-1.0zM68.1 262.9h1.0v6.0h-1.0zM73.1 262.9h1.0v6.0h-1.0zM78.1 262.9h1.0v6.0h-1.0zM86.2 262.9h1.0v6.0h-1.0zM104.2 262.9h1.0v6.0h-1.0zM161.3 262.9h10.0v6.0h-10.0zM172.3 262.9h3.0v6.0h-3.0zM261.4 262.9h3.0v6.0h-3.0zM265.4 262.9h1.0v6.0h-1.0zM56.1 268.9h1.0v6.0h-1.0zM79.1 268.9h1.0v6.0h-1.0zM89.2 268.9h1.0v6.0h-1.0zM97.2 268.9h1.0v6.0h-1.0zM118.2 268.9h1.0v6.0h-1.0zM120.2 268.9h1.0v6.0h-1.0zM123.2 268.9h1.0v6.0h-1.0zM140.2 268.9h1.0v6.0h-1.0zM142.2 268.9h1.0v6.0h-1.0zM147.2 268.9h2.0v6.0h-2.0zM161.3 268.9h8.0v6.0h-8.0zM170.3 268.9h4.0v6.0h-4.0zM182.3 268.9h2.0v6.0h-2.0zM208.3 268.9h1.0v6.0h-1.0zM238.4 268.9h1.0v6.0h-1.0zM258.4 268.9h2.0v6.0h-2.0zM261.4 268.9h1.0v6.0h-1.0zM264.4 268.9h1.0v6.0h-1.0zM57.1 274.9h1.0v6.0h-1.0zM67.1 274.9h1.0v6.0h-1.0zM69.1 274.9h1.0v6.0h-1.0zM71.1 274.9h1.0v6.0h-1.0zM74.1 274.9h1.0v6.0h-1.0zM86.2 274.9h1.0v6.0h-1.0zM94.2 274.9h1.0v6.0h-1.0zM100.2 274.9h1.0v6.0h-1.0zM115.2 274.9h1.0v6.0h-1.0zM122.2 274.9h1.0v6.0h-1.0zM124.2 274.9h1.0v6.0h-1.0zM140.2 274.9h1.0v6.0h-1.0zM161.3 274.9h2.0v6.0h-2.0zM164.3 274.9h11.0v6.0h-11.0zM259.4 274.9h2.0v6.0h-2.0zM265.4 274.9h1.0v6.0h-1.0zM50.1 280.9h7.0v6.0h-7.0zM58.1 280.9h3.0v6.0h-3.0zM63.1 280.9h1.0v6.0h-1.0zM66.1 280.9h2.0v6.0h-2.0zM91.2 280.9h1.0v6.0h-1.0zM101.2 280.9h1.0v6.0h-1.0zM107.2 280.9h1.0v6.0h-1.0zM119.2 280.9h1.0v6.0h-1.0zM131.2 280.9h1.0v6.0h-1.0zM151.2 280.9h2.0v6.0h-2.0zM161.3 280.9h14.0v6.0h-14.0zM213.3 280.9h1.0v6.0h-1.0zM220.3 280.9h1.0v6.0h-1.0zM258.4 280.9h2.0v6.0h-2.0zM261.4 280.9h2.0v6.0h-2.0zM264.4 280.9h2.0v6.0h-2.0zM51.1 286.8h1.0v6.0h-1.0zM72.1 286.8h1.0v6.0h-1.0zM77.1 286.8h1.0v6.0h-1.0zM79.1 286.8h1.0v6.0h-1.0zM97.2 286.8h1.0v6.0h-1.0zM108.2 286.8h1.0v6.0h-1.0zM112.2 286.8h1.0v6.0h-1.0zM115.2 286.8h1.0v6.0h-1.0zM118.2 286.8h1.0v6.0h-1.0zM144.2 286.8h1.0v6.0h-1.0zM161.3 286.8h14.0v6.0h-14.0zM177.3 286.8h1.0v6.0h-1.0zM185.3 286.8h1.0v6.0h-1.0zM194.3 286.8h1.0v6.0h-1.0zM197.3 286.8h1.0v6.0h-1.0zM201.3 286.8h1.0v6.0h-1.0zM222.3 286.8h1.0v6.0h-1.0zM224.3 286.8h1.0v6.0h-1.0zM234.4 286.8h1.0v6.0h-1.0zM250.4 286.8h2.0v6.0h-2.0zM255.4 286.8h1.0v6.0h-1.0zM259.4 286.8h2.0v6.0h-2.0zM262.4 286.8h1.0v6.0h-1.0zM265.4 286.8h1.0v6.0h-1.0zM67.1 292.8h1.0v6.0h-1.0zM70.1 292.8h1.0v6.0h-1.0zM75.1 292.8h1.0v6.0h-1.0zM83.1 292.8h1.0v6.0h-1.0zM86.2 292.8h1.0v6.0h-1.0zM94.2 292.8h1.0v6.0h-1.0zM96.2 292.8h1.0v6.0h-1.0zM114.2 292.8h1.0v6.0h-1.0zM122.2 292.8h2.0v6.0h-2.0zM135.2 292.8h1.0v6.0h-1.0zM144.2 292.8h1.0v6.0h-1.0zM159.3 292.8h4.0v6.0h-4.0zM164.3 292.8h6.0v6.0h-6.0zM171.3 292.8h5.0v6.0h-5.0zM183.3 292.8h1.0v6.0h-1.0zM186.3 292.8h2.0v6.0h-2.0zM189.3 292.8h2.0v6.0h-2.0zM192.3 292.8h1.0v6.0h-1.0zM196.3 292.8h1.0v6.0h-1.0zM198.3 292.8h3.0v6.0h-3.0zM205.3 292.8h1.0v6.0h-1.0zM208.3 292.8h1.0v6.0h-1.0zM210.3 292.8h3.0v6.0h-3.0zM219.3 292.8h3.0v6.0h-3.0zM228.3 292.8h1.0v6.0h-1.0zM231.4 292.8h4.0v6.0h-4.0zM239.4 292.8h3.0v6.0h-3.0zM243.4 292.8h1.0v6.0h-1.0zM247.4 292.8h5.0v6.0h-5.0zM253.4 292.8h5.0v6.0h-5.0zM259.4 292.8h2.0v6.0h-2.0zM264.4 292.8h1.0v6.0h-1.0zM61.1 298.8h1.0v6.0h-1.0zM68.1 298.8h5.0v6.0h-5.0zM75.1 298.8h2.0v6.0h-2.0zM78.1 298.8h4.0v6.0h-4.0zM83.1 298.8h3.0v6.0h-3.0zM87.2 298.8h5.0v6.0h-5.0zM93.2 298.8h9.0v6.0h-9.0zM104.2 298.8h8.0v6.0h-8.0zM113.2 298.8h8.0v6.0h-8.0zM122.2 298.8h3.0v6.0h-3.0zM156.2 298.8h1.0v6.0h-1.0zM161.3 298.8h2.0v6.0h-2.0zM164.3 298.8h11.0v6.0h-11.0zM258.4 298.8h2.0v6.0h-2.0zM261.4 298.8h1.0v6.0h-1.0zM263.4 298.8h2.0v6.0h-2.0zM52.1 304.8h1.0v6.0h-1.0zM54.1 304.8h1.0v6.0h-1.0zM71.1 304.8h1.0v6.0h-1.0zM75.1 304.8h1.0v6.0h-1.0zM85.1 304.8h1.0v6.0h-1.0zM90.2 304.8h1.0v6.0h-1.0zM105.2 304.8h2.0v6.0h-2.0zM116.2 304.8h1.0v6.0h-1.0zM118.2 304.8h1.0v6.0h-1.0zM121.2 304.8h1.0v6.0h-1.0zM123.2 304.8h1.0v6.0h-1.0zM126.2 304.8h18.0v6.0h-18.0zM145.2 304.8h2.0v6.0h-2.0zM148.2 304.8h1.0v6.0h-1.0zM158.2 304.8h1.0v6.0h-1.0zM161.3 304.8h15.0v6.0h-15.0zM192.3 304.8h1.0v6.0h-1.0zM196.3 304.8h1.0v6.0h-1.0zM213.3 304.8h2.0v6.0h-2.0zM251.4 304.8h1.0v6.0h-1.0zM259.4 304.8h2.0v6.0h-2.0zM263.4 304.8h1.0v6.0h-1.0zM53.1 310.7h1.0v6.0h-1.0zM57.1 310.7h1.0v6.0h-1.0zM61.1 310.7h1.0v6.0h-1.0zM69.1 310.7h1.0v6.0h-1.0zM74.1 310.7h1.0v6.0h-1.0zM91.2 310.7h1.0v6.0h-1.0zM94.2 310.7h1.0v6.0h-1.0zM101.2 310.7h1.0v6.0h-1.0zM110.2 310.7h1.0v6.0h-1.0zM118.2 310.7h1.0v6.0h-1.0zM121.2 310.7h1.0v6.0h-1.0zM131.2 310.7h1.0v6.0h-1.0zM133.2 310.7h1.0v6.0h-1.0zM136.2 310.7h2.0v6.0h-2.0zM139.2 310.7h2.0v6.0h-2.0zM146.2 310.7h1.0v6.0h-1.0zM161.3 310.7h6.0v6.0h-6.0zM168.3 310.7h7.0v6.0h-7.0zM194.3 310.7h1.0v6.0h-1.0zM198.3 310.7h1.0v6.0h-1.0zM253.4 310.7h1.0v6.0h-1.0zM258.4 310.7h1.0v6.0h-1.0zM263.4 310.7h3.0v6.0h-3.0z"/>
<path fill="#fd9d4e" d="M179.3 35.9h1.0v6.0h-1.0zM213.3 41.9h1.0v6.0h-1.0zM181.3 53.9h1.0v6.0h-1.0zM194.3 53.9h1.0v6.0h-1.0zM206.3 53.9h1.0v6.0h-1.0zM210.3 53.9h1.0v6.0h-1.0zM232.4 53.9h1.0v6.0h-1.0zM163.3 65.8h1.0v6.0h-1.0zM167.3 65.8h1.0v6.0h-1.0zM169.3 65.8h1.0v6.0h-1.0zM191.3 83.7h1.0v6.0h-1.0zM175.3 95.7h1.0v6.0h-1.0zM185.3 95.7h1.0v6.0h-1.0zM190.3 95.7h1.0v6.0h-1.0zM176.3 107.6h1.0v6.0h-1.0zM175.3 119.6h1.0v6.0h-1.0zM177.3 119.6h1.0v6.0h-1.0zM182.3 119.6h1.0v6.0h-1.0zM187.3 119.6h1.0v6.0h-1.0zM192.3 119.6h1.0v6.0h-1.0zM181.3 143.5h1.0v6.0h-1.0zM190.3 143.5h1.0v6.0h-1.0zM194.3 143.5h1.0v6.0h-1.0zM161.3 161.4h2.0v6.0h-2.0zM167.3 161.4h1.0v6.0h-1.0zM91.2 167.4h1.0v6.0h-1.0zM130.2 179.3h1.0v6.0h-1.0zM50.1 185.3h1.0v6.0h-1.0zM98.2 185.3h1.0v6.0h-1.0zM126.2 197.2h1.0v6.0h-1.0zM132.2 197.2h2.0v6.0h-2.0zM139.2 209.2h1.0v6.0h-1.0zM143.2 233.1h1.0v6.0h-1.0zM126.2 239.0h1.0v6.0h-1.0zM66.1 245.0h1.0v6.0h-1.0zM126.2 262.9h1.0v6.0h-1.0zM135.2 262.9h1.0v6.0h-1.0zM133.2 280.9h1.0v6.0h-1.0zM131.2 298.8h1.0v6.0h-1.0zM133.2 298.8h1.0v6.0h-1.0zM138.2 298.8h1.0v6.0h-1.0zM146.2 298.8h1.0v6.0h-1.0zM67.1 304.8h1.0v6.0h-1.0z"/>
<path fill="#bce1f8" d="M82.1 53.9h1.0v6.0h-1.0zM98.2 53.9h1.0v6.0h-1.0zM107.2 53.9h1.0v6.0h-1.0zM116.2 53.9h2.0v6.0h-2.0zM124.2 53.9h1.0v6.0h-1.0zM126.2 53.9h12.0v6.0h-12.0zM139.2 53.9h3.0v6.0h-3.0zM143.2 53.9h8.0v6.0h-8.0zM152.2 53.9h6.0v6.0h-6.0zM159.3 53.9h2.0v6.0h-2.0z"/>
<path fill="#fc8c2e" d="M235.4 53.9h1.0v6.0h-1.0zM171.3 65.8h1.0v6.0h-1.0zM173.3 65.8h1.0v6.0h-1.0zM182.3 95.7h1.0v6.0h-1.0zM177.3 107.6h1.0v6.0h-1.0zM179.3 107.6h1.0v6.0h-1.0zM190.3 119.6h1.0v6.0h-1.0zM175.3 143.5h1.0v6.0h-1.0zM164.3 161.4h1.0v6.0h-1.0zM147.2 233.1h1.0v6.0h-1.0zM132.2 298.8h1.0v6.0h-1.0zM139.2 298.8h2.0v6.0h-2.0zM143.2 298.8h1.0v6.0h-1.0z"/>
<path fill="#fc831e" d="M161.3 65.8h1.0v6.0h-1.0zM172.3 65.8h1.0v6.0h-1.0zM169.3 161.4h1.0v6.0h-1.0zM148.2 280.9h1.0v6.0h-1.0zM134.2 298.8h1.0v6.0h-1.0zM136.2 298.8h1.0v6.0h-1.0zM141.2 298.8h1.0v6.0h-1.0zM144.2 298.8h1.0v6.0h-1.0z"/>
<path fill="#fc7a0e" d="M166.3 65.8h1.0v6.0h-1.0zM174.3 65.8h1.0v6.0h-1.0zM165.3 161.4h1.0v6.0h-1.0z"/>
</g>
<line x1="149.0" y1="24.0" x2="149.0" y2="316.7" stroke="#9a9a9a" stroke-width="1.0" />
<line x1="266.4" y1="24.0" x2="266.4" y2="316.7" stroke="#9a9a9a" stroke-width="1.0" />
<text transform="translate(273.6,30.0) scale(1,1.08)" font-size="7.6" >Expression</text>
<defs><linearGradient id="gexp" x1="0" y1="0" x2="0" y2="1"><stop offset="0" stop-color="#fc7a0e"/><stop offset="0.64" stop-color="#ffffff"/><stop offset="1" stop-color="#8fcdf3"/></linearGradient></defs>
<rect x="278.1" y="33.1" width="10.2" height="50.8" fill="url(#gexp)" />
<text transform="translate(291.4,42.6) scale(1,1.15)" font-size="6.8" font-weight="normal" stroke="#222" stroke-width="0.2" fill="#222" >2</text>
<text transform="translate(291.4,55.8) scale(1,1.15)" font-size="6.8" font-weight="normal" stroke="#222" stroke-width="0.2" fill="#222" >1</text>
<text transform="translate(291.4,68.4) scale(1,1.15)" font-size="6.8" font-weight="normal" stroke="#222" stroke-width="0.2" fill="#222" >0</text>
<text transform="translate(291.4,81.4) scale(1,1.15)" font-size="6.8" font-weight="normal" stroke="#222" stroke-width="0.2" fill="#222" >-1</text>
<text x="324.7" y="11.5" font-size="16.5" >b</text>
<text transform="translate(489.3,13.6) scale(1,1.08)" font-size="9.2" text-anchor="middle" >Pathways</text>
<rect x="490.7" y="17.1" width="121.0" height="6.8" fill="#f08c7c" />
<text transform="translate(487.9,23.3) scale(1,1.08)" font-size="8.3" text-anchor="end" >Xenobiotic metabolic process</text>
<rect x="490.7" y="25.5" width="119.2" height="6.8" fill="#f08c7c" />
<text transform="translate(487.9,31.7) scale(1,1.08)" font-size="8.3" text-anchor="end" >Bile Secretion</text>
<rect x="490.7" y="34.0" width="115.6" height="6.8" fill="#f08c7c" />
<text transform="translate(487.9,40.2) scale(1,1.08)" font-size="8.3" text-anchor="end" >Constitutive androstane receptor pathway</text>
<rect x="490.7" y="42.4" width="115.0" height="6.8" fill="#f08c7c" />
<text transform="translate(487.9,48.6) scale(1,1.08)" font-size="8.3" text-anchor="end" >Ascorbate and aldarate metabolism</text>
<rect x="490.7" y="50.9" width="112.3" height="6.8" fill="#f08c7c" />
<text transform="translate(487.9,57.1) scale(1,1.08)" font-size="8.3" text-anchor="end" >Arachidonic acid metabolism</text>
<rect x="490.7" y="59.3" width="106.9" height="6.8" fill="#f08c7c" />
<text transform="translate(487.9,65.5) scale(1,1.08)" font-size="8.3" text-anchor="end" >Vascular process in circulatory system</text>
<rect x="490.7" y="67.7" width="106.0" height="6.8" fill="#f08c7c" />
<text transform="translate(487.9,73.9) scale(1,1.08)" font-size="8.3" text-anchor="end" >ECM receptor interaction</text>
<rect x="490.7" y="76.2" width="103.0" height="6.8" fill="#f08c7c" />
<text transform="translate(487.9,82.4) scale(1,1.08)" font-size="8.3" text-anchor="end" >Integrin signaling</text>
<rect x="402.2" y="84.1" width="86.3" height="6.8" fill="#a8307f" />
<text transform="translate(491.0,90.3) scale(1,1.08)" font-size="8.35" >Positive regulation of mitotic nuclear division</text>
<rect x="400.4" y="92.5" width="88.1" height="6.8" fill="#a8307f" />
<text transform="translate(491.0,98.7) scale(1,1.08)" font-size="8.35" >Hedgehog signaling pathway</text>
<rect x="399.0" y="101.0" width="89.5" height="6.8" fill="#a8307f" />
<text transform="translate(491.0,107.2) scale(1,1.08)" font-size="8.35" >Regulation of cell division</text>
<rect x="389.6" y="109.4" width="98.9" height="6.8" fill="#a8307f" />
<text transform="translate(491.0,115.6) scale(1,1.08)" font-size="8.35" >Non canonical wnt signaling pathway</text>
<rect x="385.4" y="117.9" width="103.1" height="6.8" fill="#a8307f" />
<text transform="translate(491.0,124.1) scale(1,1.08)" font-size="8.35" >Myc targets v1</text>
<rect x="384.5" y="126.3" width="104.0" height="6.8" fill="#a8307f" />
<text transform="translate(491.0,132.5) scale(1,1.08)" font-size="8.35" >Oxidative phosphorylation</text>
<rect x="382.1" y="134.7" width="106.4" height="6.8" fill="#a8307f" />
<text transform="translate(491.0,140.9) scale(1,1.08)" font-size="8.35" >Cholesterol biosynthesis</text>
<rect x="617.0" y="43.4" width="7.3" height="6.0" fill="#f08c7c" />
<rect x="617.0" y="52.4" width="7.3" height="6.3" fill="#a8307f" />
<text transform="translate(626.7,49.4) scale(1,1.08)" font-size="8.5" >AFP<tspan font-size="5.3" dy="-3.2">-</tspan><tspan dy="3.2"> </tspan>HCC</text>
<text transform="translate(626.7,58.5) scale(1,1.08)" font-size="8.5" >AFP<tspan font-size="5.3" dy="-3.2">+</tspan><tspan dy="3.2"> </tspan>HCC</text>
<line x1="371.9" y1="143.4" x2="607.8" y2="143.4" stroke="#444" stroke-width="0.8" />
<line x1="383.1" y1="143.4" x2="383.1" y2="145.6" stroke="#444" stroke-width="0.7" />
<text transform="translate(383.1,152.8) scale(1,1.15)" font-size="6.8" text-anchor="middle" font-weight="normal" stroke="#333" stroke-width="0.2" fill="#333" >-2</text>
<line x1="436.1" y1="143.4" x2="436.1" y2="145.6" stroke="#444" stroke-width="0.7" />
<text transform="translate(436.1,152.8) scale(1,1.15)" font-size="6.8" text-anchor="middle" font-weight="normal" stroke="#333" stroke-width="0.2" fill="#333" >-1</text>
<line x1="489.1" y1="143.4" x2="489.1" y2="145.6" stroke="#444" stroke-width="0.7" />
<text transform="translate(489.1,152.8) scale(1,1.15)" font-size="6.8" text-anchor="middle" font-weight="normal" stroke="#333" stroke-width="0.2" fill="#333" >0</text>
<line x1="542.1" y1="143.4" x2="542.1" y2="145.6" stroke="#444" stroke-width="0.7" />
<text transform="translate(542.1,152.8) scale(1,1.15)" font-size="6.8" text-anchor="middle" font-weight="normal" stroke="#333" stroke-width="0.2" fill="#333" >1</text>
<line x1="595.1" y1="143.4" x2="595.1" y2="145.6" stroke="#444" stroke-width="0.7" />
<text transform="translate(595.1,152.8) scale(1,1.15)" font-size="6.8" text-anchor="middle" font-weight="normal" stroke="#333" stroke-width="0.2" fill="#333" >2</text>
<text transform="translate(489.1,160.3) scale(1,1.08)" font-size="9.05" text-anchor="middle" >Normalized enrichment score</text>
<text x="307.0" y="177.1" font-size="16.5" >c</text>
<text transform="translate(410.5,182.8) scale(1,1.08)" font-size="8.8" text-anchor="middle" >Metabolism pathways</text>
<defs><clipPath id="cclip"><rect x="339.4" y="189.7" width="143.6" height="127.2"/></clipPath></defs>
<g clip-path="url(#cclip)">
<circle cx="368.8" cy="189.7" r="3.1" fill="#a4d6f3" stroke="#555" stroke-width="0.45" />
<circle cx="374.9" cy="194.9" r="3.1" fill="#bfe2f7" stroke="#555" stroke-width="0.45" />
<circle cx="436.6" cy="189.7" r="3.1" fill="#f29376" stroke="#555" stroke-width="0.45" />
<circle cx="446.3" cy="189.7" r="3.1" fill="#ef7758" stroke="#555" stroke-width="0.45" />
<circle cx="382.8" cy="233.6" r="3.1" fill="#c8e6f8" stroke="#555" stroke-width="0.45" />
<circle cx="423.5" cy="236.5" r="3.1" fill="#facab7" stroke="#555" stroke-width="0.45" />
<circle cx="353.1" cy="263.1" r="3.1" fill="#48ade7" stroke="#555" stroke-width="0.45" />
<circle cx="361.4" cy="269.3" r="3.1" fill="#6dbdec" stroke="#555" stroke-width="0.45" />
<circle cx="383.4" cy="271.9" r="3.1" fill="#bfe2f7" stroke="#555" stroke-width="0.45" />
<circle cx="394.7" cy="260.3" r="3.1" fill="#daeffa" stroke="#555" stroke-width="0.45" />
<circle cx="393.4" cy="262.8" r="3.1" fill="#daeffa" stroke="#555" stroke-width="0.45" />
<circle cx="392.2" cy="265.4" r="3.1" fill="#daeffa" stroke="#555" stroke-width="0.45" />
<circle cx="403.1" cy="258.6" r="3.1" fill="#edf7fd" stroke="#555" stroke-width="0.45" />
<circle cx="397.5" cy="271.0" r="3.1" fill="#e4f3fb" stroke="#555" stroke-width="0.45" />
<circle cx="403.4" cy="271.7" r="3.1" fill="#edf7fd" stroke="#555" stroke-width="0.45" />
<circle cx="396.6" cy="278.9" r="3.1" fill="#e4f3fb" stroke="#555" stroke-width="0.45" />
<circle cx="403.4" cy="277.7" r="3.1" fill="#edf7fd" stroke="#555" stroke-width="0.45" />
<circle cx="403.4" cy="280.8" r="3.1" fill="#edf7fd" stroke="#555" stroke-width="0.45" />
<circle cx="397.8" cy="282.0" r="3.1" fill="#e4f3fb" stroke="#555" stroke-width="0.45" />
<circle cx="382.9" cy="288.2" r="3.1" fill="#bfe2f7" stroke="#555" stroke-width="0.45" />
<circle cx="392.6" cy="285.9" r="3.1" fill="#daeffa" stroke="#555" stroke-width="0.45" />
<circle cx="394.3" cy="289.9" r="3.1" fill="#daeffa" stroke="#555" stroke-width="0.45" />
<circle cx="389.0" cy="293.6" r="3.1" fill="#d1ebf9" stroke="#555" stroke-width="0.45" />
<circle cx="395.2" cy="296.0" r="3.1" fill="#daeffa" stroke="#555" stroke-width="0.45" />
<circle cx="398.3" cy="291.9" r="3.1" fill="#e4f3fb" stroke="#555" stroke-width="0.45" />
<circle cx="405.7" cy="290.8" r="3.1" fill="#f0f8fd" stroke="#555" stroke-width="0.45" />
<circle cx="401.3" cy="296.0" r="3.1" fill="#edf7fd" stroke="#555" stroke-width="0.45" />
<circle cx="406.6" cy="296.9" r="3.1" fill="#f4fafe" stroke="#555" stroke-width="0.45" />
<circle cx="405.7" cy="300.4" r="3.1" fill="#f6fbfe" stroke="#555" stroke-width="0.45" />
<circle cx="407.4" cy="302.2" r="3.1" fill="#f8fcfe" stroke="#555" stroke-width="0.45" />
<circle cx="403.1" cy="304.8" r="3.1" fill="#f6fbfe" stroke="#555" stroke-width="0.45" />
<circle cx="399.6" cy="308.3" r="3.1" fill="#edf7fd" stroke="#555" stroke-width="0.45" />
<circle cx="391.7" cy="311.0" r="3.1" fill="#d1ebf9" stroke="#555" stroke-width="0.45" />
<circle cx="398.7" cy="311.0" r="3.1" fill="#edf7fd" stroke="#555" stroke-width="0.45" />
<circle cx="407.4" cy="310.1" r="3.1" fill="#fbfdff" stroke="#555" stroke-width="0.45" />
<circle cx="410.1" cy="311.0" r="3.1" fill="#ffffff" stroke="#555" stroke-width="0.45" />
<circle cx="411.8" cy="311.0" r="3.1" fill="#ffffff" stroke="#555" stroke-width="0.45" />
<circle cx="408.5" cy="306.5" r="3.1" fill="#fafdfe" stroke="#555" stroke-width="0.45" />
<circle cx="415.0" cy="299.6" r="3.1" fill="#fdede7" stroke="#555" stroke-width="0.45" />
<circle cx="418.8" cy="297.8" r="3.1" fill="#fbdccf" stroke="#555" stroke-width="0.45" />
<circle cx="422.3" cy="298.2" r="3.1" fill="#fbd8ca" stroke="#555" stroke-width="0.45" />
<circle cx="414.5" cy="306.6" r="3.1" fill="#fdede7" stroke="#555" stroke-width="0.45" />
<circle cx="418.0" cy="310.1" r="3.1" fill="#fce5db" stroke="#555" stroke-width="0.45" />
<circle cx="423.2" cy="307.4" r="3.1" fill="#fad3c3" stroke="#555" stroke-width="0.45" />
<circle cx="423.0" cy="258.4" r="3.1" fill="#facab7" stroke="#555" stroke-width="0.45" />
<circle cx="433.9" cy="255.8" r="3.1" fill="#f49c81" stroke="#555" stroke-width="0.45" />
<circle cx="425.8" cy="279.4" r="3.1" fill="#f9c2ab" stroke="#555" stroke-width="0.45" />
<circle cx="432.9" cy="276.4" r="3.1" fill="#f6af95" stroke="#555" stroke-width="0.45" />
<circle cx="429.3" cy="283.4" r="3.1" fill="#f8b99f" stroke="#555" stroke-width="0.45" />
<circle cx="418.8" cy="286.4" r="3.1" fill="#fbdccf" stroke="#555" stroke-width="0.45" />
<circle cx="446.5" cy="300.8" r="3.1" fill="#ed6d4d" stroke="#555" stroke-width="0.45" />
</g>
<rect x="339.4" y="189.7" width="143.6" height="127.2" fill="none" stroke="#333" stroke-width="0.9" />
<line x1="337.2" y1="228.1" x2="339.4" y2="228.1" stroke="#333" stroke-width="0.7" />
<text transform="translate(336.6,230.9) scale(1,1.15)" font-size="6.8" text-anchor="end" font-weight="normal" stroke="#333" stroke-width="0.2" fill="#333" >200</text>
<line x1="337.2" y1="269.6" x2="339.4" y2="269.6" stroke="#333" stroke-width="0.7" />
<text transform="translate(336.6,272.4) scale(1,1.15)" font-size="6.8" text-anchor="end" font-weight="normal" stroke="#333" stroke-width="0.2" fill="#333" >100</text>
<line x1="337.2" y1="311.1" x2="339.4" y2="311.1" stroke="#333" stroke-width="0.7" />
<text transform="translate(336.6,313.9) scale(1,1.15)" font-size="6.8" text-anchor="end" font-weight="normal" stroke="#333" stroke-width="0.2" fill="#333" >0</text>
<line x1="345.3" y1="316.9" x2="345.3" y2="319.1" stroke="#333" stroke-width="0.7" />
<text transform="translate(345.3,325.0) scale(1,1.15)" font-size="6.8" text-anchor="middle" font-weight="normal" stroke="#333" stroke-width="0.2" fill="#333" >-2</text>
<line x1="378.1" y1="316.9" x2="378.1" y2="319.1" stroke="#333" stroke-width="0.7" />
<text transform="translate(378.1,325.0) scale(1,1.15)" font-size="6.8" text-anchor="middle" font-weight="normal" stroke="#333" stroke-width="0.2" fill="#333" >-1</text>
<line x1="410.9" y1="316.9" x2="410.9" y2="319.1" stroke="#333" stroke-width="0.7" />
<text transform="translate(410.9,325.0) scale(1,1.15)" font-size="6.8" text-anchor="middle" font-weight="normal" stroke="#333" stroke-width="0.2" fill="#333" >0</text>
<line x1="443.7" y1="316.9" x2="443.7" y2="319.1" stroke="#333" stroke-width="0.7" />
<text transform="translate(443.7,325.0) scale(1,1.15)" font-size="6.8" text-anchor="middle" font-weight="normal" stroke="#333" stroke-width="0.2" fill="#333" >1</text>
<line x1="476.5" y1="316.9" x2="476.5" y2="319.1" stroke="#333" stroke-width="0.7" />
<text transform="translate(476.5,325.0) scale(1,1.15)" font-size="6.8" text-anchor="middle" font-weight="normal" stroke="#333" stroke-width="0.2" fill="#333" >2</text>
<text transform="translate(320.4,253.2) rotate(-90) scale(1,1.08)" font-size="10" text-anchor="middle">-Log<tspan font-size="5.5" dy="2.5">10</tspan><tspan dy="-2.5"> </tspan><tspan font-style="italic">p</tspan>.adj</text>
<text transform="translate(374.8,203.0) scale(1,1.08)" font-size="7.4" >Arachidonic acid metabolism</text>
<line x1="437.5" y1="197.0" x2="440.5" y2="191.5" stroke="#333" stroke-width="0.6" />
<text transform="translate(359.8,226.9) scale(1,1.08)" font-size="7.45" >Bile acid and bile salt metabolism</text>
<line x1="423.5" y1="233.2" x2="424.8" y2="228.8" stroke="#333" stroke-width="0.6" />
<text transform="translate(486.0,270.3) scale(1,1.08)" font-size="8.6" >Log<tspan font-size="4.7" dy="2.1">2</tspan><tspan dy="-2.1">FC</tspan></text>
<defs><linearGradient id="gfc" x1="0" y1="0" x2="0" y2="1"><stop offset="0" stop-color="#ec6c52"/><stop offset="0.42" stop-color="#ffffff"/><stop offset="1" stop-color="#3fa9e6"/></linearGradient></defs>
<rect x="491.0" y="275.9" width="7.0" height="40.8" fill="url(#gfc)" />
<text transform="translate(500.0,281.6) scale(1,1.15)" font-size="6.6" font-weight="normal" stroke="#222" stroke-width="0.2" fill="#222" >1</text>
<text transform="translate(500.0,295.8) scale(1,1.15)" font-size="6.6" font-weight="normal" stroke="#222" stroke-width="0.2" fill="#222" >0</text>
<text transform="translate(500.0,310.3) scale(1,1.15)" font-size="6.6" font-weight="normal" stroke="#222" stroke-width="0.2" fill="#222" >-1</text>
<defs><marker id="ah" viewBox="0 0 10 10" refX="9.5" refY="5" markerWidth="4.6" markerHeight="4.8" markerUnits="userSpaceOnUse" orient="auto-start-reverse"><path d="M0 0L10 5L0 10z" fill="#222"/></marker></defs>
<line x1="390.2" y1="329.4" x2="336.8" y2="329.4" stroke="#333" stroke-width="0.9" marker-end="url(#ah)"/>
<line x1="430.6" y1="329.6" x2="483.6" y2="329.6" stroke="#333" stroke-width="0.9" marker-end="url(#ah)"/>
<text transform="translate(410.4,333.8) scale(1,1.08)" font-size="10" text-anchor="middle" >Log<tspan font-size="5.5" dy="2.5">2</tspan><tspan dy="-2.5"> FC</tspan></text>
<text transform="translate(357.2,338.2) scale(1,1.08)" font-size="6.3" text-anchor="middle" >AFP<tspan font-size="3.9" dy="-2.4">+</tspan><tspan dy="2.4"> </tspan>HCC upregulated</text>
<text transform="translate(462.9,337.6) scale(1,1.08)" font-size="6.3" text-anchor="middle" >AFP<tspan font-size="3.9" dy="-2.4">-</tspan><tspan dy="2.4"> </tspan>HCC upregulated</text>
<text x="518.1" y="178.2" font-size="16.5" >d</text>
<text transform="translate(614.7,178.3) scale(1,1.08)" font-size="8.55" text-anchor="middle" >Correlation between</text>
<text transform="translate(614.7,186.8) scale(1,1.08)" font-size="8.55" text-anchor="middle" >metabolic pathways and AFP</text>
<circle cx="662.8" cy="194.5" r="1.5" fill="#e3c9a3" />
<circle cx="656.0" cy="199.4" r="0.4" fill="#e3c9a3" />
<circle cx="656.0" cy="203.3" r="0.4" fill="#e3c9a3" />
<circle cx="639.5" cy="207.8" r="2.2" fill="#e3c9a3" />
<circle cx="637.8" cy="212.7" r="2.2" fill="#e3c9a3" />
<circle cx="632.1" cy="217.0" r="2.4" fill="#e3c9a3" />
<circle cx="631.5" cy="221.6" r="2.4" fill="#e3c9a3" />
<circle cx="626.1" cy="225.9" r="2.8" fill="#e3c9a3" />
<circle cx="624.2" cy="230.5" r="2.8" fill="#e3c9a3" />
<circle cx="622.1" cy="235.0" r="2.9" fill="#e3c9a3" />
<circle cx="617.2" cy="239.4" r="3.1" fill="#e3c9a3" />
<circle cx="610.7" cy="243.7" r="3.4" fill="#e3c9a3" />
<circle cx="610.7" cy="248.3" r="3.4" fill="#e3c9a3" />
<circle cx="610.4" cy="253.1" r="3.4" fill="#e3c9a3" />
<circle cx="610.1" cy="257.2" r="3.4" fill="#e3c9a3" />
<circle cx="604.3" cy="261.7" r="3.7" fill="#e3c9a3" />
<circle cx="603.1" cy="266.1" r="3.7" fill="#e3c9a3" />
<circle cx="599.7" cy="270.4" r="3.8" fill="#e3c9a3" />
<circle cx="599.1" cy="275.0" r="3.8" fill="#e3c9a3" />
<circle cx="596.2" cy="279.5" r="3.9" fill="#e3c9a3" />
<circle cx="592.3" cy="283.9" r="4.0" fill="#e3c9a3" />
<circle cx="591.0" cy="288.4" r="4.0" fill="#e3c9a3" />
<circle cx="588.9" cy="292.7" r="4.1" fill="#e3c9a3" />
<circle cx="586.8" cy="297.6" r="4.3" fill="#e3c9a3" />
<circle cx="558.0" cy="311.3" r="5.0" fill="#d42f45" />
<circle cx="569.3" cy="306.7" r="4.6" fill="#d42f45" />
<circle cx="575.9" cy="302.0" r="4.3" fill="#d42f45" />
<rect x="548.3" y="189.4" width="132.2" height="127.8" fill="none" stroke="#333" stroke-width="0.9" />
<line x1="546.2" y1="203.4" x2="548.3" y2="203.4" stroke="#333" stroke-width="0.7" />
<text transform="translate(545.6,206.2) scale(1,1.15)" font-size="6.8" text-anchor="end" font-weight="normal" stroke="#333" stroke-width="0.2" fill="#333" >25</text>
<line x1="546.2" y1="225.0" x2="548.3" y2="225.0" stroke="#333" stroke-width="0.7" />
<text transform="translate(545.6,227.8) scale(1,1.15)" font-size="6.8" text-anchor="end" font-weight="normal" stroke="#333" stroke-width="0.2" fill="#333" >20</text>
<line x1="546.2" y1="246.6" x2="548.3" y2="246.6" stroke="#333" stroke-width="0.7" />
<text transform="translate(545.6,249.4) scale(1,1.15)" font-size="6.8" text-anchor="end" font-weight="normal" stroke="#333" stroke-width="0.2" fill="#333" >15</text>
<line x1="546.2" y1="268.2" x2="548.3" y2="268.2" stroke="#333" stroke-width="0.7" />
<text transform="translate(545.6,271.1) scale(1,1.15)" font-size="6.8" text-anchor="end" font-weight="normal" stroke="#333" stroke-width="0.2" fill="#333" >10</text>
<line x1="546.2" y1="289.9" x2="548.3" y2="289.9" stroke="#333" stroke-width="0.7" />
<text transform="translate(545.6,292.7) scale(1,1.15)" font-size="6.8" text-anchor="end" font-weight="normal" stroke="#333" stroke-width="0.2" fill="#333" >5</text>
<line x1="546.2" y1="311.5" x2="548.3" y2="311.5" stroke="#333" stroke-width="0.7" />
<text transform="translate(545.6,314.3) scale(1,1.15)" font-size="6.8" text-anchor="end" font-weight="normal" stroke="#333" stroke-width="0.2" fill="#333" >1</text>
<line x1="558.6" y1="317.2" x2="558.6" y2="319.4" stroke="#333" stroke-width="0.7" />
<text transform="translate(558.6,325.8) scale(1,1.15)" font-size="6.8" text-anchor="middle" font-weight="normal" stroke="#333" stroke-width="0.2" fill="#333" >-0.6</text>
<line x1="591.1" y1="317.2" x2="591.1" y2="319.4" stroke="#333" stroke-width="0.7" />
<text transform="translate(591.1,325.8) scale(1,1.15)" font-size="6.8" text-anchor="middle" font-weight="normal" stroke="#333" stroke-width="0.2" fill="#333" >-0.4</text>
<line x1="623.6" y1="317.2" x2="623.6" y2="319.4" stroke="#333" stroke-width="0.7" />
<text transform="translate(623.6,325.8) scale(1,1.15)" font-size="6.8" text-anchor="middle" font-weight="normal" stroke="#333" stroke-width="0.2" fill="#333" >-0.2</text>
<line x1="656.1" y1="317.2" x2="656.1" y2="319.4" stroke="#333" stroke-width="0.7" />
<text transform="translate(656.1,325.8) scale(1,1.15)" font-size="6.8" text-anchor="middle" font-weight="normal" stroke="#333" stroke-width="0.2" fill="#333" >0.0</text>
<text transform="translate(535.8,253) rotate(-90) scale(1,1.08)" font-size="10.2" text-anchor="middle">Rank</text>
<text transform="translate(614.7,337.0) scale(1,1.08)" font-size="8.95" text-anchor="middle" >Correlation coefficient</text>
<circle cx="561.1" cy="200.1" r="2.6" fill="#e3c9a3" />
<circle cx="561.1" cy="208.0" r="2.6" fill="#d42f45" />
<text transform="translate(565.4,202.4) scale(1,1.15)" font-size="6.6" font-weight="normal" stroke="#000" stroke-width="0.2" ><tspan font-style="italic">ρ</tspan> ≥ 0.05</text>
<text transform="translate(565.4,210.3) scale(1,1.15)" font-size="6.6" font-weight="normal" stroke="#000" stroke-width="0.2" ><tspan font-style="italic">ρ</tspan> &lt; 0.05</text>
<text transform="translate(574.6,229.3) scale(1,1.08)" font-size="6.4" text-anchor="middle" >Correlation</text>
<text transform="translate(574.6,236.6) scale(1,1.08)" font-size="6.4" text-anchor="middle" >coefficient</text>
<circle cx="566.7" cy="243.3" r="2.6" fill="#7a7a7a" />
<text transform="translate(575.0,246.1) scale(1,1.15)" font-size="6.6" font-weight="normal" stroke="#222" stroke-width="0.2" fill="#222" >0.2</text>
<circle cx="566.7" cy="252.5" r="3.5" fill="#7a7a7a" />
<text transform="translate(575.0,255.3) scale(1,1.15)" font-size="6.6" font-weight="normal" stroke="#222" stroke-width="0.2" fill="#222" >0.4</text>
<circle cx="566.7" cy="263.5" r="4.3" fill="#7a7a7a" />
<text transform="translate(575.0,266.3) scale(1,1.15)" font-size="6.6" font-weight="normal" stroke="#222" stroke-width="0.2" fill="#222" >0.6</text>
<text transform="translate(551.6,297.2) scale(1,1.08)" font-size="7.6" >Arachidonic acid metabolism</text>
<line x1="557.8" y1="298.5" x2="557.8" y2="305.2" stroke="#222" stroke-width="0.6" marker-end="url(#ah)"/>
<text x="-0.5" y="364.7" font-size="16.5" >e</text>
<text transform="translate(158.4,371.6) scale(1,1.08)" font-size="8.9" text-anchor="middle" >Arachidonic acid (ARA)</text>
<rect x="211.3" y="362.9" width="5.2" height="5.2" fill="#ef8a7a" />
<rect x="211.3" y="370.1" width="5.2" height="5.3" fill="#a8307f" />
<text transform="translate(219.1,368.0) scale(1,1.08)" font-size="6.45" >AFP<tspan font-size="4.0" dy="-2.5">-</tspan><tspan dy="2.5"> </tspan>HCC</text>
<text transform="translate(219.1,375.0) scale(1,1.08)" font-size="6.45" >AFP<tspan font-size="4.0" dy="-2.5">+</tspan><tspan dy="2.5"> </tspan>HCC</text>
<line x1="68.3" y1="379.2" x2="258.6" y2="379.2" stroke="#222" stroke-width="0.7" />
<line x1="163.4" y1="373.3" x2="163.4" y2="379.2" stroke="#222" stroke-width="0.7" />
<line x1="68.3" y1="379.2" x2="68.3" y2="384.2" stroke="#222" stroke-width="0.7" />
<line x1="68.3" y1="392.4" x2="68.3" y2="403.6" stroke="#222" stroke-width="0.7" marker-end="url(#ah)"/>
<line x1="163.4" y1="379.2" x2="163.4" y2="384.2" stroke="#222" stroke-width="0.7" />
<line x1="163.4" y1="392.4" x2="163.4" y2="403.6" stroke="#222" stroke-width="0.7" marker-end="url(#ah)"/>
<line x1="258.6" y1="379.2" x2="258.6" y2="384.2" stroke="#222" stroke-width="0.7" />
<line x1="258.6" y1="392.4" x2="258.6" y2="403.6" stroke="#222" stroke-width="0.7" marker-end="url(#ah)"/>
<text transform="translate(64.3,391.2) scale(1,1.08)" font-size="7.75" text-anchor="middle" >COX pathway</text>
<text transform="translate(158.9,391.0) scale(1,1.08)" font-size="7.75" text-anchor="middle" >LOX pathway</text>
<text transform="translate(254.5,391.2) scale(1,1.08)" font-size="7.75" text-anchor="middle" >CYP pathway</text>
<rect x="30.7" y="407.0" width="75.8" height="65.2" fill="none" stroke="#333" stroke-width="0.9" />
<line x1="28.5" y1="411.7" x2="30.7" y2="411.7" stroke="#333" stroke-width="0.7" />
<text transform="translate(27.6,414.5) scale(1,1.15)" font-size="6.4" text-anchor="end" font-weight="normal" stroke="#333" stroke-width="0.2" fill="#333" >0.6</text>
<line x1="28.5" y1="421.0" x2="30.7" y2="421.0" stroke="#333" stroke-width="0.7" />
<text transform="translate(27.6,423.8) scale(1,1.15)" font-size="6.4" text-anchor="end" font-weight="normal" stroke="#333" stroke-width="0.2" fill="#333" >0.4</text>
<line x1="28.5" y1="430.3" x2="30.7" y2="430.3" stroke="#333" stroke-width="0.7" />
<text transform="translate(27.6,433.1) scale(1,1.15)" font-size="6.4" text-anchor="end" font-weight="normal" stroke="#333" stroke-width="0.2" fill="#333" >0.2</text>
<line x1="28.5" y1="439.5" x2="30.7" y2="439.5" stroke="#333" stroke-width="0.7" />
<text transform="translate(27.6,442.3) scale(1,1.15)" font-size="6.4" text-anchor="end" font-weight="normal" stroke="#333" stroke-width="0.2" fill="#333" >0.0</text>
<line x1="28.5" y1="448.8" x2="30.7" y2="448.8" stroke="#333" stroke-width="0.7" />
<text transform="translate(27.6,451.6) scale(1,1.15)" font-size="6.4" text-anchor="end" font-weight="normal" stroke="#333" stroke-width="0.2" fill="#333" >-0.2</text>
<line x1="28.5" y1="458.1" x2="30.7" y2="458.1" stroke="#333" stroke-width="0.7" />
<text transform="translate(27.6,460.9) scale(1,1.15)" font-size="6.4" text-anchor="end" font-weight="normal" stroke="#333" stroke-width="0.2" fill="#333" >-0.4</text>
<line x1="28.5" y1="467.4" x2="30.7" y2="467.4" stroke="#333" stroke-width="0.7" />
<text transform="translate(27.6,470.2) scale(1,1.15)" font-size="6.4" text-anchor="end" font-weight="normal" stroke="#333" stroke-width="0.2" fill="#333" >-0.6</text>
<path d="M50.90 409.10L51.00 409.46L51.13 409.95L51.29 410.54L51.49 411.18L51.72 411.85L52.00 412.50L52.32 413.14L52.69 413.78L53.10 414.45L53.54 415.15L54.01 415.90L54.50 416.70L55.03 417.57L55.61 418.51L56.22 419.49L56.84 420.50L57.44 421.51L58.00 422.50L58.53 423.48L59.04 424.46L59.53 425.45L60.01 426.44L60.46 427.42L60.90 428.40L61.32 429.34L61.72 430.25L62.10 431.16L62.46 432.09L62.79 433.10L63.10 434.20L63.40 435.42L63.70 436.71L63.97 438.08L64.20 439.50L64.35 440.94L64.40 442.40L64.34 443.93L64.20 445.54L63.99 447.19L63.71 448.81L63.37 450.33L63.00 451.70L62.57 452.88L62.07 453.92L61.51 454.87L60.92 455.77L60.31 456.66L59.70 457.60L59.05 458.60L58.33 459.64L57.60 460.68L56.89 461.67L56.24 462.59L55.70 463.40L55.27 464.09L54.91 464.69L54.62 465.21L54.39 465.68L54.18 466.10L54.00 466.50L53.85 466.87L53.76 467.20L53.69 467.49L53.66 467.74L53.63 467.94L53.60 468.10L47.20 468.10L47.17 467.94L47.14 467.74L47.11 467.49L47.04 467.20L46.95 466.87L46.80 466.50L46.62 466.10L46.41 465.68L46.17 465.21L45.89 464.69L45.53 464.09L45.10 463.40L44.56 462.59L43.91 461.67L43.20 460.68L42.47 459.64L41.75 458.60L41.10 457.60L40.49 456.66L39.88 455.77L39.29 454.87L38.73 453.92L38.23 452.88L37.80 451.70L37.43 450.33L37.09 448.81L36.81 447.19L36.60 445.54L36.46 443.93L36.40 442.40L36.45 440.94L36.60 439.50L36.83 438.08L37.10 436.71L37.40 435.42L37.70 434.20L38.01 433.10L38.34 432.09L38.70 431.16L39.08 430.25L39.48 429.34L39.90 428.40L40.34 427.42L40.79 426.44L41.27 425.45L41.76 424.46L42.27 423.48L42.80 422.50L43.36 421.51L43.96 420.50L44.58 419.49L45.19 418.51L45.77 417.57L46.30 416.70L46.79 415.90L47.26 415.15L47.70 414.45L48.11 413.78L48.48 413.14L48.80 412.50L49.08 411.85L49.31 411.18L49.51 410.54L49.67 409.95L49.80 409.46L49.90 409.10Z" fill="#ef8a7a"/>
<path d="M86.30 409.70L86.41 410.03L86.54 410.47L86.71 411.01L86.91 411.59L87.14 412.20L87.40 412.80L87.68 413.38L87.98 413.97L88.31 414.58L88.69 415.23L89.11 415.93L89.60 416.70L90.19 417.56L90.87 418.49L91.61 419.47L92.35 420.49L93.06 421.51L93.70 422.50L94.26 423.48L94.79 424.46L95.28 425.45L95.74 426.44L96.18 427.42L96.60 428.40L96.99 429.34L97.36 430.25L97.70 431.16L98.02 432.09L98.32 433.10L98.60 434.20L98.88 435.42L99.17 436.71L99.44 438.08L99.67 439.50L99.83 440.94L99.90 442.40L99.88 443.93L99.79 445.54L99.62 447.19L99.40 448.81L99.13 450.33L98.80 451.70L98.40 452.88L97.93 453.92L97.40 454.87L96.84 455.77L96.26 456.66L95.70 457.60L95.12 458.59L94.51 459.60L93.88 460.61L93.27 461.60L92.70 462.53L92.20 463.40L91.76 464.21L91.36 464.97L91.01 465.69L90.69 466.36L90.42 466.96L90.20 467.50L90.04 467.97L89.93 468.37L89.88 468.71L89.84 468.99L89.83 469.22L89.80 469.40L81.80 469.40L81.77 469.22L81.76 468.99L81.72 468.71L81.67 468.37L81.56 467.97L81.40 467.50L81.18 466.96L80.91 466.36L80.59 465.69L80.24 464.97L79.84 464.21L79.40 463.40L78.90 462.53L78.33 461.60L77.72 460.61L77.09 459.60L76.48 458.59L75.90 457.60L75.34 456.66L74.76 455.77L74.20 454.87L73.67 453.92L73.20 452.88L72.80 451.70L72.47 450.33L72.20 448.81L71.97 447.19L71.81 445.54L71.72 443.93L71.70 442.40L71.77 440.94L71.93 439.50L72.16 438.08L72.43 436.71L72.72 435.42L73.00 434.20L73.28 433.10L73.58 432.09L73.90 431.16L74.24 430.25L74.61 429.34L75.00 428.40L75.42 427.42L75.86 426.44L76.32 425.45L76.81 424.46L77.34 423.48L77.90 422.50L78.54 421.51L79.25 420.49L79.99 419.47L80.73 418.49L81.41 417.56L82.00 416.70L82.49 415.93L82.91 415.23L83.29 414.58L83.62 413.97L83.92 413.38L84.20 412.80L84.46 412.20L84.69 411.59L84.89 411.01L85.06 410.47L85.19 410.03L85.30 409.70Z" fill="#a8307f"/>
<line x1="50.4" y1="409.5" x2="50.4" y2="468.0" stroke="#111" stroke-width="0.8" /><rect x="49.1" y="434.2" width="2.6" height="18.7" fill="#111" /><circle cx="50.4" cy="442.6" r="0.8" fill="#fff" />
<line x1="85.8" y1="410.0" x2="85.8" y2="469.2" stroke="#111" stroke-width="0.8" /><rect x="84.5" y="434.7" width="2.6" height="17.3" fill="#111" /><circle cx="85.8" cy="443.3" r="0.8" fill="#fff" />
<text transform="translate(67.9,414.3) scale(1,1.08)" font-size="8.0" text-anchor="middle" >ns</text>
<rect x="125.8" y="407.0" width="76.2" height="65.1" fill="none" stroke="#333" stroke-width="0.9" />
<line x1="123.6" y1="413.4" x2="125.8" y2="413.4" stroke="#333" stroke-width="0.7" />
<text transform="translate(122.8,416.2) scale(1,1.15)" font-size="6.4" text-anchor="end" font-weight="normal" stroke="#333" stroke-width="0.2" fill="#333" >0.6</text>
<line x1="123.6" y1="424.0" x2="125.8" y2="424.0" stroke="#333" stroke-width="0.7" />
<text transform="translate(122.8,426.8) scale(1,1.15)" font-size="6.4" text-anchor="end" font-weight="normal" stroke="#333" stroke-width="0.2" fill="#333" >0.4</text>
<line x1="123.6" y1="434.6" x2="125.8" y2="434.6" stroke="#333" stroke-width="0.7" />
<text transform="translate(122.8,437.4) scale(1,1.15)" font-size="6.4" text-anchor="end" font-weight="normal" stroke="#333" stroke-width="0.2" fill="#333" >0.2</text>
<line x1="123.6" y1="445.1" x2="125.8" y2="445.1" stroke="#333" stroke-width="0.7" />
<text transform="translate(122.8,447.9) scale(1,1.15)" font-size="6.4" text-anchor="end" font-weight="normal" stroke="#333" stroke-width="0.2" fill="#333" >0.0</text>
<line x1="123.6" y1="455.7" x2="125.8" y2="455.7" stroke="#333" stroke-width="0.7" />
<text transform="translate(122.8,458.5) scale(1,1.15)" font-size="6.4" text-anchor="end" font-weight="normal" stroke="#333" stroke-width="0.2" fill="#333" >-0.2</text>
<line x1="123.6" y1="466.3" x2="125.8" y2="466.3" stroke="#333" stroke-width="0.7" />
<text transform="translate(122.8,469.1) scale(1,1.15)" font-size="6.4" text-anchor="end" font-weight="normal" stroke="#333" stroke-width="0.2" fill="#333" >-0.4</text>
<path d="M146.50 409.70L146.64 409.99L146.82 410.37L147.04 410.84L147.31 411.36L147.63 411.92L148.00 412.50L148.44 413.10L148.93 413.74L149.48 414.41L150.07 415.13L150.68 415.89L151.30 416.70L151.96 417.57L152.68 418.51L153.43 419.49L154.16 420.50L154.86 421.51L155.50 422.50L156.07 423.45L156.61 424.38L157.12 425.31L157.59 426.27L158.01 427.29L158.40 428.40L158.76 429.61L159.11 430.89L159.41 432.23L159.66 433.62L159.83 435.05L159.90 436.50L159.89 438.01L159.82 439.59L159.68 441.20L159.43 442.81L159.08 444.39L158.60 445.90L157.93 447.34L157.09 448.74L156.12 450.10L155.13 451.43L154.16 452.73L153.30 454.00L152.53 455.25L151.77 456.49L151.06 457.69L150.38 458.86L149.76 459.96L149.20 461.00L148.70 461.98L148.26 462.90L147.88 463.78L147.54 464.59L147.25 465.33L147.00 466.00L146.81 466.60L146.69 467.14L146.61 467.61L146.57 468.01L146.53 468.34L146.50 468.60L145.50 468.60L145.47 468.34L145.43 468.01L145.39 467.61L145.31 467.14L145.19 466.60L145.00 466.00L144.75 465.33L144.46 464.59L144.12 463.78L143.74 462.90L143.30 461.98L142.80 461.00L142.24 459.96L141.62 458.86L140.94 457.69L140.23 456.49L139.47 455.25L138.70 454.00L137.84 452.73L136.87 451.43L135.88 450.10L134.91 448.74L134.07 447.34L133.40 445.90L132.92 444.39L132.57 442.81L132.32 441.20L132.18 439.59L132.11 438.01L132.10 436.50L132.17 435.05L132.34 433.62L132.59 432.23L132.89 430.89L133.24 429.61L133.60 428.40L133.99 427.29L134.41 426.27L134.88 425.31L135.39 424.38L135.93 423.45L136.50 422.50L137.14 421.51L137.84 420.50L138.57 419.49L139.32 418.51L140.04 417.57L140.70 416.70L141.32 415.89L141.93 415.13L142.52 414.41L143.07 413.74L143.56 413.10L144.00 412.50L144.37 411.92L144.69 411.36L144.96 410.84L145.18 410.37L145.36 409.99L145.50 409.70Z" fill="#ef8a7a"/>
<path d="M182.00 410.30L182.04 410.65L182.08 411.13L182.14 411.70L182.21 412.31L182.29 412.93L182.40 413.50L182.51 414.00L182.61 414.47L182.74 414.94L182.90 415.44L183.11 416.02L183.40 416.70L183.78 417.52L184.22 418.44L184.72 419.43L185.27 420.46L185.83 421.50L186.40 422.50L186.99 423.48L187.63 424.46L188.29 425.45L188.95 426.44L189.59 427.42L190.20 428.40L190.78 429.34L191.36 430.25L191.91 431.16L192.44 432.09L192.94 433.10L193.40 434.20L193.85 435.44L194.29 436.80L194.71 438.23L195.05 439.67L195.29 441.07L195.40 442.40L195.37 443.62L195.23 444.78L194.99 445.90L194.65 447.02L194.22 448.18L193.70 449.40L193.04 450.72L192.22 452.13L191.31 453.57L190.38 455.00L189.48 456.36L188.70 457.60L188.02 458.73L187.39 459.79L186.79 460.79L186.24 461.72L185.71 462.59L185.20 463.40L184.71 464.14L184.23 464.81L183.78 465.43L183.37 465.99L183.01 466.51L182.70 467.00L182.46 467.47L182.28 467.92L182.14 468.32L182.04 468.68L181.97 468.98L181.90 469.20L180.90 469.20L180.83 468.98L180.76 468.68L180.66 468.32L180.52 467.92L180.34 467.47L180.10 467.00L179.79 466.51L179.43 465.99L179.02 465.43L178.57 464.81L178.09 464.14L177.60 463.40L177.09 462.59L176.56 461.72L176.01 460.79L175.41 459.79L174.78 458.73L174.10 457.60L173.32 456.36L172.42 455.00L171.49 453.57L170.58 452.13L169.76 450.72L169.10 449.40L168.58 448.18L168.15 447.02L167.81 445.90L167.57 444.78L167.43 443.62L167.40 442.40L167.51 441.07L167.75 439.67L168.09 438.23L168.51 436.80L168.95 435.44L169.40 434.20L169.86 433.10L170.36 432.09L170.89 431.16L171.44 430.25L172.02 429.34L172.60 428.40L173.21 427.42L173.85 426.44L174.51 425.45L175.17 424.46L175.81 423.48L176.40 422.50L176.97 421.50L177.53 420.46L178.08 419.43L178.58 418.44L179.03 417.52L179.40 416.70L179.69 416.02L179.90 415.44L180.06 414.94L180.19 414.47L180.29 414.00L180.40 413.50L180.51 412.93L180.59 412.31L180.66 411.70L180.72 411.13L180.76 410.65L180.80 410.30Z" fill="#a8307f"/>
<line x1="146.0" y1="410.0" x2="146.0" y2="468.0" stroke="#111" stroke-width="0.8" /><rect x="144.7" y="431.0" width="2.6" height="14.8" fill="#111" /><circle cx="146.0" cy="437.1" r="0.8" fill="#fff" />
<line x1="181.4" y1="416.0" x2="181.4" y2="469.0" stroke="#111" stroke-width="0.8" /><rect x="180.1" y="435.3" width="2.6" height="13.2" fill="#111" /><circle cx="181.4" cy="444.6" r="0.8" fill="#fff" />
<text transform="translate(164.4,418.5) scale(1,1.08)" font-size="12.6" text-anchor="middle" >***</text>
<rect x="220.5" y="406.9" width="76.2" height="65.0" fill="none" stroke="#333" stroke-width="0.9" />
<line x1="218.3" y1="422.6" x2="220.5" y2="422.6" stroke="#333" stroke-width="0.7" />
<text transform="translate(218.4,425.4) scale(1,1.15)" font-size="6.4" text-anchor="end" font-weight="normal" stroke="#333" stroke-width="0.2" fill="#333" >0.5</text>
<line x1="218.3" y1="442.5" x2="220.5" y2="442.5" stroke="#333" stroke-width="0.7" />
<text transform="translate(218.4,445.3) scale(1,1.15)" font-size="6.4" text-anchor="end" font-weight="normal" stroke="#333" stroke-width="0.2" fill="#333" >0.0</text>
<line x1="218.3" y1="462.4" x2="220.5" y2="462.4" stroke="#333" stroke-width="0.7" />
<text transform="translate(218.4,465.2) scale(1,1.15)" font-size="6.4" text-anchor="end" font-weight="normal" stroke="#333" stroke-width="0.2" fill="#333" >-0.5</text>
<path d="M241.80 412.00L241.95 412.50L242.16 413.18L242.40 413.99L242.68 414.88L242.98 415.80L243.30 416.70L243.65 417.60L244.04 418.55L244.45 419.52L244.87 420.52L245.30 421.51L245.70 422.50L246.09 423.48L246.47 424.46L246.86 425.45L247.24 426.44L247.62 427.42L248.00 428.40L248.39 429.37L248.79 430.34L249.18 431.31L249.57 432.27L249.95 433.23L250.30 434.20L250.63 435.17L250.94 436.13L251.24 437.09L251.53 438.06L251.81 439.03L252.10 440.00L252.39 440.96L252.69 441.92L252.99 442.88L253.27 443.85L253.55 444.85L253.80 445.90L254.06 447.02L254.33 448.20L254.59 449.41L254.81 450.61L254.96 451.79L255.00 452.90L254.95 453.93L254.84 454.92L254.65 455.87L254.39 456.80L254.04 457.74L253.60 458.70L253.02 459.71L252.29 460.77L251.47 461.83L250.64 462.85L249.86 463.79L249.20 464.60L248.64 465.27L248.14 465.83L247.68 466.31L247.27 466.73L246.91 467.12L246.60 467.50L246.34 467.87L246.14 468.22L245.99 468.53L245.87 468.80L245.78 469.03L245.70 469.20L236.30 469.20L236.22 469.03L236.13 468.80L236.01 468.53L235.86 468.22L235.66 467.87L235.40 467.50L235.09 467.12L234.73 466.73L234.32 466.31L233.86 465.83L233.36 465.27L232.80 464.60L232.14 463.79L231.36 462.85L230.53 461.83L229.71 460.77L228.98 459.71L228.40 458.70L227.96 457.74L227.61 456.80L227.35 455.87L227.16 454.92L227.05 453.93L227.00 452.90L227.04 451.79L227.19 450.61L227.41 449.41L227.67 448.20L227.94 447.02L228.20 445.90L228.45 444.85L228.73 443.85L229.01 442.88L229.31 441.92L229.61 440.96L229.90 440.00L230.19 439.03L230.47 438.06L230.76 437.09L231.06 436.13L231.37 435.17L231.70 434.20L232.05 433.23L232.43 432.27L232.82 431.31L233.21 430.34L233.61 429.37L234.00 428.40L234.38 427.42L234.76 426.44L235.14 425.45L235.53 424.46L235.91 423.48L236.30 422.50L236.70 421.51L237.13 420.52L237.55 419.52L237.96 418.55L238.35 417.60L238.70 416.70L239.02 415.80L239.32 414.88L239.60 413.99L239.84 413.18L240.05 412.50L240.20 412.00Z" fill="#ef8a7a"/>
<path d="M276.80 409.40L276.83 409.99L276.88 410.80L276.93 411.76L276.99 412.82L277.05 413.92L277.10 415.00L277.15 416.09L277.19 417.25L277.24 418.45L277.29 419.66L277.34 420.85L277.40 422.00L277.47 423.11L277.54 424.20L277.62 425.28L277.70 426.33L277.80 427.38L277.90 428.40L277.99 429.40L278.06 430.38L278.14 431.34L278.26 432.29L278.44 433.24L278.70 434.20L279.07 435.17L279.53 436.13L280.05 437.09L280.60 438.06L281.16 439.03L281.70 440.00L282.22 440.98L282.74 441.96L283.27 442.95L283.80 443.94L284.35 444.92L284.90 445.90L285.48 446.87L286.10 447.84L286.72 448.80L287.33 449.76L287.90 450.73L288.40 451.70L288.86 452.68L289.31 453.66L289.72 454.65L290.06 455.64L290.30 456.62L290.40 457.60L290.35 458.59L290.17 459.58L289.89 460.58L289.54 461.55L289.13 462.50L288.70 463.40L288.19 464.28L287.57 465.17L286.89 466.02L286.23 466.81L285.65 467.51L285.20 468.10L284.90 468.55L284.70 468.89L284.58 469.14L284.51 469.33L284.46 469.47L284.40 469.60L268.40 469.60L268.34 469.47L268.29 469.33L268.22 469.14L268.10 468.89L267.90 468.55L267.60 468.10L267.15 467.51L266.57 466.81L265.91 466.02L265.23 465.17L264.61 464.28L264.10 463.40L263.67 462.50L263.26 461.55L262.91 460.58L262.63 459.58L262.45 458.59L262.40 457.60L262.50 456.62L262.74 455.64L263.07 454.65L263.49 453.66L263.94 452.68L264.40 451.70L264.90 450.73L265.47 449.76L266.07 448.80L266.70 447.84L267.32 446.87L267.90 445.90L268.45 444.92L269.00 443.94L269.53 442.95L270.06 441.96L270.58 440.98L271.10 440.00L271.64 439.03L272.20 438.06L272.75 437.09L273.27 436.13L273.73 435.17L274.10 434.20L274.36 433.24L274.54 432.29L274.66 431.34L274.74 430.38L274.81 429.40L274.90 428.40L275.00 427.38L275.10 426.33L275.18 425.28L275.26 424.20L275.33 423.11L275.40 422.00L275.46 420.85L275.51 419.66L275.56 418.45L275.61 417.25L275.65 416.09L275.70 415.00L275.75 413.92L275.81 412.82L275.87 411.76L275.92 410.80L275.97 409.99L276.00 409.40Z" fill="#a8307f"/>
<line x1="241.0" y1="412.5" x2="241.0" y2="469.0" stroke="#111" stroke-width="0.8" /><rect x="239.7" y="439.3" width="2.6" height="18.6" fill="#111" /><circle cx="241.0" cy="449.5" r="0.8" fill="#fff" />
<line x1="276.4" y1="436.0" x2="276.4" y2="469.5" stroke="#111" stroke-width="0.8" /><rect x="275.1" y="451.4" width="2.6" height="10.5" fill="#111" /><circle cx="276.4" cy="458.7" r="0.8" fill="#fff" />
<text transform="translate(258.6,418.9) scale(1,1.08)" font-size="12.6" text-anchor="middle" >***</text>
<text transform="translate(14.5,439.9) rotate(-90) scale(1,1.08)" font-size="8.85" text-anchor="middle">Gene signature</text>
<line x1="68.1" y1="475.0" x2="68.1" y2="488.8" stroke="#222" stroke-width="0.7" marker-end="url(#ah)"/>
<line x1="163.5" y1="475.0" x2="163.5" y2="488.8" stroke="#222" stroke-width="0.7" marker-end="url(#ah)"/>
<line x1="258.1" y1="475.0" x2="258.1" y2="488.8" stroke="#222" stroke-width="0.7" marker-end="url(#ah)"/>
<text transform="translate(67.9,499.2) scale(1,1.08)" font-size="7.7" text-anchor="middle" >Prostaglandins</text>
<text transform="translate(67.9,507.9) scale(1,1.08)" font-size="7.7" text-anchor="middle" >Thromboxanes</text>
<rect x="116.7" y="486.3" width="29.7" height="32.3" fill="none" stroke="#f0875a" stroke-width="0.8" stroke-dasharray="2.5 1.6"/>
<text transform="translate(144.8,493.4) scale(1,1.08)" font-size="6.5" text-anchor="end" >5-HETE</text>
<text transform="translate(144.8,500.8) scale(1,1.08)" font-size="6.5" text-anchor="end" >8-HETE</text>
<text transform="translate(144.8,508.7) scale(1,1.08)" font-size="6.5" text-anchor="end" >12-HETE</text>
<text transform="translate(144.8,516.3) scale(1,1.08)" font-size="6.5" text-anchor="end" >15-HETE</text>
<line x1="146.4" y1="495.7" x2="150.6" y2="495.7" stroke="#f0875a" stroke-width="0.8" />
<text transform="translate(151.2,499.2) scale(1,1.08)" font-size="7.6" >HETEs</text>
<text transform="translate(151.2,507.9) scale(1,1.08)" font-size="7.6" >Leukotrienes</text>
<rect x="212.0" y="486.0" width="29.4" height="18.2" fill="none" stroke="#f0875a" stroke-width="0.8" stroke-dasharray="2.5 1.6"/>
<text transform="translate(214.0,493.8) scale(1,1.08)" font-size="6.5" >19-HETE</text>
<text transform="translate(214.0,501.3) scale(1,1.08)" font-size="6.5" >20-HETE</text>
<line x1="241.4" y1="495.7" x2="245.0" y2="495.7" stroke="#f0875a" stroke-width="0.8" />
<text transform="translate(245.0,498.6) scale(1,1.08)" font-size="7.6" >HETEs</text>
<text transform="translate(245.0,508.2) scale(1,1.08)" font-size="7.6" >EETs</text>
<rect x="266.3" y="504.2" width="33.6" height="31.6" fill="none" stroke="#3cb46e" stroke-width="0.8" stroke-dasharray="2.5 1.6"/>
<text transform="translate(268.0,511.4) scale(1,1.08)" font-size="6.5" >5,6-EET</text>
<text transform="translate(268.0,519.3) scale(1,1.08)" font-size="6.5" >8,9-EET</text>
<text transform="translate(268.0,527.0) scale(1,1.08)" font-size="6.5" >11,12-EET</text>
<text transform="translate(268.0,534.2) scale(1,1.08)" font-size="6.5" >14,15-EET</text>
<line x1="264.3" y1="506.6" x2="267.2" y2="510.8" stroke="#3cb46e" stroke-width="0.8" />
<text transform="translate(220.0,519.4) scale(1,1.08)" font-size="7.6" >DHETs</text>
<path d="M257.5 510.2V516.6H248.0" fill="none" stroke="#222" stroke-width="0.7" marker-end="url(#ah)"/>
<text x="302.3" y="366.0" font-size="16.5" >f</text>
<text transform="translate(394.5,382.0) scale(1,1.08)" font-size="8.94" text-anchor="middle" >Correlation (scRNA-seq)</text>
<path d="M340.7 392.8L343.4 395.1L346.1 397.4L348.8 399.6L351.5 401.9L354.2 404.1L356.9 406.3L359.5 408.5L362.2 410.7L364.9 412.9L367.6 415.1L370.3 417.2L373.0 419.2L375.7 421.3L378.4 423.2L381.1 425.1L383.8 426.9L386.5 428.6L389.2 430.2L391.9 431.6L394.6 432.8L397.2 434.0L399.9 435.0L402.6 435.9L405.3 436.8L408.0 437.5L410.7 438.2L413.4 438.9L416.1 439.5L418.8 440.1L421.5 440.7L424.2 441.2L426.9 441.8L429.6 442.3L432.2 442.8L434.9 443.3L437.6 443.8L440.3 444.3L443.0 444.8L445.7 445.2L448.4 445.7L448.4 488.1L445.7 485.9L443.0 483.6L440.3 481.3L437.6 479.0L434.9 476.8L432.2 474.5L429.6 472.3L426.9 470.1L424.2 467.8L421.5 465.6L418.8 463.5L416.1 461.3L413.4 459.2L410.7 457.1L408.0 455.0L405.3 453.0L402.6 451.1L399.9 449.3L397.2 447.6L394.6 446.0L391.9 444.5L389.2 443.1L386.5 441.9L383.8 440.9L381.1 439.9L378.4 439.1L375.7 438.3L373.0 437.5L370.3 436.9L367.6 436.2L364.9 435.6L362.2 435.0L359.5 434.5L356.9 433.9L354.2 433.4L351.5 432.9L348.8 432.4L346.1 431.9L343.4 431.4L340.7 430.9Z" fill="#ebebeb"/>
<line x1="340.7" y1="411.5" x2="448.4" y2="466.9" stroke="#1da1e2" stroke-width="1.5" />
<circle cx="340.7" cy="423.0" r="1.2" fill="#4fc0f2" />
<circle cx="347.3" cy="401.7" r="1.2" fill="#4fc0f2" />
<circle cx="354.1" cy="407.3" r="1.2" fill="#4fc0f2" />
<circle cx="361.0" cy="444.6" r="1.2" fill="#4fc0f2" />
<circle cx="367.5" cy="455.1" r="1.2" fill="#4fc0f2" />
<circle cx="374.4" cy="417.8" r="1.2" fill="#4fc0f2" />
<circle cx="380.9" cy="396.0" r="1.2" fill="#4fc0f2" />
<circle cx="387.8" cy="412.5" r="1.2" fill="#4fc0f2" />
<circle cx="394.6" cy="439.3" r="1.2" fill="#4fc0f2" />
<circle cx="401.2" cy="428.5" r="1.2" fill="#4fc0f2" />
<circle cx="408.0" cy="471.4" r="1.2" fill="#4fc0f2" />
<circle cx="414.6" cy="450.4" r="1.2" fill="#4fc0f2" />
<circle cx="421.4" cy="482.4" r="1.2" fill="#4fc0f2" />
<circle cx="428.2" cy="476.9" r="1.2" fill="#4fc0f2" />
<circle cx="434.8" cy="466.4" r="1.2" fill="#4fc0f2" />
<circle cx="441.6" cy="433.8" r="1.2" fill="#4fc0f2" />
<circle cx="448.4" cy="460.9" r="1.2" fill="#4fc0f2" />
<rect x="335.5" y="385.5" width="118.2" height="107.8" fill="none" stroke="#333" stroke-width="0.9" />
<line x1="333.3" y1="405.0" x2="335.5" y2="405.0" stroke="#333" stroke-width="0.7" />
<text transform="translate(333.2,407.8) scale(1,1.15)" font-size="6.8" text-anchor="end" font-weight="normal" stroke="#333" stroke-width="0.2" fill="#333" >0.9</text>
<line x1="333.3" y1="430.8" x2="335.5" y2="430.8" stroke="#333" stroke-width="0.7" />
<text transform="translate(333.2,433.6) scale(1,1.15)" font-size="6.8" text-anchor="end" font-weight="normal" stroke="#333" stroke-width="0.2" fill="#333" >0.6</text>
<line x1="333.3" y1="456.6" x2="335.5" y2="456.6" stroke="#333" stroke-width="0.7" />
<text transform="translate(333.2,459.4) scale(1,1.15)" font-size="6.8" text-anchor="end" font-weight="normal" stroke="#333" stroke-width="0.2" fill="#333" >0.3</text>
<line x1="333.3" y1="482.4" x2="335.5" y2="482.4" stroke="#333" stroke-width="0.7" />
<text transform="translate(333.2,485.2) scale(1,1.15)" font-size="6.8" text-anchor="end" font-weight="normal" stroke="#333" stroke-width="0.2" fill="#333" >0.0</text>
<line x1="340.7" y1="493.3" x2="340.7" y2="495.5" stroke="#333" stroke-width="0.7" />
<text transform="translate(340.7,502.6) scale(1,1.15)" font-size="6.8" text-anchor="middle" font-weight="normal" stroke="#333" stroke-width="0.2" fill="#333" >0.00</text>
<line x1="367.6" y1="493.3" x2="367.6" y2="495.5" stroke="#333" stroke-width="0.7" />
<text transform="translate(367.6,502.6) scale(1,1.15)" font-size="6.8" text-anchor="middle" font-weight="normal" stroke="#333" stroke-width="0.2" fill="#333" >0.25</text>
<line x1="394.6" y1="493.3" x2="394.6" y2="495.5" stroke="#333" stroke-width="0.7" />
<text transform="translate(394.6,502.6) scale(1,1.15)" font-size="6.8" text-anchor="middle" font-weight="normal" stroke="#333" stroke-width="0.2" fill="#333" >0.50</text>
<line x1="421.5" y1="493.3" x2="421.5" y2="495.5" stroke="#333" stroke-width="0.7" />
<text transform="translate(421.5,502.6) scale(1,1.15)" font-size="6.8" text-anchor="middle" font-weight="normal" stroke="#333" stroke-width="0.2" fill="#333" >0.75</text>
<line x1="448.4" y1="493.3" x2="448.4" y2="495.5" stroke="#333" stroke-width="0.7" />
<text transform="translate(448.4,502.6) scale(1,1.15)" font-size="6.8" text-anchor="middle" font-weight="normal" stroke="#333" stroke-width="0.2" fill="#333" >1.00</text>
<text transform="translate(341.3,396.0) scale(1,1.08)" font-size="7.7" >R = -0.64, <tspan font-style="italic">p</tspan> = 0.0064</text>
<text transform="translate(318.5,439.2) rotate(-90) scale(1,1.08)" font-size="8.85" text-anchor="middle">CYP gene signature</text>
<text transform="translate(394.6,513.2) scale(1,1.08)" font-size="8.87" text-anchor="middle" >AFP expression</text>
<text x="473.3" y="363.3" font-size="16.5" >g</text>
<path d="M628.82 396.18A74.7 74.7 0 0 1 633.92 401.82L625.31 408.83A63.6 63.6 0 0 0 620.97 404.03Z" fill="#ff0000"/>
<path d="M620.97 404.03A63.6 63.6 0 0 1 625.31 408.83L616.70 415.84A52.5 52.5 0 0 0 613.12 411.88Z" fill="#78c7f0"/>
<path d="M633.79 401.67A74.7 74.7 0 0 1 638.30 407.79L629.04 413.91A63.6 63.6 0 0 0 625.20 408.70Z" fill="#ff0000"/>
<path d="M625.20 408.70A63.6 63.6 0 0 1 629.04 413.91L619.79 420.04A52.5 52.5 0 0 0 616.62 415.74Z" fill="#82caf0"/>
<path d="M638.19 407.62A74.7 74.7 0 0 1 642.08 414.16L632.26 419.34A63.6 63.6 0 0 0 628.95 413.77Z" fill="#fe0e0a"/>
<path d="M628.95 413.77A63.6 63.6 0 0 1 632.26 419.34L622.44 424.51A52.5 52.5 0 0 0 619.71 419.92Z" fill="#8ccef1"/>
<path d="M641.99 413.99A74.7 74.7 0 0 1 645.20 420.87L634.92 425.05A63.6 63.6 0 0 0 632.18 419.19Z" fill="#fd3124"/>
<path d="M632.18 419.19A63.6 63.6 0 0 1 634.92 425.05L624.64 429.23A52.5 52.5 0 0 0 622.38 424.39Z" fill="#96d2f2"/>
<path d="M645.13 420.69A74.7 74.7 0 0 1 647.65 427.86L637.00 431.00A63.6 63.6 0 0 0 634.86 424.90Z" fill="#fd382a"/>
<path d="M634.86 424.90A63.6 63.6 0 0 1 637.00 431.00L626.35 434.15A52.5 52.5 0 0 0 624.58 429.10Z" fill="#a1d5f2"/>
<path d="M647.59 427.68A74.7 74.7 0 0 1 649.39 435.06L638.48 437.13A63.6 63.6 0 0 0 636.95 430.84Z" fill="#fb543e"/>
<path d="M636.95 430.84A63.6 63.6 0 0 1 638.48 437.13L627.58 439.20A52.5 52.5 0 0 0 626.32 434.01Z" fill="#abd8f2"/>
<path d="M649.35 434.87A74.7 74.7 0 0 1 650.41 442.40L639.35 443.38A63.6 63.6 0 0 0 638.45 436.97Z" fill="#f98563"/>
<path d="M638.45 436.97A63.6 63.6 0 0 1 639.35 443.38L628.29 444.36A52.5 52.5 0 0 0 627.55 439.07Z" fill="#badef4"/>
<path d="M650.39 442.20A74.7 74.7 0 0 1 650.70 449.80L639.60 449.68A63.6 63.6 0 0 0 639.34 443.21Z" fill="#f9926e"/>
<path d="M639.34 443.21A63.6 63.6 0 0 1 639.60 449.68L628.50 449.56A52.5 52.5 0 0 0 628.28 444.22Z" fill="#c2e2f5"/>
<path d="M650.70 449.60A74.7 74.7 0 0 1 650.25 457.19L639.22 455.97A63.6 63.6 0 0 0 639.60 449.51Z" fill="#fa9775"/>
<path d="M639.60 449.51A63.6 63.6 0 0 1 639.22 455.97L628.18 454.76A52.5 52.5 0 0 0 628.50 449.42Z" fill="#cce6f6"/>
<path d="M650.27 457.00A74.7 74.7 0 0 1 649.07 464.50L638.22 462.20A63.6 63.6 0 0 0 639.23 455.81Z" fill="#fa9a78"/>
<path d="M639.23 455.81A63.6 63.6 0 0 1 638.22 462.20L627.36 459.90A52.5 52.5 0 0 0 628.20 454.62Z" fill="#d0e9f7"/>
<path d="M649.11 464.31A74.7 74.7 0 0 1 647.18 471.66L636.60 468.29A63.6 63.6 0 0 0 638.25 462.04Z" fill="#faa07e"/>
<path d="M638.25 462.04A63.6 63.6 0 0 1 636.60 468.29L626.03 464.93A52.5 52.5 0 0 0 627.39 459.76Z" fill="#d4ebf7"/>
<path d="M647.24 471.48A74.7 74.7 0 0 1 644.59 478.60L634.39 474.20A63.6 63.6 0 0 0 636.65 468.14Z" fill="#faa585"/>
<path d="M636.65 468.14A63.6 63.6 0 0 1 634.39 474.20L624.20 469.80A52.5 52.5 0 0 0 626.07 464.80Z" fill="#d9edf8"/>
<path d="M644.66 478.42A74.7 74.7 0 0 1 641.32 485.24L631.61 479.86A63.6 63.6 0 0 0 634.46 474.05Z" fill="#fbab8b"/>
<path d="M634.46 474.05A63.6 63.6 0 0 1 631.61 479.86L621.91 474.47A52.5 52.5 0 0 0 624.26 469.68Z" fill="#deeff8"/>
<path d="M641.41 485.07A74.7 74.7 0 0 1 637.41 491.53L628.28 485.21A63.6 63.6 0 0 0 631.69 479.71Z" fill="#fbb092"/>
<path d="M631.69 479.71A63.6 63.6 0 0 1 628.28 485.21L619.16 478.89A52.5 52.5 0 0 0 621.97 474.35Z" fill="#ebf4f6"/>
<path d="M637.52 491.37A74.7 74.7 0 0 1 632.89 497.41L624.44 490.21A63.6 63.6 0 0 0 628.38 485.08Z" fill="#fbb99b"/>
<path d="M628.38 485.08A63.6 63.6 0 0 1 624.44 490.21L615.99 483.02A52.5 52.5 0 0 0 619.24 478.78Z" fill="#eef5f5"/>
<path d="M633.02 497.26A74.7 74.7 0 0 1 627.82 502.80L620.12 494.81A63.6 63.6 0 0 0 624.55 490.09Z" fill="#fcc1a5"/>
<path d="M624.55 490.09A63.6 63.6 0 0 1 620.12 494.81L612.42 486.81A52.5 52.5 0 0 0 616.07 482.92Z" fill="#f2f6f4"/>
<path d="M627.96 502.67A74.7 74.7 0 0 1 622.24 507.67L615.37 498.95A63.6 63.6 0 0 0 620.24 494.69Z" fill="#fccaaf"/>
<path d="M620.24 494.69A63.6 63.6 0 0 1 615.37 498.95L608.50 490.23A52.5 52.5 0 0 0 612.52 486.72Z" fill="#f5f8f3"/>
<path d="M622.39 507.55A74.7 74.7 0 0 1 616.20 511.96L610.23 502.60A63.6 63.6 0 0 0 615.50 498.85Z" fill="#fdd2ba"/>
<path d="M615.50 498.85A63.6 63.6 0 0 1 610.23 502.60L604.25 493.25A52.5 52.5 0 0 0 608.61 490.15Z" fill="#f8f8f2"/>
<path d="M616.37 511.85A74.7 74.7 0 0 1 609.77 515.63L604.75 505.73A63.6 63.6 0 0 0 610.37 502.51Z" fill="#fddac5"/>
<path d="M610.37 502.51A63.6 63.6 0 0 1 604.75 505.73L599.73 495.83A52.5 52.5 0 0 0 604.37 493.17Z" fill="#fbfaf1"/>
<path d="M609.95 515.54A74.7 74.7 0 0 1 603.01 518.65L598.99 508.30A63.6 63.6 0 0 0 604.90 505.65Z" fill="#fee2d0"/>
<path d="M604.90 505.65A63.6 63.6 0 0 1 598.99 508.30L594.98 497.95A52.5 52.5 0 0 0 599.86 495.77Z" fill="#fefaf0"/>
<path d="M603.19 518.58A74.7 74.7 0 0 1 595.98 520.98L593.01 510.28A63.6 63.6 0 0 0 599.15 508.24Z" fill="#fee8d7"/>
<path d="M599.15 508.24A63.6 63.6 0 0 1 593.01 510.28L590.04 499.59A52.5 52.5 0 0 0 595.11 497.90Z" fill="#fff6e9"/>
<path d="M596.17 520.93A74.7 74.7 0 0 1 588.75 522.60L586.86 511.67A63.6 63.6 0 0 0 593.17 510.24Z" fill="#feeada"/>
<path d="M593.17 510.24A63.6 63.6 0 0 1 586.86 511.67L584.96 500.73A52.5 52.5 0 0 0 590.17 499.55Z" fill="#fffbf0"/>
<path d="M588.94 522.57A74.7 74.7 0 0 1 581.40 523.50L580.60 512.43A63.6 63.6 0 0 0 587.02 511.64Z" fill="#fef0e2"/>
<path d="M587.02 511.64A63.6 63.6 0 0 1 580.60 512.43L579.80 501.36A52.5 52.5 0 0 0 585.10 500.71Z" fill="#fff3e5"/>
<path d="M581.60 523.49A74.7 74.7 0 0 1 574.00 523.67L574.29 512.58A63.6 63.6 0 0 0 580.76 512.42Z" fill="#fff3e5"/>
<path d="M580.76 512.42A63.6 63.6 0 0 1 574.29 512.58L574.59 501.48A52.5 52.5 0 0 0 579.93 501.35Z" fill="#fff6e9"/>
<path d="M574.19 523.68A74.7 74.7 0 0 1 566.61 523.11L568.01 512.10A63.6 63.6 0 0 0 574.46 512.58Z" fill="#fff6e9"/>
<path d="M574.46 512.58A63.6 63.6 0 0 1 568.01 512.10L569.40 501.08A52.5 52.5 0 0 0 574.73 501.48Z" fill="#fef0e2"/>
<path d="M566.81 523.13A74.7 74.7 0 0 1 559.32 521.81L561.80 510.99A63.6 63.6 0 0 0 568.17 512.12Z" fill="#fff6e9"/>
<path d="M568.17 512.12A63.6 63.6 0 0 1 561.80 510.99L564.28 500.17A52.5 52.5 0 0 0 569.54 501.10Z" fill="#fff6e9"/>
<path d="M559.51 521.86A74.7 74.7 0 0 1 552.19 519.80L555.73 509.28A63.6 63.6 0 0 0 561.96 511.03Z" fill="#f9f9f2"/>
<path d="M561.96 511.03A63.6 63.6 0 0 1 555.73 509.28L559.27 498.76A52.5 52.5 0 0 0 564.41 500.21Z" fill="#fffbf0"/>
<path d="M552.38 519.87A74.7 74.7 0 0 1 545.30 517.10L549.86 506.98A63.6 63.6 0 0 0 555.89 509.34Z" fill="#f9f9f2"/>
<path d="M555.89 509.34A63.6 63.6 0 0 1 549.86 506.98L554.42 496.86A52.5 52.5 0 0 0 559.40 498.81Z" fill="#fef0e2"/>
<path d="M545.48 517.18A74.7 74.7 0 0 1 538.71 513.72L544.25 504.11A63.6 63.6 0 0 0 550.01 507.05Z" fill="#f8f8f2"/>
<path d="M550.01 507.05A63.6 63.6 0 0 1 544.25 504.11L549.79 494.49A52.5 52.5 0 0 0 554.55 496.92Z" fill="#fff6e9"/>
<path d="M538.88 513.82A74.7 74.7 0 0 1 532.48 509.71L538.95 500.69A63.6 63.6 0 0 0 544.39 504.19Z" fill="#f7f8f2"/>
<path d="M544.39 504.19A63.6 63.6 0 0 1 538.95 500.69L545.41 491.67A52.5 52.5 0 0 0 549.91 494.56Z" fill="#fffbf0"/>
<path d="M532.64 509.83A74.7 74.7 0 0 1 526.68 505.11L534.01 496.77A63.6 63.6 0 0 0 539.08 500.79Z" fill="#f7f8f3"/>
<path d="M539.08 500.79A63.6 63.6 0 0 1 534.01 496.77L541.34 488.43A52.5 52.5 0 0 0 545.53 491.75Z" fill="#fff6e9"/>
<path d="M526.83 505.23A74.7 74.7 0 0 1 521.37 499.95L529.49 492.38A63.6 63.6 0 0 0 534.14 496.88Z" fill="#f6f8f3"/>
<path d="M534.14 496.88A63.6 63.6 0 0 1 529.49 492.38L537.61 484.81A52.5 52.5 0 0 0 541.44 488.52Z" fill="#fef0e2"/>
<path d="M521.50 500.09A74.7 74.7 0 0 1 516.59 494.29L525.42 487.56A63.6 63.6 0 0 0 529.60 492.50Z" fill="#f5f8f3"/>
<path d="M529.60 492.50A63.6 63.6 0 0 1 525.42 487.56L534.25 480.83A52.5 52.5 0 0 0 537.70 484.91Z" fill="#fffbf0"/>
<path d="M516.71 494.44A74.7 74.7 0 0 1 512.40 488.18L521.85 482.36A63.6 63.6 0 0 0 525.52 487.69Z" fill="#f5f7f3"/>
<path d="M525.52 487.69A63.6 63.6 0 0 1 521.85 482.36L531.30 476.54A52.5 52.5 0 0 0 534.33 480.94Z" fill="#fff6e9"/>
<path d="M512.50 488.35A74.7 74.7 0 0 1 508.83 481.69L518.81 476.83A63.6 63.6 0 0 0 521.94 482.50Z" fill="#f4f7f3"/>
<path d="M521.94 482.50A63.6 63.6 0 0 1 518.81 476.83L528.79 471.98A52.5 52.5 0 0 0 531.37 476.65Z" fill="#fef0e2"/>
<path d="M508.92 481.87A74.7 74.7 0 0 1 505.93 474.88L516.34 471.03A63.6 63.6 0 0 0 518.89 476.98Z" fill="#f3f7f4"/>
<path d="M518.89 476.98A63.6 63.6 0 0 1 516.34 471.03L526.75 467.19A52.5 52.5 0 0 0 528.85 472.10Z" fill="#fffbf0"/>
<path d="M505.99 475.06A74.7 74.7 0 0 1 503.71 467.81L514.45 465.02A63.6 63.6 0 0 0 516.40 471.19Z" fill="#f3f7f4"/>
<path d="M516.40 471.19A63.6 63.6 0 0 1 514.45 465.02L525.19 462.22A52.5 52.5 0 0 0 526.80 467.32Z" fill="#fff6e9"/>
<path d="M503.76 468.00A74.7 74.7 0 0 1 502.20 460.56L513.17 458.85A63.6 63.6 0 0 0 514.49 465.18Z" fill="#f2f6f4"/>
<path d="M514.49 465.18A63.6 63.6 0 0 1 513.17 458.85L524.13 457.13A52.5 52.5 0 0 0 525.23 462.36Z" fill="#fef0e2"/>
<path d="M502.23 460.76A74.7 74.7 0 0 1 501.42 453.20L512.50 452.58A63.6 63.6 0 0 0 513.19 459.01Z" fill="#f1f6f4"/>
<path d="M513.19 459.01A63.6 63.6 0 0 1 512.50 452.58L523.58 451.95A52.5 52.5 0 0 0 524.15 457.26Z" fill="#feeada"/>
<path d="M501.43 453.39A74.7 74.7 0 0 1 501.37 445.79L512.46 446.27A63.6 63.6 0 0 0 512.51 452.74Z" fill="#f0f6f4"/>
<path d="M512.51 452.74A63.6 63.6 0 0 1 512.46 446.27L523.55 446.75A52.5 52.5 0 0 0 523.59 452.09Z" fill="#fef0e2"/>
<path d="M501.36 445.99A74.7 74.7 0 0 1 502.05 438.42L513.04 439.99A63.6 63.6 0 0 0 512.45 446.44Z" fill="#e5f2f8"/>
<path d="M512.45 446.44A63.6 63.6 0 0 1 513.04 439.99L524.03 441.56A52.5 52.5 0 0 0 523.54 446.88Z" fill="#fff6e9"/>
<path d="M502.03 438.61A74.7 74.7 0 0 1 503.46 431.15L514.24 433.80A63.6 63.6 0 0 0 513.02 440.16Z" fill="#e4f2f8"/>
<path d="M513.02 440.16A63.6 63.6 0 0 1 514.24 433.80L525.02 436.45A52.5 52.5 0 0 0 524.01 441.70Z" fill="#fff6e9"/>
<path d="M503.42 431.34A74.7 74.7 0 0 1 505.59 424.05L516.05 427.76A63.6 63.6 0 0 0 514.20 433.96Z" fill="#e3f1f9"/>
<path d="M514.20 433.96A63.6 63.6 0 0 1 516.05 427.76L526.51 431.47A52.5 52.5 0 0 0 524.99 436.59Z" fill="#fee0cc"/>
<path d="M505.52 424.24A74.7 74.7 0 0 1 508.40 417.20L518.45 421.93A63.6 63.6 0 0 0 516.00 427.92Z" fill="#e1f1f9"/>
<path d="M516.00 427.92A63.6 63.6 0 0 1 518.45 421.93L528.49 426.65A52.5 52.5 0 0 0 526.47 431.60Z" fill="#fff6e9"/>
<path d="M508.32 417.38A74.7 74.7 0 0 1 511.89 410.67L521.41 416.36A63.6 63.6 0 0 0 518.38 422.08Z" fill="#dff0f9"/>
<path d="M518.38 422.08A63.6 63.6 0 0 1 521.41 416.36L530.94 422.06A52.5 52.5 0 0 0 528.43 426.78Z" fill="#fffbf0"/>
<path d="M511.79 410.84A74.7 74.7 0 0 1 516.00 404.51L524.91 411.12A63.6 63.6 0 0 0 521.33 416.51Z" fill="#ddeff8"/>
<path d="M521.33 416.51A63.6 63.6 0 0 1 524.91 411.12L533.83 417.73A52.5 52.5 0 0 0 530.87 422.18Z" fill="#fff8ec"/>
<path d="M515.88 404.66A74.7 74.7 0 0 1 520.70 398.78L528.91 406.25A63.6 63.6 0 0 0 524.81 411.25Z" fill="#dbeef8"/>
<path d="M524.81 411.25A63.6 63.6 0 0 1 528.91 406.25L537.13 413.71A52.5 52.5 0 0 0 533.75 417.84Z" fill="#fff6e9"/>
<path d="M520.57 398.93A74.7 74.7 0 0 1 525.94 393.55L533.38 401.79A63.6 63.6 0 0 0 528.80 406.37Z" fill="#d9edf8"/>
<path d="M528.80 406.37A63.6 63.6 0 0 1 533.38 401.79L540.82 410.03A52.5 52.5 0 0 0 537.04 413.81Z" fill="#feeada"/>
<path d="M525.80 393.69A74.7 74.7 0 0 1 531.68 388.87L538.26 397.81A63.6 63.6 0 0 0 533.26 401.91Z" fill="#d8ecf8"/>
<path d="M533.26 401.91A63.6 63.6 0 0 1 538.26 397.81L544.85 406.74A52.5 52.5 0 0 0 540.72 410.12Z" fill="#fee0cc"/>
<path d="M531.52 388.99A74.7 74.7 0 0 1 537.85 384.78L543.52 394.32A63.6 63.6 0 0 0 538.13 397.90Z" fill="#d6ebf7"/>
<path d="M538.13 397.90A63.6 63.6 0 0 1 543.52 394.32L549.19 403.86A52.5 52.5 0 0 0 544.74 406.82Z" fill="#fef0e2"/>
<path d="M537.68 384.88A74.7 74.7 0 0 1 544.40 381.31L549.09 391.37A63.6 63.6 0 0 0 543.37 394.41Z" fill="#d4eaf7"/>
<path d="M543.37 394.41A63.6 63.6 0 0 1 549.09 391.37L553.79 401.43A52.5 52.5 0 0 0 549.07 403.93Z" fill="#fddac5"/>
<path d="M544.22 381.40A74.7 74.7 0 0 1 551.25 378.52L554.93 388.99A63.6 63.6 0 0 0 548.94 391.44Z" fill="#d2eaf7"/>
<path d="M548.94 391.44A63.6 63.6 0 0 1 554.93 388.99L558.61 399.46A52.5 52.5 0 0 0 553.66 401.49Z" fill="#fdd4be"/>
<path d="M551.07 378.58A74.7 74.7 0 0 1 558.35 376.41L560.98 387.20A63.6 63.6 0 0 0 554.77 389.05Z" fill="#d0e9f7"/>
<path d="M554.77 389.05A63.6 63.6 0 0 1 560.98 387.20L563.60 397.99A52.5 52.5 0 0 0 558.48 399.51Z" fill="#fdd4be"/>
<path d="M558.16 376.46A74.7 74.7 0 0 1 565.63 375.02L567.17 386.02A63.6 63.6 0 0 0 560.81 387.24Z" fill="#cee8f6"/>
<path d="M560.81 387.24A63.6 63.6 0 0 1 567.17 386.02L568.71 397.01A52.5 52.5 0 0 0 563.46 398.02Z" fill="#fdcfb6"/>
<path d="M565.43 375.05A74.7 74.7 0 0 1 573.00 374.36L573.45 385.45A63.6 63.6 0 0 0 567.00 386.04Z" fill="#cce7f6"/>
<path d="M567.00 386.04A63.6 63.6 0 0 1 573.45 385.45L573.89 396.54A52.5 52.5 0 0 0 568.57 397.03Z" fill="#fdd4be"/>
<path d="M572.81 374.37A74.7 74.7 0 0 1 580.41 374.43L579.75 385.51A63.6 63.6 0 0 0 573.28 385.46Z" fill="#cbe6f6"/>
<path d="M573.28 385.46A63.6 63.6 0 0 1 579.75 385.51L579.10 396.59A52.5 52.5 0 0 0 573.76 396.55Z" fill="#fccaaf"/>
<path d="M580.21 374.42A74.7 74.7 0 0 1 587.77 375.23L586.02 386.19A63.6 63.6 0 0 0 579.59 385.50Z" fill="#c9e5f6"/>
<path d="M579.59 385.50A63.6 63.6 0 0 1 586.02 386.19L584.27 397.16A52.5 52.5 0 0 0 578.96 396.58Z" fill="#fcc4a8"/>
<path d="M587.58 375.20A74.7 74.7 0 0 1 595.02 376.76L592.19 387.50A63.6 63.6 0 0 0 585.86 386.17Z" fill="#c7e4f5"/>
<path d="M585.86 386.17A63.6 63.6 0 0 1 592.19 387.50L589.37 398.23A52.5 52.5 0 0 0 584.14 397.13Z" fill="#fbae8e"/>
<path d="M613.12 411.88A52.5 52.5 0 1 1 589.23 398.20" fill="none" stroke="#f2c46d" stroke-width="0.7"/>
<path d="M628.82 396.18A74.7 74.7 0 1 1 594.83 376.71" fill="none" stroke="#f2c46d" stroke-width="0.7"/>
<line x1="613.1" y1="411.9" x2="628.8" y2="396.2" stroke="#f2c46d" stroke-width="0.6" />
<line x1="589.2" y1="398.2" x2="594.8" y2="376.7" stroke="#f2c46d" stroke-width="0.6" />
<g font-size="6.2">
<text transform="translate(633.08,397.32) rotate(-42.16)" dy="2.2" fill="#c8102e" stroke="#c8102e" stroke-width="0.18">PON1</text>
<text transform="translate(637.92,403.22) rotate(-36.48)" dy="2.2" fill="#c8102e" stroke="#c8102e" stroke-width="0.18">GPX2</text>
<text transform="translate(642.14,409.58) rotate(-30.79)" dy="2.2" fill="#c8102e" stroke="#c8102e" stroke-width="0.18">CYP2C8</text>
<text transform="translate(645.72,416.32) rotate(-25.11)" dy="2.2" fill="#c8102e" stroke="#c8102e" stroke-width="0.18">PTGDS</text>
<text transform="translate(648.62,423.39) rotate(-19.43)" dy="2.2" fill="#c8102e" stroke="#c8102e" stroke-width="0.18">PTGR1</text>
<text transform="translate(650.79,430.70) rotate(-13.74)" dy="2.2" fill="#c8102e" stroke="#c8102e" stroke-width="0.18">CYP4F11</text>
<text transform="translate(652.24,438.20) rotate(-8.06)" dy="2.2" fill="#c8102e" stroke="#c8102e" stroke-width="0.18">PON3</text>
<text transform="translate(652.93,445.80) rotate(-2.38)" dy="2.2" fill="#c8102e" stroke="#c8102e" stroke-width="0.18">CYP1B1</text>
<text transform="translate(652.87,453.44) rotate(-356.70)" dy="2.2" fill="#c8102e" stroke="#c8102e" stroke-width="0.18">CYP4F3</text>
<text transform="translate(652.05,461.03) rotate(-351.01)" dy="2.2" fill="#c8102e" stroke="#c8102e" stroke-width="0.18">CYP4A11</text>
<text transform="translate(650.49,468.50) rotate(-345.33)" dy="2.2" fill="#c8102e" stroke="#c8102e" stroke-width="0.18">CYP2C19</text>
<text transform="translate(648.19,475.78) rotate(-339.65)" dy="2.2" fill="#c8102e" stroke="#c8102e" stroke-width="0.18">CYP1A1</text>
<text transform="translate(645.19,482.80) rotate(-333.97)" dy="2.2" fill="#c8102e" stroke="#c8102e" stroke-width="0.18">CYP8B1</text>
<text transform="translate(641.50,489.48) rotate(-328.28)" dy="2.2" fill="#c8102e" stroke="#c8102e" stroke-width="0.18">ABCC1</text>
<text transform="translate(637.17,495.77) rotate(-322.60)" dy="2.2" fill="#c8102e" stroke="#c8102e" stroke-width="0.18">CYP4F2</text>
<text transform="translate(632.24,501.60) rotate(-316.92)" dy="2.2" fill="#c8102e" stroke="#c8102e" stroke-width="0.18">CBR1</text>
<text transform="translate(626.75,506.91) rotate(-311.23)" dy="2.2" fill="#c8102e" stroke="#c8102e" stroke-width="0.18">CYP4A22</text>
<text transform="translate(620.77,511.65) rotate(-305.55)" dy="2.2" fill="#c8102e" stroke="#c8102e" stroke-width="0.18">GGT5</text>
<text transform="translate(614.35,515.77) rotate(-299.87)" dy="2.2" fill="#c8102e" stroke="#c8102e" stroke-width="0.18">CYP2C9</text>
<text transform="translate(607.55,519.24) rotate(-294.19)" dy="2.2" fill="#8a8a8a" stroke="#8a8a8a" stroke-width="0.18">PTGIR2</text>
<text transform="translate(600.44,522.02) rotate(-288.50)" dy="2.2" fill="#8a8a8a" stroke="#8a8a8a" stroke-width="0.18">PTGES</text>
<text transform="translate(593.09,524.08) rotate(-282.82)" dy="2.2" fill="#8a8a8a" stroke="#8a8a8a" stroke-width="0.18">CYP4F8</text>
<text transform="translate(585.57,525.40) rotate(-277.14)" dy="2.2" fill="#8a8a8a" stroke="#8a8a8a" stroke-width="0.18">AWAT1</text>
<text transform="translate(577.96,525.98) rotate(-271.46)" dy="2.2" fill="#c8102e" stroke="#c8102e" stroke-width="0.18">CYP1A2</text>
<text transform="translate(570.32,525.79) rotate(-85.77)" text-anchor="end" dy="2.2" fill="#8a8a8a" stroke="#8a8a8a" stroke-width="0.18">GGT1</text>
<text transform="translate(562.75,524.85) rotate(-80.09)" text-anchor="end" dy="2.2" fill="#8a8a8a" stroke="#8a8a8a" stroke-width="0.18">ALOX15</text>
<text transform="translate(555.30,523.17) rotate(-74.41)" text-anchor="end" dy="2.2" fill="#1a6dc0" stroke="#1a6dc0" stroke-width="0.18">FAAH</text>
<text transform="translate(548.06,520.75) rotate(-68.72)" text-anchor="end" dy="2.2" fill="#8a8a8a" stroke="#8a8a8a" stroke-width="0.18">DPEP3</text>
<text transform="translate(541.09,517.63) rotate(-63.04)" text-anchor="end" dy="2.2" fill="#8a8a8a" stroke="#8a8a8a" stroke-width="0.18">ALOX12</text>
<text transform="translate(534.47,513.84) rotate(-57.36)" text-anchor="end" dy="2.2" fill="#8a8a8a" stroke="#8a8a8a" stroke-width="0.18">EPHX2</text>
<text transform="translate(528.25,509.41) rotate(-51.68)" text-anchor="end" dy="2.2" fill="#8a8a8a" stroke="#8a8a8a" stroke-width="0.18">DPEP1</text>
<text transform="translate(522.50,504.38) rotate(-45.99)" text-anchor="end" dy="2.2" fill="#8a8a8a" stroke="#8a8a8a" stroke-width="0.18">ALOX12B</text>
<text transform="translate(517.28,498.81) rotate(-40.31)" text-anchor="end" dy="2.2" fill="#8a8a8a" stroke="#8a8a8a" stroke-width="0.18">PLA2G4A</text>
<text transform="translate(512.64,492.75) rotate(-34.63)" text-anchor="end" dy="2.2" fill="#8a8a8a" stroke="#8a8a8a" stroke-width="0.18">CYP4B1</text>
<text transform="translate(508.62,486.27) rotate(-28.94)" text-anchor="end" dy="2.2" fill="#1a6dc0" stroke="#1a6dc0" stroke-width="0.18">CYP4F22</text>
<text transform="translate(505.26,479.41) rotate(-23.26)" text-anchor="end" dy="2.2" fill="#8a8a8a" stroke="#8a8a8a" stroke-width="0.18">PTGS2</text>
<text transform="translate(502.60,472.26) rotate(-17.58)" text-anchor="end" dy="2.2" fill="#8a8a8a" stroke="#8a8a8a" stroke-width="0.18">ALOXE3</text>
<text transform="translate(500.65,464.87) rotate(-11.90)" text-anchor="end" dy="2.2" fill="#8a8a8a" stroke="#8a8a8a" stroke-width="0.18">FAAH2</text>
<text transform="translate(499.45,457.33) rotate(-6.21)" text-anchor="end" dy="2.2" fill="#8a8a8a" stroke="#8a8a8a" stroke-width="0.18">ALOX15B</text>
<text transform="translate(499.00,449.71) rotate(-0.53)" text-anchor="end" dy="2.2" fill="#8a8a8a" stroke="#8a8a8a" stroke-width="0.18">CYP2J2</text>
<text transform="translate(499.31,442.09) rotate(5.15)" text-anchor="end" dy="2.2" fill="#1a6dc0" stroke="#1a6dc0" stroke-width="0.18">MAPKAPK2</text>
<text transform="translate(500.37,434.53) rotate(10.83)" text-anchor="end" dy="2.2" fill="#1a6dc0" stroke="#1a6dc0" stroke-width="0.18">PTGIS</text>
<text transform="translate(502.18,427.11) rotate(16.52)" text-anchor="end" dy="2.2" fill="#1a6dc0" stroke="#1a6dc0" stroke-width="0.18">CYP2U1</text>
<text transform="translate(504.71,419.91) rotate(22.20)" text-anchor="end" dy="2.2" fill="#1a6dc0" stroke="#1a6dc0" stroke-width="0.18">PTGES3</text>
<text transform="translate(507.94,412.99) rotate(27.88)" text-anchor="end" dy="2.2" fill="#1a6dc0" stroke="#1a6dc0" stroke-width="0.18">DPEP2</text>
<text transform="translate(511.84,406.43) rotate(33.57)" text-anchor="end" dy="2.2" fill="#1a6dc0" stroke="#1a6dc0" stroke-width="0.18">HPGDS</text>
<text transform="translate(516.37,400.28) rotate(39.25)" text-anchor="end" dy="2.2" fill="#1a6dc0" stroke="#1a6dc0" stroke-width="0.18">PTGS1</text>
<text transform="translate(521.49,394.62) rotate(44.93)" text-anchor="end" dy="2.2" fill="#1a6dc0" stroke="#1a6dc0" stroke-width="0.18">TBXAS1</text>
<text transform="translate(527.14,389.49) rotate(50.61)" text-anchor="end" dy="2.2" fill="#1a6dc0" stroke="#1a6dc0" stroke-width="0.18">ALOX5</text>
<text transform="translate(533.27,384.94) rotate(56.30)" text-anchor="end" dy="2.2" fill="#1a6dc0" stroke="#1a6dc0" stroke-width="0.18">GPX4</text>
<text transform="translate(539.83,381.03) rotate(61.98)" text-anchor="end" dy="2.2" fill="#1a6dc0" stroke="#1a6dc0" stroke-width="0.18">LTA4H</text>
<text transform="translate(546.73,377.78) rotate(67.66)" text-anchor="end" dy="2.2" fill="#1a6dc0" stroke="#1a6dc0" stroke-width="0.18">ALOX5AP</text>
<text transform="translate(553.93,375.23) rotate(73.34)" text-anchor="end" dy="2.2" fill="#1a6dc0" stroke="#1a6dc0" stroke-width="0.18">AKR1C3</text>
<text transform="translate(561.34,373.41) rotate(79.03)" text-anchor="end" dy="2.2" fill="#1a6dc0" stroke="#1a6dc0" stroke-width="0.18">PON2</text>
<text transform="translate(568.90,372.33) rotate(84.71)" text-anchor="end" dy="2.2" fill="#1a6dc0" stroke="#1a6dc0" stroke-width="0.18">LTC4S</text>
<text transform="translate(576.53,372.00) rotate(-89.61)" dy="2.2" fill="#1a6dc0" stroke="#1a6dc0" stroke-width="0.18">PRXL2B</text>
<text transform="translate(584.15,372.43) rotate(-83.92)" dy="2.2" fill="#1a6dc0" stroke="#1a6dc0" stroke-width="0.18">PTGES2</text>
<text transform="translate(591.69,373.62) rotate(-78.24)" dy="2.2" fill="#1a6dc0" stroke="#1a6dc0" stroke-width="0.18">HPGD</text>
</g>
<text transform="translate(575.9,434.8) scale(1,1.08)" font-size="7.8" text-anchor="middle" >AFP<tspan font-size="4.8" dy="-3.0">-</tspan><tspan dy="3.0"> </tspan>HCC vs. AFP<tspan font-size="4.8" dy="-3.0">+</tspan><tspan dy="3.0"> </tspan>HCC</text>
<text transform="translate(581.0,445.0) scale(1,1.08)" font-size="6.6" text-anchor="middle" >Expression</text>
<defs><linearGradient id="gg" x1="0" y1="0" x2="0" y2="1"><stop offset="0" stop-color="#ff0000"/><stop offset="0.25" stop-color="#f98c68"/><stop offset="0.375" stop-color="#fcc4a8"/><stop offset="0.5" stop-color="#fffbf0"/><stop offset="0.625" stop-color="#e2f1f9"/><stop offset="0.75" stop-color="#b5dcf3"/><stop offset="1" stop-color="#4fb9ee"/></linearGradient></defs>
<rect x="566.1" y="447.8" width="7.5" height="36.7" fill="url(#gg)" />
<text transform="translate(575.9,452.2) scale(1,1.15)" font-size="6.4" font-weight="normal" stroke="#111" stroke-width="0.2" fill="#111" >0.4</text>
<text transform="translate(575.9,460.9) scale(1,1.15)" font-size="6.4" font-weight="normal" stroke="#111" stroke-width="0.2" fill="#111" >0.2</text>
<text transform="translate(575.9,469.0) scale(1,1.15)" font-size="6.4" font-weight="normal" stroke="#111" stroke-width="0.2" fill="#111" >0.0</text>
<text transform="translate(574.3,477.2) scale(1,1.15)" font-size="6.4" font-weight="normal" stroke="#111" stroke-width="0.2" fill="#111" >-0.2</text>
<text transform="translate(574.3,486.6) scale(1,1.15)" font-size="6.4" font-weight="normal" stroke="#111" stroke-width="0.2" fill="#111" >-0.4</text>
<circle cx="602.9" cy="361.8" r="2.8" fill="#c8102e" />
<text transform="translate(608.6,364.2) scale(1,1.08)" font-size="6.4" >Upregulated in AFP<tspan font-size="4.0" dy="-2.4">-</tspan><tspan dy="2.4"> </tspan>HCC</text>
<circle cx="602.9" cy="370.3" r="2.8" fill="#8c8c8c" />
<text transform="translate(608.6,372.7) scale(1,1.08)" font-size="6.4" >Not significant</text>
<circle cx="602.9" cy="378.7" r="2.8" fill="#1a6dc0" />
<text transform="translate(608.6,381.1) scale(1,1.08)" font-size="6.4" >Upregulated in AFP<tspan font-size="4.0" dy="-2.4">+</tspan><tspan dy="2.4"> </tspan>HCC</text>
<text x="0.8" y="559.9" font-size="16.5" >h</text>
<line x1="33.5" y1="589.0" x2="33.5" y2="704.5" stroke="#333" stroke-width="0.8" />
<line x1="33.5" y1="704.5" x2="113.7" y2="704.5" stroke="#333" stroke-width="0.8" />
<line x1="31.3" y1="699.9" x2="33.5" y2="699.9" stroke="#333" stroke-width="0.7" />
<text transform="translate(30.2,702.7) scale(1,1.15)" font-size="6.8" text-anchor="end" font-weight="normal" stroke="#333" stroke-width="0.2" fill="#333" >0</text>
<line x1="31.3" y1="669.6" x2="33.5" y2="669.6" stroke="#333" stroke-width="0.7" />
<text transform="translate(30.2,672.4) scale(1,1.15)" font-size="6.8" text-anchor="end" font-weight="normal" stroke="#333" stroke-width="0.2" fill="#333" >1</text>
<line x1="31.3" y1="639.3" x2="33.5" y2="639.3" stroke="#333" stroke-width="0.7" />
<text transform="translate(30.2,642.1) scale(1,1.15)" font-size="6.8" text-anchor="end" font-weight="normal" stroke="#333" stroke-width="0.2" fill="#333" >2</text>
<line x1="31.3" y1="609.0" x2="33.5" y2="609.0" stroke="#333" stroke-width="0.7" />
<text transform="translate(30.2,611.8) scale(1,1.15)" font-size="6.8" text-anchor="end" font-weight="normal" stroke="#333" stroke-width="0.2" fill="#333" >3</text>
<line x1="53.9" y1="704.5" x2="53.9" y2="706.7" stroke="#333" stroke-width="0.7" />
<line x1="88.2" y1="704.5" x2="88.2" y2="706.7" stroke="#333" stroke-width="0.7" />
<line x1="48.8" y1="591.7" x2="48.8" y2="645.2" stroke="#f08c7c" stroke-width="0.7" /><line x1="48.8" y1="686.3" x2="48.8" y2="699.1" stroke="#f08c7c" stroke-width="0.7" /><rect x="44.0" y="645.2" width="9.6" height="41.1" fill="none" stroke="#f08c7c" stroke-width="0.7" /><line x1="44.0" y1="659.7" x2="53.6" y2="659.7" stroke="#f08c7c" stroke-width="0.7" /><line x1="46.8" y1="591.7" x2="50.8" y2="591.7" stroke="#f08c7c" stroke-width="0.7" /><line x1="46.8" y1="699.1" x2="50.8" y2="699.1" stroke="#f08c7c" stroke-width="0.7" />
<line x1="59.0" y1="669.2" x2="59.0" y2="686.9" stroke="#a8307f" stroke-width="0.7" /><line x1="59.0" y1="699.1" x2="59.0" y2="699.8" stroke="#a8307f" stroke-width="0.7" /><rect x="54.4" y="686.9" width="9.2" height="12.2" fill="none" stroke="#a8307f" stroke-width="0.7" /><line x1="54.4" y1="697.2" x2="63.6" y2="697.2" stroke="#a8307f" stroke-width="0.7" /><line x1="57.0" y1="669.2" x2="61.0" y2="669.2" stroke="#a8307f" stroke-width="0.7" /><line x1="57.0" y1="699.8" x2="61.0" y2="699.8" stroke="#a8307f" stroke-width="0.7" />
<line x1="83.0" y1="681.4" x2="83.0" y2="691.0" stroke="#f08c7c" stroke-width="0.7" /><line x1="83.0" y1="695.6" x2="83.0" y2="699.0" stroke="#f08c7c" stroke-width="0.7" /><rect x="78.3" y="691.0" width="9.5" height="4.6" fill="none" stroke="#f08c7c" stroke-width="0.7" /><line x1="78.3" y1="693.0" x2="87.8" y2="693.0" stroke="#f08c7c" stroke-width="0.7" /><line x1="81.0" y1="681.4" x2="85.0" y2="681.4" stroke="#f08c7c" stroke-width="0.7" /><line x1="81.0" y1="699.0" x2="85.0" y2="699.0" stroke="#f08c7c" stroke-width="0.7" />
<line x1="93.4" y1="694.0" x2="93.4" y2="695.6" stroke="#a8307f" stroke-width="0.7" /><line x1="93.4" y1="698.6" x2="93.4" y2="699.5" stroke="#a8307f" stroke-width="0.7" /><rect x="88.9" y="695.6" width="9.0" height="3.0" fill="none" stroke="#a8307f" stroke-width="0.7" /><line x1="88.9" y1="697.0" x2="97.9" y2="697.0" stroke="#a8307f" stroke-width="0.7" /><line x1="91.4" y1="694.0" x2="95.4" y2="694.0" stroke="#a8307f" stroke-width="0.7" /><line x1="91.4" y1="699.5" x2="95.4" y2="699.5" stroke="#a8307f" stroke-width="0.7" />
<circle cx="47.2" cy="592.3" r="1.1" fill="#f08c7c" />
<circle cx="49.1" cy="640.8" r="1.1" fill="#f08c7c" />
<circle cx="48.0" cy="643.8" r="1.1" fill="#f08c7c" />
<circle cx="49.4" cy="645.4" r="1.1" fill="#f08c7c" />
<circle cx="49.6" cy="660.5" r="1.1" fill="#f08c7c" />
<circle cx="46.2" cy="672.6" r="1.1" fill="#f08c7c" />
<circle cx="45.9" cy="681.7" r="1.1" fill="#f08c7c" />
<circle cx="50.8" cy="687.8" r="1.1" fill="#f08c7c" />
<circle cx="47.4" cy="698.4" r="1.1" fill="#f08c7c" />
<circle cx="47.2" cy="699.0" r="1.1" fill="#f08c7c" />
<circle cx="51.8" cy="696.9" r="1.1" fill="#f08c7c" />
<circle cx="48.6" cy="666.6" r="1.1" fill="#f08c7c" />
<circle cx="61.0" cy="640.8" r="1.1" fill="#a8307f" />
<circle cx="58.9" cy="669.6" r="1.1" fill="#a8307f" />
<circle cx="59.8" cy="678.7" r="1.1" fill="#a8307f" />
<circle cx="56.9" cy="689.3" r="1.1" fill="#a8307f" />
<circle cx="59.8" cy="693.8" r="1.1" fill="#a8307f" />
<circle cx="61.2" cy="696.9" r="1.1" fill="#a8307f" />
<circle cx="59.1" cy="698.4" r="1.1" fill="#a8307f" />
<circle cx="60.4" cy="699.3" r="1.1" fill="#a8307f" />
<circle cx="60.0" cy="699.0" r="1.1" fill="#a8307f" />
<circle cx="56.4" cy="698.7" r="1.1" fill="#a8307f" />
<circle cx="60.5" cy="690.8" r="1.1" fill="#a8307f" />
<circle cx="83.5" cy="680.8" r="1.1" fill="#f08c7c" />
<circle cx="81.8" cy="689.3" r="1.1" fill="#f08c7c" />
<circle cx="80.2" cy="690.8" r="1.1" fill="#f08c7c" />
<circle cx="85.2" cy="692.3" r="1.1" fill="#f08c7c" />
<circle cx="82.8" cy="693.8" r="1.1" fill="#f08c7c" />
<circle cx="84.3" cy="694.4" r="1.1" fill="#f08c7c" />
<circle cx="85.3" cy="695.4" r="1.1" fill="#f08c7c" />
<circle cx="84.3" cy="693.2" r="1.1" fill="#f08c7c" />
<circle cx="85.5" cy="696.9" r="1.1" fill="#f08c7c" />
<circle cx="82.4" cy="691.4" r="1.1" fill="#f08c7c" />
<circle cx="95.2" cy="695.4" r="1.1" fill="#a8307f" />
<circle cx="93.1" cy="696.3" r="1.1" fill="#a8307f" />
<circle cx="96.0" cy="696.9" r="1.1" fill="#a8307f" />
<circle cx="95.7" cy="697.5" r="1.1" fill="#a8307f" />
<circle cx="91.0" cy="697.2" r="1.1" fill="#a8307f" />
<circle cx="91.2" cy="698.4" r="1.1" fill="#a8307f" />
<circle cx="91.7" cy="696.6" r="1.1" fill="#a8307f" />
<circle cx="96.2" cy="695.7" r="1.1" fill="#a8307f" />
<circle cx="93.0" cy="697.8" r="1.1" fill="#a8307f" />
<line x1="44.0" y1="585.5" x2="63.8" y2="585.5" stroke="#222" stroke-width="1.0" />
<text transform="translate(54.5,587.7) scale(1,1.08)" font-size="12.3" text-anchor="middle" >**</text>
<line x1="78.9" y1="672.0" x2="97.4" y2="672.0" stroke="#777" stroke-width="1.0" />
<text transform="translate(88.6,674.2) scale(1,1.08)" font-size="12.3" text-anchor="middle" >**</text>
<text transform="translate(22.8,652.2) rotate(-90) scale(1,1.08)" font-size="9.7" text-anchor="middle">Relative expression</text>
<text transform="translate(57.9,713.6) rotate(-45) scale(1,1.08)" font-size="7.8" text-anchor="end">CYP2C8</text>
<text transform="translate(92.2,713.6) rotate(-45) scale(1,1.08)" font-size="7.8" text-anchor="end">CYP1B1</text>
<rect x="107.6" y="604.7" width="6.0" height="5.2" fill="none" stroke="#f08c7c" stroke-width="0.7" />
<line x1="107.6" y1="607.3" x2="113.6" y2="607.3" stroke="#f08c7c" stroke-width="0.6" />
<line x1="110.6" y1="603.5" x2="110.6" y2="611.1" stroke="#f08c7c" stroke-width="0.6" />
<text transform="translate(116.3,610.1) scale(1,1.08)" font-size="7.6" >AFP<tspan font-size="4.7" dy="-2.9">-</tspan><tspan dy="2.9"> </tspan>HCC</text>
<rect x="107.6" y="613.1" width="6.0" height="5.2" fill="none" stroke="#a8307f" stroke-width="0.7" />
<line x1="107.6" y1="615.7" x2="113.6" y2="615.7" stroke="#a8307f" stroke-width="0.6" />
<line x1="110.6" y1="611.9" x2="110.6" y2="619.5" stroke="#a8307f" stroke-width="0.6" />
<text transform="translate(116.3,618.5) scale(1,1.08)" font-size="7.6" >AFP<tspan font-size="4.7" dy="-2.9">+</tspan><tspan dy="2.9"> </tspan>HCC</text>
<text x="170.8" y="559.9" font-size="16.5" >i</text>
<text transform="translate(268.8,568.1) scale(1,1.08)" font-size="8.8" text-anchor="middle" >Targeted lipidomics</text>
<rect x="193.4" y="573.1" width="150.9" height="131.3" fill="none" stroke="#333" stroke-width="0.9" />
<line x1="267.9" y1="573.1" x2="267.9" y2="704.4" stroke="#333" stroke-width="0.8" stroke-dasharray="2.4 2.2"/>
<line x1="193.4" y1="650.8" x2="344.3" y2="650.8" stroke="#333" stroke-width="0.8" stroke-dasharray="2.4 2.2"/>
<circle cx="199.8" cy="677.5" r="2.5" fill="#c8c8c8" />
<circle cx="223.2" cy="672.6" r="2.5" fill="#c8c8c8" />
<circle cx="236.1" cy="691.0" r="2.5" fill="#c8c8c8" />
<circle cx="236.1" cy="695.4" r="2.5" fill="#c8c8c8" />
<circle cx="245.7" cy="688.7" r="2.5" fill="#c8c8c8" />
<circle cx="247.3" cy="661.4" r="2.5" fill="#c8c8c8" />
<circle cx="248.9" cy="683.6" r="2.5" fill="#c8c8c8" />
<circle cx="255.3" cy="688.7" r="2.5" fill="#c8c8c8" />
<circle cx="259.2" cy="683.6" r="2.5" fill="#c8c8c8" />
<circle cx="260.8" cy="684.5" r="2.5" fill="#c8c8c8" />
<circle cx="264.0" cy="673.9" r="2.5" fill="#c8c8c8" />
<circle cx="264.7" cy="698.3" r="2.5" fill="#c8c8c8" />
<circle cx="274.3" cy="680.4" r="2.5" fill="#c8c8c8" />
<circle cx="281.0" cy="669.8" r="2.5" fill="#c8c8c8" />
<circle cx="283.3" cy="651.8" r="2.5" fill="#c8c8c8" />
<circle cx="288.1" cy="661.4" r="2.5" fill="#c8c8c8" />
<circle cx="295.5" cy="675.9" r="2.5" fill="#c8c8c8" />
<circle cx="307.4" cy="665.9" r="2.5" fill="#c8c8c8" />
<circle cx="309.0" cy="661.4" r="2.5" fill="#c8c8c8" />
<circle cx="296.1" cy="579.5" r="2.6" fill="#cc1420" />
<circle cx="288.1" cy="601.7" r="2.6" fill="#cc1420" />
<circle cx="289.4" cy="634.1" r="2.6" fill="#cc1420" />
<circle cx="267.9" cy="646.3" r="2.6" fill="#cc1420" />
<circle cx="337.6" cy="646.3" r="2.6" fill="#cc1420" />
<text transform="translate(300.0,582.3) scale(1,1.08)" font-size="7.8" fill="#cc1420" >ARA</text>
<text transform="translate(292.0,604.5) scale(1,1.08)" font-size="7.8" fill="#cc1420" >DTA</text>
<text transform="translate(293.0,631.0) scale(1,1.08)" font-size="7.8" text-anchor="middle" fill="#cc1420" >11,12-EET</text>
<text transform="translate(266.3,642.9) scale(1,1.08)" font-size="7.8" text-anchor="middle" fill="#cc1420" >5S-HETE</text>
<text transform="translate(320.2,645.5) scale(1,1.08)" font-size="7.8" text-anchor="middle" fill="#cc1420" >5,6-DiHETrE</text>
<circle cx="201.4" cy="582.1" r="2.6" fill="#cc1420" />
<circle cx="201.4" cy="591.7" r="2.6" fill="#c8c8c8" />
<text transform="translate(207.0,584.6) scale(1,1.08)" font-size="7.2" >Upregulated</text>
<text transform="translate(207.0,594.2) scale(1,1.08)" font-size="7.2" >Not significant</text>
<line x1="191.2" y1="699.0" x2="193.4" y2="699.0" stroke="#333" stroke-width="0.7" />
<text transform="translate(190.6,701.8) scale(1,1.15)" font-size="6.8" text-anchor="end" font-weight="normal" stroke="#333" stroke-width="0.2" fill="#333" >0</text>
<line x1="191.2" y1="662.1" x2="193.4" y2="662.1" stroke="#333" stroke-width="0.7" />
<text transform="translate(190.6,664.9) scale(1,1.15)" font-size="6.8" text-anchor="end" font-weight="normal" stroke="#333" stroke-width="0.2" fill="#333" >1</text>
<line x1="191.2" y1="625.2" x2="193.4" y2="625.2" stroke="#333" stroke-width="0.7" />
<text transform="translate(190.6,628.0) scale(1,1.15)" font-size="6.8" text-anchor="end" font-weight="normal" stroke="#333" stroke-width="0.2" fill="#333" >2</text>
<line x1="191.2" y1="588.3" x2="193.4" y2="588.3" stroke="#333" stroke-width="0.7" />
<text transform="translate(190.6,591.1) scale(1,1.15)" font-size="6.8" text-anchor="end" font-weight="normal" stroke="#333" stroke-width="0.2" fill="#333" >3</text>
<line x1="226.1" y1="704.4" x2="226.1" y2="706.6" stroke="#333" stroke-width="0.7" />
<text transform="translate(226.1,712.4) scale(1,1.15)" font-size="6.8" text-anchor="middle" font-weight="normal" stroke="#333" stroke-width="0.2" fill="#333" >0</text>
<line x1="267.2" y1="704.4" x2="267.2" y2="706.6" stroke="#333" stroke-width="0.7" />
<text transform="translate(267.2,712.4) scale(1,1.15)" font-size="6.8" text-anchor="middle" font-weight="normal" stroke="#333" stroke-width="0.2" fill="#333" >1</text>
<line x1="308.3" y1="704.4" x2="308.3" y2="706.6" stroke="#333" stroke-width="0.7" />
<text transform="translate(308.3,712.4) scale(1,1.15)" font-size="6.8" text-anchor="middle" font-weight="normal" stroke="#333" stroke-width="0.2" fill="#333" >2</text>
<text transform="translate(182.0,639.5) rotate(-90) scale(1,1.08)" font-size="9" text-anchor="middle">-Log<tspan font-size="5.0" dy="2.2">10</tspan><tspan dy="-2.2">(</tspan><tspan font-style="italic">p</tspan> value)</text>
<text transform="translate(268.8,723.0) scale(1,1.08)" font-size="8.8" text-anchor="middle" >Log<tspan font-size="4.8" dy="2.2">2</tspan><tspan dy="-2.2">FC(AFP</tspan><tspan font-size="5.5" dy="-3.3">-</tspan><tspan dy="3.3"> </tspan>HCC vs. AFP<tspan font-size="5.5" dy="-3.3">+</tspan><tspan dy="3.3"> </tspan>HCC)</text>
<text x="378.5" y="558.8" font-size="16.5" >j</text>
<line x1="417.6" y1="617.6" x2="417.6" y2="664.8" stroke="#333" stroke-width="0.8" />
<line x1="417.6" y1="664.8" x2="489.0" y2="664.8" stroke="#333" stroke-width="0.8" />
<line x1="415.4" y1="662.6" x2="417.6" y2="662.6" stroke="#333" stroke-width="0.7" />
<text transform="translate(415.0,665.4) scale(1,1.15)" font-size="6.8" text-anchor="end" font-weight="normal" stroke="#333" stroke-width="0.2" fill="#333" >0</text>
<line x1="415.4" y1="646.5" x2="417.6" y2="646.5" stroke="#333" stroke-width="0.7" />
<text transform="translate(415.0,649.3) scale(1,1.15)" font-size="6.8" text-anchor="end" font-weight="normal" stroke="#333" stroke-width="0.2" fill="#333" >10</text>
<line x1="415.4" y1="630.4" x2="417.6" y2="630.4" stroke="#333" stroke-width="0.7" />
<text transform="translate(415.0,633.2) scale(1,1.15)" font-size="6.8" text-anchor="end" font-weight="normal" stroke="#333" stroke-width="0.2" fill="#333" >20</text>
<line x1="426.0" y1="664.8" x2="426.0" y2="667.0" stroke="#333" stroke-width="0.7" />
<rect x="420.8" y="661.2" width="10.4" height="1.4" fill="#fff" stroke="#222" stroke-width="0.8" />
<ellipse cx="426.0" cy="661.2" rx="4.6" ry="2.4" fill="#e31a1c"/>
<line x1="439.5" y1="664.8" x2="439.5" y2="667.0" stroke="#333" stroke-width="0.7" />
<rect x="434.3" y="633.6" width="10.4" height="29.0" fill="#fff" stroke="#222" stroke-width="0.8" />
<ellipse cx="439.5" cy="633.6" rx="4.6" ry="2.4" fill="#f7a1a8"/>
<line x1="453.2" y1="664.8" x2="453.2" y2="667.0" stroke="#333" stroke-width="0.7" />
<rect x="448.1" y="620.7" width="10.4" height="41.9" fill="#fff" stroke="#222" stroke-width="0.8" />
<ellipse cx="453.2" cy="620.7" rx="4.6" ry="2.4" fill="#f5c065"/>
<line x1="467.4" y1="664.8" x2="467.4" y2="667.0" stroke="#333" stroke-width="0.7" />
<rect x="462.2" y="662.3" width="10.4" height="0.3" fill="#fff" stroke="#222" stroke-width="0.8" />
<ellipse cx="467.4" cy="662.3" rx="4.6" ry="2.4" fill="#1f6fb8"/>
<line x1="481.3" y1="664.8" x2="481.3" y2="667.0" stroke="#333" stroke-width="0.7" />
<rect x="476.1" y="662.3" width="10.4" height="0.3" fill="#fff" stroke="#222" stroke-width="0.8" />
<ellipse cx="481.3" cy="662.3" rx="4.6" ry="2.4" fill="#7fd0c6"/>
<line x1="425.5" y1="616.3" x2="467.2" y2="616.3" stroke="#999" stroke-width="1.0" />
<text transform="translate(446.7,619.7) scale(1,1.08)" font-size="15.5" text-anchor="middle" >***</text>
<line x1="425.5" y1="607.8" x2="480.8" y2="607.8" stroke="#999" stroke-width="1.0" />
<text transform="translate(452.7,611.2) scale(1,1.08)" font-size="15.5" text-anchor="middle" >***</text>
<line x1="439.4" y1="599.7" x2="467.2" y2="599.7" stroke="#999" stroke-width="1.0" />
<text transform="translate(452.7,603.1) scale(1,1.08)" font-size="15.5" text-anchor="middle" >***</text>
<line x1="439.4" y1="591.8" x2="480.8" y2="591.8" stroke="#999" stroke-width="1.0" />
<text transform="translate(459.8,595.2) scale(1,1.08)" font-size="15.5" text-anchor="middle" >***</text>
<line x1="452.7" y1="583.6" x2="467.2" y2="583.6" stroke="#999" stroke-width="1.0" />
<text transform="translate(459.8,587.0) scale(1,1.08)" font-size="15.5" text-anchor="middle" >***</text>
<line x1="452.7" y1="575.4" x2="480.8" y2="575.4" stroke="#999" stroke-width="1.0" />
<text transform="translate(467.2,578.8) scale(1,1.08)" font-size="15.5" text-anchor="middle" >***</text>
<text transform="translate(394.7,637.8) rotate(-90) scale(1,1.08)" font-size="8.0" text-anchor="middle">Relative</text>
<text transform="translate(403.3,637.8) rotate(-90) scale(1,1.08)" font-size="8.0" text-anchor="middle">expression of AFP</text>
<rect x="420.1" y="672.4" width="67.5" height="14.3" fill="#f3f3f3" stroke="#222" stroke-width="0.9" />
<rect x="420.1" y="689.2" width="67.5" height="14.3" fill="#f1f1f1" stroke="#222" stroke-width="0.9" />
<defs><filter id="blur1" x="-50%" y="-50%" width="200%" height="200%"><feGaussianBlur stdDeviation="0.8"/></filter></defs>
<rect x="421.8" y="677.9" width="9.0" height="3.2" rx="1.4" fill="#111" filter="url(#blur1)"/>
<rect x="433.9" y="677.9" width="10.4" height="3.2" rx="1.4" fill="#111" filter="url(#blur1)"/>
<rect x="448.6" y="677.9" width="9.4" height="3.2" rx="1.4" fill="#111" filter="url(#blur1)"/>
<rect x="462.0" y="677.9" width="9.4" height="3.2" rx="1.4" fill="#111" filter="url(#blur1)"/>
<rect x="475.8" y="677.9" width="9.0" height="3.2" rx="1.4" fill="#111" filter="url(#blur1)"/>
<rect x="422.0" y="694.4" width="8.6" height="2.8" rx="1.2" fill="#6a6a6a" filter="url(#blur1)"/>
<rect x="434.6" y="694.4" width="9.0" height="2.8" rx="1.2" fill="#5a5a5a" filter="url(#blur1)"/>
<rect x="448.9" y="692.6" width="11.0" height="9.0" rx="3" fill="#000" filter="url(#blur1)"/>
<text transform="translate(418.2,683.0) scale(1,1.08)" font-size="8.6" text-anchor="end" >β-actin</text>
<text transform="translate(412.8,699.8) scale(1,1.08)" font-size="8.6" text-anchor="end" >AFP</text>
<text transform="translate(489.8,682.6) scale(1,1.08)" font-size="7.0" >43 kDa</text>
<text transform="translate(489.8,699.6) scale(1,1.08)" font-size="7.0" >70 kDa</text>
<text transform="translate(431.2,708.4) rotate(-45) scale(1,1.08)" font-size="9" text-anchor="end">PLC5</text>
<circle cx="409.9" cy="725.4" r="2.4" fill="#e31a1c" />
<text transform="translate(444.7,708.4) rotate(-45) scale(1,1.08)" font-size="9" text-anchor="end">Hep3B</text>
<circle cx="420.0" cy="727.9" r="2.4" fill="#f7a1a8" />
<text transform="translate(458.4,708.4) rotate(-45) scale(1,1.08)" font-size="9" text-anchor="end">Huh7</text>
<circle cx="436.5" cy="725.4" r="2.4" fill="#f5c065" />
<text transform="translate(472.6,708.4) rotate(-45) scale(1,1.08)" font-size="9" text-anchor="end">MHCC97H</text>
<circle cx="436.5" cy="739.6" r="2.4" fill="#1f6fb8" />
<text transform="translate(486.5,708.4) rotate(-45) scale(1,1.08)" font-size="9" text-anchor="end">HCCLM3</text>
<circle cx="454.3" cy="734.5" r="2.4" fill="#7fd0c6" />
<text x="525.8" y="559.9" font-size="16.5" >k</text>
<line x1="570.8" y1="580.9" x2="570.8" y2="703.5" stroke="#222" stroke-width="0.8" />
<line x1="570.8" y1="703.5" x2="677.9" y2="703.5" stroke="#222" stroke-width="0.8" />
<line x1="568.6" y1="703.7" x2="570.8" y2="703.7" stroke="#222" stroke-width="0.7" />
<text transform="translate(568.2,706.5) scale(1,1.15)" font-size="6.8" text-anchor="end" font-weight="normal" stroke="#222" stroke-width="0.2" fill="#222" >0</text>
<line x1="568.6" y1="679.1" x2="570.8" y2="679.1" stroke="#222" stroke-width="0.7" />
<text transform="translate(568.2,681.9) scale(1,1.15)" font-size="6.8" text-anchor="end" font-weight="normal" stroke="#222" stroke-width="0.2" fill="#222" >2</text>
<line x1="568.6" y1="654.6" x2="570.8" y2="654.6" stroke="#222" stroke-width="0.7" />
<text transform="translate(568.2,657.4) scale(1,1.15)" font-size="6.8" text-anchor="end" font-weight="normal" stroke="#222" stroke-width="0.2" fill="#222" >4</text>
<line x1="568.6" y1="630.0" x2="570.8" y2="630.0" stroke="#222" stroke-width="0.7" />
<text transform="translate(568.2,632.8) scale(1,1.15)" font-size="6.8" text-anchor="end" font-weight="normal" stroke="#222" stroke-width="0.2" fill="#222" >6</text>
<line x1="568.6" y1="605.5" x2="570.8" y2="605.5" stroke="#222" stroke-width="0.7" />
<text transform="translate(568.2,608.3) scale(1,1.15)" font-size="6.8" text-anchor="end" font-weight="normal" stroke="#222" stroke-width="0.2" fill="#222" >8</text>
<line x1="568.6" y1="580.9" x2="570.8" y2="580.9" stroke="#222" stroke-width="0.7" />
<text transform="translate(568.2,583.7) scale(1,1.15)" font-size="6.8" text-anchor="end" font-weight="normal" stroke="#222" stroke-width="0.2" fill="#222" >10</text>
<line x1="581.8" y1="703.5" x2="581.8" y2="705.7" stroke="#222" stroke-width="0.7" />
<rect x="574.5" y="665.6" width="14.6" height="37.9" fill="#fff" stroke="#222" stroke-width="0.9" />
<line x1="581.8" y1="661.9" x2="581.8" y2="668.7" stroke="#222" stroke-width="0.8" />
<line x1="579.2" y1="661.9" x2="584.2" y2="661.9" stroke="#222" stroke-width="0.8" />
<line x1="579.2" y1="668.7" x2="584.2" y2="668.7" stroke="#222" stroke-width="0.8" />
<circle cx="579.0" cy="661.8" r="2.4" fill="#e31a1c" />
<circle cx="578.2" cy="666.7" r="2.4" fill="#e31a1c" />
<circle cx="585.0" cy="665.9" r="2.4" fill="#e31a1c" />
<text transform="translate(587.1,710.8) rotate(-45) scale(1,1.08)" font-size="9" text-anchor="end">PLC5</text>
<line x1="602.0" y1="703.5" x2="602.0" y2="705.7" stroke="#222" stroke-width="0.7" />
<rect x="594.8" y="667.2" width="14.6" height="36.3" fill="#fff" stroke="#222" stroke-width="0.9" />
<line x1="602.0" y1="660.7" x2="602.0" y2="673.0" stroke="#222" stroke-width="0.8" />
<line x1="599.5" y1="660.7" x2="604.5" y2="660.7" stroke="#222" stroke-width="0.8" />
<line x1="599.5" y1="673.0" x2="604.5" y2="673.0" stroke="#222" stroke-width="0.8" />
<circle cx="600.8" cy="661.2" r="2.4" fill="#f7a1a8" />
<circle cx="603.5" cy="665.9" r="2.4" fill="#f7a1a8" />
<circle cx="600.0" cy="672.1" r="2.4" fill="#f7a1a8" />
<text transform="translate(607.4,710.8) rotate(-45) scale(1,1.08)" font-size="9" text-anchor="end">Hep3B</text>
<line x1="622.2" y1="703.5" x2="622.2" y2="705.7" stroke="#222" stroke-width="0.7" />
<rect x="614.9" y="674.2" width="14.6" height="29.3" fill="#fff" stroke="#222" stroke-width="0.9" />
<line x1="622.2" y1="671.2" x2="622.2" y2="676.7" stroke="#222" stroke-width="0.8" />
<line x1="619.7" y1="671.2" x2="624.7" y2="671.2" stroke="#222" stroke-width="0.8" />
<line x1="619.7" y1="676.7" x2="624.7" y2="676.7" stroke="#222" stroke-width="0.8" />
<circle cx="619.3" cy="674.0" r="2.4" fill="#f5c065" />
<circle cx="622.6" cy="672.1" r="2.4" fill="#f5c065" />
<circle cx="625.3" cy="674.9" r="2.4" fill="#f5c065" />
<text transform="translate(627.6,710.8) rotate(-45) scale(1,1.08)" font-size="9" text-anchor="end">Huh7</text>
<line x1="642.4" y1="703.5" x2="642.4" y2="705.7" stroke="#222" stroke-width="0.7" />
<rect x="635.1" y="648.4" width="14.6" height="55.1" fill="#fff" stroke="#222" stroke-width="0.9" />
<line x1="642.4" y1="642.3" x2="642.4" y2="652.1" stroke="#222" stroke-width="0.8" />
<line x1="639.9" y1="642.3" x2="644.9" y2="642.3" stroke="#222" stroke-width="0.8" />
<line x1="639.9" y1="652.1" x2="644.9" y2="652.1" stroke="#222" stroke-width="0.8" />
<circle cx="639.8" cy="643.5" r="2.4" fill="#1f6fb8" />
<circle cx="645.2" cy="644.9" r="2.4" fill="#1f6fb8" />
<circle cx="642.2" cy="653.1" r="2.4" fill="#1f6fb8" />
<text transform="translate(647.8,710.8) rotate(-45) scale(1,1.08)" font-size="9" text-anchor="end">MHCC97H</text>
<line x1="662.5" y1="703.5" x2="662.5" y2="705.7" stroke="#222" stroke-width="0.7" />
<rect x="655.2" y="618.4" width="14.6" height="85.1" fill="#fff" stroke="#222" stroke-width="0.9" />
<line x1="662.5" y1="607.9" x2="662.5" y2="627.6" stroke="#222" stroke-width="0.8" />
<line x1="660.0" y1="607.9" x2="665.0" y2="607.9" stroke="#222" stroke-width="0.8" />
<line x1="660.0" y1="627.6" x2="665.0" y2="627.6" stroke="#222" stroke-width="0.8" />
<circle cx="662.1" cy="607.6" r="2.4" fill="#7fd0c6" />
<circle cx="659.4" cy="625.0" r="2.4" fill="#7fd0c6" />
<circle cx="665.4" cy="621.2" r="2.4" fill="#7fd0c6" />
<text transform="translate(667.9,710.8) rotate(-45) scale(1,1.08)" font-size="9" text-anchor="end">HCCLM3</text>
<line x1="582.0" y1="638.0" x2="642.6" y2="638.0" stroke="#222" stroke-width="1.0" />
<text transform="translate(612.4,641.4) scale(1,1.08)" font-size="15.5" text-anchor="middle" >*</text>
<line x1="602.3" y1="626.3" x2="642.6" y2="626.3" stroke="#222" stroke-width="1.0" />
<text transform="translate(622.7,629.7) scale(1,1.08)" font-size="15.5" text-anchor="middle" >*</text>
<line x1="620.7" y1="614.9" x2="640.7" y2="614.9" stroke="#aaa" stroke-width="1.0" />
<text transform="translate(631.2,618.3) scale(1,1.08)" font-size="15.5" text-anchor="middle" >**</text>
<line x1="582.0" y1="602.5" x2="662.6" y2="602.5" stroke="#222" stroke-width="1.0" />
<text transform="translate(623.8,605.9) scale(1,1.08)" font-size="15.5" text-anchor="middle" >***</text>
<line x1="602.3" y1="591.0" x2="662.6" y2="591.0" stroke="#aaa" stroke-width="1.0" />
<text transform="translate(633.0,594.4) scale(1,1.08)" font-size="15.5" text-anchor="middle" >***</text>
<line x1="622.2" y1="578.9" x2="662.6" y2="578.9" stroke="#aaa" stroke-width="1.0" />
<text transform="translate(643.1,582.3) scale(1,1.08)" font-size="15.5" text-anchor="middle" >***</text>
<text transform="translate(547.1,642.2) rotate(-90) scale(1,1.08)" font-size="10.6" text-anchor="middle">11,12−EET</text>
<text transform="translate(557.3,642.6) rotate(-90) scale(1,1.08)" font-size="10.2" text-anchor="middle">concentration (pg/mL)</text>
</svg>
</body></html>
